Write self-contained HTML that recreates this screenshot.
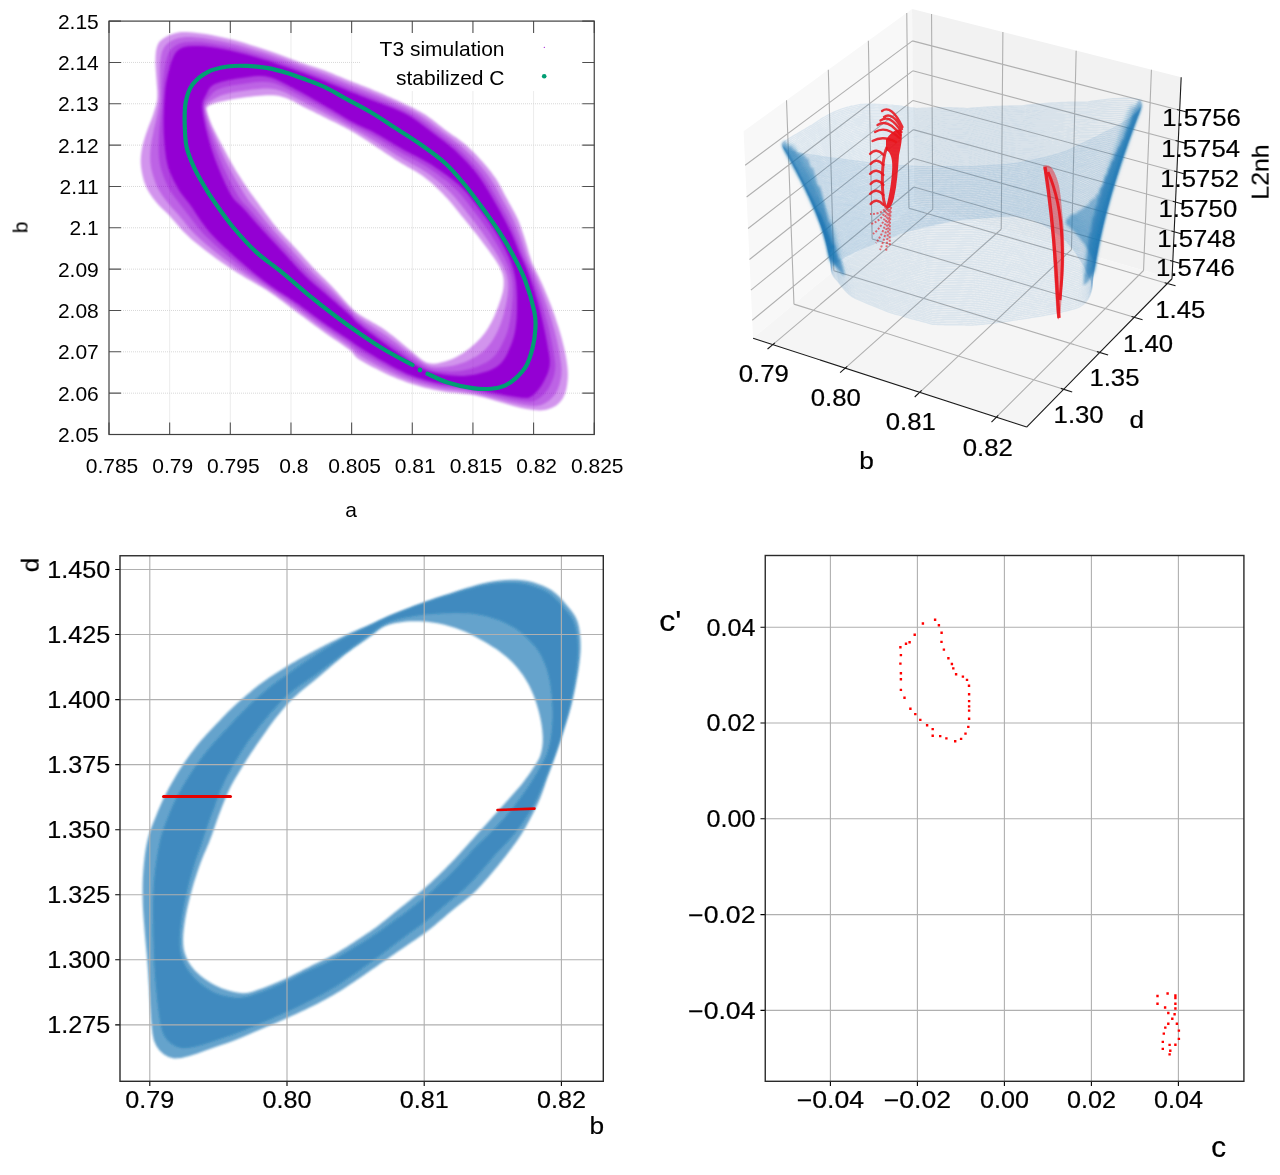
<!DOCTYPE html>
<html><head><meta charset="utf-8"><style>
html,body{margin:0;padding:0;background:#fff;}
svg{display:block;}
text{font-family:"Liberation Sans",sans-serif;}
</style></head><body>
<svg width="1280" height="1175" viewBox="0 0 1280 1175">
<defs>
<filter id="soft" x="0" y="0" width="1280" height="1175" filterUnits="userSpaceOnUse"><feGaussianBlur stdDeviation="0.45"/></filter>
<filter id="blur1" x="-5%" y="-5%" width="110%" height="110%"><feGaussianBlur stdDeviation="1.2"/></filter>
<filter id="blur3" x="-5%" y="-5%" width="110%" height="110%"><feGaussianBlur stdDeviation="2.2"/></filter>
<filter id="blur2" x="-5%" y="-5%" width="110%" height="110%"><feGaussianBlur stdDeviation="1.3"/></filter>
</defs>
<rect width="1280" height="1175" fill="#fff"/>
<g filter="url(#soft)">
<g id="p1">
<path d="M121,393.16H582.25M121,351.82H582.25M121,310.48H582.25M121,269.14H582.25M121,227.8H582.25M121,186.46H582.25M121,145.12H582.25M121,103.78H582.25M121,62.44H360M169.66,422.5V33.1M230.31,422.5V33.1M290.97,422.5V33.1M351.63,422.5V33.1M412.28,422.5V91M472.94,422.5V91M533.59,422.5V91" stroke="#d8d8d8" stroke-width="1" stroke-dasharray="1 1" fill="none"/>
<path d="M175 222l-2.7-3.1-2.9-3.3-3.3-3.3-3.8-3.6-3.7-3.6-3.2-3.8-2.9-3.8-2.7-3.9-2.4-4-1.8-4-1.5-4-1.1-4-.9-4.1-.7-4-.5-4.1-.2-4 .1-4 .4-3.9 .6-3.9 .7-3.8 1-3.9 1.1-3.7 1.2-3.7 1.3-3.7 1.3-3.7 1.4-3.7 1.5-3.7 1.4-3.7 1.2-3.8 1.2-3.9 1.1-3.9 .9-4.2 .3-4.6-.1-4.9-.4-5.3-.4-5.5-.4-5.5-.4-5.7-.3-5.9 .1-5.7 .4-5.6 1.1-5.1 2.1-4.3 3.5-3 4-2.5 4.4-2 4.8-1.5 5.2-1 5.9 0 6.2 .5 6.1 .7 6 .8 6 1 5.8 1.1 5.8 1.2 5.6 1.3 5.5 1.4 5.4 1.5 5.2 1.5 5.1 1.6 5 1.6 4.8 1.5 4.6 1.5 4.5 1.5 4.4 1.5 4.2 1.4 4.1 1.5 4 1.5 3.9 1.5 3.8 1.5 3.7 1.4 3.5 1.3 3.5 1.2 3.3 1.1 3.2 1 3.2 1 3.1 1 3 1 3 1.1 2.9 1 2.9 1.1 2.9 1.2 2.8 1.1 2.7 1.2 2.7 1.1 2.6 1.1 2.6 1.1 2.5 1.1 2.5 1 2.5 1 2.4 .9 2.4 .9 2.4 .9 2.4 .9 2.3 .9 2.3 .9 2.2 .9 2.3 .9 2.2 1 2.2 .9 2.2 .9 2.2 .9 2.1 .9 2.2 .9 2.1 .9 2.1 1 2.1 .9 2.1 .9 2.1 1 2.1 .9 2 1 2.1 .9 2 1 2.1 .9 2 1 2.1 .9 2 1 2 1 2 1 2 1.1 2 1 2 1.1 2 1.2 1.9 1.1 1.9 1.3 1.9 1.3 1.8 1.3 1.9 1.3 1.8 1.4 1.7 1.4 1.8 1.4 1.8 1.5 1.8 1.4 1.8 1.4 1.8 1.4 1.8 1.4 1.9 1.4 2 1.3 1.9 1.4 2 1.4 2 1.3 2 1.5 1.9 1.4 2 1.5 2 1.5 1.8 1.6 1.9 1.7 1.9 1.7 1.8 1.7 1.8 1.8 1.8 1.8 1.7 1.8 1.8 1.9 1.7 1.9 1.8 1.9 1.7 2 1.7 2 1.8 2 1.7 2.1 1.7 2.1 1.6 2.2 1.6 2.2 1.6 2.2 1.5 2.3 1.4 2.4 1.3 2.4 1.3 2.4 1.3 2.5 1.2 2.4 1.3 2.6 1.4 2.5 1.4 2.5 1.4 2.6 1.5 2.6 1.5 2.7 1.5 2.7 1.5 2.8 1.4 2.8 1.3 2.8 1.3 2.9 1.1 2.9 1.1 3 1 3 1 3.1 1 3.1 1 3.1 1 3.2 .9 3.2 .9 3.3 .9 3.3 1.1 3.4 1.1 3.5 1.4 3.6 1.7 3.7 1.8 3.9 2 4 2 4.2 2 4.2 1.9 4.4 1.8 4.4 1.9 4.6 1.9 4.7 1.9 4.8 1.8 5 1.8 5 1.7 5.3 1.8 5.3 1.6 5.5 1.6 5.5 1.4 5.7 1.4 5.8 1.2 5.8 1 6 .8 5.9 .4 5.8-.1 5.6-.6 5.4-.9 5.2-1.5 4.9-2.2 4.4-2.9 3.8-3.7 3.2-4.5 2.3-5.1 1.7-6 .7-6.8-.4-7.2-1-7.4-1.5-7.4-1.9-7.5-2.3-7-2.1-6.6-1.9-6.2-1.7-5.7-1.4-5.4-1.1-4.9-.8-4.7-.5-4.6-.5-4.3-.5-4.3-.4-4.2-.5-4.2-.6-4.1-.7-4.1-.9-4-.9-4-.9-3.8-1-3.8-1.1-3.7-1.1-3.7-1.2-3.6-1.1-3.5-1.3-3.4-1.3-3.4-1.3-3.3-1.4-3.3-1.4-3.2-1.5-3.1-1.4-3-1.5-2.9-1.5-2.9-1.5-2.8-1.4-2.8-1.5-2.7-1.4-2.6-1.5-2.6-1.5-2.5-1.5-2.5-1.7-2.4-2.6-2.3-3.2-2.2-1.9-2.2-1.7-2.1-1.5-2.1-1.5-2.1-1.4-2-1.4-1.9-1.3-2-1.3-1.9-1.3-1.9-1.3-1.8-1.2-1.8-1.3-1.8-1.2-1.7-1.2-1.8-1.3-1.7-1.2-1.6-1.2-1.7-1.2-1.6-1.2-1.7-1.2-1.6-1.2-1.5-1.1-1.6-1.2-1.6-1.2-1.5-1.1-1.5-1.1-1.6-1.2-1.5-1.1-1.5-1.1-1.5-1.1-1.5-1.1-1.5-1.1-1.5-1.1-1.4-1.1-1.5-1.1-1.5-1.1-1.4-1.1-1.5-1.1-1.5-1.2-1.4-1.1-1.5-1.1-1.5-1.1-1.5-1.1-1.5-1.1-1.5-1.1-1.5-1.1-1.6-1.1-1.5-1.1-1.6-1.1-1.7-1.1-1.6-1.1-1.7-1.1-1.8-1.1-1.7-1.1-1.9-1-1.9-1.1-1.9-1.1-1.9-1.2-2-1.1-2-1.2-2.1-1.2-2.1-1.2-2.1-1.3-2.1-1.3-2.2-1.3-2.2-1.4-2.2-1.5-2.3-1.4-2.3-1.5-2.4-1.6-2.4-1.6-2.4-1.6-2.5-1.7-2.5-1.8-2.6-1.8-2.5-1.9-2.7-1.9-2.7-2-2.7-2.1-2.8-2.2-2.8-2.2-2.9-2.3-2.9-2.4-2.9-2.5-2.9-2.6-2.8-2.7-2.7-2.7-2.6-2.9-2.6-3zM272.1 222l-1.1-1.4-1.1-1.5-1.1-1.5-1.1-1.5-1.2-1.6-1.2-1.6-1.2-1.7-1.3-1.7-1.4-1.8-1.4-1.9-1.4-2-1.5-2-1.5-2.1-1.6-2.1-1.7-2.3-1.7-2.4-1.7-2.4-1.7-2.6-1.8-2.6-1.9-2.8-1.9-2.9-1.9-3-2-3.1-2-3.3-2-3.4-2.1-3.5-2-3.7-2.1-3.8-2.1-4-2.2-4.2-2.3-4.4-2.5-4.7-2.5-4.9-2.5-5.1-2.4-5.2-2-5.2-1.6-5.1-1.1-4.8 2.1-2.5 3.3-1.4 3.5-1.2 3.7-1 3.6-.8 3.7-.8 3.6-.7 3.6-.7 3.5-.5 3.5-.6 3.4-.5 3.4-.4 3.3-.4 3.3-.4 3.2-.3 3.2-.3 3.2-.3 3.1-.2 3.1 0 3.2 .1 3.2 .2 3.3 .5 3.4 .9 3.4 1.1 3.5 1.5 3.5 1.6 3.4 1.8 3.3 1.8 3.1 1.7 3 1.6 2.9 1.4 2.7 1.4 2.7 1.3 2.5 1.3 2.5 1.2 2.4 1.2 2.3 1.2 2.2 1.1 2.2 1.1 2.1 1 2 1 2 .9 1.9 1 1.9 .9 1.9 .9 1.8 1 1.8 .9 1.7 .9 1.7 1 1.7 .9 1.6 .9 1.6 .9 1.6 .9 1.5 .9 1.5 .9 1.5 .9 1.4 .9 1.5 .9 1.4 .9 1.3 .9 1.4 .8 1.3 .9 1.3 .8 1.3 .9 1.3 .8 1.2 .9 1.3 .8 1.2 .8 1.2 .8 1.2 .8 1.2 .8 1.1 .8 1.2 .8 1.2 .8 1.1 .7 1.1 .8 1.2 .8 1.1 .7 1.1 .8 1.1 .7 1.1 .7 1.2 .8 1.1 .7 1.1 .7 1.1 .8 1.1 .7 1.1 .7 1.1 .7 1.2 .7 1.1 .7 1.1 .7 1.2 .7 1.2 .7 1.2 .7 1.2 .7 1.2 .7 1.2 .7 1.3 .7 1.2 .7 1.3 .7 1.3 .7 1.3 .7 1.3 .8 1.3 .8 1.3 .8 1.3 .8 1.3 .8 1.3 .9 1.3 .9 1.3 .9 1.3 1 1.2 1 1.3 1 1.3 1.1 1.2 1 1.3 1.1 1.3 1.1 1.2 1.2 1.3 1.2 1.2 1.2 1.3 1.2 1.3 1.2 1.2 1.3 1.3 1.3 1.3 1.3 1.3 1.4 1.4 1.4 1.3 1.4 1.3 1.4 1.3 1.5 1.3 1.6 1.3 1.5 1.3 1.6 1.4 1.6 1.3 1.7 1.3 1.7 1.4 1.7 1.4 1.8 1.5 1.8 1.5 1.9 1.6 1.9 1.6 2 1.6 2 1.7 2.1 1.7 2.2 1.8 2.2 1.8 2.3 1.9 2.3 1.9 2.5 1.9 2.5 2 2.6 2.1 2.8 2.1 2.8 2.2 2.9 2.1 3 2.2 3.1 2.1 3.2 2 3.3 1.9 3.3 1.6 3.4 1.3 3.3 .8 3.3 .4 3.1 0 3.1-.1 3.1-.4 2.9-.5 3-.8 2.8-.8 2.9-.9 2.8-1 2.8-1 2.8-1.1 2.8-1.1 2.8-1.1 2.8-1.2 2.7-1.3 2.8-1.4 2.7-1.5 2.6-1.5 2.6-1.7 2.6-1.7 2.4-1.9 2.4-2 2.3-2 2.2-2.2 2.1-2.2 2.1-2.3 2-2.3 1.9-2.4 1.8-2.4 1.8-2.5 1.7-2.6 1.6-2.6 1.5-2.8 1.3-2.7 1.3-2.9 1.1-2.9 .9-2.9 .9-3 .7-3.1 .6-3.1 .3-3.3-.1-3.7-.9-4.2-2.2-5-4-4.9-4.3-4.3-3.5-4-3.3-3.8-3.1-3.6-3-3.3-2.7-3.1-2.4-2.9-2.2-2.7-2-2.5-1.7-2.4-1.5-2.3-1.4-2.2-1.3-2.2-1.2-2-1.2-2-1.1-2-1.1-1.9-1.1-1.8-1.1-1.8-1.1-1.8-1.1-1.7-1.2-1.6-1.2-1.7-1.3-1.6-1.4-1.5-1.6-1.5-1.6-1.4-1.4-1.4-1.5-1.3-1.4-1.3-1.4-1.3-1.4-1.2-1.4-1.1-1.3-1.2-1.3-1.1-1.2-1.1-1.2-1-1.2-1-1.1-1-1.1-1-1.1-1-1-.9-1-.9-1-.9-.9-.9-1-.9-.9-.9-.8-.9-.9-.8-.8-.9-.9-.8-.8-.8-.8-.9-.8-.8-.8-.8-.8-.8-.7-.7-.8-.8-.8-.8-.8-.8-.7-.7-.8-.8-.7-.7-.8-.7-.8-.8-.7-.7-.8-.7-.8-.7-.7-.7-.8-.7-.8-.7-.7-.7-.8-.7-.8-.7-.7-.7-.8-.7-.8-.7-.8-.7-.7-.7-.8-.7-.8-.7-.8-.7-.8-.7-.8-.7-.8-.8-.8-.7-.8-.7-.8-.8-.8-.7-.9-.8-.8-.8-.8-.8-.9-.7-.9-.9-.8-.8-.9-.8-.9-.9-.9-.9-1-.8-.9-.9-1-1-.9-.9-1-.9-1-1-1.1-1-1.1-1-1-1-1.2-1-1.1-1-1.2-1.1-1.2-1-1.2-1.1-1.3-1-1.3-1.1-1.3z" fill="#9400d3" fill-opacity="0.42" fill-rule="evenodd" filter="url(#blur1)"/>
<path d="M184.4 222l-2.5-3-2.5-3-2.8-3.2-3.1-3.3-3.1-3.4-2.8-3.5-2.8-3.6-2.7-3.7-2.4-3.8-2.1-3.8-1.6-3.8-1.5-3.9-1.3-3.9-1.1-3.9-.9-4-.6-4-.4-3.9 0-3.9 .1-3.9 .3-3.8 .4-3.8 .6-3.9 .7-3.8 .8-3.8 .7-3.8 .9-3.8 .9-3.9 .9-3.9 .8-3.9 .8-4 .8-4.1 .6-4.3 .4-4.5 0-4.8-.1-5-.1-5.1 0-5.2 .1-5.3 .1-5.4 .4-5.2 .7-5.2 1.2-4.9 2-4.2 3.1-3.3 3.7-2.6 4.3-2 4.8-1.3 5.3-.7 5.8 0 5.9 .4 5.9 .6 6 .9 5.8 1 5.7 1.1 5.6 1.2 5.4 1.2 5.4 1.4 5.3 1.4 5.1 1.5 4.9 1.5 4.8 1.5 4.7 1.4 4.5 1.5 4.4 1.5 4.2 1.4 4.1 1.4 4.1 1.4 3.8 1.4 3.8 1.5 3.7 1.3 3.6 1.3 3.4 1.3 3.4 1.2 3.3 1.1 3.1 1.1 3.1 1.1 3.1 1 3 1.1 2.9 1 2.8 1.1 2.9 1.1 2.7 1.2 2.7 1.1 2.7 1.1 2.6 1.1 2.6 1.1 2.5 1 2.5 1 2.4 1 2.4 1 2.4 .9 2.3 .9 2.3 .9 2.3 .9 2.3 .8 2.2 .9 2.2 .9 2.2 .9 2.2 .9 2.1 .8 2.1 .9 2.2 .9 2.1 .8 2.1 .9 2.1 .8 2 .9 2.1 .8 2 .9 2.1 .9 2 .9 2 .9 2.1 .9 2 .9 2 .9 2 1 1.9 .9 2 1 2 1 1.9 1 2 1.1 1.9 1.1 1.9 1.1 1.9 1.2 1.8 1.2 1.8 1.2 1.8 1.3 1.8 1.3 1.8 1.3 1.7 1.4 1.8 1.3 1.7 1.4 1.7 1.4 1.8 1.3 1.8 1.4 1.7 1.4 1.9 1.3 1.8 1.3 1.8 1.4 1.9 1.3 1.9 1.4 1.9 1.4 1.9 1.4 1.8 1.4 1.9 1.5 1.9 1.5 1.8 1.6 1.8 1.6 1.7 1.7 1.8 1.7 1.7 1.7 1.8 1.7 1.7 1.8 1.7 1.8 1.7 1.9 1.7 1.9 1.6 1.9 1.7 1.9 1.7 2 1.6 2 1.6 2.1 1.6 2.1 1.5 2.1 1.5 2.2 1.5 2.2 1.4 2.3 1.3 2.3 1.3 2.3 1.3 2.4 1.3 2.4 1.3 2.4 1.3 2.5 1.4 2.5 1.4 2.5 1.5 2.5 1.4 2.6 1.5 2.6 1.4 2.7 1.4 2.7 1.4 2.8 1.3 2.8 1.2 2.9 1.2 2.9 1.1 2.9 1.2 3 1.1 3 1.1 3.1 1 3.1 1 3.2 1 3.2 1.1 3.3 1.2 3.3 1.3 3.5 1.4 3.5 1.7 3.7 1.7 3.8 1.8 3.9 1.8 4 1.7 4.2 1.7 4.1 1.7 4.3 1.7 4.5 1.7 4.5 1.6 4.6 1.6 4.8 1.6 4.9 1.6 4.9 1.5 5.2 1.5 5.2 1.4 5.3 1.3 5.5 1.2 5.5 1.1 5.7 1 5.7 .9 5.8 .5 5.8-.1 5.4-.8 5.1-1.1 4.9-1.6 4.6-2.1 4.3-2.8 3.7-3.3 3.3-3.9 2.7-4.5 2.1-5.3 1.2-6.7-.4-7-1-7.1-1.4-7.1-1.6-7-1.9-6.7-1.8-6.2-1.6-6-1.5-5.6-1.3-5.3-1-4.9-.9-4.7-.6-4.5-.6-4.3-.5-4.3-.4-4.1-.6-4.1-.6-4.1-.8-4-.8-4-1-3.9-1-3.8-1.1-3.8-1.1-3.7-1.2-3.6-1.2-3.6-1.4-3.5-1.4-3.4-1.4-3.4-1.5-3.2-1.5-3.2-1.5-3.1-1.5-3.1-1.5-2.9-1.6-2.9-1.5-2.8-1.5-2.8-1.5-2.6-1.5-2.7-1.5-2.5-1.5-2.5-1.4-2.4-1.5-2.4-1.7-2.3-2.2-2.3-2.7-2.2-1.7-2.1-1.6-2.1-1.4-2-1.4-2-1.4-2-1.3-1.9-1.3-1.9-1.3-1.8-1.2-1.8-1.2-1.8-1.3-1.8-1.2-1.8-1.2-1.7-1.1-1.7-1.2-1.6-1.2-1.7-1.2-1.6-1.2-1.6-1.1-1.6-1.2-1.5-1.1-1.6-1.2-1.5-1.1-1.5-1.1-1.5-1.2-1.5-1.1-1.5-1.1-1.5-1.1-1.4-1.1-1.5-1.1-1.5-1-1.4-1.1-1.5-1.1-1.4-1-1.5-1.1-1.4-1.1-1.5-1-1.4-1.1-1.5-1-1.4-1.1-1.5-1-1.5-1.1-1.5-1-1.5-1.1-1.5-1-1.5-1.1-1.5-1-1.6-1.1-1.6-1.1-1.6-1.1-1.6-1-1.6-1.1-1.7-1.1-1.7-1.1-1.7-1.1-1.8-1.1-1.8-1.2-1.8-1.1-1.8-1.2-1.9-1.2-1.9-1.2-1.9-1.3-2-1.3-1.9-1.3-2-1.4-2-1.4-2.1-1.4-2-1.4-2.2-1.5-2.1-1.6-2.2-1.6-2.2-1.6-2.3-1.7-2.3-1.7-2.3-1.8-2.3-1.8-2.4-1.9-2.5-2-2.5-2-2.5-2.1-2.6-2.1-2.6-2.2-2.6-2.3-2.7-2.4-2.6-2.5-2.5-2.5-2.5-2.7-2.4-2.7-2.3-2.8zM266.3 222l-1.3-1.5-1.2-1.6-1.3-1.6-1.4-1.7-1.3-1.7-1.4-1.7-1.5-1.9-1.6-1.9-1.8-2-1.9-2.1-1.7-2.1-1.6-2.2-1.5-2.3-1.5-2.3-1.6-2.4-1.5-2.5-1.6-2.6-1.6-2.6-1.6-2.8-1.7-2.8-1.7-3-1.7-3.1-1.7-3.1-1.8-3.4-1.8-3.4-1.8-3.5-1.7-3.7-1.8-3.8-1.8-3.9-1.8-4.1-1.9-4.3-1.9-4.5-2-4.6-2-4.9-1.8-4.9-1.6-4.9-1.3-4.9-.7-4.6 1.6-2.9 2.6-2.1 2.9-1.8 2.9-1.8 2.9-1.6 3.2-1.4 3.4-1.1 3.5-.9 3.5-.8 3.6-.7 3.5-.6 3.5-.5 3.5-.5 3.4-.4 3.3-.4 3.3-.4 3.3-.3 3.2-.3 3.3-.1 3.3 .1 3.4 .2 3.4 .5 3.6 1 3.6 1.2 3.7 1.6 3.7 1.9 3.7 1.9 3.4 1.8 3.3 1.8 3.2 1.6 3 1.6 2.9 1.5 2.8 1.5 2.7 1.4 2.6 1.4 2.5 1.3 2.4 1.3 2.4 1.2 2.3 1.2 2.2 1.2 2.2 1.1 2 1.1 2.1 1.1 2 1.1 1.9 1 1.9 1.1 1.9 1 1.8 1 1.7 1 1.8 1 1.6 .9 1.7 1 1.6 .9 1.6 .9 1.6 .8 1.5 .9 1.5 .8 1.5 .9 1.5 .8 1.4 .8 1.5 .8 1.4 .8 1.4 .9 1.3 .8 1.4 .8 1.3 .8 1.3 .8 1.3 .8 1.3 .8 1.3 .8 1.2 .8 1.3 .8 1.2 .8 1.2 .8 1.2 .8 1.2 .8 1.2 .8 1.2 .7 1.2 .8 1.2 .8 1.2 .7 1.2 .8 1.2 .7 1.2 .8 1.2 .7 1.1 .8 1.2 .7 1.3 .7 1.2 .7 1.2 .8 1.2 .7 1.3 .7 1.3 .7 1.3 .7 1.2 .7 1.4 .7 1.3 .7 1.3 .7 1.4 .8 1.3 .7 1.4 .8 1.4 .8 1.4 .8 1.4 .8 1.3 .8 1.4 .9 1.4 .9 1.4 .9 1.4 1 1.4 1 1.4 1 1.4 1 1.4 1.1 1.4 1.1 1.4 1.1 1.4 1.1 1.4 1.2 1.4 1.2 1.4 1.2 1.4 1.2 1.5 1.3 1.4 1.3 1.4 1.4 1.5 1.4 1.4 1.4 1.4 1.4 1.4 1.5 1.4 1.5 1.4 1.6 1.3 1.6 1.4 1.7 1.3 1.6 1.4 1.8 1.3 1.7 1.4 1.8 1.5 1.8 1.4 1.9 1.5 1.9 1.5 1.9 1.6 2 1.6 2.1 1.7 2.1 1.6 2.2 1.7 2.2 1.7 2.3 1.7 2.3 1.8 2.5 1.7 2.4 1.8 2.6 1.9 2.7 1.8 2.7 1.9 2.8 1.9 2.9 1.9 3 1.9 3 1.8 3.2 1.8 3.2 1.8 3.3 1.5 3.4 1.3 3.3 1.1 3.4 .7 3.3 .4 3.2 .1 3.2 0 3.2-.2 3.2-.3 3.1-.5 3.1-.5 3.1-.6 3.1-.7 3.1-.7 3.1-.8 3.2-.9 3.1-.9 3.1-1 3.1-1.1 3-1.3 3-1.3 2.9-1.5 2.9-1.6 2.9-1.6 2.7-1.8 2.7-2 2.6-2.1 2.4-2.2 2.3-2.4 2.2-2.6 1.9-2.7 1.8-2.8 1.7-2.9 1.5-2.9 1.5-3 1.3-3.1 1.2-3.1 1-3.2 .9-3.2 .8-3.3 .5-3.4 .5-3.4 .3-3.3 .2-3.4 0-3.6-.4-3.7-.9-4.2-1.9-4.6-3.1-4.6-3.4-4.2-3.1-4.1-3.1-3.8-3-3.7-2.9-3.4-2.7-3.2-2.4-3.1-2.2-2.8-2.1-2.7-1.9-2.6-1.7-2.4-1.6-2.4-1.5-2.3-1.4-2.2-1.4-2.1-1.4-2.1-1.3-2-1.2-1.9-1.3-1.9-1.3-1.8-1.2-1.8-1.3-1.8-1.4-1.7-1.4-1.6-1.6-1.6-1.7-1.5-1.6-1.5-1.4-1.5-1.5-1.3-1.4-1.4-1.4-1.3-1.3-1.3-1.3-1.2-1.3-1.2-1.2-1.2-1.2-1.1-1.2-1.1-1.1-1.1-1.1-1.1-1.1-1-1.1-1.1-1-1-1-1-1-1-.9-.9-.9-1-.9-.9-.9-1-.9-.9-.9-.9-.8-.9-.9-.9-.8-.9-.8-.8-.8-.9-.8-.9-.8-.8-.8-.9-.8-.8-.8-.8-.8-.8-.8-.9-.8-.8-.8-.8-.8-.7-.8-.8-.8-.8-.8-.8-.8-.7-.8-.8-.8-.8-.8-.7-.8-.8-.8-.7-.9-.8-.8-.7-.8-.8-.8-.7-.8-.8-.9-.7-.8-.8-.9-.7-.8-.8-.9-.8-.8-.7-.9-.8-.8-.8-.9-.8-.9-.8-.9-.8-.9-.9-.9-.8-.9-.8-.9-.9-.9-.9-1-.9-.9-.9-1-.9-1-1-1-.9-1-1-1.1-1-1.1-1-1-1.1-1.2-1-1.1-1.1-1.2-1.1-1.2-1.1-1.2-1.1-1.2-1.1-1.3-1.2-1.3-1.1-1.4-1.2-1.4-1.2-1.4z" fill="#9400d3" fill-opacity="0.33" fill-rule="evenodd" filter="url(#blur1)"/>
<path d="M193.7 222l-2.1-2.8-2.2-2.9-2.3-2.9-2.4-3.1-2.4-3.1-2.5-3.3-2.6-3.4-2.7-3.4-2.6-3.6-2.2-3.6-1.9-3.7-1.8-3.7-1.6-3.8-1.5-3.9-1.3-3.8-1.1-3.9-.8-3.9-.5-3.9-.4-3.8-.1-3.9-.1-3.8 .1-3.9 .1-3.9 .2-3.9 .2-4 .3-4 .4-4 .4-4 .4-4.1 .5-4.2 .4-4.2 .4-4.3 .3-4.5 .2-4.6 .1-4.8 .3-4.8 .3-4.8 .6-4.9 .6-4.8 .8-4.9 1-4.8 1.3-4.5 1.9-4.2 2.6-3.5 3.4-2.8 4.2-1.9 4.9-1.2 5.3-.4 5.6-.1 5.7 .3 5.8 .7 5.8 .9 5.7 1 5.6 1.1 5.4 1.1 5.3 1.2 5.2 1.3 5.1 1.4 5 1.5 4.8 1.4 4.7 1.4 4.5 1.4 4.4 1.4 4.3 1.4 4.1 1.4 4 1.4 3.9 1.4 3.8 1.3 3.7 1.3 3.5 1.3 3.5 1.2 3.4 1.3 3.2 1.1 3.2 1.2 3.2 1.1 3 1.1 3 1.1 2.9 1.1 2.9 1.1 2.8 1.1 2.7 1.1 2.7 1.2 2.6 1.1 2.6 1 2.6 1.1 2.4 1 2.5 1 2.4 1 2.4 1 2.3 .9 2.3 .9 2.3 .9 2.2 .9 2.2 .8 2.2 .9 2.2 .8 2.2 .9 2.1 .8 2.1 .9 2.1 .8 2.1 .8 2.1 .8 2 .8 2.1 .8 2 .8 2 .8 2.1 .8 2 .8 2 .8 2 .9 2 .8 1.9 .9 2 .8 2 .9 1.9 .9 1.9 1 2 1 1.9 1 1.8 1.1 1.9 1 1.8 1.2 1.8 1.1 1.8 1.2 1.8 1.2 1.7 1.2 1.8 1.3 1.7 1.3 1.7 1.3 1.7 1.3 1.7 1.3 1.7 1.4 1.7 1.3 1.7 1.3 1.8 1.3 1.7 1.3 1.8 1.3 1.7 1.3 1.8 1.4 1.8 1.3 1.8 1.4 1.8 1.3 1.8 1.4 1.8 1.5 1.7 1.4 1.8 1.5 1.7 1.6 1.7 1.6 1.7 1.6 1.7 1.6 1.7 1.7 1.7 1.7 1.6 1.7 1.7 1.8 1.6 1.8 1.6 1.8 1.7 1.9 1.6 1.8 1.6 2 1.5 1.9 1.6 2 1.5 2.1 1.4 2 1.5 2.2 1.4 2.1 1.3 2.2 1.4 2.2 1.3 2.3 1.3 2.3 1.3 2.3 1.3 2.3 1.3 2.4 1.4 2.4 1.4 2.4 1.4 2.5 1.4 2.5 1.4 2.6 1.5 2.5 1.4 2.7 1.3 2.7 1.4 2.7 1.3 2.8 1.3 2.8 1.3 2.9 1.2 2.9 1.2 3 1.2 3 1.1 3 1.1 3.1 1.2 3.2 1.2 3.3 1.3 3.3 1.4 3.4 1.6 3.5 1.6 3.6 1.6 3.7 1.6 3.8 1.5 3.9 1.6 4 1.5 4 1.5 4.2 1.5 4.2 1.5 4.4 1.4 4.4 1.4 4.6 1.4 4.7 1.3 4.7 1.3 4.9 1.3 5 1.3 5.2 1.1 5.2 1.1 5.3 1.1 5.5 .9 5.5 1 5.7 .6 5.7-.2 5.2-.8 4.8-1.4 4.6-1.7 4.3-2.1 4.1-2.5 3.7-2.9 3.5-3.4 3-3.9 2.5-4.7 1.6-6.5-.3-6.8-.9-6.8-1.3-6.7-1.4-6.6-1.5-6.3-1.4-6-1.3-5.7-1.3-5.5-1.2-5.2-1.1-4.9-.9-4.7-.8-4.4-.6-4.3-.5-4.2-.5-4.1-.5-4.1-.7-4-.8-4-.9-3.9-1-3.9-1-3.8-1.2-3.7-1.2-3.7-1.3-3.6-1.3-3.5-1.5-3.5-1.5-3.4-1.6-3.3-1.6-3.2-1.6-3.2-1.6-3-1.6-3-1.6-2.9-1.6-2.8-1.6-2.7-1.6-2.7-1.5-2.6-1.5-2.5-1.5-2.5-1.5-2.4-1.5-2.4-1.5-2.3-1.5-2.2-2-2.2-2-2.1-1.6-2.1-1.5-2-1.4-2-1.3-1.9-1.3-1.9-1.2-1.9-1.3-1.9-1.2-1.8-1.2-1.7-1.2-1.8-1.2-1.7-1.1-1.7-1.2-1.7-1.1-1.6-1.2-1.7-1.1-1.6-1.2-1.6-1.1-1.5-1.1-1.6-1.2-1.5-1.1-1.5-1.1-1.5-1.1-1.5-1.1-1.4-1.1-1.5-1.1-1.4-1.1-1.5-1.1-1.4-1-1.4-1.1-1.4-1-1.4-1.1-1.5-1-1.4-1-1.4-1.1-1.4-1-1.5-1-1.4-1-1.5-1-1.4-1-1.5-1-1.5-1-1.4-1-1.5-.9-1.5-1.1-1.6-1-1.5-1-1.5-1-1.6-1.1-1.5-1-1.6-1.1-1.6-1.1-1.6-1.1-1.6-1.1-1.6-1.1-1.7-1.1-1.7-1.2-1.6-1.2-1.7-1.2-1.8-1.2-1.7-1.3-1.8-1.3-1.7-1.3-1.8-1.3-1.8-1.4-1.9-1.4-1.8-1.4-1.9-1.5-1.9-1.5-2-1.5-2-1.6-2-1.6-2-1.6-2-1.7-2.1-1.8-2.2-1.8-2.1-1.8-2.2-1.9-2.3-2-2.2-2-2.3-2-2.4-2.2-2.4-2.2-2.3-2.2-2.4-2.4-2.3-2.4-2.2-2.5-2.1-2.6-2.1-2.7zM260.4 222l-1.4-1.6-1.4-1.7-1.5-1.7-1.5-1.8-1.5-1.9-1.7-1.9-1.6-2-1.9-2-2.2-2.2-2.5-2.4-2-2.3-1.6-2.4-1.6-2.4-1.4-2.5-1.5-2.5-1.4-2.6-1.5-2.7-1.4-2.8-1.5-2.8-1.4-3-1.5-3-1.5-3.2-1.5-3.2-1.5-3.3-1.5-3.5-1.5-3.5-1.5-3.7-1.5-3.8-1.4-3.8-1.5-4-1.4-4.2-1.5-4.3-1.5-4.4-1.4-4.6-1.3-4.6-1.2-4.7-.8-4.6-.4-4.4 1.1-3.4 1.9-2.7 2.3-2.4 2.1-2.6 2.2-2.4 2.7-2 3.2-1.5 3.4-1.2 3.6-1 3.6-.8 3.6-.7 3.6-.6 3.6-.5 3.5-.5 3.5-.5 3.4-.5 3.4-.4 3.4-.3 3.4-.2 3.4 0 3.5 .3 3.6 .5 3.8 1 3.9 1.4 3.9 1.8 3.9 2 3.8 2 3.6 1.9 3.5 1.8 3.3 1.7 3.2 1.7 3 1.7 3 1.6 2.9 1.6 2.7 1.5 2.7 1.5 2.5 1.4 2.5 1.4 2.4 1.3 2.3 1.3 2.3 1.3 2.2 1.2 2.1 1.3 2.1 1.2 2 1.1 2 1.2 1.9 1.1 1.9 1.1 1.8 1.1 1.8 1 1.8 1 1.7 .9 1.7 .9 1.6 .9 1.7 .8 1.6 .8 1.5 .8 1.6 .8 1.5 .8 1.6 .8 1.4 .7 1.5 .8 1.5 .8 1.4 .8 1.5 .7 1.4 .8 1.3 .8 1.4 .8 1.4 .8 1.3 .8 1.4 .9 1.3 .8 1.3 .8 1.3 .8 1.3 .8 1.2 .8 1.3 .8 1.3 .8 1.2 .7 1.3 .8 1.3 .8 1.2 .8 1.3 .7 1.3 .8 1.2 .8 1.3 .7 1.3 .8 1.3 .7 1.3 .7 1.3 .8 1.3 .7 1.4 .7 1.3 .7 1.4 .8 1.4 .7 1.4 .7 1.4 .8 1.5 .7 1.4 .8 1.5 .8 1.4 .8 1.5 .8 1.5 .8 1.4 .9 1.5 .9 1.5 1 1.4 .9 1.5 1 1.5 1 1.5 1 1.5 1 1.5 1.1 1.5 1.1 1.6 1.1 1.5 1.2 1.6 1.2 1.5 1.2 1.6 1.2 1.6 1.3 1.6 1.3 1.5 1.3 1.6 1.4 1.6 1.4 1.6 1.5 1.5 1.5 1.5 1.6 1.5 1.6 1.5 1.6 1.4 1.7 1.4 1.7 1.4 1.8 1.4 1.8 1.4 1.8 1.4 1.9 1.5 1.9 1.5 1.9 1.5 2 1.6 2.1 1.6 2 1.6 2.2 1.7 2.2 1.6 2.2 1.7 2.3 1.7 2.4 1.7 2.4 1.7 2.5 1.7 2.5 1.6 2.6 1.7 2.7 1.7 2.8 1.7 2.8 1.7 2.9 1.7 3 1.7 3.1 1.6 3.1 1.5 3.2 1.5 3.2 1.4 3.3 1.2 3.4 1.1 3.4 .8 3.3 .6 3.4 .4 3.3 .2 3.3 .1 3.4 0 3.3-.1 3.3-.2 3.4-.3 3.3-.3 3.4-.3 3.4-.5 3.5-.5 3.4-.6 3.4-.7 3.5-.8 3.4-.9 3.3-1.1 3.3-1.3 3.3-1.4 3.1-1.5 3.1-1.5 3.1-1.8 3-1.9 2.9-2.1 2.7-2.3 2.4-2.7 2.2-2.9 1.9-3.1 1.7-3.2 1.5-3.3 1.3-3.3 1.2-3.4 1-3.5 1-3.5 .7-3.6 .6-3.7 .3-3.7 .2-3.7 0-3.8-.1-3.7-.2-3.7-.3-3.7-.6-3.9-.9-4-1.6-4.3-2.2-4.3-2.6-4.1-2.7-4.1-2.8-4-2.9-3.7-2.8-3.6-2.6-3.3-2.5-3.1-2.2-3-2.2-2.9-2-2.7-1.9-2.7-1.8-2.5-1.8-2.4-1.7-2.3-1.6-2.3-1.5-2.2-1.5-2.1-1.5-2-1.4-2-1.5-1.9-1.4-1.9-1.4-1.8-1.4-1.7-1.5-1.8-1.8-1.6-1.9-1.6-1.6-1.5-1.5-1.5-1.4-1.5-1.3-1.4-1.4-1.3-1.3-1.4-1.2-1.3-1.2-1.2-1.2-1.3-1.2-1.2-1.1-1.2-1.1-1.1-1.1-1.2-1.1-1.1-1-1.1-1-1.1-1-1-1-1.1-1-1-.9-1-.9-1-.9-1-.9-1-.9-1-.9-1-.8-.9-.9-1-.8-.9-.8-.9-.9-1-.8-.9-.8-.9-.8-.9-.8-.9-.9-.9-.8-.8-.8-.9-.8-.9-.9-.8-.8-.9-.8-.8-.9-.8-.8-.9-.9-.8-.8-.8-.9-.8-.8-.8-.9-.8-.9-.8-.8-.8-.9-.8-.9-.8-.9-.8-.8-.8-.9-.9-.9-.8-.9-.8-.9-.8-.9-.8-.9-.9-1-.8-.9-.8-.9-.9-1-.9-.9-.8-1-.9-1-.9-1-1-.9-.9-1.1-1-1-.9-1-1-1.1-1-1-1-1.1-1.1-1.2-1-1.1-1.1-1.2-1.1-1.1-1.1-1.2-1.2-1.3-1.2-1.3-1.1-1.3-1.3-1.3-1.2-1.4-1.3-1.4-1.2-1.4-1.3-1.5-1.4-1.5z" fill="#9400d3" fill-opacity="0.35" fill-rule="evenodd" filter="url(#blur1)"/>
<path d="M201.7 222l-1.9-2.7-1.9-2.7-1.8-2.8-1.8-2.8-1.9-3-2.1-3-2.5-3.2-2.7-3.3-2.7-3.4-2.4-3.4-2.1-3.5-2-3.6-2-3.7-1.8-3.8-1.7-3.8-1.5-3.8-1.1-3.8-.9-3.9-.8-3.8-.5-3.9-.5-3.8-.4-4-.3-3.9-.3-4.1-.3-4-.1-4.2-.1-4.1 0-4.2 0-4.2 .2-4.3 .1-4.3 .3-4.4 .2-4.4 .3-4.5 .4-4.6 .5-4.5 .7-4.5 .9-4.5 1-4.4 1.1-4.5 1.2-4.4 1.5-4.4 1.8-4.1 2.3-3.7 3.1-2.9 4-1.9 5-1 5.4-.2 5.4-.1 5.5 .2 5.7 .7 5.7 .9 5.6 1 5.4 1 5.3 1.1 5.2 1.3 5.1 1.3 5 1.3 4.9 1.4 4.6 1.3 4.6 1.4 4.4 1.3 4.3 1.4 4.1 1.4 4.1 1.4 3.9 1.3 3.8 1.3 3.7 1.2 3.6 1.3 3.4 1.2 3.4 1.2 3.3 1.2 3.2 1.1 3.2 1.2 3 1.2 3 1.1 3 1.1 2.8 1.2 2.8 1.1 2.8 1.2 2.6 1.1 2.7 1.1 2.5 1.1 2.6 1 2.4 1 2.5 1 2.4 1 2.3 .9 2.3 1 2.3 .9 2.2 .9 2.3 .8 2.2 .9 2.1 .9 2.2 .8 2.1 .8 2.1 .9 2.1 .8 2 .8 2.1 .8 2 .8 2 .7 2.1 .8 2 .7 2 .8 2 .7 2 .7 1.9 .8 2 .8 2 .7 1.9 .8 2 .8 1.9 .9 1.9 .9 1.9 .9 1.9 .9 1.9 1 1.8 1 1.8 1.1 1.8 1.1 1.8 1.1 1.7 1.2 1.8 1.2 1.7 1.2 1.6 1.3 1.7 1.2 1.7 1.3 1.6 1.3 1.7 1.3 1.7 1.2 1.6 1.3 1.7 1.3 1.7 1.3 1.7 1.2 1.7 1.3 1.7 1.3 1.7 1.3 1.7 1.3 1.8 1.3 1.7 1.4 1.7 1.3 1.7 1.4 1.7 1.5 1.7 1.4 1.7 1.5 1.6 1.5 1.6 1.6 1.7 1.6 1.6 1.6 1.7 1.6 1.6 1.7 1.6 1.6 1.6 1.7 1.6 1.8 1.6 1.8 1.6 1.8 1.5 1.8 1.5 1.9 1.5 1.9 1.5 2 1.5 1.9 1.4 2.1 1.3 2 1.4 2.1 1.3 2.1 1.4 2.2 1.3 2.2 1.3 2.2 1.3 2.2 1.3 2.3 1.4 2.3 1.3 2.3 1.4 2.4 1.4 2.4 1.4 2.5 1.4 2.4 1.3 2.6 1.4 2.5 1.4 2.6 1.4 2.7 1.4 2.7 1.4 2.8 1.4 2.8 1.3 2.8 1.3 3 1.3 2.9 1.2 3 1.2 3.1 1.2 3.1 1.4 3.2 1.4 3.3 1.5 3.4 1.6 3.5 1.6 3.5 1.5 3.7 1.4 3.6 1.4 3.8 1.4 3.9 1.4 3.9 1.3 4 1.4 4.2 1.2 4.2 1.3 4.2 1.2 4.4 1.2 4.5 1.2 4.6 1.1 4.7 1.1 4.8 1.1 4.9 1.1 5.1 1 5.1 1 5.3 .9 5.4 1 5.6 .7 5.6-.2 5.1-1 4.5-1.5 4.3-1.9 4.1-2 3.9-2.3 3.8-2.6 3.5-2.9 3.3-3.3 2.9-4.2 2-6.3-.3-6.7-.9-6.6-1.1-6.4-1.2-6.2-1.2-6-1.1-5.7-1.1-5.5-1.1-5.4-1.1-5.1-1.1-4.9-1-4.7-.8-4.4-.6-4.3-.6-4.1-.5-4-.6-4.1-.7-4-.8-3.9-1-3.9-1-3.8-1.1-3.8-1.1-3.7-1.3-3.6-1.4-3.6-1.4-3.6-1.6-3.4-1.7-3.4-1.7-3.3-1.7-3.2-1.7-3-1.7-3-1.7-3-1.6-2.8-1.6-2.8-1.7-2.6-1.6-2.6-1.5-2.6-1.6-2.4-1.5-2.4-1.5-2.4-1.5-2.3-1.4-2.2-1.6-2.2-1.6-2.1-1.6-2.1-1.4-2-1.4-2-1.3-1.9-1.3-1.9-1.2-1.9-1.3-1.8-1.2-1.8-1.1-1.8-1.2-1.7-1.2-1.7-1.1-1.7-1.1-1.7-1.1-1.6-1.2-1.6-1.1-1.6-1.1-1.6-1.1-1.5-1.1-1.6-1.1-1.5-1.1-1.5-1.1-1.4-1.1-1.5-1.1-1.4-1.1-1.5-1-1.4-1.1-1.4-1.1-1.4-1-1.4-1.1-1.4-1-1.4-1-1.4-1.1-1.4-1-1.4-1-1.4-.9-1.4-1-1.4-1-1.4-.9-1.5-1-1.4-.9-1.5-1-1.5-.9-1.4-1-1.5-.9-1.5-1-1.6-.9-1.5-1-1.5-1-1.5-1-1.6-1.1-1.5-1-1.5-1.1-1.6-1.1-1.5-1.1-1.5-1.2-1.6-1.1-1.6-1.2-1.5-1.2-1.6-1.3-1.6-1.2-1.6-1.3-1.6-1.3-1.7-1.3-1.6-1.4-1.7-1.4-1.6-1.4-1.8-1.4-1.7-1.5-1.7-1.5-1.8-1.5-1.8-1.5-1.8-1.6-1.8-1.7-1.9-1.6-1.9-1.8-1.9-1.7-1.9-1.8-2-1.9-2.1-1.8-2-2-2.1-2-2.1-2-2.2-2.2-2.1-2.1-2.2-2.3-2-2.3-2-2.4-1.9-2.5-1.9-2.5zM255.3 222l-1.5-1.7-1.5-1.8-1.6-1.8-1.7-1.9-1.7-2-1.8-2-1.9-2.1-2.1-2.2-2.6-2.4-2.9-2.5-2.2-2.6-1.8-2.5-1.5-2.5-1.4-2.6-1.3-2.7-1.4-2.7-1.3-2.8-1.3-2.9-1.3-2.9-1.3-3-1.3-3.1-1.4-3.2-1.3-3.3-1.3-3.4-1.3-3.5-1.2-3.5-1.3-3.7-1.2-3.7-1.1-3.8-1.1-4-1.1-4-1.1-4.1-1-4.2-.9-4.3-.9-4.4-.8-4.5-.5-4.4-.1-4.3 .6-3.7 1.4-3.2 1.7-3 1.5-3.3 1.6-3 2.3-2.6 2.9-1.9 3.4-1.4 3.6-1.1 3.6-.9 3.7-.8 3.8-.7 3.6-.6 3.7-.6 3.6-.5 3.5-.5 3.5-.5 3.5-.4 3.5-.2 3.5 0 3.7 .2 3.7 .6 4 1 4 1.6 4.2 1.9 4.1 2.1 3.9 2.1 3.7 2 3.6 1.8 3.5 1.8 3.3 1.8 3.2 1.8 3.1 1.7 3 1.7 2.9 1.7 2.7 1.6 2.7 1.5 2.6 1.5 2.5 1.4 2.4 1.5 2.4 1.3 2.3 1.4 2.2 1.4 2.2 1.3 2.1 1.3 2 1.2 2 1.2 1.9 1.2 1.9 1.1 1.8 1.1 1.8 1 1.8 .9 1.7 .9 1.7 .9 1.7 .8 1.7 .8 1.6 .8 1.6 .7 1.6 .7 1.6 .8 1.5 .7 1.6 .7 1.5 .7 1.5 .8 1.5 .7 1.5 .8 1.4 .8 1.5 .8 1.4 .8 1.4 .8 1.4 .8 1.4 .8 1.3 .9 1.4 .8 1.4 .8 1.3 .8 1.3 .8 1.4 .8 1.3 .8 1.3 .8 1.3 .8 1.4 .8 1.3 .8 1.3 .8 1.4 .7 1.3 .8 1.4 .8 1.3 .7 1.4 .8 1.4 .7 1.4 .7 1.4 .8 1.5 .7 1.5 .7 1.4 .8 1.5 .7 1.5 .8 1.5 .8 1.5 .8 1.6 .8 1.5 .8 1.5 .9 1.6 .9 1.5 .9 1.5 .9 1.6 1 1.5 1 1.6 1 1.5 1.1 1.6 1 1.6 1.1 1.7 1.1 1.6 1.2 1.6 1.1 1.7 1.2 1.7 1.2 1.7 1.3 1.7 1.3 1.7 1.3 1.7 1.3 1.7 1.4 1.8 1.5 1.7 1.4 1.6 1.6 1.7 1.6 1.6 1.6 1.5 1.7 1.6 1.7 1.4 1.8 1.5 1.8 1.4 1.9 1.4 1.9 1.5 1.9 1.5 2 1.5 2 1.6 2.1 1.6 2.1 1.6 2.1 1.7 2.2 1.6 2.2 1.7 2.3 1.7 2.4 1.7 2.4 1.7 2.5 1.7 2.5 1.6 2.6 1.6 2.7 1.6 2.7 1.6 2.8 1.6 2.9 1.6 2.9 1.5 3 1.5 3 1.5 3.2 1.3 3.1 1.3 3.2 1.2 3.3 1.1 3.3 1 3.4 .8 3.4 .7 3.4 .5 3.3 .4 3.5 .2 3.4 .3 3.4 .1 3.5 .1 3.5 0 3.6 0 3.6 0 3.6-.2 3.7-.1 3.7-.3 3.7-.4 3.7-.5 3.7-.6 3.7-.8 3.6-1 3.5-1.1 3.5-1.4 3.4-1.4 3.4-1.5 3.4-1.6 3.2-1.9 3.1-2.1 2.9-2.5 2.6-2.8 2.3-3.2 1.8-3.4 1.6-3.6 1.3-3.6 1.1-3.8 1-3.8 .8-3.8 .7-3.8 .5-4 .3-4 0-4.1-.1-4-.3-4.1-.5-4-.5-3.9-.7-4-.7-3.9-1-4-1.2-3.9-1.6-4.1-1.8-4.1-2.3-4-2.6-4-2.8-3.9-2.8-3.6-2.6-3.4-2.4-3.3-2.3-3.2-2.3-3-2.1-2.8-2.1-2.8-2-2.6-1.9-2.6-1.9-2.4-1.8-2.4-1.7-2.3-1.7-2.1-1.7-2.2-1.6-2-1.5-2-1.6-1.9-1.5-1.9-1.5-1.8-1.6-1.8-1.9-1.7-2.1-1.6-1.6-1.6-1.4-1.6-1.4-1.5-1.3-1.4-1.3-1.4-1.3-1.4-1.2-1.4-1.2-1.3-1.1-1.3-1.2-1.3-1.1-1.2-1.1-1.2-1-1.2-1.1-1.2-1-1.2-1-1.1-1-1.1-1-1.1-1-1.1-.9-1.1-.9-1-.9-1.1-.9-1-.9-1.1-.9-1-.9-1-.8-1-.9-1-.8-1-.9-1-.8-1-.9-.9-.8-1-.9-.9-.8-1-.8-.9-.9-.9-.8-.9-.9-.9-.9-.9-.8-.9-.9-.9-.9-.9-.9-.8-.9-.9-.8-.9-.9-.8-.9-.9-.9-.8-1-.9-.9-.8-.9-.9-.9-.8-.9-.9-1-.8-.9-.9-1-.8-.9-.9-1-.9-.9-.8-1-.9-1-.9-1-.9-1-.9-1-1-1-.9-1-1-1-.9-1.1-1-1-1-1.1-1-1.1-1.1-1.1-1-1.2-1.1-1.1-1.1-1.2-1.1-1.2-1.1-1.2-1.2-1.2-1.2-1.3-1.2-1.3-1.2-1.4-1.3-1.3-1.3-1.4-1.3-1.5-1.4-1.4-1.3-1.6-1.5-1.5-1.4-1.6z" fill="#9400d3" fill-opacity="1.0" fill-rule="evenodd" filter="url(#blur1)"/>
<path d="M412.5,365C407.92,362.5 393.75,355.21 385,350C376.25,344.79 368.88,339.88 360,333.75C351.12,327.62 340.6,319.93 331.7,313.2C322.8,306.47 314.98,300.28 306.6,293.4C298.22,286.52 289.79,278.78 281.4,271.9C273.01,265.02 264.33,259.58 256.25,252.1C248.17,244.62 240.09,235.68 232.9,227C225.71,218.32 217.58,206.33 213.1,200C208.62,193.67 209.1,194.27 206,189C202.9,183.73 197.73,175.4 194.5,168.4C191.27,161.4 188.23,154.48 186.6,147C184.97,139.52 184.85,131 184.7,123.5C184.55,116 184.4,108.5 185.7,102C187,95.5 188.77,89.53 192.5,84.5C196.23,79.47 202.23,74.8 208.1,71.8C213.97,68.8 221.18,67.48 227.7,66.5C234.22,65.52 240.7,65.67 247.2,65.9C253.7,66.13 260.19,66.77 266.7,67.9C273.21,69.03 279.73,70.75 286.25,72.7C292.77,74.65 299.29,77.15 305.8,79.6C312.31,82.05 318.8,84.32 325.3,87.4C331.8,90.48 337.35,94.03 344.8,98.1C352.25,102.17 361.3,106.65 370,111.8C378.7,116.95 388.67,123.63 397,129C405.33,134.37 412,138.33 420,144C428,149.67 437.5,156.17 445,163C452.5,169.83 458.75,177.5 465,185C471.25,192.5 476.67,200 482.5,208C488.33,216 494.92,225.17 500,233C505.08,240.83 508.83,247.17 513,255C517.17,262.83 521.43,270.52 525,280C528.57,289.48 532.68,303.6 534.4,311.9C536.12,320.2 535.6,323.82 535.3,329.8C535,335.78 534.1,341.8 532.6,347.8C531.1,353.8 529.13,360.7 526.3,365.8C523.47,370.9 519.18,375.1 515.6,378.4C512.02,381.7 508.86,383.88 504.8,385.6C500.74,387.33 496.63,388.33 491.25,388.75C485.87,389.17 479.79,389.14 472.5,388.1C465.21,387.06 455,384.89 447.5,382.5C440,380.11 430.83,375.21 427.5,373.75" stroke="#009e73" stroke-width="4.2" fill="none" stroke-linecap="round"/>
<circle cx="420" cy="370" r="2.4" fill="#009e73"/>
<path d="M109,434.5h12M594.25,434.5h-12M109,393.16h12M594.25,393.16h-12M109,351.82h12M594.25,351.82h-12M109,310.48h12M594.25,310.48h-12M109,269.14h12M594.25,269.14h-12M109,227.8h12M594.25,227.8h-12M109,186.46h12M594.25,186.46h-12M109,145.12h12M594.25,145.12h-12M109,103.78h12M594.25,103.78h-12M109,62.44h12M594.25,62.44h-12M109,21.1h12M594.25,21.1h-12M109,434.5v-12M109,21.1v12M169.66,434.5v-12M169.66,21.1v12M230.31,434.5v-12M230.31,21.1v12M290.97,434.5v-12M290.97,21.1v12M351.63,434.5v-12M351.63,21.1v12M412.28,434.5v-12M412.28,21.1v12M472.94,434.5v-12M472.94,21.1v12M533.59,434.5v-12M533.59,21.1v12M594.25,434.5v-12M594.25,21.1v12" stroke="#505050" stroke-width="1.1" fill="none"/>
<rect x="109" y="21.1" width="485.25" height="413.4" stroke="#404040" stroke-width="1.2" fill="none"/>
<text x="98.8" y="442.1" font-size="21.0" text-anchor="end">2.05</text>
<text x="98.8" y="400.76" font-size="21.0" text-anchor="end">2.06</text>
<text x="98.8" y="359.42" font-size="21.0" text-anchor="end">2.07</text>
<text x="98.8" y="318.08" font-size="21.0" text-anchor="end">2.08</text>
<text x="98.8" y="276.74" font-size="21.0" text-anchor="end">2.09</text>
<text x="98.8" y="235.4" font-size="21.0" text-anchor="end">2.1</text>
<text x="98.8" y="194.06" font-size="21.0" text-anchor="end">2.11</text>
<text x="98.8" y="152.72" font-size="21.0" text-anchor="end">2.12</text>
<text x="98.8" y="111.38" font-size="21.0" text-anchor="end">2.13</text>
<text x="98.8" y="70.04" font-size="21.0" text-anchor="end">2.14</text>
<text x="98.8" y="28.7" font-size="21.0" text-anchor="end">2.15</text>
<text x="112" y="472.8" font-size="21.0" text-anchor="middle">0.785</text>
<text x="172.66" y="472.8" font-size="21.0" text-anchor="middle">0.79</text>
<text x="233.31" y="472.8" font-size="21.0" text-anchor="middle">0.795</text>
<text x="293.97" y="472.8" font-size="21.0" text-anchor="middle">0.8</text>
<text x="354.63" y="472.8" font-size="21.0" text-anchor="middle">0.805</text>
<text x="415.28" y="472.8" font-size="21.0" text-anchor="middle">0.81</text>
<text x="475.94" y="472.8" font-size="21.0" text-anchor="middle">0.815</text>
<text x="536.59" y="472.8" font-size="21.0" text-anchor="middle">0.82</text>
<text x="597.25" y="472.8" font-size="21.0" text-anchor="middle">0.825</text>
<text x="351" y="516.5" font-size="21.0" text-anchor="middle">a</text>
<text transform="translate(27.5,227.5) rotate(-90)" font-size="21.0" text-anchor="middle">b</text>
<text x="504.5" y="55.8" font-size="21.0" text-anchor="end">T3 simulation</text>
<text x="504.5" y="85.2" font-size="21.0" text-anchor="end">stabilized C</text>
<circle cx="544.3" cy="47.3" r="0.6" fill="#9400d3"/>
<circle cx="544.2" cy="76.2" r="2.3" fill="#009e73"/>
</g>
<g id="p2">
<path d="M753.08,338.2 743.61,131.27 912.11,9.04 914.09,203.97Z" fill="#f8f8f8"/>
<path d="M914.09,203.97 912.11,9.04 1181.18,77.3 1172.01,278.75Z" fill="#f2f2f2"/>
<path d="M753.08,338.2 1026.63,427.04 1172.01,278.75 914.09,203.97Z" fill="#f5f5f5"/>
<path d="M752.26,320.27L913.92,187.02M913.92,187.02L1172.81,261.27M750.87,290.07L913.63,158.5M913.63,158.5L1174.15,231.84M749.47,259.47L913.33,129.64M913.33,129.64L1175.5,202.02M748.05,228.46L913.03,100.42M913.03,100.42L1176.88,171.83M746.62,197.04L912.73,70.84M912.73,70.84L1178.27,141.25M745.16,165.19L912.43,40.89M912.43,40.89L1179.68,110.26M793.95,304.12L786.5,100.16M793.95,304.12L1063.65,389.27M833.87,270.84L828.31,69.83M833.87,270.84L1099.73,352.47M872.17,238.91L868.36,40.78M872.17,238.91L1134.28,317.23M908.95,208.25L906.75,12.93M908.95,208.25L1167.4,283.46M932.75,209.38L931.54,13.97M772.79,344.6L932.75,209.38M1001.22,229.23L1002.89,32.07M845.23,368.12L1001.22,229.23M1071.46,249.6L1076.15,50.66M919.71,392.31L1071.46,249.6M1143.54,270.5L1151.42,69.75M996.31,417.19L1143.54,270.5" stroke="#b0b0b0" stroke-width="1.1" fill="none"/>
<path d="M753.08,338.2L1026.63,427.04M1026.63,427.04L1172.01,278.75M1172.01,278.75L1181.18,77.3M774.88,342.83L767.55,349.03M847.27,366.31L840.11,372.68M921.69,390.45L914.72,397M998.24,415.27L991.47,422.02M1060.82,388.38L1072.18,391.96M1096.94,351.61L1108.13,355.05M1131.53,316.41L1142.55,319.7M1164.69,282.67L1175.54,285.83M1170.1,260.49L1179.6,263.22M1171.42,231.07L1180.98,233.76M1172.75,201.27L1182.39,203.93M1174.11,171.08L1183.81,173.71M1175.48,140.51L1185.24,143.1M1176.87,109.54L1186.7,112.09" stroke="#1a1a1a" stroke-width="1.1" fill="none"/>
<g stroke="#1f77b4" stroke-opacity="0.12" stroke-width="1.4" fill="none"><path d="M895.4 235.4l1.5-.5 1.4-.6 1.4-.5 1.5-.5 1.4-.5 1.5-.5 1.4-.5 1.5-.4 1.4-.5 1.5-.4 1.5-.4 1.5-.4 1.4-.4 1.5-.3 1.4-.4 1.4-.3 1.5-.4 1.4-.3 1.4-.4 1.4-.3 1.4-.3 1.4-.3 1.3-.4 1.4-.3 1.4-.3 1.4-.3 1.3-.3 1.4-.3 1.4-.3 1.4-.3 1.3-.3 1.4-.3 1.4-.3 1.4-.3 1.4-.2 1.4-.3 1.4-.3 1.5-.3 1.4-.2 1.5-.3 1.4-.2 1.5-.3 1.5-.2 1.5-.3 1.5-.2 1.6-.2 1.5-.2 1.6-.2 1.6-.1 1.6-.1 1.6-.2 1.7-.1 1.6-.1 1.7-.1 1.7-.1 1.7-.1 1.7-.1 1.7-.1 1.8-.1 1.8-.2 1.8-.1 1.9-.2 1.9-.1 1.9-.2 2-.1 2.1-.2 2-.1 2.1-.2 2.2-.1 2.2-.1 2.2-.1 2.3-.1 2.4-.1 2.3 0 2.5-.1 2.5 .6 2.6 .7 2.7 .5 3 .6 2.9 .6 2.6 .8 2.6 1 2.4 1 2.3 1.2 2.3 1.2 2.3 1.2 2.3 1.3 2.2 1.3 2.2 1.4 2.2 1.4 2.1 1.4 2 1.5 2.1 1.5 2 1.5 1.9 1.6 1.8 1.7 1.8 2 1.8 2 1.7 2 1.7 2.1 1.6 2.1 1.5 2.1 1.5 2.1 1.4 2.2 1.4 2.2 1.4 2.2 1.3 2.2 1.4 2.2 1.2 2.2 1.2 2.3 1 2.3 1 2.3 .9 1.8 .7 1.4 .7 1.4 .5 1.3 .4 1.4 .3 1.4 .2 1.4 .1 1.4 0 1.4-.2 1.4-.2 1.4-.4 1.3-.4 1.4-.5 1.3-.5 1.4-.7 1.3-.7 1.3-.8 1.3-.9 1.2-1 1.3-1.1 1.2-1.4 1.2-1.6 1.1-1.7 1.1-2.2 1-2.8 .9-2.8 .8-2.8 .7-2.8 .8-2.7 .6-2.7 .7-2.8 .5-2.8 .6-2.6 .5-2.5 .5-2.4 .4-2.4 .5-2.2 .4-2.2 .4-2 .3-2.1 .3-1.9 .3-1.9 .3-1.9 .3-1.7 .3-1.8 .3-1.7 .2-1.6 .3-1.7 .2-1.5 .3-1.6 .2-1.5 .2-1.5 .3-1.4 .2-1.5 .2-1.4 .2-1.3 .3-1.4 .2-1.4 .2-1.3 .2-1.3 .2-1.4 .2-1.3 .1-1.3 .2-1.3 .2-1.3 .2-1.2 .1-1.3 .2-1.3 .2-1.2 .1-1.3 .2-1.2 .1-1.3 .2-1.2 .1-1.3 .1-1.2 .2-1.3 .1-1.2 .1-1.3 .2-1.2 .1-1.3 .1-1.3 .1-1.2 .1-1.3 .1-1.3 .1-1.3 .1-1.3 .1-1.3 .1-1.3 0-1.3-.1-1.4 0-1.3 0-1.4-.1-1.3 0-1.4-.1-1.4 0-1.5 0-1.4 0-1.5-.1-1.5 0-1.5 0-1.6 0-1.6 0-1.6 0-1.7 0-1.7 0-1.7-.1-1.8 0-1.7-.1-1.9 0-1.8-.1-1.9-.1-2-.1-2-.6-2-.6-2.1-.6-2.2-.6-2.3-.6-2.3-.6-2.4-.6-2.4-.7-2.5-.6-2.5-.7-2.6-.8-2.6-.7-2.7-.8-2.8-.8-2.9-.7-3.1-.8-3.2-1-3.4-1.4-3.5-1.4-3.7-1.4-3.7-1.5-3.8-1.6-3.9-1.6-3.9-1.6-4.1-1.7-4.2-1.8-3.5-2-2.9-2.2-2.4-2.3-2.3-2.4-2.1-2.4-2-2.5-1.8-2.6-1.6-1.8-1.4-1.4-1.2-1.5-1-1.5-.9-1.6-.6-1.6-.3-1.5 .1-1.7 .4-1.6 .8-1.6 1.3-1.6 1.8-1.6 2-1.6 2.1-1.5 2.3-1.4 2.3-1.5 2.3-1.3 2.4-1.2 2.3-1.2 2.3-1.1 2.3-1.1 2.3-1.1 2.2-.9 2.2-1 2.2-.9 2.2-.9 2.1-.8 2.1-.8 2.2-.8 2.1-.7 2-.8 1.9-.7 1.8-.7 1.7-.6 1.6-.7 1.6-.7 1.6-.6 1.5-.6 1.5-.6 1.5-.6 1.5-.6z"/><path d="M895.4 234.1l1.4-.6 1.4-.5 1.5-.6 1.4-.5 1.4-.5 1.5-.4 1.4-.5 1.5-.4 1.5-.5 1.5-.4 1.4-.4 1.5-.3 1.5-.4 1.4-.4 1.5-.3 1.4-.4 1.4-.3 1.4-.4 1.4-.3 1.4-.3 1.4-.3 1.4-.4 1.4-.3 1.4-.3 1.4-.3 1.3-.3 1.4-.3 1.4-.3 1.4-.3 1.3-.3 1.4-.2 1.4-.3 1.4-.3 1.4-.3 1.4-.3 1.4-.3 1.4-.3 1.4-.2 1.5-.3 1.4-.2 1.5-.3 1.5-.2 1.5-.3 1.5-.2 1.5-.2 1.6-.2 1.5-.2 1.6-.2 1.6-.2 1.6-.1 1.6-.1 1.7-.1 1.6-.1 1.7-.1 1.7-.1 1.7-.1 1.7-.2 1.7-.1 1.8-.1 1.8-.1 1.8-.2 1.9-.1 1.9-.2 1.9-.1 2-.2 2.1-.1 2-.2 2.2-.1 2.1-.2 2.2-.1 2.3-.1 2.2-.1 2.4-.1 2.4 0 2.4-.1 2.5 .6 2.6 .7 2.8 .5 2.9 .5 2.9 .6 2.7 .8 2.5 1 2.4 1.1 2.4 1.1 2.3 1.2 2.3 1.2 2.2 1.3 2.3 1.3 2.1 1.3 2.2 1.4 2.1 1.4 2.1 1.5 2 1.5 2 1.5 1.9 1.6 1.9 1.6 1.8 2 1.8 2 1.7 2 1.7 2 1.6 2.1 1.5 2.1 1.5 2.1 1.4 2.2 1.4 2.1 1.4 2.2 1.4 2.2 1.3 2.2 1.2 2.2 1.2 2.2 1 2.3 1 2.3 .9 1.8 .8 1.3 .6 1.4 .5 1.4 .5 1.4 .3 1.4 .2 1.4 0 1.3 0 1.4-.2 1.4-.2 1.4-.4 1.4-.4 1.3-.5 1.4-.5 1.3-.7 1.3-.7 1.3-.8 1.3-.9 1.3-1 1.2-1.2 1.2-1.3 1.2-1.6 1.1-1.8 1.1-2.1 1-2.8 .9-2.8 .8-2.8 .8-2.8 .7-2.7 .7-2.8 .6-2.7 .6-2.8 .5-2.6 .5-2.5 .5-2.5 .5-2.3 .5-2.2 .4-2.2 .3-2.1 .4-2 .3-2 .3-1.9 .3-1.8 .3-1.8 .3-1.7 .2-1.7 .3-1.7 .2-1.6 .3-1.6 .2-1.5 .3-1.5 .2-1.5 .3-1.5 .2-1.4 .2-1.4 .2-1.4 .2-1.4 .3-1.3 .2-1.4 .2-1.3 .2-1.3 .2-1.3 .1-1.3 .2-1.3 .2-1.3 .2-1.3 .1-1.3 .2-1.2 .1-1.3 .2-1.3 .1-1.2 .2-1.3 .1-1.2 .2-1.3 .1-1.2 .2-1.3 .1-1.2 .1-1.3 .1-1.2 .2-1.3 .1-1.2 .1-1.3 .1-1.3 .1-1.3 .1-1.3 .1-1.3 .1-1.3 .1-1.3-.1-1.3 0-1.4 0-1.3-.1-1.4 0-1.3 0-1.4-.1-1.4 0-1.5 0-1.4-.1-1.5 0-1.5 0-1.5 0-1.6 0-1.6 0-1.6 0-1.7 0-1.7-.1-1.7 0-1.8 0-1.8-.1-1.8 0-1.9-.1-1.9-.1-1.9-.1-2-.6-2.1-.6-2.1-.6-2.2-.6-2.2-.6-2.3-.6-2.4-.6-2.5-.6-2.5-.7-2.5-.7-2.5-.7-2.7-.8-2.7-.7-2.7-.8-3-.8-3-.7-3.3-1-3.4-1.4-3.5-1.4-3.7-1.4-3.7-1.5-3.8-1.6-3.9-1.5-3.9-1.7-4.1-1.7-4.2-1.7-3.5-2-2.9-2.2-2.5-2.3-2.2-2.4-2.2-2.4-2-2.5-1.8-2.5-1.5-1.8-1.4-1.5-1.2-1.5-1.1-1.5-.8-1.5-.6-1.6-.3-1.6 .1-1.6 .4-1.6 .8-1.6 1.4-1.6 1.7-1.6 2-1.5 2.2-1.5 2.2-1.5 2.3-1.4 2.3-1.4 2.4-1.2 2.3-1.1 2.3-1.2 2.3-1 2.3-1.1 2.2-1 2.2-.9 2.2-.9 2.2-.9 2.1-.8 2.1-.8 2.2-.8 2.1-.7 2-.7 1.9-.7 1.8-.7 1.7-.7 1.6-.7 1.6-.6 1.6-.7 1.5-.6 1.6-.6 1.5-.6 1.5-.6z"/><path d="M895.2 232.7l1.5-.5 1.4-.6 1.5-.5 1.4-.5 1.5-.5 1.4-.5 1.5-.4 1.4-.4 1.5-.5 1.5-.4 1.5-.4 1.4-.3 1.5-.4 1.5-.3 1.4-.4 1.4-.3 1.5-.4 1.4-.3 1.4-.3 1.4-.3 1.4-.4 1.4-.3 1.4-.3 1.3-.3 1.4-.3 1.4-.3 1.4-.3 1.4-.3 1.3-.3 1.4-.2 1.4-.3 1.4-.3 1.4-.3 1.4-.3 1.4-.3 1.4-.3 1.4-.2 1.4-.3 1.5-.3 1.4-.2 1.5-.3 1.5-.2 1.5-.3 1.5-.2 1.5-.2 1.6-.2 1.5-.2 1.6-.2 1.6-.1 1.6-.1 1.6-.2 1.7-.1 1.6-.1 1.7-.1 1.7-.1 1.7-.1 1.7-.1 1.7-.1 1.8-.2 1.8-.1 1.8-.1 1.9-.2 1.9-.1 2-.2 2-.2 2-.1 2.1-.2 2.1-.1 2.1-.1 2.2-.2 2.3-.1 2.3-.1 2.3 0 2.4-.1 2.4-.1 2.5 .6 2.6 .6 2.8 .6 2.9 .5 2.9 .6 2.7 .8 2.5 .9 2.4 1.1 2.4 1.1 2.3 1.2 2.3 1.2 2.3 1.2 2.2 1.3 2.2 1.4 2.1 1.3 2.2 1.4 2 1.5 2.1 1.5 2 1.5 1.9 1.5 1.9 1.7 1.8 1.9 1.8 2 1.7 1.9 1.7 2.1 1.6 2 1.5 2.1 1.5 2.1 1.4 2.1 1.5 2.1 1.4 2.2 1.3 2.1 1.3 2.2 1.3 2.2 1.2 2.2 1 2.2 1 2.3 .9 1.8 .7 1.4 .7 1.3 .5 1.4 .4 1.4 .3 1.4 .2 1.4 .1 1.4-.1 1.4-.1 1.4-.3 1.4-.3 1.3-.5 1.4-.5 1.3-.5 1.4-.7 1.3-.7 1.3-.8 1.3-.9 1.2-1 1.3-1.2 1.2-1.4 1.2-1.5 1.1-1.8 1.1-2.1 1-2.9 .9-2.8 .8-2.8 .8-2.7 .7-2.7 .7-2.8 .6-2.8 .6-2.7 .5-2.7 .5-2.5 .5-2.4 .5-2.3 .4-2.2 .5-2.2 .3-2.1 .4-2 .3-2 .3-1.9 .3-1.8 .3-1.8 .2-1.8 .3-1.7 .3-1.6 .2-1.6 .3-1.6 .2-1.6 .3-1.5 .2-1.5 .2-1.4 .3-1.4 .2-1.5 .2-1.3 .2-1.4 .3-1.4 .2-1.3 .2-1.3 .2-1.4 .2-1.3 .1-1.3 .2-1.3 .2-1.3 .2-1.3 .1-1.2 .2-1.3 .1-1.3 .2-1.2 .1-1.3 .2-1.2 .1-1.3 .2-1.2 .1-1.3 .2-1.2 .1-1.3 .1-1.2 .1-1.3 .2-1.3 .1-1.2 .1-1.3 .1-1.3 .1-1.3 .1-1.3 .1-1.3 .1-1.3 .1-1.3-.1-1.3 0-1.4 0-1.3-.1-1.4 0-1.3 0-1.4-.1-1.4 0-1.5 0-1.4 0-1.5-.1-1.5 0-1.6 0-1.5 0-1.6 0-1.7 0-1.6 0-1.7 0-1.8-.1-1.7 0-1.8-.1-1.8 0-1.9-.1-1.9-.1-2-.1-2-.6-2-.5-2.1-.6-2.2-.6-2.3-.6-2.3-.6-2.4-.6-2.4-.7-2.5-.6-2.6-.7-2.5-.7-2.6-.8-2.7-.8-2.8-.7-2.9-.8-3.1-.8-3.2-.9-3.5-1.4-3.5-1.4-3.7-1.4-3.7-1.5-3.8-1.5-3.9-1.6-4-1.6-4-1.7-4.2-1.7-3.6-2-2.8-2.2-2.5-2.3-2.3-2.3-2.1-2.5-2-2.4-1.8-2.6-1.6-1.8-1.4-1.4-1.2-1.5-1-1.5-.9-1.5-.5-1.6-.3-1.6 0-1.6 .5-1.6 .8-1.6 1.4-1.6 1.7-1.6 2-1.5 2.1-1.5 2.3-1.4 2.3-1.4 2.3-1.4 2.4-1.2 2.3-1.2 2.3-1.1 2.3-1.1 2.3-1 2.2-1 2.2-.9 2.2-.9 2.2-.9 2.1-.8 2.1-.8 2.2-.8 2.1-.7 2-.7 1.9-.7 1.8-.7 1.7-.7 1.6-.7 1.6-.6 1.6-.6 1.5-.7 1.5-.6 1.6-.6 1.5-.5z"/><path d="M895.1 231.3l1.5-.5 1.4-.5 1.5-.5 1.4-.5 1.4-.5 1.5-.5 1.5-.4 1.4-.5 1.5-.4 1.5-.4 1.5-.4 1.4-.3 1.5-.4 1.5-.3 1.4-.4 1.5-.3 1.4-.3 1.4-.4 1.4-.3 1.4-.3 1.4-.3 1.4-.3 1.4-.3 1.4-.3 1.4-.3 1.3-.3 1.4-.3 1.4-.3 1.4-.2 1.4-.3 1.4-.3 1.3-.3 1.4-.3 1.4-.3 1.4-.3 1.4-.2 1.5-.3 1.4-.3 1.5-.2 1.4-.3 1.5-.2 1.5-.3 1.5-.2 1.5-.2 1.5-.3 1.6-.2 1.5-.1 1.6-.2 1.6-.2 1.6-.1 1.6-.1 1.7-.1 1.6-.2 1.7-.1 1.7-.1 1.7-.1 1.7-.1 1.7-.1 1.8-.1 1.8-.2 1.9-.1 1.8-.2 1.9-.1 2-.2 2-.1 2-.2 2.1-.1 2.1-.2 2.2-.1 2.2-.1 2.2-.1 2.3-.1 2.3-.1 2.4-.1 2.5-.1 2.5 .6 2.6 .6 2.7 .6 2.9 .5 2.9 .5 2.7 .8 2.5 1 2.5 1 2.3 1.1 2.4 1.2 2.2 1.2 2.3 1.2 2.3 1.3 2.2 1.3 2.1 1.4 2.1 1.4 2.1 1.4 2.1 1.4 2 1.5 1.9 1.6 1.9 1.6 1.8 1.9 1.8 1.9 1.7 2 1.7 2 1.6 2 1.6 2.1 1.5 2 1.4 2.1 1.4 2.1 1.4 2.2 1.4 2.1 1.3 2.1 1.3 2.2 1.2 2.2 1 2.2 1 2.3 .9 1.7 .7 1.4 .7 1.4 .5 1.4 .4 1.3 .3 1.4 .2 1.4 .1 1.4-.1 1.4-.1 1.4-.3 1.4-.4 1.4-.4 1.3-.5 1.4-.6 1.3-.6 1.3-.8 1.3-.8 1.3-.9 1.3-1 1.2-1.2 1.2-1.4 1.2-1.5 1.2-1.8 1-2.2 1-2.8 .9-2.8 .8-2.8 .8-2.7 .7-2.8 .7-2.7 .7-2.8 .5-2.7 .6-2.7 .5-2.5 .5-2.4 .5-2.3 .4-2.2 .5-2.2 .3-2.1 .3-2 .4-2 .3-1.9 .3-1.8 .2-1.8 .3-1.8 .3-1.7 .3-1.6 .2-1.6 .3-1.6 .2-1.6 .3-1.5 .2-1.5 .2-1.4 .3-1.5 .2-1.4 .2-1.4 .2-1.3 .3-1.4 .2-1.3 .2-1.4 .2-1.3 .2-1.3 .1-1.3 .2-1.3 .2-1.3 .2-1.3 .1-1.3 .2-1.2 .1-1.3 .2-1.3 .2-1.2 .1-1.3 .1-1.2 .2-1.3 .1-1.2 .2-1.3 .1-1.3 .1-1.2 .2-1.3 .1-1.2 .1-1.3 .1-1.3 .1-1.3 .1-1.3 .1-1.3 .1-1.3 .1-1.3 .1-1.3 0-1.3-.1-1.4 0-1.3 0-1.4-.1-1.3 0-1.4 0-1.5-.1-1.4 0-1.5 0-1.4-.1-1.5 0-1.6 0-1.5 0-1.7 0-1.6 0-1.7 0-1.7 0-1.7-.1-1.8 0-1.7-.1-1.9 0-1.8-.1-2-.1-1.9 0-2-.6-2.1-.6-2.1-.6-2.2-.6-2.2-.6-2.4-.6-2.4-.6-2.4-.6-2.5-.7-2.5-.7-2.6-.7-2.6-.7-2.7-.8-2.8-.7-2.9-.8-3.1-.8-3.3-.9-3.4-1.4-3.5-1.4-3.7-1.4-3.7-1.5-3.8-1.5-3.9-1.5-4-1.7-4.1-1.6-4.1-1.7-3.6-2-2.9-2.1-2.5-2.3-2.3-2.4-2.1-2.4-2.1-2.5-1.7-2.5-1.6-1.8-1.4-1.4-1.2-1.5-1-1.5-.8-1.5-.6-1.6-.3-1.6 .1-1.5 .4-1.6 .9-1.7 1.3-1.5 1.8-1.6 2-1.6 2.1-1.5 2.3-1.4 2.3-1.4 2.3-1.3 2.3-1.2 2.4-1.2 2.3-1.1 2.3-1.1 2.2-1 2.2-1 2.3-.9 2.1-.9 2.2-.9 2.1-.8 2.2-.8 2.1-.8 2.1-.7 2-.7 1.9-.7 1.8-.7 1.7-.7 1.7-.6 1.6-.7 1.5-.6 1.6-.6 1.5-.6 1.5-.6 1.5-.6z"/><path d="M895 230l1.4-.6 1.5-.5 1.4-.5 1.5-.5 1.4-.5 1.5-.4 1.4-.5 1.5-.4 1.5-.4 1.5-.4 1.5-.4 1.4-.3 1.5-.4 1.5-.3 1.4-.3 1.5-.4 1.4-.3 1.4-.3 1.4-.3 1.4-.3 1.4-.3 1.4-.3 1.4-.3 1.4-.3 1.4-.3 1.4-.3 1.4-.3 1.4-.3 1.3-.3 1.4-.2 1.4-.3 1.4-.3 1.4-.3 1.4-.3 1.4-.3 1.4-.2 1.4-.3 1.5-.3 1.4-.2 1.5-.3 1.5-.2 1.5-.3 1.5-.2 1.5-.2 1.5-.2 1.6-.2 1.5-.2 1.6-.2 1.6-.1 1.6-.2 1.6-.1 1.7-.1 1.6-.1 1.7-.1 1.7-.1 1.7-.1 1.7-.2 1.8-.1 1.7-.1 1.8-.1 1.9-.2 1.8-.1 2-.2 1.9-.1 2-.2 2-.2 2.1-.1 2.1-.2 2.2-.1 2.2-.1 2.2-.1 2.3-.1 2.4-.1 2.3-.1 2.5-.1 2.5 .6 2.6 .6 2.7 .6 3 .4 2.9 .6 2.7 .8 2.5 .9 2.4 1 2.4 1.1 2.3 1.2 2.3 1.1 2.3 1.3 2.2 1.2 2.2 1.3 2.2 1.4 2.1 1.4 2.1 1.4 2 1.4 2.1 1.5 1.9 1.5 1.9 1.6 1.8 1.9 1.8 1.9 1.8 2 1.7 1.9 1.6 2 1.6 2 1.5 2.1 1.4 2.1 1.4 2 1.4 2.1 1.4 2.1 1.4 2.2 1.2 2.1 1.2 2.2 1 2.2 1 2.2 .9 1.8 .8 1.3 .6 1.4 .5 1.4 .4 1.4 .3 1.4 .2 1.4 .1 1.4-.1 1.4-.2 1.4-.2 1.3-.4 1.4-.5 1.4-.5 1.3-.5 1.4-.7 1.3-.7 1.3-.9 1.3-.9 1.2-1 1.3-1.2 1.2-1.4 1.2-1.5 1.1-1.8 1.1-2.2 1-2.8 .9-2.8 .8-2.8 .8-2.7 .7-2.8 .7-2.7 .6-2.8 .6-2.7 .5-2.7 .5-2.5 .5-2.4 .5-2.3 .5-2.2 .4-2.2 .4-2.1 .3-2 .3-2 .3-1.9 .3-1.8 .3-1.8 .3-1.8 .3-1.7 .3-1.6 .2-1.6 .3-1.6 .2-1.6 .3-1.5 .2-1.5 .2-1.4 .3-1.5 .2-1.4 .2-1.4 .2-1.4 .3-1.3 .2-1.4 .2-1.3 .2-1.3 .2-1.4 .2-1.3 .1-1.3 .2-1.3 .2-1.2 .1-1.3 .2-1.3 .2-1.3 .1-1.2 .2-1.3 .1-1.2 .2-1.3 .1-1.3 .1-1.2 .2-1.3 .1-1.2 .1-1.3 .2-1.3 .1-1.2 .1-1.3 .1-1.3 .1-1.3 .1-1.2 .1-1.3 .1-1.3 .1-1.4 .1-1.3 0-1.3-.1-1.4 0-1.3 0-1.4-.1-1.4 0-1.4 0-1.4-.1-1.4 0-1.5 0-1.5 0-1.5-.1-1.5 0-1.6 0-1.6 0-1.6 0-1.7 0-1.7 0-1.7 0-1.8-.1-1.8 0-1.8-.1-1.9-.1-1.9 0-2-.1-2-.6-2-.6-2.2-.6-2.2-.6-2.2-.5-2.4-.6-2.4-.6-2.4-.7-2.5-.6-2.5-.7-2.6-.7-2.6-.7-2.7-.8-2.8-.8-3-.7-3-.8-3.3-.9-3.4-1.4-3.6-1.4-3.6-1.4-3.8-1.4-3.8-1.5-3.9-1.6-4-1.6-4.1-1.6-4.1-1.8-3.6-1.9-2.9-2.1-2.5-2.3-2.3-2.4-2.2-2.4-2-2.4-1.8-2.5-1.5-1.8-1.4-1.5-1.2-1.4-1-1.5-.8-1.5-.6-1.6-.2-1.6 0-1.5 .5-1.6 .8-1.6 1.4-1.6 1.7-1.6 2-1.5 2.2-1.5 2.2-1.4 2.3-1.4 2.3-1.4 2.4-1.2 2.3-1.1 2.3-1.1 2.3-1.1 2.2-1 2.3-1 2.2-1 2.2-.9 2.1-.8 2.2-.9 2.1-.8 2.1-.7 2.2-.7 2-.7 1.9-.7 1.7-.7 1.7-.7 1.7-.6 1.6-.7 1.6-.6 1.5-.6 1.5-.6 1.6-.6 1.5-.6z"/><path d="M894.8 228.6l1.5-.5 1.4-.6 1.5-.5 1.4-.4 1.5-.5 1.4-.5 1.5-.4 1.5-.4 1.5-.4 1.4-.4 1.5-.4 1.5-.3 1.5-.4 1.5-.3 1.4-.3 1.5-.4 1.4-.3 1.4-.3 1.4-.3 1.4-.3 1.4-.3 1.4-.3 1.4-.2 1.4-.3 1.4-.3 1.4-.3 1.4-.3 1.4-.3 1.4-.3 1.4-.2 1.4-.3 1.4-.3 1.3-.3 1.5-.3 1.4-.3 1.4-.2 1.4-.3 1.5-.3 1.4-.2 1.5-.3 1.4-.2 1.5-.2 1.5-.3 1.6-.2 1.5-.2 1.5-.2 1.6-.2 1.6-.1 1.6-.2 1.6-.1 1.6-.2 1.7-.1 1.6-.1 1.7-.1 1.7-.1 1.7-.1 1.7-.1 1.8-.2 1.7-.1 1.9-.1 1.8-.2 1.9-.1 1.9-.2 1.9-.1 2-.2 2.1-.2 2-.1 2.2-.2 2.1-.1 2.2-.1 2.3-.1 2.2-.1 2.4-.1 2.4-.1 2.4 0 2.5 .5 2.6 .6 2.8 .5 2.9 .5 2.9 .5 2.7 .8 2.5 .9 2.4 1 2.4 1.1 2.3 1.1 2.3 1.2 2.3 1.2 2.3 1.3 2.2 1.3 2.1 1.3 2.2 1.4 2.1 1.4 2 1.4 2.1 1.5 1.9 1.5 1.9 1.6 1.9 1.8 1.8 1.9 1.7 1.9 1.7 1.9 1.7 2 1.5 2 1.6 2 1.4 2.1 1.4 2 1.5 2.1 1.4 2.1 1.3 2.1 1.3 2.1 1.1 2.2 1.1 2.1 1 2.2 .8 1.8 .8 1.4 .7 1.3 .5 1.4 .4 1.4 .3 1.4 .1 1.4 .1 1.4-.1 1.4-.2 1.4-.3 1.4-.3 1.4-.5 1.3-.5 1.4-.6 1.3-.7 1.3-.7 1.3-.9 1.3-.9 1.3-1 1.2-1.2 1.2-1.4 1.2-1.5 1.2-1.8 1-2.2 1.1-2.8 .8-2.8 .8-2.8 .8-2.7 .8-2.8 .6-2.7 .7-2.8 .6-2.7 .5-2.6 .5-2.5 .5-2.5 .5-2.3 .5-2.2 .4-2.2 .4-2.1 .3-2 .3-2 .3-1.9 .3-1.8 .3-1.8 .3-1.7 .3-1.8 .3-1.6 .2-1.6 .3-1.6 .2-1.6 .3-1.5 .2-1.5 .2-1.5 .3-1.4 .2-1.4 .2-1.4 .3-1.4 .2-1.3 .2-1.4 .2-1.3 .2-1.4 .2-1.3 .2-1.3 .1-1.3 .2-1.3 .2-1.3 .2-1.3 .1-1.2 .2-1.3 .1-1.3 .2-1.2 .1-1.3 .2-1.3 .1-1.2 .2-1.3 .1-1.2 .1-1.3 .2-1.3 .1-1.2 .1-1.3 .1-1.3 .1-1.3 .1-1.2 .1-1.3 .1-1.3 .1-1.3 .1-1.4 .1-1.3 0-1.3-.1-1.4 0-1.3 0-1.4-.1-1.4 0-1.4 0-1.4-.1-1.4 0-1.5 0-1.5 0-1.5 0-1.5-.1-1.6 0-1.6 0-1.7 0-1.6 0-1.7 0-1.8 0-1.7-.1-1.8 0-1.9-.1-1.9 0-1.9-.1-1.9-.1-2-.6-2.1-.6-2.1-.5-2.2-.6-2.3-.6-2.3-.6-2.4-.6-2.5-.6-2.5-.7-2.5-.6-2.6-.7-2.7-.8-2.7-.7-2.8-.8-2.9-.7-3.1-.8-3.2-.9-3.4-1.4-3.6-1.3-3.7-1.4-3.7-1.5-3.8-1.5-4-1.5-3.9-1.6-4.1-1.7-4.2-1.7-3.6-1.9-2.9-2.1-2.6-2.3-2.3-2.3-2.1-2.4-2.1-2.5-1.8-2.5-1.5-1.8-1.3-1.4-1.2-1.5-1-1.4-.8-1.6-.6-1.5-.2-1.6 .1-1.5 .4-1.6 .9-1.6 1.3-1.6 1.8-1.6 2-1.5 2.1-1.5 2.3-1.4 2.2-1.4 2.4-1.3 2.3-1.2 2.3-1.2 2.3-1.1 2.3-1 2.3-1 2.2-1 2.2-1 2.2-.9 2.2-.8 2.1-.9 2.1-.8 2.2-.7 2.1-.7 2-.7 1.9-.7 1.8-.7 1.7-.7 1.6-.6 1.6-.7 1.6-.6 1.5-.6 1.6-.6 1.5-.6 1.5-.6z"/><path d="M894.6 227.2l1.5-.5 1.5-.5 1.4-.5 1.5-.5 1.4-.5 1.5-.4 1.4-.4 1.5-.5 1.5-.3 1.5-.4 1.5-.4 1.5-.3 1.5-.4 1.4-.3 1.5-.3 1.4-.3 1.5-.3 1.4-.3 1.4-.3 1.4-.3 1.5-.3 1.4-.3 1.4-.3 1.4-.2 1.4-.3 1.4-.3 1.3-.3 1.4-.3 1.4-.3 1.4-.3 1.4-.2 1.4-.3 1.4-.3 1.4-.3 1.4-.3 1.4-.2 1.5-.3 1.4-.2 1.5-.3 1.4-.2 1.5-.3 1.5-.2 1.5-.3 1.5-.2 1.6-.2 1.5-.2 1.6-.2 1.6-.1 1.6-.2 1.6-.1 1.6-.1 1.7-.1 1.6-.2 1.7-.1 1.7-.1 1.7-.1 1.7-.1 1.8-.1 1.8-.2 1.8-.1 1.8-.1 1.9-.2 1.9-.2 2-.1 1.9-.2 2.1-.1 2.1-.2 2.1-.1 2.1-.2 2.2-.1 2.3-.1 2.3-.1 2.3-.1 2.4-.1 2.5 0 2.5 .5 2.6 .6 2.7 .5 2.9 .5 2.9 .5 2.7 .7 2.5 .9 2.5 1 2.3 1.1 2.4 1.1 2.3 1.2 2.3 1.2 2.2 1.2 2.2 1.3 2.2 1.3 2.2 1.4 2.1 1.3 2 1.5 2.1 1.4 1.9 1.5 1.9 1.6 1.9 1.8 1.8 1.9 1.8 1.9 1.7 1.9 1.7 1.9 1.5 2 1.6 2 1.4 2 1.5 2 1.4 2.1 1.4 2 1.4 2.1 1.2 2.1 1.2 2.1 1.1 2.2 .9 2.2 .9 1.7 .8 1.4 .6 1.4 .6 1.3 .4 1.4 .2 1.4 .2 1.4 0 1.4-.1 1.4-.2 1.4-.3 1.4-.3 1.4-.5 1.4-.5 1.3-.6 1.4-.7 1.3-.8 1.3-.8 1.3-1 1.2-1 1.3-1.2 1.2-1.4 1.2-1.5 1.1-1.8 1.1-2.2 1-2.8 .9-2.8 .8-2.8 .8-2.7 .7-2.8 .7-2.7 .6-2.7 .6-2.8 .6-2.6 .5-2.5 .5-2.4 .5-2.4 .4-2.2 .5-2.2 .3-2 .4-2.1 .3-1.9 .3-1.9 .3-1.9 .3-1.8 .3-1.7 .3-1.7 .3-1.7 .2-1.6 .3-1.6 .2-1.6 .3-1.5 .2-1.5 .2-1.5 .3-1.4 .2-1.4 .2-1.4 .3-1.4 .2-1.4 .2-1.3 .2-1.4 .2-1.3 .2-1.3 .2-1.3 .2-1.3 .1-1.3 .2-1.3 .2-1.3 .1-1.3 .2-1.3 .1-1.2 .2-1.3 .1-1.2 .2-1.3 .1-1.3 .2-1.2 .1-1.3 .1-1.3 .2-1.2 .1-1.3 .1-1.3 .1-1.2 .1-1.3 .1-1.3 .1-1.3 .1-1.3 .1-1.3 .1-1.3 .1-1.4 0-1.3 0-1.4-.1-1.3 0-1.4 0-1.4-.1-1.4 0-1.4 0-1.4-.1-1.5 0-1.5 0-1.5 0-1.6 0-1.5 0-1.7 0-1.6 0-1.7-.1-1.7 0-1.7 0-1.8 0-1.8-.1-1.8 0-1.9-.1-1.9-.1-2-.1-2-.5-2.1-.6-2.1-.6-2.2-.6-2.3-.5-2.3-.6-2.4-.6-2.5-.6-2.5-.7-2.6-.7-2.5-.7-2.7-.7-2.7-.7-2.8-.8-2.9-.7-3.1-.8-3.3-.9-3.4-1.4-3.6-1.3-3.6-1.4-3.8-1.4-3.8-1.5-3.9-1.6-4-1.6-4.1-1.6-4.2-1.7-3.6-1.9-3-2.1-2.5-2.3-2.3-2.3-2.2-2.4-2-2.4-1.8-2.5-1.6-1.8-1.3-1.4-1.2-1.5-1-1.5-.8-1.5-.5-1.5-.2-1.6 .1-1.5 .4-1.6 .9-1.6 1.3-1.6 1.8-1.5 2-1.5 2.1-1.5 2.3-1.4 2.3-1.4 2.3-1.3 2.3-1.2 2.4-1.2 2.3-1.1 2.2-1.1 2.3-1 2.2-1 2.2-.9 2.2-.9 2.2-.9 2.1-.8 2.1-.8 2.1-.7 2.2-.8 2-.7 1.9-.6 1.7-.7 1.8-.7 1.6-.6 1.6-.7 1.6-.6 1.5-.6 1.6-.6 1.5-.6 1.5-.6z"/><path d="M894.4 225.8l1.5-.5 1.5-.5 1.4-.5 1.5-.5 1.4-.4 1.5-.5 1.5-.4 1.5-.4 1.5-.4 1.5-.3 1.5-.4 1.5-.3 1.4-.4 1.5-.3 1.5-.3 1.4-.3 1.5-.3 1.4-.3 1.4-.3 1.4-.3 1.5-.3 1.4-.2 1.4-.3 1.4-.3 1.4-.2 1.4-.3 1.4-.3 1.4-.3 1.4-.3 1.4-.3 1.4-.3 1.3-.2 1.5-.3 1.4-.3 1.4-.3 1.4-.2 1.4-.3 1.5-.2 1.4-.3 1.5-.2 1.5-.3 1.5-.2 1.5-.3 1.5-.2 1.6-.2 1.5-.2 1.6-.1 1.6-.2 1.6-.1 1.6-.2 1.6-.1 1.7-.1 1.6-.1 1.7-.2 1.7-.1 1.7-.1 1.7-.1 1.8-.1 1.8-.1 1.8-.2 1.8-.1 1.9-.2 1.9-.1 2-.2 2-.2 2-.1 2.1-.2 2.1-.1 2.2-.2 2.2-.1 2.2-.1 2.3-.1 2.3-.1 2.4-.1 2.5 0 2.5 .5 2.6 .6 2.7 .5 3 .4 2.9 .5 2.7 .8 2.5 .9 2.4 1 2.4 1 2.3 1.1 2.3 1.2 2.3 1.1 2.3 1.3 2.2 1.2 2.2 1.3 2.1 1.4 2.2 1.3 2 1.4 2.1 1.5 2 1.4 1.9 1.6 1.9 1.8 1.8 1.8 1.8 1.9 1.7 1.9 1.7 1.9 1.6 1.9 1.5 2 1.5 2 1.4 2 1.5 2 1.4 2.1 1.3 2 1.3 2.1 1.2 2.1 1 2.1 1 2.2 .9 1.7 .8 1.4 .6 1.4 .5 1.4 .4 1.4 .3 1.4 .1 1.4 .1 1.4-.1 1.4-.2 1.4-.3 1.4-.4 1.3-.5 1.4-.6 1.4-.6 1.3-.6 1.3-.8 1.3-.9 1.3-.9 1.3-1.1 1.2-1.2 1.2-1.3 1.2-1.6 1.2-1.8 1-2.2 1.1-2.8 .8-2.8 .9-2.8 .7-2.7 .8-2.7 .7-2.8 .6-2.7 .6-2.8 .5-2.6 .6-2.5 .5-2.4 .5-2.3 .4-2.3 .5-2.1 .3-2.1 .4-2 .3-2 .3-1.9 .3-1.8 .3-1.8 .3-1.8 .3-1.7 .2-1.7 .3-1.6 .3-1.6 .2-1.6 .3-1.5 .2-1.5 .3-1.4 .2-1.5 .2-1.4 .2-1.4 .3-1.4 .2-1.4 .2-1.3 .2-1.4 .2-1.3 .2-1.3 .2-1.3 .2-1.4 .2-1.3 .1-1.2 .2-1.3 .2-1.3 .1-1.3 .2-1.3 .1-1.2 .2-1.3 .1-1.3 .2-1.2 .1-1.3 .1-1.3 .2-1.2 .1-1.3 .1-1.3 .1-1.2 .1-1.3 .1-1.3 .2-1.3 .1-1.3 .1-1.3 .1-1.3 0-1.3 .1-1.4 0-1.3 0-1.4 0-1.3-.1-1.4 0-1.4 0-1.4-.1-1.4 0-1.5 0-1.4-.1-1.5 0-1.5 0-1.6 0-1.6 0-1.6 0-1.6 0-1.7 0-1.7-.1-1.8 0-1.7 0-1.9-.1-1.8 0-1.9-.1-1.9-.1-2 0-2-.6-2.1-.6-2.1-.6-2.2-.5-2.3-.6-2.3-.6-2.4-.6-2.5-.6-2.5-.6-2.6-.7-2.6-.7-2.6-.7-2.7-.7-2.8-.8-3-.7-3.1-.8-3.2-.9-3.5-1.3-3.5-1.4-3.7-1.4-3.8-1.4-3.8-1.5-3.9-1.5-4-1.6-4.1-1.6-4.2-1.7-3.7-1.9-2.9-2.1-2.6-2.2-2.3-2.3-2.2-2.4-2.1-2.4-1.7-2.5-1.6-1.8-1.3-1.4-1.1-1.5-1-1.5-.8-1.5-.5-1.5-.2-1.6 .1-1.5 .4-1.6 .9-1.6 1.4-1.6 1.7-1.5 2-1.5 2.2-1.5 2.2-1.4 2.3-1.4 2.3-1.3 2.3-1.2 2.4-1.1 2.3-1.1 2.2-1.1 2.3-1 2.2-1 2.2-.9 2.2-.9 2.1-.9 2.2-.8 2.1-.8 2.1-.7 2.1-.8 2-.7 1.9-.7 1.8-.6 1.7-.7 1.7-.7 1.6-.6 1.6-.6 1.5-.6 1.6-.6 1.5-.6 1.5-.5z"/><path d="M894.2 224.4l1.5-.5 1.5-.5 1.4-.5 1.5-.4 1.5-.5 1.4-.4 1.5-.4 1.5-.4 1.5-.4 1.5-.4 1.5-.3 1.5-.4 1.5-.3 1.5-.3 1.4-.3 1.5-.3 1.5-.3 1.4-.3 1.4-.3 1.4-.3 1.5-.2 1.4-.3 1.4-.3 1.4-.2 1.4-.3 1.4-.3 1.4-.2 1.4-.3 1.4-.3 1.4-.3 1.4-.3 1.4-.3 1.4-.2 1.4-.3 1.4-.3 1.5-.2 1.4-.3 1.5-.3 1.4-.2 1.5-.2 1.5-.3 1.5-.2 1.5-.2 1.5-.3 1.5-.2 1.6-.2 1.6-.1 1.6-.2 1.6-.1 1.6-.1 1.6-.2 1.7-.1 1.7-.1 1.6-.1 1.7-.1 1.7-.2 1.8-.1 1.7-.1 1.8-.1 1.8-.2 1.9-.1 1.8-.2 1.9-.1 2-.2 2-.2 2-.1 2.1-.2 2.1-.1 2.2-.2 2.2-.1 2.3-.1 2.2-.1 2.4-.1 2.4-.1 2.4 0 2.5 .5 2.6 .6 2.8 .4 2.9 .5 2.9 .5 2.7 .7 2.5 .9 2.5 1 2.3 1 2.4 1.1 2.3 1.1 2.3 1.2 2.3 1.2 2.2 1.2 2.2 1.3 2.1 1.4 2.2 1.3 2 1.4 2.1 1.4 2 1.5 1.9 1.5 1.9 1.8 1.8 1.8 1.9 1.8 1.7 1.9 1.7 1.9 1.6 1.9 1.5 1.9 1.5 2 1.5 2 1.4 2 1.5 2 1.3 2 1.3 2.1 1.2 2.1 1 2.1 1 2.1 .9 1.7 .8 1.4 .6 1.4 .5 1.4 .4 1.4 .3 1.4 .1 1.4 0 1.4-.1 1.4-.2 1.4-.3 1.4-.4 1.4-.5 1.4-.6 1.3-.6 1.3-.7 1.4-.8 1.3-.8 1.3-1 1.2-1 1.3-1.2 1.2-1.4 1.2-1.6 1.1-1.8 1.1-2.2 1-2.8 .9-2.8 .8-2.8 .8-2.7 .7-2.7 .7-2.7 .7-2.8 .6-2.7 .5-2.7 .5-2.5 .5-2.4 .5-2.3 .5-2.2 .5-2.2 .3-2.1 .4-2 .3-2 .3-1.9 .3-1.8 .3-1.8 .3-1.8 .3-1.7 .2-1.6 .3-1.7 .3-1.6 .2-1.5 .3-1.6 .2-1.5 .3-1.4 .2-1.5 .2-1.4 .3-1.4 .2-1.4 .2-1.4 .2-1.3 .2-1.4 .2-1.3 .2-1.3 .2-1.4 .2-1.3 .2-1.3 .1-1.3 .2-1.3 .2-1.2 .1-1.3 .2-1.3 .1-1.3 .2-1.2 .1-1.3 .2-1.3 .1-1.2 .1-1.3 .2-1.3 .1-1.3 .1-1.2 .1-1.3 .2-1.3 .1-1.3 .1-1.3 .1-1.3 .1-1.3 .1-1.3 .1-1.3 .1-1.4-.1-1.3 0-1.4 0-1.3-.1-1.4 0-1.4 0-1.4-.1-1.4 0-1.5 0-1.5 0-1.5-.1-1.5 0-1.5 0-1.6 0-1.6 0-1.7 0-1.7 0-1.7 0-1.7 0-1.8-.1-1.8 0-1.9-.1-1.9-.1-1.9 0-2-.1-2-.6-2.1-.5-2.1-.6-2.2-.6-2.3-.5-2.3-.6-2.5-.6-2.4-.6-2.5-.6-2.6-.7-2.6-.7-2.6-.7-2.8-.8-2.8-.7-2.9-.7-3.1-.8-3.3-.9-3.4-1.3-3.6-1.4-3.7-1.3-3.7-1.5-3.9-1.4-3.9-1.5-4-1.6-4.2-1.6-4.2-1.7-3.6-1.9-3-2.1-2.6-2.2-2.3-2.3-2.2-2.4-2.1-2.4-1.8-2.5-1.5-1.7-1.3-1.5-1.1-1.4-1-1.5-.7-1.5-.6-1.5-.2-1.6 .2-1.5 .4-1.6 .9-1.6 1.4-1.5 1.7-1.6 2-1.5 2.2-1.4 2.2-1.4 2.3-1.4 2.3-1.3 2.3-1.2 2.3-1.2 2.3-1.1 2.3-1 2.2-1 2.3-1 2.2-.9 2.2-.9 2.1-.9 2.1-.8 2.1-.8 2.2-.8 2.1-.7 2-.7 1.9-.7 1.8-.6 1.7-.7 1.7-.7 1.6-.6 1.6-.6 1.5-.6 1.6-.6 1.5-.6 1.5-.5z"/><path d="M894 223l1.5-.5 1.5-.5 1.5-.5 1.4-.4 1.5-.5 1.5-.4 1.5-.4 1.5-.4 1.5-.4 1.5-.3 1.5-.4 1.5-.3 1.5-.3 1.4-.3 1.5-.3 1.5-.3 1.4-.3 1.5-.3 1.4-.3 1.4-.2 1.5-.3 1.4-.3 1.4-.2 1.4-.3 1.4-.2 1.4-.3 1.4-.3 1.4-.3 1.4-.2 1.4-.3 1.4-.3 1.4-.3 1.4-.3 1.5-.2 1.4-.3 1.4-.3 1.5-.2 1.4-.3 1.5-.2 1.5-.2 1.4-.3 1.5-.2 1.6-.2 1.5-.3 1.5-.2 1.6-.1 1.6-.2 1.6-.2 1.6-.1 1.6-.1 1.6-.2 1.7-.1 1.7-.1 1.6-.1 1.7-.1 1.7-.1 1.8-.2 1.7-.1 1.8-.1 1.8-.2 1.9-.1 1.9-.2 1.9-.1 1.9-.2 2-.2 2.1-.1 2-.2 2.2-.1 2.1-.2 2.2-.1 2.3-.1 2.3-.1 2.3-.1 2.4-.1 2.5 0 2.5 .5 2.6 .5 2.7 .5 2.9 .4 2.9 .5 2.7 .7 2.6 .9 2.4 1 2.4 1 2.3 1.1 2.4 1.1 2.3 1.1 2.2 1.2 2.3 1.3 2.2 1.2 2.1 1.4 2.2 1.3 2.1 1.4 2 1.4 2 1.4 2 1.5 1.9 1.8 1.8 1.8 1.8 1.8 1.8 1.8 1.7 1.9 1.6 1.9 1.6 1.9 1.5 1.9 1.5 2 1.4 1.9 1.4 2 1.4 2 1.3 2.1 1.2 2 1.1 2.1 .9 2.1 .9 1.8 .8 1.3 .6 1.4 .5 1.4 .4 1.4 .3 1.4 .1 1.4 0 1.4-.1 1.5-.2 1.4-.4 1.3-.4 1.4-.5 1.4-.6 1.3-.6 1.4-.7 1.3-.8 1.3-.9 1.3-.9 1.3-1.1 1.2-1.2 1.2-1.4 1.2-1.6 1.1-1.8 1.1-2.2 1.1-2.8 .8-2.8 .9-2.7 .7-2.8 .8-2.7 .7-2.7 .6-2.8 .6-2.7 .6-2.6 .5-2.5 .5-2.4 .5-2.3 .5-2.3 .4-2.1 .4-2.1 .3-2.1 .4-1.9 .3-1.9 .3-1.9 .3-1.8 .3-1.7 .3-1.7 .2-1.7 .3-1.7 .3-1.6 .2-1.5 .3-1.5 .2-1.5 .3-1.5 .2-1.5 .2-1.4 .3-1.4 .2-1.4 .2-1.4 .2-1.3 .2-1.4 .2-1.3 .2-1.4 .2-1.3 .2-1.3 .2-1.3 .2-1.3 .1-1.3 .2-1.3 .2-1.3 .1-1.2 .2-1.3 .1-1.3 .2-1.3 .1-1.2 .1-1.3 .2-1.3 .1-1.2 .1-1.3 .1-1.3 .2-1.3 .1-1.3 .1-1.3 .1-1.3 .1-1.3 .1-1.3 .1-1.3 .1-1.3 .1-1.4 0-1.3-.1-1.4 0-1.3 0-1.4-.1-1.4 0-1.4 0-1.5-.1-1.4 0-1.5 0-1.5 0-1.5 0-1.6-.1-1.6 0-1.6 0-1.6 0-1.7 0-1.7 0-1.8 0-1.8-.1-1.8 0-1.8-.1-1.9 0-2-.1-1.9-.1-2.1-.5-2-.6-2.2-.6-2.2-.5-2.3-.6-2.4-.6-2.4-.5-2.4-.6-2.6-.7-2.5-.6-2.6-.7-2.7-.7-2.7-.8-2.8-.7-3-.7-3.1-.8-3.3-.9-3.4-1.3-3.6-1.3-3.7-1.4-3.7-1.4-3.9-1.5-4-1.5-4-1.5-4.1-1.6-4.2-1.7-3.6-1.9-3-2-2.6-2.3-2.4-2.3-2.3-2.3-2-2.4-1.8-2.5-1.5-1.8-1.3-1.4-1.1-1.4-1-1.5-.7-1.5-.5-1.5-.2-1.6 .1-1.5 .5-1.6 .9-1.6 1.4-1.5 1.7-1.5 2-1.5 2.2-1.5 2.2-1.4 2.3-1.3 2.3-1.3 2.3-1.2 2.3-1.2 2.3-1.1 2.3-1 2.2-1.1 2.2-.9 2.2-1 2.2-.9 2.2-.8 2.1-.8 2.1-.8 2.1-.8 2.2-.7 2-.7 1.9-.7 1.7-.7 1.8-.6 1.6-.7 1.6-.6 1.6-.6 1.6-.6 1.5-.6 1.6-.6 1.5-.5z"/><path d="M893.8 221.6l1.5-.5 1.5-.5 1.5-.4 1.4-.5 1.5-.4 1.5-.5 1.5-.4 1.5-.3 1.5-.4 1.5-.4 1.5-.3 1.5-.3 1.5-.3 1.5-.3 1.5-.3 1.4-.3 1.5-.3 1.4-.3 1.5-.2 1.4-.3 1.4-.3 1.5-.2 1.4-.3 1.4-.2 1.4-.2 1.4-.3 1.4-.3 1.4-.3 1.4-.3 1.5-.3 1.4-.2 1.4-.3 1.4-.3 1.4-.2 1.4-.3 1.5-.3 1.4-.2 1.5-.3 1.4-.2 1.5-.2 1.5-.3 1.5-.2 1.5-.2 1.6-.3 1.5-.2 1.6-.1 1.6-.2 1.6-.2 1.6-.1 1.6-.1 1.6-.1 1.7-.2 1.7-.1 1.6-.1 1.7-.1 1.8-.1 1.7-.2 1.8-.1 1.7-.1 1.9-.2 1.8-.1 1.9-.2 1.9-.1 2-.2 2-.1 2-.2 2.1-.2 2.1-.1 2.2-.2 2.2-.1 2.2-.1 2.3-.1 2.4-.1 2.3-.1 2.5 0 2.5 .5 2.6 .5 2.8 .5 2.9 .4 2.9 .5 2.7 .7 2.5 .8 2.4 1 2.4 1 2.4 1.1 2.3 1.1 2.3 1.1 2.3 1.2 2.2 1.2 2.2 1.2 2.2 1.3 2.2 1.4 2.1 1.3 2 1.4 2.1 1.4 1.9 1.5 1.9 1.8 1.9 1.7 1.8 1.8 1.8 1.8 1.7 1.8 1.7 1.9 1.5 1.9 1.6 1.9 1.5 2 1.4 1.9 1.4 2 1.4 2 1.3 2 1.2 2 1.1 2.1 1 2 .8 1.8 .8 1.3 .7 1.4 .5 1.4 .3 1.4 .3 1.4 .1 1.5 0 1.4-.1 1.4-.3 1.4-.3 1.4-.5 1.4-.5 1.3-.6 1.4-.6 1.3-.7 1.4-.8 1.3-.9 1.2-1 1.3-1.1 1.3-1.2 1.2-1.4 1.1-1.6 1.2-1.8 1.1-2.2 1-2.7 .9-2.8 .8-2.8 .8-2.8 .7-2.7 .7-2.7 .7-2.7 .6-2.8 .5-2.6 .6-2.5 .5-2.4 .5-2.3 .5-2.2 .4-2.2 .4-2.1 .3-2 .4-2 .3-1.9 .3-1.8 .3-1.8 .3-1.8 .3-1.7 .2-1.7 .3-1.6 .3-1.6 .2-1.6 .3-1.5 .2-1.5 .3-1.5 .2-1.4 .3-1.5 .2-1.4 .2-1.4 .2-1.4 .3-1.3 .2-1.4 .2-1.3 .2-1.4 .2-1.3 .1-1.3 .2-1.3 .2-1.3 .2-1.3 .1-1.3 .2-1.3 .1-1.3 .2-1.3 .1-1.2 .2-1.3 .1-1.3 .2-1.3 .1-1.2 .1-1.3 .1-1.3 .2-1.3 .1-1.3 .1-1.2 .1-1.3 .1-1.3 .1-1.3 .1-1.4 .1-1.3 .1-1.3 .1-1.4 0-1.3 0-1.4-.1-1.3 0-1.4 0-1.4-.1-1.4 0-1.5 0-1.4-.1-1.5 0-1.5 0-1.5 0-1.6 0-1.6 0-1.6 0-1.7 0-1.7-.1-1.7 0-1.7 0-1.8 0-1.8-.1-1.9 0-1.9-.1-1.9-.1-2 0-2.1-.6-2-.6-2.2-.5-2.2-.6-2.3-.5-2.4-.6-2.4-.6-2.5-.6-2.5-.6-2.6-.6-2.6-.7-2.6-.7-2.8-.8-2.8-.7-3-.7-3.1-.8-3.2-.9-3.5-1.3-3.6-1.3-3.7-1.4-3.7-1.4-3.9-1.4-4-1.5-4-1.5-4.1-1.6-4.2-1.7-3.7-1.8-3-2.1-2.7-2.2-2.4-2.3-2.2-2.3-2.1-2.5-1.7-2.4-1.6-1.8-1.3-1.4-1-1.4-1-1.5-.7-1.5-.5-1.5-.1-1.6 .1-1.5 .5-1.6 .9-1.5 1.4-1.6 1.7-1.5 2-1.5 2.2-1.5 2.2-1.4 2.3-1.3 2.3-1.3 2.3-1.2 2.3-1.1 2.3-1.1 2.3-1.1 2.2-1 2.2-1 2.2-.9 2.2-.9 2.1-.8 2.1-.9 2.2-.8 2.1-.7 2.1-.7 2-.7 1.9-.7 1.8-.7 1.7-.6 1.7-.7 1.6-.6 1.6-.6 1.6-.6 1.5-.6 1.6-.6 1.5-.5z"/><path d="M893.6 220.2l1.5-.5 1.5-.5 1.4-.4 1.5-.5 1.5-.4 1.5-.4 1.5-.4 1.5-.4 1.5-.4 1.5-.3 1.5-.3 1.5-.3 1.6-.4 1.4-.2 1.5-.3 1.5-.3 1.5-.3 1.4-.3 1.5-.2 1.4-.3 1.4-.2 1.5-.3 1.4-.2 1.4-.3 1.4-.2 1.4-.3 1.4-.2 1.5-.3 1.4-.3 1.4-.3 1.4-.3 1.4-.2 1.4-.3 1.4-.3 1.5-.2 1.4-.3 1.5-.2 1.4-.3 1.5-.2 1.5-.3 1.5-.2 1.5-.2 1.5-.2 1.5-.3 1.6-.1 1.6-.2 1.6-.2 1.6-.1 1.6-.2 1.6-.1 1.6-.1 1.7-.2 1.7-.1 1.7-.1 1.7-.1 1.7-.1 1.7-.1 1.8-.2 1.8-.1 1.8-.2 1.8-.1 1.9-.2 1.9-.1 2-.2 2-.1 2-.2 2.1-.2 2.1-.1 2.2-.2 2.2-.1 2.3-.1 2.3-.1 2.3-.1 2.4-.1 2.4 0 2.5 .5 2.6 .5 2.8 .4 2.9 .4 2.9 .5 2.7 .7 2.5 .9 2.5 .9 2.4 1 2.3 1 2.4 1.1 2.3 1.1 2.3 1.2 2.2 1.2 2.2 1.3 2.2 1.2 2.2 1.3 2.1 1.4 2.1 1.4 2 1.4 2 1.4 1.9 1.7 1.9 1.8 1.8 1.7 1.8 1.8 1.8 1.8 1.6 1.9 1.6 1.8 1.5 1.9 1.5 1.9 1.5 1.9 1.5 2 1.4 2 1.3 1.9 1.2 2.1 1 2 1 2 .9 1.8 .8 1.3 .6 1.4 .5 1.4 .4 1.5 .2 1.4 .1 1.4 0 1.4-.2 1.4-.2 1.4-.4 1.4-.4 1.4-.6 1.4-.6 1.3-.6 1.4-.7 1.3-.8 1.3-1 1.3-.9 1.3-1.1 1.2-1.2 1.2-1.5 1.2-1.6 1.1-1.8 1.1-2.1 1-2.8 .9-2.8 .9-2.8 .7-2.7 .8-2.7 .7-2.7 .6-2.8 .6-2.7 .6-2.6 .5-2.5 .6-2.4 .5-2.3 .4-2.3 .5-2.1 .4-2.1 .3-2 .3-2 .4-1.9 .3-1.9 .3-1.8 .3-1.7 .3-1.8 .3-1.6 .2-1.7 .3-1.6 .2-1.5 .3-1.6 .2-1.5 .3-1.5 .2-1.4 .3-1.5 .2-1.4 .2-1.4 .3-1.3 .2-1.4 .2-1.4 .2-1.3 .2-1.4 .2-1.3 .2-1.3 .1-1.3 .2-1.3 .2-1.3 .1-1.3 .2-1.3 .2-1.3 .1-1.3 .2-1.3 .1-1.2 .1-1.3 .2-1.3 .1-1.3 .1-1.3 .2-1.2 .1-1.3 .1-1.3 .1-1.3 .1-1.3 .1-1.3 .1-1.3 .1-1.3 .1-1.4 .1-1.3 .1-1.3 0-1.4 0-1.4 0-1.3-.1-1.4 0-1.4 0-1.5-.1-1.4 0-1.5 0-1.4-.1-1.5 0-1.6 0-1.5 0-1.6 0-1.7 0-1.6 0-1.7 0-1.7 0-1.8-.1-1.8 0-1.8 0-1.9-.1-1.9-.1-1.9 0-2-.1-2-.6-2.1-.5-2.2-.6-2.2-.5-2.3-.6-2.4-.5-2.4-.6-2.5-.6-2.5-.6-2.6-.7-2.6-.6-2.7-.8-2.7-.7-2.9-.7-2.9-.7-3.1-.8-3.3-.9-3.5-1.3-3.6-1.3-3.7-1.3-3.8-1.4-3.8-1.4-4-1.5-4-1.6-4.2-1.5-4.2-1.7-3.7-1.8-3-2.1-2.7-2.2-2.4-2.3-2.3-2.3-2-2.4-1.8-2.4-1.5-1.8-1.3-1.4-1.1-1.5-.9-1.4-.7-1.5-.4-1.5-.2-1.6 .2-1.5 .5-1.6 .9-1.5 1.4-1.6 1.7-1.5 2-1.5 2.1-1.4 2.3-1.4 2.2-1.3 2.3-1.3 2.4-1.2 2.3-1.2 2.3-1.1 2.2-1 2.2-1 2.2-1 2.2-.9 2.2-.9 2.2-.9 2.1-.8 2.1-.8 2.1-.7 2.1-.7 2-.7 1.9-.7 1.8-.7 1.7-.7 1.7-.6 1.6-.6 1.6-.7 1.6-.6 1.6-.5 1.5-.6 1.6-.5z"/><path d="M893.3 218.8l1.6-.5 1.4-.5 1.5-.4 1.5-.5 1.5-.4 1.5-.4 1.5-.4 1.5-.4 1.5-.3 1.5-.3 1.6-.4 1.5-.3 1.5-.3 1.5-.3 1.5-.3 1.5-.2 1.4-.3 1.5-.3 1.4-.2 1.5-.3 1.4-.2 1.4-.2 1.5-.3 1.4-.2 1.4-.2 1.4-.3 1.5-.3 1.4-.3 1.4-.2 1.4-.3 1.4-.3 1.4-.3 1.5-.2 1.4-.3 1.4-.3 1.5-.2 1.4-.3 1.5-.2 1.5-.2 1.5-.3 1.5-.2 1.5-.2 1.5-.2 1.5-.3 1.6-.1 1.6-.2 1.5-.2 1.7-.1 1.6-.2 1.6-.1 1.6-.1 1.7-.1 1.7-.2 1.7-.1 1.7-.1 1.7-.1 1.7-.1 1.8-.2 1.8-.1 1.8-.1 1.8-.2 1.9-.2 2-.1 1.9-.2 2-.1 2.1-.2 2-.2 2.2-.1 2.1-.2 2.3-.1 2.2-.1 2.3-.1 2.3-.1 2.4-.1 2.5 0 2.5 .5 2.6 .5 2.7 .4 2.9 .4 2.9 .5 2.7 .6 2.6 .9 2.4 .9 2.4 1 2.4 1 2.3 1.1 2.4 1.1 2.2 1.1 2.3 1.2 2.2 1.3 2.2 1.2 2.2 1.3 2.1 1.3 2.1 1.4 2 1.4 2 1.5 2 1.6 1.9 1.7 1.9 1.7 1.8 1.8 1.7 1.8 1.7 1.8 1.6 1.8 1.5 1.9 1.6 1.9 1.4 1.9 1.5 1.9 1.4 2 1.3 1.9 1.2 2 1.1 2 .9 2.1 .9 1.7 .8 1.3 .7 1.4 .5 1.4 .3 1.5 .2 1.4 .1 1.4 0 1.4-.2 1.4-.2 1.5-.4 1.3-.5 1.4-.5 1.4-.6 1.4-.7 1.3-.7 1.3-.9 1.3-.9 1.3-1 1.3-1.1 1.2-1.2 1.2-1.4 1.2-1.7 1.2-1.8 1.1-2.1 1-2.8 .9-2.8 .8-2.8 .8-2.7 .7-2.7 .7-2.7 .7-2.8 .6-2.7 .6-2.6 .5-2.5 .5-2.4 .5-2.3 .5-2.2 .5-2.2 .3-2.1 .4-2 .3-2 .4-1.9 .3-1.8 .3-1.8 .3-1.8 .3-1.7 .3-1.7 .2-1.6 .3-1.6 .2-1.6 .3-1.5 .3-1.6 .2-1.4 .2-1.5 .3-1.4 .2-1.4 .2-1.5 .3-1.3 .2-1.4 .2-1.4 .2-1.3 .2-1.4 .2-1.3 .2-1.3 .2-1.3 .1-1.3 .2-1.3 .2-1.3 .1-1.3 .2-1.3 .1-1.3 .2-1.3 .1-1.3 .2-1.3 .1-1.3 .1-1.2 .2-1.3 .1-1.3 .1-1.3 .1-1.3 .2-1.3 .1-1.3 .1-1.3 .1-1.3 .1-1.3 .1-1.4 .1-1.3 .1-1.3-.1-1.4 0-1.4 0-1.3 0-1.4-.1-1.5 0-1.4 0-1.4-.1-1.5 0-1.5 0-1.5 0-1.5-.1-1.6 0-1.6 0-1.6 0-1.7 0-1.7 0-1.7 0-1.8 0-1.8-.1-1.8 0-1.9-.1-1.9 0-1.9-.1-2-.1-2-.5-2.1-.6-2.2-.5-2.2-.6-2.3-.5-2.4-.6-2.4-.5-2.5-.6-2.6-.6-2.6-.7-2.6-.7-2.7-.7-2.7-.7-2.9-.7-2.9-.7-3.1-.8-3.3-.9-3.5-1.2-3.6-1.3-3.7-1.4-3.8-1.4-3.9-1.4-3.9-1.5-4.1-1.5-4.1-1.6-4.3-1.6-3.7-1.8-3-2.1-2.7-2.1-2.5-2.3-2.2-2.3-2.1-2.4-1.8-2.5-1.5-1.7-1.3-1.4-1-1.5-.9-1.4-.7-1.5-.4-1.5-.1-1.6 .1-1.5 .6-1.6 .9-1.5 1.3-1.5 1.8-1.6 2-1.4 2.1-1.5 2.2-1.4 2.3-1.3 2.3-1.3 2.3-1.2 2.3-1.1 2.3-1.1 2.3-1.1 2.2-1 2.2-.9 2.2-1 2.2-.9 2.1-.8 2.1-.8 2.1-.8 2.2-.8 2.1-.7 2-.7 1.9-.7 1.7-.6 1.8-.7 1.6-.6 1.7-.7 1.6-.6 1.5-.6 1.6-.5 1.6-.6 1.5-.6z"/><path d="M893.1 217.4l1.5-.5 1.5-.5 1.5-.4 1.5-.4 1.5-.5 1.5-.4 1.5-.4 1.5-.3 1.5-.4 1.6-.3 1.5-.3 1.5-.3 1.5-.3 1.5-.3 1.5-.3 1.5-.2 1.5-.3 1.4-.3 1.5-.2 1.4-.2 1.5-.3 1.4-.2 1.5-.2 1.4-.3 1.4-.2 1.4-.3 1.5-.2 1.4-.3 1.4-.3 1.4-.3 1.4-.2 1.5-.3 1.4-.3 1.4-.2 1.5-.3 1.4-.2 1.5-.3 1.4-.2 1.5-.3 1.5-.2 1.5-.2 1.5-.2 1.6-.3 1.5-.2 1.6-.2 1.5-.1 1.6-.2 1.6-.1 1.7-.2 1.6-.1 1.6-.1 1.7-.1 1.7-.2 1.7-.1 1.7-.1 1.7-.1 1.7-.1 1.8-.2 1.8-.1 1.8-.1 1.9-.2 1.9-.2 1.9-.1 1.9-.2 2.1-.1 2-.2 2.1-.2 2.1-.1 2.2-.2 2.2-.1 2.2-.1 2.3-.1 2.4-.1 2.4-.1 2.4 0 2.5 .5 2.6 .4 2.8 .5 2.9 .3 2.9 .5 2.7 .7 2.5 .8 2.5 .9 2.4 1 2.3 1 2.4 1 2.3 1.1 2.3 1.2 2.3 1.1 2.2 1.3 2.2 1.2 2.2 1.3 2.1 1.3 2.1 1.3 2.1 1.4 2 1.5 2 1.6 1.9 1.7 1.9 1.7 1.8 1.7 1.8 1.7 1.7 1.8 1.6 1.9 1.5 1.8 1.6 1.9 1.5 1.8 1.4 1.9 1.4 2 1.4 1.9 1.2 2 1 2 1 2 .9 1.7 .8 1.3 .6 1.4 .5 1.5 .3 1.4 .2 1.4 .1 1.4 0 1.5-.2 1.4-.3 1.4-.4 1.4-.4 1.4-.6 1.3-.6 1.4-.7 1.3-.7 1.4-.9 1.3-.9 1.3-1 1.2-1.1 1.3-1.3 1.2-1.4 1.2-1.6 1.1-1.8 1.1-2.2 1-2.8 .9-2.8 .9-2.7 .7-2.8 .8-2.7 .7-2.7 .7-2.7 .6-2.7 .5-2.6 .6-2.5 .5-2.4 .5-2.3 .5-2.2 .5-2.2 .3-2.1 .4-2 .3-2 .4-1.9 .3-1.8 .3-1.9 .3-1.7 .3-1.7 .3-1.7 .2-1.7 .3-1.6 .3-1.6 .2-1.5 .3-1.5 .2-1.5 .3-1.5 .2-1.4 .2-1.4 .3-1.4 .2-1.4 .2-1.4 .2-1.4 .2-1.3 .2-1.4 .2-1.3 .2-1.3 .2-1.3 .2-1.4 .1-1.3 .2-1.3 .2-1.3 .1-1.3 .2-1.3 .1-1.2 .2-1.3 .1-1.3 .1-1.3 .2-1.3 .1-1.3 .1-1.3 .2-1.3 .1-1.3 .1-1.3 .1-1.3 .1-1.3 .1-1.3 .1-1.3 .1-1.3 .1-1.4 .1-1.3 0-1.4-.1-1.4 0-1.4 0-1.4 0-1.4-.1-1.4 0-1.4 0-1.5-.1-1.5 0-1.5 0-1.5 0-1.6 0-1.6 0-1.7 0-1.6 0-1.7-.1-1.8 0-1.7 0-1.8 0-1.9-.1-1.8 0-1.9-.1-2-.1-2 0-2-.6-2.1-.5-2.2-.6-2.3-.5-2.3-.6-2.3-.5-2.5-.6-2.5-.5-2.5-.7-2.6-.6-2.6-.7-2.7-.7-2.8-.7-2.8-.7-3-.7-3.1-.7-3.3-.9-3.5-1.3-3.6-1.3-3.7-1.3-3.8-1.4-3.9-1.4-4-1.5-4-1.5-4.2-1.6-4.2-1.6-3.8-1.8-3-2-2.7-2.2-2.5-2.2-2.3-2.4-2.1-2.3-1.8-2.5-1.5-1.7-1.2-1.4-1.1-1.5-.8-1.4-.7-1.5-.4-1.5-.1-1.6 .2-1.5 .5-1.6 .9-1.5 1.4-1.5 1.8-1.5 2-1.5 2.1-1.4 2.2-1.4 2.3-1.3 2.3-1.3 2.3-1.2 2.3-1.1 2.3-1.1 2.2-1.1 2.2-1 2.2-1 2.2-.9 2.2-.9 2.1-.8 2.1-.9 2.1-.7 2.2-.8 2.1-.7 2-.7 1.9-.7 1.8-.6 1.7-.7 1.6-.7 1.7-.6 1.6-.6 1.6-.6 1.6-.6 1.5-.5 1.6-.6z"/><path d="M892.9 216l1.5-.5 1.5-.5 1.5-.4 1.5-.4 1.5-.4 1.5-.4 1.5-.4 1.5-.4 1.5-.3 1.6-.3 1.5-.4 1.5-.3 1.5-.2 1.6-.3 1.5-.3 1.4-.3 1.5-.2 1.5-.3 1.4-.2 1.5-.2 1.5-.3 1.4-.2 1.4-.2 1.5-.2 1.4-.2 1.4-.3 1.5-.3 1.4-.3 1.4-.2 1.4-.3 1.5-.3 1.4-.2 1.4-.3 1.5-.3 1.4-.2 1.5-.3 1.4-.2 1.5-.2 1.5-.3 1.5-.2 1.5-.2 1.5-.3 1.5-.2 1.6-.2 1.5-.2 1.6-.1 1.6-.2 1.6-.1 1.7-.2 1.6-.1 1.6-.1 1.7-.1 1.7-.2 1.7-.1 1.7-.1 1.7-.1 1.8-.1 1.7-.2 1.8-.1 1.8-.2 1.9-.1 1.9-.2 1.9-.1 2-.2 2-.2 2-.1 2.1-.2 2.1-.1 2.2-.2 2.2-.1 2.3-.1 2.3-.1 2.3-.1 2.4-.1 2.5 0 2.5 .4 2.6 .5 2.7 .4 2.9 .4 2.9 .5 2.7 .6 2.6 .8 2.4 .9 2.4 1 2.4 1 2.4 1 2.3 1.1 2.3 1.1 2.3 1.2 2.2 1.2 2.2 1.2 2.2 1.2 2.2 1.3 2.1 1.4 2 1.3 2.1 1.5 2 1.6 1.9 1.6 1.9 1.7 1.9 1.7 1.7 1.7 1.7 1.8 1.7 1.8 1.6 1.8 1.5 1.8 1.5 1.9 1.5 1.9 1.4 1.8 1.3 2 1.2 1.9 1.1 2 1 2 .9 1.7 .7 1.3 .7 1.4 .5 1.5 .3 1.4 .2 1.4 .1 1.4-.1 1.5-.2 1.4-.3 1.4-.4 1.4-.5 1.4-.6 1.4-.6 1.3-.7 1.4-.7 1.3-.9 1.3-.9 1.3-1.1 1.3-1.1 1.2-1.2 1.2-1.5 1.2-1.6 1.2-1.8 1.1-2.2 1-2.8 .9-2.7 .8-2.8 .8-2.7 .7-2.7 .8-2.7 .6-2.8 .6-2.7 .6-2.6 .5-2.4 .6-2.4 .5-2.3 .5-2.3 .4-2.1 .4-2.1 .4-2.1 .3-1.9 .3-1.9 .4-1.9 .3-1.8 .3-1.8 .3-1.7 .3-1.7 .2-1.6 .3-1.6 .3-1.6 .2-1.6 .3-1.5 .2-1.5 .3-1.4 .2-1.5 .3-1.4 .2-1.4 .2-1.4 .2-1.4 .3-1.3 .2-1.4 .2-1.4 .2-1.3 .1-1.3 .2-1.3 .2-1.4 .2-1.3 .1-1.3 .2-1.3 .2-1.3 .1-1.3 .1-1.3 .2-1.3 .1-1.3 .2-1.2 .1-1.3 .1-1.3 .2-1.3 .1-1.3 .1-1.3 .1-1.3 .1-1.3 .1-1.4 .1-1.3 .1-1.3 .1-1.3 .1-1.4 .1-1.3 0-1.4 0-1.4-.1-1.4 0-1.4 0-1.4 0-1.4-.1-1.5 0-1.4 0-1.5-.1-1.5 0-1.6 0-1.6 0-1.6 0-1.6 0-1.7 0-1.7 0-1.7 0-1.8-.1-1.8 0-1.8 0-1.9-.1-1.9-.1-2 0-2-.1-2-.5-2.2-.6-2.1-.5-2.3-.6-2.3-.5-2.4-.5-2.4-.6-2.5-.6-2.6-.6-2.6-.6-2.6-.7-2.7-.7-2.8-.7-2.8-.7-3-.7-3.1-.7-3.3-.9-3.5-1.3-3.6-1.3-3.7-1.3-3.8-1.4-3.9-1.4-4-1.4-4.1-1.5-4.2-1.6-4.2-1.6-3.8-1.8-3.1-2-2.7-2.2-2.5-2.2-2.3-2.3-2.1-2.4-1.8-2.4-1.5-1.7-1.2-1.5-1-1.4-.8-1.5-.7-1.4-.4-1.5-.1-1.6 .2-1.5 .6-1.5 .9-1.6 1.4-1.5 1.7-1.5 2-1.5 2.2-1.4 2.2-1.4 2.2-1.3 2.3-1.3 2.3-1.2 2.3-1.1 2.3-1.1 2.2-1 2.2-1 2.2-1 2.2-.9 2.2-.9 2.1-.9 2.1-.8 2.1-.8 2.2-.7 2.1-.7 2-.7 1.9-.7 1.8-.7 1.7-.6 1.7-.7 1.6-.6 1.6-.6 1.6-.6 1.6-.6 1.6-.5 1.5-.6z"/><path d="M892.6 214.6l1.5-.5 1.5-.5 1.5-.4 1.5-.4 1.5-.4 1.5-.4 1.6-.4 1.5-.3 1.5-.4 1.6-.3 1.5-.3 1.5-.3 1.6-.3 1.5-.3 1.5-.2 1.5-.3 1.5-.2 1.4-.3 1.5-.2 1.5-.2 1.4-.2 1.5-.3 1.4-.2 1.5-.2 1.4-.2 1.4-.3 1.5-.2 1.4-.3 1.4-.3 1.5-.2 1.4-.3 1.4-.3 1.5-.2 1.4-.3 1.5-.2 1.4-.3 1.5-.2 1.5-.3 1.4-.2 1.5-.2 1.6-.3 1.5-.2 1.5-.2 1.6-.2 1.5-.2 1.6-.1 1.6-.2 1.6-.1 1.7-.1 1.6-.2 1.6-.1 1.7-.1 1.7-.2 1.7-.1 1.7-.1 1.7-.1 1.8-.1 1.7-.2 1.8-.1 1.9-.2 1.8-.1 1.9-.2 1.9-.1 2-.2 2-.2 2.1-.1 2.1-.2 2.1-.1 2.2-.2 2.2-.1 2.2-.1 2.3-.1 2.4-.1 2.3-.1 2.5-.1 2.5 .5 2.6 .5 2.8 .4 2.9 .4 2.9 .4 2.7 .6 2.5 .8 2.5 .9 2.4 .9 2.4 1 2.3 1.1 2.4 1 2.3 1.1 2.3 1.2 2.2 1.2 2.2 1.2 2.2 1.2 2.2 1.3 2.1 1.3 2.1 1.4 2.1 1.4 2 1.5 1.9 1.7 1.9 1.6 1.9 1.7 1.8 1.7 1.7 1.7 1.7 1.8 1.6 1.8 1.5 1.8 1.6 1.8 1.4 1.9 1.5 1.8 1.3 1.9 1.2 2 1.1 1.9 1 2 .8 1.7 .8 1.3 .7 1.5 .5 1.4 .3 1.4 .2 1.4 0 1.5-.1 1.4-.2 1.4-.3 1.4-.4 1.4-.5 1.4-.6 1.4-.6 1.4-.8 1.3-.7 1.3-.9 1.4-1 1.2-1 1.3-1.1 1.3-1.3 1.2-1.4 1.2-1.7 1.1-1.8 1.1-2.2 1-2.7 .9-2.8 .8-2.8 .8-2.7 .8-2.7 .7-2.7 .7-2.7 .6-2.7 .6-2.6 .5-2.5 .5-2.4 .6-2.3 .4-2.2 .5-2.2 .4-2.1 .4-2 .3-1.9 .3-1.9 .4-1.9 .3-1.8 .3-1.8 .3-1.7 .3-1.7 .2-1.7 .3-1.6 .3-1.6 .2-1.5 .3-1.5 .2-1.5 .3-1.5 .2-1.4 .3-1.5 .2-1.4 .2-1.4 .3-1.4 .2-1.3 .2-1.4 .2-1.3 .2-1.4 .2-1.3 .2-1.3 .1-1.4 .2-1.3 .2-1.3 .1-1.3 .2-1.3 .1-1.3 .2-1.3 .1-1.3 .2-1.3 .1-1.3 .1-1.3 .2-1.3 .1-1.3 .1-1.3 .1-1.3 .1-1.3 .1-1.3 .2-1.3 .1-1.4 .1-1.3 .1-1.3 .1-1.4 0-1.3 0-1.4 0-1.4 0-1.4-.1-1.4 0-1.4 0-1.4 0-1.5-.1-1.5 0-1.5 0-1.5 0-1.5-.1-1.6 0-1.6 0-1.7 0-1.6 0-1.7 0-1.8 0-1.8 0-1.8-.1-1.8 0-1.9-.1-1.9 0-2-.1-2-.1-2.1-.5-2.1-.5-2.1-.6-2.3-.5-2.3-.5-2.4-.6-2.5-.5-2.5-.6-2.5-.6-2.6-.6-2.7-.7-2.7-.7-2.7-.7-2.9-.7-3-.7-3.1-.7-3.3-.9-3.5-1.3-3.6-1.2-3.8-1.3-3.8-1.4-3.9-1.4-4-1.4-4.1-1.5-4.2-1.6-4.2-1.6-3.8-1.8-3.1-2-2.8-2.1-2.5-2.2-2.3-2.3-2.1-2.4-1.8-2.4-1.5-1.8-1.2-1.4-1-1.4-.8-1.5-.6-1.5-.4-1.5-.1-1.5 .3-1.5 .5-1.5 1-1.6 1.3-1.5 1.8-1.5 2-1.5 2.1-1.4 2.2-1.3 2.3-1.3 2.3-1.3 2.3-1.2 2.3-1.1 2.2-1.1 2.3-1.1 2.2-1 2.2-.9 2.1-1 2.2-.9 2.1-.8 2.1-.8 2.1-.8 2.2-.8 2.1-.7 2-.7 1.9-.6 1.8-.7 1.7-.7 1.7-.6 1.6-.6 1.6-.6 1.6-.6 1.6-.6 1.6-.6 1.6-.5z"/><path d="M892.3 213.1l1.6-.4 1.5-.5 1.5-.4 1.5-.4 1.5-.4 1.5-.4 1.5-.4 1.6-.3 1.5-.3 1.6-.4 1.5-.3 1.6-.2 1.5-.3 1.5-.3 1.5-.2 1.5-.3 1.5-.2 1.5-.3 1.5-.2 1.4-.2 1.5-.2 1.4-.2 1.5-.2 1.4-.2 1.5-.2 1.4-.3 1.5-.3 1.4-.3 1.4-.2 1.5-.3 1.4-.3 1.4-.2 1.5-.3 1.4-.2 1.5-.3 1.5-.2 1.4-.3 1.5-.2 1.5-.2 1.5-.3 1.5-.2 1.5-.2 1.6-.2 1.5-.2 1.6-.2 1.6-.1 1.6-.2 1.6-.1 1.6-.1 1.7-.2 1.6-.1 1.7-.1 1.7-.2 1.7-.1 1.7-.1 1.7-.1 1.8-.1 1.8-.2 1.8-.1 1.8-.2 1.9-.1 1.8-.2 2-.1 1.9-.2 2.1-.2 2-.1 2.1-.2 2.1-.1 2.2-.2 2.2-.1 2.3-.1 2.3-.1 2.3-.1 2.4-.1 2.4-.1 2.6 .5 2.6 .5 2.7 .4 2.9 .3 2.9 .4 2.7 .7 2.6 .7 2.4 .9 2.4 .9 2.4 1 2.4 1 2.3 1.1 2.4 1.1 2.2 1.1 2.3 1.1 2.2 1.2 2.2 1.3 2.2 1.2 2.2 1.3 2.1 1.4 2 1.4 2.1 1.5 1.9 1.6 2 1.6 1.9 1.7 1.8 1.6 1.7 1.8 1.7 1.7 1.6 1.8 1.6 1.7 1.5 1.8 1.5 1.9 1.4 1.8 1.4 1.9 1.2 1.9 1.1 1.9 1 2 .8 1.6 .8 1.4 .7 1.4 .4 1.5 .4 1.4 .1 1.4 .1 1.5-.1 1.4-.2 1.4-.4 1.5-.4 1.4-.5 1.4-.6 1.3-.7 1.4-.7 1.3-.8 1.4-.9 1.3-1 1.3-1 1.2-1.2 1.3-1.2 1.2-1.5 1.2-1.6 1.1-1.9 1.1-2.1 1.1-2.8 .8-2.8 .9-2.7 .8-2.7 .7-2.7 .8-2.7 .6-2.7 .6-2.7 .6-2.6 .6-2.5 .5-2.4 .5-2.3 .5-2.2 .5-2.2 .4-2.1 .3-2 .4-2 .3-1.9 .4-1.8 .3-1.8 .3-1.8 .3-1.7 .3-1.7 .2-1.7 .3-1.6 .3-1.6 .2-1.6 .3-1.5 .3-1.5 .2-1.4 .3-1.5 .2-1.4 .2-1.4 .3-1.4 .2-1.4 .2-1.4 .2-1.4 .2-1.3 .2-1.4 .2-1.3 .2-1.3 .2-1.4 .1-1.3 .2-1.3 .2-1.3 .1-1.3 .2-1.3 .1-1.3 .2-1.3 .1-1.3 .1-1.3 .2-1.3 .1-1.3 .1-1.3 .1-1.3 .2-1.3 .1-1.4 .1-1.3 .1-1.3 .1-1.3 .1-1.4 .1-1.3 .1-1.4 .1-1.3 0-1.4-.1-1.4 0-1.4 0-1.4-.1-1.4 0-1.5 0-1.4 0-1.5-.1-1.5 0-1.5 0-1.6 0-1.6 0-1.6 0-1.6 0-1.7 0-1.7-.1-1.8 0-1.7 0-1.9 0-1.8-.1-1.9 0-1.9-.1-2-.1-2 0-2.1-.5-2.1-.6-2.2-.5-2.2-.5-2.4-.6-2.3-.5-2.5-.5-2.5-.6-2.6-.6-2.6-.6-2.6-.7-2.7-.7-2.8-.7-2.9-.7-3-.7-3.1-.7-3.4-.9-3.4-1.2-3.7-1.3-3.7-1.3-3.8-1.3-3.9-1.4-4.1-1.5-4-1.4-4.2-1.6-4.3-1.6-3.8-1.8-3.1-2-2.8-2.1-2.6-2.2-2.3-2.3-2.1-2.3-1.8-2.4-1.5-1.8-1.2-1.4-1-1.4-.7-1.5-.6-1.5-.4-1.5 0-1.5 .2-1.5 .6-1.5 .9-1.6 1.4-1.5 1.8-1.5 1.9-1.4 2.2-1.4 2.2-1.4 2.2-1.3 2.3-1.3 2.3-1.1 2.3-1.2 2.3-1.1 2.2-1 2.2-1 2.2-1 2.1-.9 2.2-.9 2.1-.8 2.1-.9 2.1-.7 2.2-.8 2.1-.7 2-.7 1.9-.7 1.8-.6 1.7-.7 1.7-.6 1.6-.7 1.6-.6 1.6-.6 1.6-.5 1.6-.6 1.6-.5z"/><path d="M892.1 211.7l1.5-.4 1.5-.5 1.5-.4 1.5-.4 1.6-.4 1.5-.4 1.5-.4 1.6-.3 1.5-.3 1.6-.3 1.5-.3 1.6-.3 1.5-.3 1.5-.2 1.5-.3 1.5-.2 1.5-.2 1.5-.3 1.5-.2 1.5-.2 1.4-.2 1.5-.2 1.5-.2 1.4-.2 1.5-.2 1.4-.3 1.5-.2 1.4-.3 1.4-.3 1.5-.2 1.4-.3 1.5-.3 1.4-.2 1.5-.3 1.4-.2 1.5-.3 1.5-.2 1.5-.2 1.5-.3 1.5-.2 1.5-.2 1.5-.2 1.6-.2 1.5-.2 1.6-.2 1.6-.2 1.6-.1 1.6-.1 1.6-.2 1.7-.1 1.7-.1 1.6-.1 1.7-.2 1.7-.1 1.7-.1 1.8-.1 1.7-.2 1.8-.1 1.8-.1 1.8-.2 1.9-.1 1.9-.2 1.9-.1 2-.2 2-.2 2-.1 2.1-.2 2.2-.2 2.1-.1 2.3-.1 2.2-.1 2.3-.1 2.3-.1 2.4-.1 2.5-.1 2.5 .5 2.6 .4 2.7 .4 3 .3 2.9 .5 2.7 .6 2.5 .7 2.5 .9 2.4 .9 2.4 1 2.4 1 2.3 1 2.3 1.1 2.3 1.1 2.3 1.1 2.3 1.2 2.2 1.2 2.2 1.3 2.1 1.3 2.1 1.3 2.1 1.4 2.1 1.5 2 1.5 1.9 1.6 1.9 1.6 1.9 1.7 1.7 1.7 1.7 1.7 1.6 1.7 1.6 1.8 1.6 1.8 1.5 1.8 1.4 1.8 1.4 1.9 1.2 1.8 1.1 1.9 1 2 .8 1.6 .8 1.4 .7 1.4 .4 1.5 .3 1.4 .2 1.4 0 1.5-.1 1.4-.2 1.5-.4 1.4-.4 1.4-.6 1.4-.6 1.4-.7 1.3-.7 1.4-.8 1.3-.9 1.3-1 1.3-1 1.3-1.2 1.2-1.3 1.2-1.4 1.2-1.7 1.2-1.8 1.1-2.2 1-2.8 .9-2.7 .8-2.8 .8-2.7 .8-2.7 .7-2.7 .7-2.7 .6-2.7 .6-2.6 .5-2.4 .6-2.4 .5-2.3 .5-2.2 .5-2.2 .4-2.1 .3-2 .4-2 .3-1.9 .3-1.8 .4-1.9 .3-1.7 .3-1.8 .3-1.7 .3-1.6 .2-1.6 .3-1.6 .3-1.6 .2-1.5 .3-1.5 .2-1.5 .3-1.5 .2-1.4 .2-1.4 .3-1.4 .2-1.4 .2-1.4 .2-1.4 .2-1.3 .3-1.4 .1-1.3 .2-1.3 .2-1.4 .2-1.3 .1-1.3 .2-1.3 .1-1.3 .2-1.4 .1-1.3 .2-1.3 .1-1.3 .2-1.3 .1-1.3 .1-1.3 .1-1.3 .2-1.3 .1-1.3 .1-1.3 .1-1.3 .1-1.4 .1-1.3 .1-1.4 .1-1.3 .1-1.4 .1-1.3 0-1.4 0-1.4-.1-1.4 0-1.4 0-1.4 0-1.5-.1-1.4 0-1.5 0-1.5-.1-1.6 0-1.5 0-1.6 0-1.6 0-1.7 0-1.7 0-1.7 0-1.7 0-1.8-.1-1.8 0-1.9 0-1.9-.1-1.9 0-2-.1-2-.1-2.1-.5-2.1-.5-2.2-.6-2.3-.5-2.3-.5-2.4-.5-2.5-.6-2.5-.5-2.5-.6-2.7-.7-2.6-.6-2.7-.7-2.8-.7-2.9-.7-3-.7-3.2-.7-3.3-.9-3.5-1.2-3.6-1.3-3.8-1.3-3.8-1.3-3.9-1.4-4-1.4-4.1-1.5-4.2-1.5-4.3-1.6-3.8-1.7-3.2-2-2.8-2.1-2.6-2.2-2.4-2.3-2.1-2.3-1.7-2.5-1.5-1.7-1.2-1.4-1-1.4-.7-1.5-.6-1.5-.3-1.5 0-1.5 .2-1.5 .6-1.5 .9-1.6 1.4-1.5 1.8-1.4 2-1.5 2.1-1.4 2.2-1.4 2.3-1.3 2.2-1.2 2.3-1.2 2.3-1.1 2.3-1.1 2.2-1.1 2.2-1 2.2-.9 2.1-.9 2.2-.9 2.1-.9 2.1-.8 2.1-.8 2.1-.7 2.1-.7 2-.7 1.9-.7 1.8-.7 1.8-.6 1.6-.7 1.7-.6 1.6-.6 1.6-.6 1.6-.6 1.6-.5 1.6-.5z"/><path d="M891.8 210.3l1.5-.4 1.5-.5 1.6-.4 1.5-.4 1.5-.4 1.5-.4 1.6-.3 1.5-.4 1.6-.3 1.6-.3 1.5-.3 1.6-.2 1.5-.3 1.5-.3 1.6-.2 1.5-.2 1.5-.3 1.5-.2 1.4-.2 1.5-.2 1.5-.2 1.5-.2 1.4-.2 1.5-.2 1.5-.2 1.4-.2 1.5-.3 1.4-.3 1.4-.2 1.5-.3 1.4-.3 1.5-.2 1.4-.3 1.5-.2 1.5-.3 1.4-.2 1.5-.2 1.5-.3 1.5-.2 1.5-.2 1.5-.2 1.6-.2 1.5-.2 1.6-.2 1.6-.2 1.6-.2 1.6-.1 1.6-.1 1.6-.2 1.7-.1 1.7-.1 1.6-.1 1.7-.2 1.7-.1 1.7-.1 1.8-.1 1.7-.2 1.8-.1 1.8-.1 1.8-.2 1.9-.1 1.9-.2 1.9-.2 2-.1 2-.2 2.1-.2 2.1-.1 2.1-.2 2.2-.1 2.2-.1 2.2-.1 2.3-.1 2.4-.1 2.4-.1 2.4-.1 2.5 .5 2.6 .4 2.8 .4 2.9 .3 2.9 .4 2.7 .6 2.5 .8 2.5 .8 2.4 .9 2.4 .9 2.4 1 2.4 1 2.3 1.1 2.3 1.1 2.3 1.1 2.3 1.2 2.2 1.2 2.2 1.2 2.2 1.3 2.1 1.3 2.1 1.3 2.1 1.5 2 1.6 2 1.5 1.9 1.6 1.8 1.6 1.8 1.7 1.7 1.7 1.7 1.7 1.6 1.8 1.5 1.7 1.6 1.8 1.4 1.8 1.4 1.8 1.2 1.9 1.1 1.9 1 1.9 .8 1.6 .8 1.4 .7 1.4 .4 1.5 .3 1.4 .2 1.5 0 1.4-.1 1.4-.3 1.5-.3 1.4-.5 1.4-.6 1.4-.6 1.4-.7 1.4-.8 1.3-.8 1.3-.9 1.4-1 1.2-1.1 1.3-1.1 1.3-1.3 1.2-1.5 1.2-1.7 1.1-1.8 1.1-2.2 1-2.7 .9-2.8 .9-2.7 .8-2.8 .7-2.6 .8-2.7 .6-2.7 .7-2.7 .5-2.6 .6-2.4 .5-2.4 .6-2.3 .5-2.3 .5-2.1 .3-2.1 .4-2 .4-2 .3-1.9 .3-1.9 .4-1.8 .3-1.8 .3-1.7 .3-1.7 .3-1.7 .2-1.6 .3-1.6 .3-1.5 .2-1.6 .3-1.5 .2-1.4 .3-1.5 .2-1.4 .3-1.5 .2-1.4 .2-1.4 .3-1.4 .2-1.3 .2-1.4 .2-1.4 .2-1.3 .1-1.3 .2-1.4 .2-1.3 .2-1.3 .1-1.3 .2-1.4 .1-1.3 .2-1.3 .1-1.3 .2-1.3 .1-1.3 .1-1.3 .1-1.3 .2-1.3 .1-1.4 .1-1.3 .1-1.3 .1-1.3 .1-1.4 .1-1.3 .2-1.3 .1-1.4 0-1.3 .1-1.4 0-1.4 0-1.4 0-1.4-.1-1.4 0-1.4 0-1.5 0-1.5-.1-1.4 0-1.6 0-1.5 0-1.6-.1-1.5 0-1.7 0-1.6 0-1.7 0-1.7 0-1.8 0-1.8 0-1.8 0-1.9-.1-1.9 0-1.9-.1-2-.1-2 0-2.1-.6-2.1-.5-2.2-.5-2.3-.5-2.3-.5-2.4-.6-2.5-.5-2.5-.6-2.6-.6-2.6-.6-2.7-.6-2.7-.7-2.8-.7-2.9-.7-3-.7-3.2-.7-3.3-.9-3.5-1.2-3.6-1.2-3.8-1.3-3.8-1.3-4-1.4-4-1.4-4.1-1.5-4.2-1.5-4.3-1.6-3.8-1.7-3.2-2-2.9-2.1-2.6-2.2-2.4-2.2-2.1-2.4-1.8-2.4-1.5-1.7-1.1-1.4-1-1.4-.7-1.5-.5-1.5-.3-1.5 0-1.5 .2-1.5 .6-1.5 1-1.5 1.4-1.5 1.8-1.5 1.9-1.5 2.2-1.4 2.2-1.3 2.2-1.3 2.3-1.3 2.2-1.1 2.3-1.2 2.3-1.1 2.2-1 2.2-1 2.2-1 2.1-.9 2.2-.9 2.1-.8 2.1-.8 2.1-.8 2.1-.8 2.1-.7 2-.7 1.9-.6 1.8-.7 1.7-.7 1.7-.6 1.7-.6 1.6-.6 1.6-.6 1.6-.6 1.6-.5 1.6-.6z"/><path d="M891.5 208.9l1.5-.5 1.6-.4 1.5-.4 1.5-.4 1.6-.4 1.5-.4 1.6-.3 1.5-.3 1.6-.4 1.5-.3 1.6-.2 1.6-.3 1.5-.3 1.5-.2 1.6-.2 1.5-.3 1.5-.2 1.5-.2 1.5-.2 1.5-.2 1.5-.2 1.4-.2 1.5-.2 1.5-.2 1.4-.1 1.5-.3 1.4-.3 1.5-.2 1.5-.3 1.4-.3 1.5-.2 1.4-.3 1.5-.2 1.4-.3 1.5-.2 1.5-.2 1.5-.3 1.5-.2 1.5-.2 1.5-.2 1.5-.3 1.5-.2 1.6-.2 1.6-.1 1.6-.2 1.5-.2 1.7-.1 1.6-.1 1.6-.2 1.7-.1 1.7-.1 1.6-.1 1.7-.2 1.7-.1 1.8-.1 1.7-.1 1.8-.2 1.7-.1 1.8-.1 1.9-.2 1.8-.1 1.9-.2 2-.2 2-.1 2-.2 2-.2 2.1-.1 2.1-.2 2.2-.1 2.2-.1 2.3-.2 2.3-.1 2.3 0 2.4-.1 2.5-.1 2.5 .4 2.6 .5 2.7 .3 2.9 .3 2.9 .4 2.7 .6 2.6 .8 2.5 .8 2.4 .9 2.4 .9 2.4 1 2.4 1 2.3 1 2.3 1.1 2.3 1.1 2.3 1.2 2.2 1.2 2.2 1.2 2.2 1.2 2.2 1.3 2.1 1.3 2.1 1.5 2 1.5 2 1.5 2 1.6 1.8 1.6 1.8 1.6 1.8 1.7 1.6 1.7 1.7 1.7 1.5 1.7 1.6 1.8 1.4 1.8 1.4 1.8 1.2 1.8 1.1 1.9 1 1.9 .9 1.6 .8 1.4 .6 1.4 .5 1.5 .2 1.4 .2 1.5 0 1.4-.2 1.5-.2 1.4-.4 1.4-.5 1.4-.6 1.4-.6 1.4-.8 1.4-.7 1.3-.9 1.4-.9 1.3-1 1.3-1.1 1.2-1.2 1.3-1.3 1.2-1.4 1.2-1.7 1.1-1.8 1.1-2.2 1.1-2.8 .9-2.7 .8-2.8 .8-2.7 .8-2.7 .7-2.6 .7-2.7 .6-2.7 .6-2.6 .6-2.5 .5-2.3 .5-2.3 .6-2.3 .4-2.1 .4-2.1 .4-2 .4-2 .3-1.9 .3-1.9 .4-1.8 .3-1.8 .3-1.7 .3-1.7 .3-1.7 .2-1.6 .3-1.6 .3-1.6 .2-1.5 .3-1.5 .3-1.5 .2-1.5 .3-1.4 .2-1.4 .2-1.4 .3-1.4 .2-1.4 .2-1.4 .2-1.4 .2-1.3 .2-1.4 .2-1.3 .2-1.4 .1-1.3 .2-1.3 .2-1.4 .1-1.3 .2-1.3 .1-1.3 .1-1.3 .2-1.3 .1-1.4 .2-1.3 .1-1.3 .1-1.3 .1-1.3 .1-1.3 .2-1.4 .1-1.3 .1-1.3 .1-1.4 .1-1.3 .1-1.4 .1-1.3 .1-1.4 0-1.4-.1-1.4 0-1.4 0-1.4 0-1.5-.1-1.4 0-1.5 0-1.5-.1-1.5 0-1.5 0-1.6 0-1.6 0-1.6 0-1.7 0-1.7 0-1.7 0-1.8-.1-1.8 0-1.8 0-1.9-.1-1.9 0-1.9-.1-2 0-2-.1-2.1-.5-2.1-.5-2.2-.5-2.3-.6-2.4-.5-2.4-.5-2.5-.5-2.5-.6-2.6-.6-2.6-.6-2.7-.6-2.7-.7-2.8-.7-2.9-.7-3-.7-3.2-.7-3.3-.8-3.5-1.3-3.7-1.2-3.8-1.3-3.8-1.3-3.9-1.3-4.1-1.4-4.1-1.5-4.3-1.5-4.3-1.5-3.8-1.8-3.2-2-2.9-2-2.7-2.2-2.4-2.3-2.1-2.3-1.7-2.4-1.5-1.7-1.2-1.4-.9-1.5-.7-1.4-.5-1.5-.3-1.5 0-1.5 .3-1.5 .6-1.5 1-1.5 1.4-1.5 1.8-1.5 2-1.4 2.1-1.4 2.2-1.4 2.2-1.3 2.3-1.2 2.3-1.2 2.2-1.1 2.3-1.1 2.2-1 2.2-1 2.2-1 2.1-.9 2.2-.9 2.1-.9 2.1-.8 2.1-.8 2.1-.7 2.1-.7 2-.7 1.9-.7 1.8-.7 1.7-.6 1.7-.6 1.7-.7 1.6-.6 1.6-.5 1.6-.6 1.6-.6 1.6-.5z"/><path d="M891.2 207.5l1.6-.5 1.5-.4 1.5-.4 1.6-.4 1.5-.4 1.6-.4 1.5-.3 1.6-.3 1.5-.3 1.6-.3 1.6-.3 1.5-.3 1.6-.2 1.5-.2 1.6-.3 1.5-.2 1.5-.2 1.5-.2 1.5-.2 1.5-.2 1.5-.2 1.5-.2 1.5-.2 1.4-.1 1.5-.2 1.5-.3 1.4-.2 1.5-.3 1.5-.3 1.4-.2 1.5-.3 1.4-.2 1.5-.3 1.5-.2 1.4-.3 1.5-.2 1.5-.2 1.5-.2 1.5-.3 1.5-.2 1.6-.2 1.5-.2 1.6-.2 1.5-.2 1.6-.1 1.6-.2 1.6-.1 1.7-.2 1.6-.1 1.7-.1 1.7-.1 1.6-.1 1.7-.2 1.7-.1 1.8-.1 1.7-.2 1.8-.1 1.8-.1 1.8-.2 1.8-.1 1.9-.2 1.9-.1 1.9-.2 2-.1 2-.2 2.1-.2 2.1-.1 2.1-.2 2.2-.1 2.2-.2 2.2-.1 2.3-.1 2.4-.1 2.4 0 2.4-.1 2.5 .4 2.6 .4 2.8 .4 2.9 .3 2.9 .4 2.7 .6 2.5 .7 2.5 .8 2.5 .9 2.4 .9 2.4 .9 2.3 1 2.4 1 2.3 1.1 2.3 1.1 2.3 1.1 2.3 1.2 2.2 1.2 2.2 1.2 2.2 1.3 2.1 1.3 2.1 1.5 2.1 1.4 2 1.5 1.9 1.6 1.9 1.5 1.9 1.7 1.7 1.6 1.7 1.7 1.6 1.6 1.6 1.8 1.6 1.7 1.4 1.7 1.4 1.8 1.2 1.8 1.1 1.9 1 1.8 .9 1.7 .8 1.4 .6 1.4 .5 1.5 .3 1.4 .1 1.5 0 1.4-.2 1.5-.3 1.4-.4 1.4-.5 1.5-.6 1.4-.7 1.3-.7 1.4-.8 1.4-.8 1.3-1 1.3-1 1.3-1.1 1.3-1.2 1.2-1.3 1.2-1.5 1.2-1.7 1.2-1.8 1.1-2.2 1-2.7 .9-2.8 .9-2.7 .8-2.7 .7-2.7 .8-2.7 .6-2.7 .7-2.6 .6-2.6 .5-2.5 .6-2.3 .5-2.3 .5-2.3 .5-2.1 .4-2.1 .4-2 .3-2 .4-1.9 .3-1.9 .4-1.8 .3-1.8 .3-1.7 .3-1.7 .3-1.7 .2-1.6 .3-1.6 .3-1.6 .3-1.5 .2-1.6 .3-1.4 .2-1.5 .3-1.5 .2-1.4 .2-1.4 .3-1.4 .2-1.4 .2-1.4 .2-1.4 .2-1.3 .2-1.4 .2-1.3 .2-1.4 .2-1.3 .1-1.3 .2-1.4 .1-1.3 .2-1.3 .1-1.3 .2-1.4 .1-1.3 .2-1.3 .1-1.3 .1-1.3 .1-1.3 .2-1.4 .1-1.3 .1-1.3 .1-1.4 .1-1.3 .1-1.3 .1-1.4 .1-1.4 .1-1.3 .1-1.4 0-1.4 0-1.4-.1-1.4 0-1.4 0-1.5 0-1.4-.1-1.5 0-1.5 0-1.5 0-1.6-.1-1.5 0-1.6 0-1.7 0-1.6 0-1.7 0-1.8 0-1.7 0-1.8 0-1.9-.1-1.8 0-1.9-.1-2 0-2-.1-2-.1-2.1-.5-2.2-.5-2.2-.5-2.3-.5-2.3-.5-2.4-.5-2.5-.6-2.6-.5-2.6-.6-2.6-.6-2.7-.6-2.7-.7-2.8-.7-2.9-.7-3.1-.7-3.1-.7-3.4-.8-3.5-1.2-3.6-1.3-3.8-1.2-3.9-1.3-3.9-1.4-4.1-1.4-4.1-1.4-4.3-1.5-4.3-1.5-3.8-1.8-3.3-1.9-2.9-2.1-2.7-2.2-2.4-2.2-2.1-2.3-1.8-2.4-1.5-1.7-1.1-1.4-.9-1.5-.7-1.4-.4-1.5-.3-1.5 0-1.5 .3-1.5 .7-1.5 .9-1.5 1.5-1.5 1.7-1.5 2-1.4 2.1-1.4 2.2-1.3 2.2-1.3 2.3-1.3 2.3-1.1 2.2-1.2 2.3-1 2.2-1.1 2.2-1 2.1-1 2.2-.9 2.1-.9 2.2-.8 2-.8 2.1-.8 2.2-.7 2-.8 2-.6 1.9-.7 1.8-.7 1.8-.6 1.7-.7 1.6-.6 1.7-.6 1.6-.6 1.6-.5 1.6-.6 1.6-.5z"/><path d="M890.9 206l1.6-.4 1.5-.4 1.6-.4 1.5-.4 1.6-.4 1.5-.4 1.6-.3 1.5-.3 1.6-.3 1.6-.3 1.6-.3 1.5-.2 1.6-.3 1.5-.2 1.6-.2 1.5-.2 1.5-.2 1.6-.2 1.5-.2 1.5-.2 1.5-.2 1.5-.2 1.4-.1 1.5-.2 1.5-.2 1.5-.2 1.4-.3 1.5-.3 1.4-.2 1.5-.3 1.5-.2 1.4-.3 1.5-.2 1.5-.3 1.5-.2 1.5-.2 1.4-.3 1.6-.2 1.5-.2 1.5-.2 1.5-.2 1.6-.2 1.5-.2 1.6-.2 1.6-.2 1.6-.1 1.6-.2 1.7-.1 1.6-.1 1.7-.1 1.7-.1 1.6-.2 1.7-.1 1.8-.1 1.7-.1 1.7-.2 1.8-.1 1.8-.1 1.8-.2 1.8-.1 1.9-.2 1.9-.1 1.9-.2 2-.2 2-.1 2.1-.2 2.1-.2 2.1-.1 2.2-.1 2.2-.2 2.3-.1 2.3-.1 2.3-.1 2.4-.1 2.5 0 2.5 .4 2.6 .4 2.7 .3 2.9 .3 2.9 .4 2.7 .6 2.6 .7 2.5 .8 2.4 .8 2.4 .9 2.4 1 2.4 .9 2.4 1.1 2.3 1 2.3 1.1 2.3 1.1 2.3 1.2 2.2 1.2 2.3 1.2 2.1 1.2 2.2 1.3 2.1 1.4 2.1 1.5 2 1.4 2 1.6 1.9 1.5 1.9 1.6 1.7 1.6 1.8 1.6 1.6 1.7 1.6 1.7 1.6 1.7 1.4 1.7 1.4 1.8 1.3 1.8 1.1 1.8 1 1.8 .8 1.7 .8 1.4 .7 1.4 .4 1.5 .3 1.4 .1 1.5-.1 1.4-.1 1.5-.3 1.4-.4 1.5-.6 1.4-.6 1.4-.7 1.4-.7 1.3-.8 1.4-.9 1.3-1 1.3-1 1.3-1.1 1.3-1.2 1.3-1.3 1.2-1.5 1.2-1.7 1.1-1.9 1.1-2.1 1-2.8 .9-2.8 .9-2.7 .8-2.7 .8-2.7 .7-2.6 .7-2.7 .6-2.7 .6-2.5 .6-2.5 .5-2.3 .6-2.3 .5-2.3 .5-2.1 .4-2.1 .4-2 .3-2 .4-1.9 .3-1.9 .4-1.8 .3-1.8 .3-1.7 .3-1.7 .3-1.7 .3-1.7 .2-1.6 .3-1.5 .3-1.6 .2-1.5 .3-1.5 .2-1.5 .3-1.4 .2-1.4 .3-1.5 .2-1.4 .2-1.4 .2-1.4 .3-1.3 .2-1.4 .2-1.4 .1-1.3 .2-1.4 .2-1.3 .2-1.3 .1-1.4 .2-1.3 .1-1.3 .2-1.4 .1-1.3 .2-1.3 .1-1.3 .1-1.4 .1-1.3 .2-1.3 .1-1.3 .1-1.4 .1-1.3 .1-1.3 .1-1.4 .1-1.3 .1-1.4 .1-1.3 .1-1.4 .1-1.4 0-1.4 0-1.4 0-1.4 0-1.5-.1-1.4 0-1.5 0-1.4-.1-1.5 0-1.6 0-1.5 0-1.6 0-1.6 0-1.6-.1-1.7 0-1.7 0-1.7 0-1.8 0-1.8 0-1.9 0-1.8-.1-1.9 0-2-.1-2 0-2-.1-2.1-.5-2.2-.5-2.2-.5-2.3-.5-2.4-.5-2.4-.5-2.5-.6-2.5-.5-2.6-.6-2.7-.6-2.7-.6-2.7-.7-2.8-.7-2.9-.7-3.1-.7-3.2-.6-3.3-.9-3.5-1.2-3.7-1.2-3.8-1.3-3.8-1.3-4-1.3-4.1-1.4-4.1-1.4-4.3-1.5-4.3-1.5-3.9-1.8-3.3-1.9-2.9-2.1-2.7-2.1-2.5-2.2-2.1-2.3-1.8-2.4-1.4-1.7-1.2-1.4-.8-1.5-.6-1.4-.5-1.5-.2-1.5 0-1.5 .3-1.5 .7-1.5 1-1.5 1.4-1.5 1.8-1.5 1.9-1.4 2.2-1.4 2.1-1.3 2.3-1.3 2.2-1.2 2.3-1.2 2.2-1.1 2.3-1.1 2.2-1 2.1-1 2.2-1 2.2-.9 2.1-.9 2.1-.9 2.1-.8 2.1-.7 2.1-.8 2.1-.7 2-.7 1.9-.7 1.8-.6 1.7-.7 1.7-.6 1.7-.6 1.6-.6 1.7-.6 1.6-.6 1.6-.5 1.6-.6z"/><path d="M890.6 204.6l1.6-.4 1.5-.5 1.6-.4 1.5-.3 1.6-.4 1.5-.4 1.6-.3 1.6-.3 1.6-.3 1.6-.3 1.5-.2 1.6-.3 1.6-.2 1.5-.2 1.6-.3 1.5-.2 1.6-.2 1.5-.2 1.5-.2 1.5-.1 1.5-.2 1.5-.2 1.5-.1 1.5-.2 1.5-.1 1.4-.3 1.5-.3 1.5-.2 1.4-.3 1.5-.2 1.5-.3 1.5-.2 1.4-.3 1.5-.2 1.5-.3 1.5-.2 1.5-.2 1.5-.2 1.5-.2 1.6-.2 1.5-.2 1.5-.2 1.6-.2 1.6-.2 1.6-.2 1.6-.1 1.6-.2 1.7-.1 1.6-.1 1.7-.1 1.7-.1 1.6-.2 1.7-.1 1.8-.1 1.7-.2 1.7-.1 1.8-.1 1.8-.1 1.8-.2 1.9-.1 1.8-.2 1.9-.2 2-.1 2-.2 2-.1 2-.2 2.1-.2 2.2-.1 2.2-.2 2.2-.1 2.2-.1 2.3-.1 2.4-.1 2.4-.1 2.4 0 2.5 .4 2.6 .3 2.8 .4 2.9 .3 2.9 .3 2.7 .6 2.5 .7 2.5 .8 2.5 .8 2.4 .9 2.4 .9 2.4 1 2.4 1 2.3 1 2.3 1.1 2.4 1.1 2.2 1.1 2.3 1.2 2.2 1.2 2.2 1.2 2.2 1.3 2.1 1.4 2.1 1.4 2.1 1.4 2 1.5 2 1.5 1.8 1.6 1.8 1.6 1.7 1.6 1.7 1.6 1.6 1.7 1.6 1.7 1.5 1.7 1.4 1.7 1.2 1.8 1.1 1.8 1 1.8 .9 1.6 .8 1.5 .6 1.4 .5 1.4 .2 1.5 .1 1.5-.1 1.4-.1 1.5-.4 1.4-.4 1.5-.6 1.4-.6 1.4-.7 1.4-.8 1.4-.8 1.3-.9 1.4-.9 1.3-1.1 1.3-1.1 1.2-1.2 1.3-1.4 1.2-1.5 1.2-1.7 1.1-1.8 1.1-2.2 1.1-2.8 .9-2.7 .8-2.7 .8-2.7 .8-2.7 .8-2.6 .6-2.7 .7-2.7 .6-2.5 .6-2.5 .5-2.3 .6-2.3 .5-2.3 .5-2.1 .4-2.1 .4-2 .3-2 .4-1.9 .3-1.9 .3-1.8 .4-1.8 .3-1.7 .3-1.7 .3-1.7 .3-1.7 .2-1.6 .3-1.6 .3-1.5 .2-1.5 .3-1.5 .3-1.5 .2-1.5 .3-1.4 .2-1.4 .2-1.4 .3-1.4 .2-1.4 .2-1.4 .2-1.4 .2-1.3 .2-1.4 .2-1.3 .1-1.4 .2-1.3 .2-1.4 .1-1.3 .2-1.3 .1-1.4 .1-1.3 .2-1.3 .1-1.4 .1-1.3 .2-1.3 .1-1.3 .1-1.4 .1-1.3 .2-1.4 .1-1.3 .1-1.3 .1-1.4 .1-1.4 .1-1.3 .1-1.4 .1-1.4 0-1.4-.1-1.4 0-1.4 0-1.5 0-1.4-.1-1.5 0-1.5 0-1.5-.1-1.5 0-1.6 0-1.5 0-1.6 0-1.7 0-1.7 0-1.7 0-1.7 0-1.8 0-1.8-.1-1.8 0-1.9 0-1.9-.1-2 0-2-.1-2.1-.1-2.1-.5-2.1-.5-2.2-.5-2.3-.5-2.4-.5-2.5-.5-2.5-.5-2.5-.5-2.6-.6-2.7-.6-2.7-.6-2.7-.7-2.8-.7-3-.7-3-.6-3.2-.7-3.4-.9-3.5-1.2-3.7-1.2-3.7-1.2-3.9-1.3-4-1.3-4.1-1.4-4.1-1.4-4.3-1.5-4.4-1.5-3.8-1.7-3.4-2-2.9-2-2.8-2.1-2.5-2.3-2.1-2.3-1.8-2.4-1.4-1.7-1.1-1.4-.8-1.4-.6-1.5-.5-1.4-.2-1.5 .1-1.5 .3-1.5 .7-1.5 1-1.5 1.4-1.5 1.8-1.4 2-1.5 2.1-1.3 2.2-1.4 2.2-1.2 2.2-1.3 2.3-1.1 2.2-1.2 2.3-1 2.2-1.1 2.1-1 2.2-.9 2.1-1 2.2-.8 2.1-.9 2.1-.8 2-.8 2.2-.7 2-.7 2-.7 1.9-.7 1.8-.7 1.8-.6 1.7-.7 1.6-.6 1.7-.6 1.6-.6 1.7-.5 1.6-.6 1.6-.5z"/><path d="M890.3 203.2l1.6-.5 1.5-.4 1.6-.4 1.5-.4 1.6-.3 1.6-.4 1.6-.3 1.5-.3 1.6-.3 1.6-.2 1.6-.3 1.6-.2 1.6-.3 1.5-.2 1.6-.2 1.5-.2 1.6-.2 1.5-.2 1.5-.2 1.5-.1 1.5-.2 1.6-.2 1.5-.1 1.4-.2 1.5-.1 1.5-.3 1.5-.2 1.5-.3 1.4-.2 1.5-.3 1.5-.2 1.5-.3 1.4-.2 1.5-.3 1.5-.2 1.5-.2 1.5-.3 1.5-.2 1.6-.2 1.5-.2 1.6-.2 1.5-.2 1.6-.2 1.6-.1 1.6-.2 1.6-.2 1.6-.1 1.6-.1 1.7-.1 1.7-.1 1.7-.1 1.6-.2 1.8-.1 1.7-.1 1.7-.2 1.8-.1 1.7-.1 1.8-.2 1.8-.1 1.9-.2 1.9-.1 1.9-.2 1.9-.1 2-.2 2-.2 2.1-.1 2.1-.2 2.1-.1 2.2-.2 2.2-.1 2.3-.1 2.3-.1 2.3-.1 2.4-.1 2.5-.1 2.5 .4 2.6 .4 2.7 .3 2.9 .3 2.9 .4 2.7 .5 2.6 .7 2.5 .8 2.4 .8 2.5 .9 2.4 .9 2.4 .9 2.4 1 2.3 1 2.4 1.1 2.3 1.1 2.3 1.1 2.2 1.1 2.3 1.2 2.2 1.2 2.2 1.3 2.2 1.3 2.1 1.4 2.1 1.4 2 1.5 2 1.5 1.8 1.5 1.9 1.6 1.7 1.6 1.7 1.6 1.6 1.6 1.6 1.7 1.5 1.7 1.4 1.7 1.3 1.7 1.1 1.8 1 1.8 .8 1.6 .8 1.4 .7 1.5 .4 1.4 .2 1.5 .1 1.5-.1 1.4-.2 1.5-.3 1.4-.5 1.5-.5 1.4-.7 1.4-.7 1.4-.8 1.4-.8 1.3-.9 1.4-1 1.3-1.1 1.3-1.1 1.3-1.3 1.2-1.3 1.2-1.5 1.2-1.7 1.2-1.9 1.1-2.2 1-2.7 .9-2.7 .9-2.8 .8-2.7 .8-2.6 .7-2.7 .7-2.6 .6-2.7 .6-2.5 .6-2.5 .6-2.3 .5-2.3 .5-2.3 .6-2.1 .4-2.1 .3-2 .4-2 .4-1.9 .3-1.9 .3-1.8 .4-1.8 .3-1.7 .3-1.8 .3-1.6 .3-1.7 .3-1.6 .2-1.6 .3-1.5 .3-1.6 .2-1.5 .3-1.4 .2-1.5 .3-1.4 .2-1.5 .3-1.4 .2-1.4 .2-1.4 .2-1.4 .2-1.4 .2-1.3 .2-1.4 .2-1.3 .2-1.4 .1-1.3 .2-1.4 .1-1.3 .2-1.4 .1-1.3 .2-1.3 .1-1.4 .2-1.3 .1-1.3 .1-1.4 .1-1.3 .2-1.3 .1-1.4 .1-1.3 .1-1.4 .1-1.3 .1-1.4 .1-1.3 .1-1.4 .1-1.4 .1-1.4 0-1.4 0-1.4 0-1.4-.1-1.5 0-1.4 0-1.5-.1-1.5 0-1.5 0-1.5 0-1.6-.1-1.6 0-1.6 0-1.6 0-1.7 0-1.7 0-1.8 0-1.8 0-1.8 0-1.8-.1-1.9 0-1.9 0-2-.1-2-.1-2.1 0-2.1-.5-2.2-.5-2.2-.5-2.3-.5-2.4-.5-2.4-.5-2.5-.5-2.6-.6-2.6-.5-2.7-.6-2.7-.7-2.7-.6-2.9-.7-2.9-.7-3-.6-3.2-.7-3.4-.9-3.6-1.1-3.6-1.2-3.8-1.3-3.9-1.2-4-1.4-4.1-1.3-4.2-1.4-4.3-1.5-4.3-1.5-3.9-1.7-3.4-1.9-3-2.1-2.8-2.1-2.4-2.2-2.2-2.3-1.7-2.4-1.5-1.7-1.1-1.4-.8-1.4-.6-1.5-.4-1.4-.1-1.5 0-1.5 .4-1.5 .7-1.5 1-1.5 1.4-1.5 1.8-1.4 2-1.4 2.1-1.4 2.2-1.3 2.2-1.3 2.2-1.2 2.3-1.2 2.2-1.1 2.2-1.1 2.2-1 2.2-1 2.1-1 2.2-.9 2.1-.9 2.1-.8 2.1-.9 2.1-.7 2.1-.8 2.1-.7 2-.7 1.9-.7 1.8-.6 1.7-.7 1.7-.6 1.7-.6 1.7-.6 1.6-.6 1.7-.6 1.6-.5 1.6-.5z"/><path d="M890 201.7l1.6-.4 1.5-.4 1.6-.4 1.6-.4 1.5-.3 1.6-.4 1.6-.3 1.6-.3 1.6-.3 1.6-.2 1.6-.3 1.6-.2 1.6-.2 1.5-.3 1.6-.2 1.5-.2 1.6-.1 1.5-.2 1.5-.2 1.6-.2 1.5-.1 1.5-.2 1.5-.1 1.5-.2 1.5-.1 1.5-.3 1.5-.2 1.5-.3 1.4-.2 1.5-.3 1.5-.2 1.5-.3 1.5-.2 1.5-.2 1.4-.3 1.6-.2 1.5-.2 1.5-.2 1.5-.2 1.6-.2 1.5-.2 1.6-.2 1.5-.2 1.6-.2 1.6-.1 1.7-.2 1.6-.1 1.6-.1 1.7-.1 1.7-.1 1.7-.2 1.7-.1 1.7-.1 1.7-.2 1.7-.1 1.8-.1 1.8-.2 1.7-.1 1.9-.1 1.8-.2 1.9-.1 1.9-.2 2-.2 1.9-.1 2.1-.2 2-.1 2.1-.2 2.2-.2 2.1-.1 2.3-.1 2.2-.1 2.3-.1 2.4-.1 2.4-.1 2.4-.1 2.5 .4 2.6 .4 2.8 .3 2.9 .3 2.9 .3 2.7 .5 2.5 .7 2.5 .8 2.5 .8 2.4 .8 2.5 .9 2.4 .9 2.4 1 2.3 1 2.4 1 2.3 1.1 2.3 1.1 2.3 1.2 2.3 1.1 2.2 1.2 2.2 1.3 2.2 1.3 2.2 1.3 2.1 1.4 2 1.5 2 1.4 1.9 1.5 1.8 1.6 1.8 1.5 1.7 1.6 1.7 1.6 1.5 1.7 1.6 1.6 1.4 1.7 1.2 1.8 1.1 1.7 1 1.8 .9 1.6 .8 1.4 .6 1.5 .5 1.4 .2 1.5 0 1.5 0 1.4-.3 1.5-.3 1.4-.5 1.5-.6 1.4-.7 1.4-.7 1.4-.8 1.4-.9 1.4-.9 1.3-1 1.3-1.1 1.3-1.1 1.3-1.3 1.2-1.3 1.3-1.6 1.1-1.7 1.2-1.8 1.1-2.2 1-2.8 .9-2.7 .9-2.7 .8-2.7 .8-2.7 .7-2.6 .7-2.7 .7-2.6 .6-2.5 .6-2.5 .5-2.3 .6-2.3 .5-2.3 .5-2.1 .4-2.1 .4-2 .4-2 .4-1.9 .3-1.9 .3-1.8 .4-1.8 .3-1.7 .3-1.8 .3-1.6 .3-1.7 .3-1.6 .2-1.6 .3-1.6 .3-1.5 .2-1.5 .3-1.5 .3-1.4 .2-1.5 .2-1.4 .3-1.4 .2-1.5 .2-1.4 .3-1.3 .2-1.4 .2-1.4 .1-1.4 .2-1.3 .2-1.4 .2-1.3 .1-1.4 .2-1.3 .1-1.4 .2-1.3 .1-1.4 .2-1.3 .1-1.3 .1-1.4 .1-1.3 .2-1.3 .1-1.4 .1-1.3 .1-1.4 .1-1.3 .1-1.4 .1-1.4 .1-1.3 .1-1.4 .1-1.4 .1-1.4 0-1.4 0-1.4 0-1.4 0-1.5-.1-1.5 0-1.4 0-1.5-.1-1.5 0-1.6 0-1.5 0-1.6 0-1.7 0-1.6 0-1.7 0-1.7-.1-1.8 0-1.7 0-1.9 0-1.8 0-1.9-.1-1.9 0-2-.1-2 0-2.1-.1-2.1-.5-2.2-.5-2.2-.5-2.3-.4-2.4-.5-2.5-.5-2.5-.5-2.6-.6-2.6-.5-2.7-.6-2.7-.7-2.7-.6-2.9-.7-2.9-.6-3.1-.7-3.2-.7-3.4-.8-3.5-1.2-3.7-1.2-3.8-1.2-3.9-1.3-4-1.3-4.1-1.3-4.2-1.4-4.3-1.5-4.4-1.5-3.9-1.7-3.4-1.9-3-2-2.8-2.1-2.5-2.2-2.2-2.3-1.7-2.4-1.5-1.7-1-1.4-.8-1.4-.6-1.5-.4-1.4-.1-1.5 .1-1.5 .4-1.5 .7-1.5 1-1.5 1.4-1.5 1.8-1.4 2-1.4 2.1-1.4 2.2-1.3 2.2-1.3 2.2-1.2 2.3-1.1 2.2-1.2 2.2-1 2.2-1.1 2.2-1 2.1-.9 2.1-1 2.2-.8 2.1-.9 2-.8 2.1-.8 2.1-.7 2.1-.7 2-.7 1.9-.7 1.8-.7 1.7-.6 1.7-.7 1.7-.6 1.7-.6 1.7-.5 1.6-.6 1.7-.5 1.6-.6z"/><path d="M889.7 200.3l1.5-.4 1.6-.4 1.6-.4 1.6-.4 1.6-.3 1.5-.4 1.6-.3 1.6-.3 1.6-.3 1.6-.2 1.6-.3 1.6-.2 1.6-.2 1.6-.2 1.6-.2 1.5-.2 1.6-.2 1.5-.2 1.6-.1 1.5-.2 1.5-.1 1.5-.2 1.6-.1 1.5-.1 1.5-.2 1.5-.2 1.4-.3 1.5-.2 1.5-.3 1.5-.2 1.5-.3 1.5-.2 1.5-.3 1.5-.2 1.5-.2 1.5-.2 1.5-.3 1.5-.2 1.6-.2 1.5-.2 1.6-.2 1.5-.2 1.6-.1 1.6-.2 1.6-.2 1.6-.1 1.7-.1 1.6-.1 1.7-.1 1.7-.1 1.7-.2 1.7-.1 1.7-.2 1.7-.1 1.7-.1 1.8-.1 1.8-.2 1.8-.1 1.8-.2 1.8-.1 1.9-.2 1.9-.1 2-.2 2-.1 2-.2 2.1-.2 2.1-.1 2.1-.2 2.2-.1 2.2-.1 2.3-.2 2.3-.1 2.3 0 2.4-.1 2.5-.1 2.5 .4 2.6 .3 2.7 .3 2.9 .3 2.9 .3 2.7 .6 2.6 .6 2.5 .7 2.5 .8 2.4 .9 2.4 .9 2.4 .9 2.5 .9 2.3 1 2.4 1 2.3 1.1 2.4 1.1 2.3 1.1 2.2 1.1 2.3 1.2 2.2 1.2 2.2 1.3 2.2 1.4 2.1 1.3 2.1 1.4 2 1.5 1.9 1.4 1.9 1.5 1.8 1.6 1.7 1.5 1.7 1.6 1.6 1.7 1.5 1.6 1.4 1.7 1.3 1.7 1.1 1.7 1 1.8 .9 1.6 .8 1.4 .6 1.4 .4 1.5 .2 1.5 .1 1.4-.1 1.5-.3 1.5-.3 1.5-.5 1.4-.7 1.4-.6 1.4-.8 1.4-.8 1.4-.9 1.4-.9 1.3-1.1 1.4-1.1 1.2-1.1 1.3-1.3 1.3-1.4 1.2-1.5 1.2-1.7 1.1-1.9 1.1-2.2 1.1-2.7 .9-2.7 .8-2.8 .9-2.6 .7-2.7 .8-2.6 .7-2.7 .6-2.6 .6-2.5 .6-2.5 .6-2.3 .6-2.3 .5-2.2 .5-2.2 .4-2.1 .4-2 .4-2 .3-1.9 .4-1.9 .3-1.8 .4-1.8 .3-1.7 .3-1.8 .3-1.6 .3-1.7 .3-1.6 .2-1.6 .3-1.6 .3-1.5 .3-1.5 .2-1.5 .3-1.5 .2-1.4 .3-1.5 .2-1.4 .2-1.4 .3-1.4 .2-1.4 .2-1.4 .2-1.4 .2-1.3 .2-1.4 .1-1.4 .2-1.3 .2-1.4 .1-1.3 .2-1.4 .1-1.3 .2-1.4 .1-1.3 .1-1.4 .1-1.3 .2-1.3 .1-1.4 .1-1.3 .1-1.4 .2-1.3 .1-1.4 .1-1.4 .1-1.3 .1-1.4 .1-1.4 .1-1.4 .1-1.4 0-1.4-.1-1.4 0-1.5 0-1.4 0-1.5-.1-1.5 0-1.5 0-1.5 0-1.5-.1-1.6 0-1.6 0-1.6 0-1.7 0-1.7 0-1.7 0-1.7 0-1.8 0-1.9-.1-1.8 0-1.9 0-1.9-.1-2 0-2-.1-2.1-.1-2.1-.4-2.2-.5-2.3-.5-2.3-.5-2.4-.5-2.4-.5-2.6-.5-2.5-.5-2.7-.6-2.7-.5-2.7-.7-2.8-.6-2.8-.7-3-.6-3-.7-3.2-.7-3.4-.8-3.6-1.2-3.7-1.2-3.8-1.2-3.9-1.2-4-1.3-4.1-1.4-4.2-1.4-4.3-1.4-4.4-1.5-3.9-1.7-3.5-1.9-3.1-2-2.8-2.1-2.5-2.1-2.2-2.3-1.8-2.4-1.4-1.7-1-1.4-.8-1.4-.5-1.5-.4-1.5-.1-1.4 .2-1.5 .4-1.5 .7-1.5 1-1.5 1.5-1.5 1.7-1.4 2-1.4 2.1-1.4 2.2-1.3 2.2-1.2 2.2-1.2 2.2-1.2 2.3-1.1 2.2-1.1 2.2-1 2.1-1 2.2-1 2.1-.9 2.1-.9 2.1-.8 2.1-.9 2.1-.7 2.1-.8 2-.7 2-.7 1.9-.7 1.8-.6 1.8-.7 1.7-.6 1.7-.6 1.6-.6 1.7-.6 1.7-.6 1.6-.5 1.7-.5z"/><path d="M889.3 198.8l1.6-.4 1.6-.4 1.6-.3 1.6-.4 1.6-.4 1.6-.3 1.6-.3 1.6-.3 1.6-.2 1.6-.3 1.6-.2 1.6-.3 1.6-.2 1.6-.2 1.6-.2 1.5-.1 1.6-.2 1.5-.2 1.6-.1 1.5-.2 1.6-.1 1.5-.2 1.5-.1 1.5-.1 1.5-.2 1.5-.2 1.5-.3 1.5-.2 1.5-.3 1.5-.2 1.5-.3 1.5-.2 1.5-.2 1.5-.3 1.5-.2 1.5-.2 1.5-.2 1.6-.2 1.5-.2 1.6-.2 1.5-.2 1.6-.2 1.6-.2 1.6-.1 1.6-.2 1.6-.1 1.7-.2 1.6-.1 1.7-.1 1.7 0 1.7-.2 1.7-.1 1.7-.2 1.7-.1 1.8-.1 1.7-.2 1.8-.1 1.8-.1 1.8-.2 1.9-.1 1.9-.2 1.9-.1 1.9-.2 2-.2 2-.1 2.1-.2 2.1-.1 2.2-.2 2.1-.1 2.3-.2 2.2-.1 2.3-.1 2.4-.1 2.4 0 2.4-.1 2.5 .3 2.6 .4 2.8 .3 2.9 .2 2.9 .4 2.7 .5 2.5 .6 2.5 .7 2.5 .8 2.5 .8 2.4 .9 2.4 .9 2.4 .9 2.4 1 2.4 1 2.4 1 2.3 1.1 2.3 1.1 2.3 1.2 2.3 1.1 2.3 1.2 2.2 1.3 2.2 1.3 2.1 1.3 2.1 1.4 2.1 1.4 1.9 1.4 1.9 1.5 1.8 1.5 1.7 1.6 1.7 1.5 1.6 1.6 1.6 1.7 1.4 1.6 1.3 1.7 1.1 1.7 1 1.7 .9 1.6 .7 1.5 .7 1.4 .4 1.5 .2 1.5 0 1.4-.1 1.5-.2 1.5-.4 1.5-.6 1.4-.6 1.4-.7 1.5-.8 1.4-.8 1.3-.9 1.4-1 1.4-1 1.3-1.1 1.3-1.2 1.2-1.3 1.3-1.4 1.2-1.5 1.2-1.8 1.1-1.8 1.2-2.2 1-2.8 .9-2.7 .9-2.7 .8-2.7 .8-2.6 .7-2.6 .7-2.7 .7-2.6 .6-2.5 .6-2.5 .6-2.3 .5-2.3 .6-2.2 .5-2.2 .4-2.1 .4-2 .4-2 .3-1.9 .4-1.9 .3-1.8 .4-1.8 .3-1.7 .3-1.8 .3-1.6 .3-1.7 .3-1.6 .3-1.6 .2-1.6 .3-1.5 .3-1.5 .2-1.5 .3-1.5 .2-1.5 .3-1.4 .2-1.4 .3-1.5 .2-1.4 .2-1.4 .2-1.4 .2-1.3 .2-1.4 .2-1.4 .2-1.4 .1-1.3 .2-1.4 .2-1.3 .1-1.4 .1-1.3 .2-1.4 .1-1.3 .2-1.4 .1-1.3 .1-1.4 .1-1.3 .2-1.4 .1-1.3 .1-1.4 .1-1.4 .1-1.3 .1-1.4 .1-1.4 .1-1.4 .1-1.4 .1-1.4 0-1.4 0-1.4 0-1.5-.1-1.4 0-1.5 0-1.5 0-1.5-.1-1.5 0-1.6 0-1.5 0-1.6-.1-1.7 0-1.6 0-1.7 0-1.7 0-1.8 0-1.8 0-1.8 0-1.9 0-1.9-.1-1.9 0-2-.1-2.1 0-2-.1-2.2-.5-2.2-.5-2.2-.4-2.3-.5-2.4-.5-2.5-.5-2.5-.5-2.6-.5-2.7-.6-2.7-.6-2.7-.6-2.8-.6-2.8-.7-3-.6-3.1-.7-3.2-.7-3.4-.8-3.6-1.1-3.7-1.2-3.8-1.2-3.9-1.3-4-1.3-4.1-1.3-4.3-1.4-4.3-1.4-4.4-1.5-3.9-1.7-3.5-1.8-3.1-2-2.9-2.1-2.6-2.2-2.1-2.3-1.8-2.3-1.4-1.7-1-1.4-.7-1.4-.5-1.5-.4-1.5 0-1.5 .1-1.4 .4-1.5 .8-1.5 1-1.5 1.5-1.4 1.7-1.5 2-1.4 2.1-1.3 2.2-1.3 2.2-1.3 2.2-1.2 2.2-1.2 2.2-1.1 2.2-1.1 2.2-1 2.2-1 2.1-.9 2.1-1 2.1-.8 2.1-.9 2.1-.8 2.1-.8 2.1-.7 2-.7 2-.7 1.9-.7 1.8-.7 1.8-.6 1.7-.7 1.7-.6 1.7-.6 1.7-.5 1.6-.6 1.7-.5 1.6-.6z"/><path d="M889 197.4l1.6-.4 1.6-.4 1.6-.4 1.6-.3 1.6-.4 1.6-.3 1.6-.3 1.6-.3 1.6-.2 1.6-.3 1.7-.2 1.6-.2 1.6-.2 1.6-.2 1.6-.2 1.5-.2 1.6-.2 1.6-.1 1.5-.2 1.5-.1 1.6-.2 1.5-.1 1.6-.1 1.5-.1 1.5-.1 1.5-.3 1.5-.2 1.5-.3 1.5-.2 1.5-.3 1.5-.2 1.5-.3 1.5-.2 1.5-.2 1.5-.2 1.5-.3 1.6-.2 1.5-.2 1.6-.2 1.5-.2 1.6-.2 1.6-.1 1.5-.2 1.7-.2 1.6-.1 1.6-.2 1.6-.1 1.7-.1 1.7-.1 1.7-.1 1.7-.1 1.7-.2 1.7-.1 1.7-.1 1.8-.2 1.7-.1 1.8-.1 1.8-.2 1.9-.1 1.8-.1 1.9-.2 1.9-.2 2-.1 2-.2 2-.2 2-.1 2.2-.2 2.1-.1 2.2-.2 2.2-.1 2.3-.1 2.3-.1 2.3-.1 2.4-.1 2.5 0 2.5 .3 2.6 .3 2.7 .3 2.9 .3 2.9 .3 2.7 .5 2.6 .6 2.5 .7 2.5 .8 2.4 .8 2.5 .8 2.4 .9 2.4 .9 2.4 1 2.4 1 2.4 1 2.3 1.1 2.4 1 2.3 1.2 2.3 1.1 2.3 1.2 2.2 1.2 2.2 1.3 2.2 1.3 2.2 1.3 2 1.4 2 1.5 1.9 1.4 1.8 1.5 1.8 1.5 1.7 1.5 1.6 1.6 1.5 1.6 1.5 1.6 1.2 1.7 1.2 1.7 .9 1.7 .9 1.6 .8 1.4 .7 1.5 .4 1.5 .2 1.4 0 1.5-.2 1.5-.2 1.5-.5 1.5-.5 1.4-.7 1.5-.7 1.4-.8 1.4-.8 1.4-.9 1.3-1 1.4-1.1 1.3-1.1 1.3-1.2 1.3-1.3 1.2-1.4 1.2-1.6 1.2-1.7 1.2-1.9 1.1-2.2 1-2.7 .9-2.7 .9-2.7 .8-2.7 .8-2.6 .8-2.7 .7-2.6 .6-2.6 .6-2.5 .6-2.5 .6-2.3 .6-2.3 .5-2.2 .6-2.2 .4-2 .4-2.1 .3-1.9 .4-2 .4-1.8 .3-1.9 .4-1.8 .3-1.7 .3-1.7 .3-1.7 .3-1.7 .3-1.6 .3-1.6 .2-1.6 .3-1.5 .3-1.6 .3-1.5 .2-1.4 .3-1.5 .2-1.5 .3-1.4 .2-1.4 .2-1.4 .2-1.4 .3-1.4 .2-1.4 .1-1.4 .2-1.4 .2-1.3 .2-1.4 .1-1.4 .2-1.3 .1-1.4 .2-1.4 .1-1.3 .2-1.4 .1-1.3 .1-1.4 .1-1.3 .2-1.4 .1-1.3 .1-1.4 .1-1.4 .1-1.3 .1-1.4 .1-1.4 .1-1.4 .2-1.4 .1-1.4 0-1.4 0-1.4 0-1.4 0-1.5 0-1.4-.1-1.5 0-1.5 0-1.5 0-1.5-.1-1.6 0-1.6 0-1.6 0-1.6 0-1.7 0-1.7 0-1.7 0-1.8 0-1.8-.1-1.8 0-1.9 0-1.9 0-2-.1-1.9 0-2.1-.1-2.1-.1-2.1-.4-2.2-.5-2.3-.5-2.3-.5-2.4-.4-2.5-.5-2.5-.5-2.6-.5-2.7-.6-2.7-.6-2.7-.6-2.8-.6-2.9-.7-2.9-.6-3.1-.7-3.3-.7-3.4-.8-3.5-1.1-3.7-1.2-3.9-1.2-3.9-1.2-4-1.3-4.2-1.3-4.2-1.4-4.3-1.4-4.5-1.5-3.9-1.7-3.5-1.8-3.2-2-2.9-2-2.6-2.2-2.1-2.3-1.8-2.3-1.4-1.7-1-1.4-.7-1.5-.5-1.4-.3-1.5 0-1.5 .2-1.4 .4-1.5 .7-1.5 1.1-1.5 1.5-1.4 1.7-1.5 2-1.4 2.1-1.3 2.2-1.3 2.2-1.2 2.2-1.2 2.2-1.2 2.2-1.1 2.2-1.1 2.2-1 2.1-1 2.1-1 2.2-.9 2.1-.9 2.1-.9 2-.8 2.1-.7 2.1-.8 2.1-.7 1.9-.7 1.9-.7 1.8-.6 1.8-.7 1.7-.6 1.7-.6 1.7-.6 1.7-.6 1.7-.5 1.6-.6 1.7-.5z"/><path d="M888.7 195.9l1.6-.4 1.6-.3 1.6-.4 1.6-.4 1.6-.3 1.6-.3 1.6-.3 1.6-.3 1.7-.2 1.6-.3 1.6-.2 1.6-.2 1.6-.2 1.7-.2 1.5-.2 1.6-.1 1.6-.2 1.6-.2 1.5-.1 1.6-.1 1.5-.2 1.6-.1 1.5-.1 1.5-.1 1.5-.1 1.6-.3 1.5-.2 1.5-.3 1.5-.2 1.5-.3 1.5-.2 1.5-.2 1.5-.3 1.5-.2 1.5-.2 1.6-.2 1.5-.2 1.6-.2 1.5-.2 1.6-.2 1.5-.2 1.6-.2 1.6-.2 1.6-.1 1.6-.2 1.7-.1 1.6-.1 1.7-.1 1.7-.1 1.7-.1 1.7-.1 1.7-.2 1.7-.1 1.7-.2 1.8-.1 1.8-.1 1.7-.1 1.8-.2 1.9-.1 1.8-.2 1.9-.1 1.9-.2 2-.2 2-.1 2-.2 2.1-.1 2.1-.2 2.1-.1 2.2-.2 2.3-.1 2.2-.1 2.3-.1 2.4-.1 2.4-.1 2.4-.1 2.5 .4 2.6 .3 2.8 .3 2.9 .2 2.8 .3 2.8 .5 2.5 .6 2.6 .7 2.4 .8 2.5 .8 2.5 .8 2.4 .9 2.4 .9 2.5 .9 2.4 1 2.3 1 2.4 1 2.4 1.1 2.3 1.1 2.3 1.1 2.3 1.2 2.3 1.2 2.2 1.2 2.2 1.3 2.2 1.3 2 1.4 2 1.4 1.9 1.4 1.9 1.4 1.8 1.5 1.7 1.6 1.6 1.5 1.6 1.6 1.4 1.6 1.3 1.6 1.1 1.7 1 1.7 .9 1.6 .8 1.4 .7 1.5 .4 1.4 .1 1.5 0 1.5-.1 1.5-.3 1.5-.5 1.5-.5 1.4-.7 1.5-.8 1.4-.8 1.4-.8 1.4-1 1.3-1 1.4-1 1.3-1.2 1.3-1.2 1.3-1.3 1.2-1.4 1.2-1.6 1.2-1.7 1.2-1.9 1.1-2.2 1-2.7 1-2.8 .8-2.7 .9-2.6 .7-2.7 .8-2.6 .7-2.6 .7-2.6 .6-2.5 .6-2.4 .6-2.4 .6-2.3 .5-2.2 .5-2.1 .4-2.1 .4-2 .4-2 .4-1.9 .4-1.9 .3-1.8 .4-1.8 .3-1.8 .3-1.7 .3-1.7 .3-1.7 .3-1.6 .3-1.6 .3-1.6 .2-1.6 .3-1.5 .3-1.5 .2-1.5 .3-1.4 .2-1.5 .3-1.4 .2-1.5 .2-1.4 .3-1.4 .2-1.4 .2-1.4 .2-1.4 .2-1.4 .1-1.3 .2-1.4 .2-1.4 .1-1.3 .2-1.4 .1-1.4 .2-1.3 .1-1.4 .1-1.4 .1-1.3 .2-1.4 .1-1.3 .1-1.4 .1-1.4 .2-1.3 .1-1.4 .1-1.4 .1-1.4 .1-1.3 .1-1.4 .1-1.5 .1-1.4 0-1.4 0-1.4-.1-1.5 0-1.5 0-1.4 0-1.5-.1-1.6 0-1.5 0-1.5 0-1.6-.1-1.6 0-1.7 0-1.6 0-1.8 0-1.7 0-1.8 0-1.8 0-1.8 0-1.9-.1-1.9 0-2 0-2-.1-2-.1-2.1 0-2.1-.5-2.2-.5-2.3-.4-2.4-.5-2.4-.5-2.5-.4-2.5-.5-2.6-.6-2.7-.5-2.7-.6-2.7-.6-2.8-.6-2.9-.7-3-.6-3.1-.7-3.2-.6-3.4-.9-3.6-1.1-3.7-1.1-3.9-1.2-3.9-1.3-4-1.2-4.2-1.3-4.2-1.4-4.4-1.4-4.4-1.5-4-1.6-3.5-1.9-3.2-1.9-3-2.1-2.6-2.1-2.2-2.3-1.7-2.3-1.4-1.7-1-1.4-.7-1.5-.4-1.4-.3-1.5 0-1.5 .2-1.5 .5-1.4 .7-1.5 1.1-1.5 1.5-1.4 1.7-1.5 2-1.3 2.1-1.4 2.2-1.3 2.1-1.2 2.2-1.2 2.3-1.2 2.2-1.1 2.2-1.1 2.1-1 2.1-1 2.2-1 2.1-.9 2.1-.9 2.1-.8 2-.8 2.1-.8 2.1-.7 2.1-.8 2-.7 1.8-.6 1.9-.7 1.7-.6 1.7-.7 1.7-.6 1.7-.6 1.7-.5 1.7-.6 1.7-.5 1.6-.6z"/><path d="M888.3 194.5l1.6-.4 1.7-.4 1.6-.3 1.6-.4 1.6-.3 1.6-.3 1.6-.3 1.7-.3 1.6-.2 1.6-.3 1.7-.2 1.6-.2 1.6-.2 1.6-.2 1.6-.1 1.6-.2 1.6-.2 1.6-.1 1.5-.1 1.6-.2 1.5-.1 1.6-.1 1.5-.1 1.6-.1 1.5-.1 1.5-.3 1.5-.2 1.6-.3 1.5-.2 1.5-.2 1.5-.3 1.5-.2 1.5-.2 1.5-.3 1.6-.2 1.5-.2 1.5-.2 1.6-.2 1.5-.2 1.6-.2 1.6-.2 1.6-.1 1.6-.2 1.6-.2 1.6-.1 1.7-.1 1.6-.1 1.7-.1 1.7-.1 1.7-.1 1.7-.2 1.7-.1 1.7-.1 1.7-.2 1.8-.1 1.8-.1 1.8-.2 1.8-.1 1.8-.2 1.9-.1 1.9-.2 1.9-.1 1.9-.2 2-.1 2.1-.2 2-.2 2.1-.1 2.2-.2 2.2-.1 2.2-.1 2.3-.1 2.3-.1 2.3-.1 2.4-.1 2.5-.1 2.5 .3 2.6 .4 2.7 .2 2.9 .2 2.9 .3 2.7 .5 2.6 .6 2.5 .7 2.5 .7 2.5 .8 2.4 .8 2.5 .9 2.4 .9 2.5 .9 2.4 .9 2.4 1 2.4 1 2.3 1.1 2.4 1.1 2.3 1.1 2.3 1.1 2.3 1.2 2.3 1.2 2.2 1.3 2.2 1.3 2.1 1.3 2 1.4 1.9 1.4 1.9 1.4 1.8 1.5 1.8 1.5 1.6 1.5 1.6 1.5 1.4 1.6 1.3 1.6 1.1 1.7 1 1.7 .9 1.5 .8 1.5 .7 1.4 .4 1.5 .1 1.5 0 1.5-.2 1.5-.3 1.5-.4 1.5-.6 1.4-.7 1.5-.8 1.4-.9 1.4-.8 1.4-1 1.4-1 1.3-1.1 1.3-1.2 1.3-1.2 1.3-1.3 1.2-1.5 1.3-1.5 1.2-1.8 1.1-1.9 1.1-2.2 1.1-2.7 .9-2.7 .9-2.7 .8-2.7 .8-2.6 .7-2.6 .8-2.6 .6-2.6 .7-2.5 .6-2.4 .6-2.4 .5-2.3 .6-2.2 .5-2.1 .4-2.1 .4-2 .4-2 .4-1.9 .4-1.9 .3-1.8 .4-1.8 .3-1.8 .3-1.7 .3-1.7 .3-1.7 .3-1.6 .3-1.6 .3-1.6 .3-1.6 .2-1.5 .3-1.5 .3-1.5 .2-1.5 .3-1.4 .2-1.5 .2-1.4 .3-1.4 .2-1.5 .2-1.4 .2-1.4 .2-1.3 .2-1.4 .2-1.4 .1-1.4 .2-1.4 .2-1.3 .1-1.4 .2-1.4 .1-1.4 .1-1.3 .2-1.4 .1-1.3 .1-1.4 .1-1.4 .1-1.3 .2-1.4 .1-1.4 .1-1.4 .1-1.3 .1-1.4 .1-1.4 .1-1.4 .1-1.4 .1-1.5 0-1.4 0-1.4 0-1.5-.1-1.5 0-1.5 0-1.5 0-1.5-.1-1.5 0-1.6 0-1.6 0-1.6 0-1.6 0-1.7-.1-1.7 0-1.8 0-1.7 0-1.9 0-1.8 0-1.9 0-1.9-.1-2 0-2-.1-2 0-2.1-.1-2.2-.4-2.2-.5-2.3-.5-2.3-.4-2.4-.5-2.5-.5-2.6-.5-2.6-.5-2.7-.5-2.7-.6-2.7-.6-2.8-.6-2.9-.7-3-.6-3.1-.7-3.3-.6-3.4-.8-3.6-1.2-3.7-1.1-3.9-1.2-3.9-1.2-4.1-1.3-4.1-1.3-4.3-1.3-4.4-1.4-4.4-1.5-4-1.6-3.6-1.8-3.2-2-3-2-2.6-2.2-2.2-2.2-1.8-2.4-1.3-1.7-1-1.4-.7-1.4-.4-1.5-.2-1.4 0-1.5 .2-1.5 .5-1.4 .8-1.5 1.1-1.5 1.4-1.4 1.8-1.4 2-1.4 2.1-1.4 2.1-1.2 2.2-1.3 2.2-1.2 2.2-1.1 2.2-1.1 2.2-1.1 2.2-1.1 2.1-1 2.1-.9 2.1-.9 2.1-.9 2.1-.9 2.1-.8 2-.8 2.1-.7 2.1-.7 2-.7 1.8-.7 1.9-.7 1.7-.6 1.7-.6 1.7-.6 1.8-.6 1.7-.6 1.6-.6 1.7-.5 1.7-.5z"/><path d="M888 193l1.6-.3 1.6-.4 1.6-.4 1.7-.3 1.6-.3 1.6-.3 1.6-.3 1.7-.3 1.6-.2 1.7-.3 1.6-.2 1.6-.2 1.7-.2 1.6-.1 1.6-.2 1.6-.2 1.6-.1 1.6-.1 1.5-.2 1.6-.1 1.6-.1 1.5-.1 1.6-.1 1.5-.1 1.6-.1 1.5-.3 1.5-.2 1.5-.2 1.5-.3 1.6-.2 1.5-.3 1.5-.2 1.5-.2 1.6-.2 1.5-.2 1.5-.2 1.6-.3 1.5-.1 1.6-.2 1.6-.2 1.5-.2 1.6-.2 1.6-.1 1.7-.2 1.6-.1 1.6-.2 1.7-.1 1.7-.1 1.7-.1 1.7 0 1.7-.2 1.7-.1 1.7-.2 1.8-.1 1.7-.1 1.8-.2 1.8-.1 1.8-.1 1.8-.2 1.9-.1 1.9-.2 1.9-.1 2-.2 2-.2 2-.1 2.1-.2 2.1-.2 2.1-.1 2.2-.1 2.3-.2 2.2-.1 2.3-.1 2.4-.1 2.4 0 2.4-.1 2.5 .3 2.6 .3 2.8 .3 2.9 .2 2.8 .3 2.8 .4 2.6 .6 2.5 .7 2.5 .7 2.5 .8 2.4 .8 2.5 .8 2.4 .9 2.5 .9 2.4 .9 2.4 1 2.4 1 2.4 1 2.4 1.1 2.3 1.1 2.4 1.1 2.3 1.2 2.3 1.1 2.2 1.3 2.2 1.2 2.1 1.3 2.1 1.4 1.9 1.3 1.9 1.4 1.9 1.5 1.7 1.5 1.7 1.5 1.6 1.5 1.4 1.5 1.3 1.6 1.1 1.7 1 1.6 .9 1.6 .8 1.4 .7 1.5 .4 1.5 .1 1.5 0 1.5-.2 1.5-.3 1.5-.5 1.5-.6 1.4-.8 1.5-.8 1.4-.8 1.4-.9 1.4-1 1.4-1 1.3-1.2 1.3-1.1 1.3-1.3 1.3-1.3 1.3-1.5 1.2-1.6 1.2-1.7 1.1-1.9 1.1-2.2 1.1-2.7 .9-2.7 .9-2.7 .8-2.7 .8-2.6 .8-2.6 .7-2.6 .7-2.6 .6-2.5 .6-2.4 .6-2.3 .6-2.3 .5-2.2 .6-2.2 .4-2.1 .4-2 .4-2 .4-1.9 .3-1.9 .4-1.8 .3-1.8 .4-1.8 .3-1.7 .3-1.7 .3-1.7 .3-1.6 .3-1.7 .3-1.5 .3-1.6 .2-1.5 .3-1.5 .3-1.5 .2-1.5 .3-1.5 .2-1.4 .3-1.5 .2-1.4 .2-1.4 .3-1.4 .2-1.4 .1-1.4 .2-1.4 .2-1.4 .2-1.4 .1-1.4 .2-1.3 .1-1.4 .2-1.4 .1-1.4 .2-1.3 .1-1.4 .1-1.4 .1-1.3 .2-1.4 .1-1.4 .1-1.4 .1-1.3 .1-1.4 .1-1.4 .1-1.4 .2-1.4 .1-1.4 .1-1.4 .1-1.5-.1-1.4 0-1.4 0-1.5 0-1.5 0-1.5-.1-1.5 0-1.5 0-1.6-.1-1.5 0-1.6 0-1.6 0-1.7 0-1.7 0-1.7 0-1.7 0-1.8 0-1.8 0-1.9-.1-1.9 0-1.9 0-2-.1-2 0-2.1-.1-2.1 0-2.1-.5-2.2-.5-2.3-.4-2.4-.5-2.4-.4-2.5-.5-2.6-.5-2.6-.5-2.7-.5-2.7-.6-2.8-.6-2.8-.6-2.9-.6-3-.7-3.1-.7-3.3-.6-3.4-.8-3.6-1.1-3.7-1.2-3.9-1.1-3.9-1.2-4.1-1.3-4.2-1.3-4.3-1.3-4.3-1.4-4.5-1.5-4-1.6-3.6-1.8-3.3-1.9-3-2-2.7-2.2-2.2-2.2-1.7-2.4-1.4-1.7-1-1.4-.6-1.4-.3-1.5-.2-1.4 0-1.5 .3-1.5 .5-1.5 .8-1.4 1.1-1.5 1.4-1.4 1.8-1.4 2-1.4 2.1-1.3 2.1-1.3 2.2-1.2 2.2-1.2 2.2-1.2 2.2-1.1 2.1-1.1 2.2-1 2.1-1 2.1-1 2.1-.9 2.1-.9 2.1-.8 2.1-.8 2-.8 2.1-.8 2.1-.7 1.9-.7 1.9-.6 1.8-.7 1.8-.7 1.7-.6 1.8-.6 1.7-.6 1.7-.6 1.7-.5 1.7-.5 1.6-.6z"/><path d="M887.6 191.6l1.7-.4 1.6-.4 1.6-.3 1.6-.3 1.7-.4 1.6-.3 1.7-.2 1.6-.3 1.7-.2 1.6-.2 1.7-.3 1.6-.1 1.6-.2 1.7-.2 1.6-.2 1.6-.1 1.6-.2 1.6-.1 1.5-.1 1.6-.1 1.6-.1 1.6-.1 1.5-.1 1.6-.1 1.5-.1 1.5-.2 1.6-.3 1.5-.2 1.5-.3 1.6-.2 1.5-.2 1.5-.3 1.5-.2 1.6-.2 1.5-.2 1.6-.2 1.5-.2 1.6-.2 1.5-.2 1.6-.2 1.6-.2 1.6-.1 1.6-.2 1.6-.1 1.7-.2 1.6-.1 1.7-.1 1.7-.1 1.6-.1 1.7-.1 1.8-.1 1.7-.2 1.7-.1 1.8-.1 1.7-.2 1.8-.1 1.8-.1 1.8-.2 1.9-.1 1.8-.2 1.9-.1 2-.2 1.9-.1 2-.2 2.1-.2 2-.1 2.1-.2 2.2-.1 2.2-.2 2.2-.1 2.3-.1 2.3-.1 2.3-.1 2.4-.1 2.5 0 2.5 .3 2.6 .3 2.7 .2 2.9 .2 2.9 .3 2.7 .4 2.6 .6 2.5 .7 2.5 .7 2.5 .7 2.5 .8 2.5 .8 2.4 .9 2.5 .9 2.4 .9 2.4 .9 2.5 1 2.4 1 2.4 1.1 2.3 1.1 2.4 1.1 2.3 1.1 2.4 1.2 2.2 1.1 2.3 1.3 2.1 1.2 2.1 1.4 2 1.3 1.9 1.4 1.8 1.4 1.8 1.4 1.7 1.5 1.6 1.5 1.4 1.6 1.3 1.5 1.2 1.7 1 1.6 .9 1.5 .8 1.5 .6 1.5 .4 1.5 .1 1.5-.1 1.5-.2 1.5-.3 1.5-.5 1.5-.6 1.4-.8 1.5-.8 1.4-.9 1.4-.9 1.4-1 1.4-1.1 1.3-1.1 1.4-1.2 1.3-1.3 1.2-1.3 1.3-1.5 1.2-1.6 1.2-1.8 1.1-1.9 1.2-2.2 1-2.7 .9-2.7 .9-2.6 .8-2.7 .8-2.6 .8-2.6 .7-2.6 .7-2.6 .6-2.5 .7-2.4 .6-2.3 .5-2.3 .6-2.2 .5-2.1 .5-2.1 .4-2.1 .4-1.9 .4-2 .3-1.8 .4-1.9 .3-1.8 .4-1.7 .3-1.8 .3-1.7 .3-1.7 .3-1.6 .3-1.6 .3-1.6 .3-1.6 .3-1.5 .2-1.6 .3-1.5 .3-1.4 .2-1.5 .3-1.5 .2-1.4 .2-1.4 .3-1.5 .2-1.4 .2-1.4 .2-1.4 .2-1.4 .1-1.4 .2-1.4 .2-1.4 .1-1.3 .2-1.4 .1-1.4 .2-1.4 .1-1.4 .1-1.3 .1-1.4 .2-1.4 .1-1.4 .1-1.3 .1-1.4 .1-1.4 .2-1.4 .1-1.4 .1-1.4 .1-1.4 .1-1.4 .1-1.4 .1-1.5 0-1.4 0-1.5-.1-1.4 0-1.5 0-1.5 0-1.5-.1-1.5 0-1.6 0-1.6 0-1.6-.1-1.6 0-1.7 0-1.6 0-1.8 0-1.7 0-1.8 0-1.8 0-1.9 0-1.9 0-1.9-.1-2 0-2-.1-2.1 0-2.1-.1-2.2-.4-2.2-.5-2.3-.5-2.4-.4-2.4-.5-2.5-.4-2.6-.5-2.6-.5-2.7-.5-2.7-.6-2.8-.6-2.8-.6-2.9-.6-3-.7-3.2-.6-3.2-.7-3.5-.8-3.6-1.1-3.7-1.1-3.9-1.2-3.9-1.2-4.1-1.2-4.2-1.3-4.3-1.3-4.4-1.4-4.5-1.5-4-1.6-3.7-1.8-3.3-1.9-3.1-2-2.6-2.1-2.2-2.3-1.8-2.3-1.3-1.7-1-1.4-.6-1.4-.3-1.5-.2-1.4 .1-1.5 .3-1.5 .5-1.5 .8-1.4 1.1-1.5 1.5-1.4 1.8-1.4 2-1.4 2.1-1.3 2.1-1.3 2.1-1.2 2.2-1.2 2.2-1.2 2.2-1.1 2.2-1 2.1-1.1 2.1-1 2.1-.9 2.2-.9 2-.9 2.1-.9 2.1-.8 2-.8 2.1-.7 2.1-.7 1.9-.7 1.9-.7 1.8-.7 1.8-.6 1.7-.7 1.8-.6 1.7-.6 1.7-.5 1.7-.6 1.7-.5 1.7-.5z"/><path d="M887.3 190.1l1.6-.3 1.7-.4 1.6-.3 1.6-.4 1.7-.3 1.6-.3 1.7-.2 1.6-.3 1.7-.2 1.6-.2 1.7-.2 1.6-.2 1.7-.2 1.6-.2 1.6-.1 1.7-.2 1.6-.1 1.6-.1 1.5-.1 1.6-.2 1.6-.1 1.6 0 1.5-.1 1.6-.1 1.6-.1 1.5-.2 1.5-.3 1.6-.2 1.5-.3 1.5-.2 1.6-.2 1.5-.2 1.5-.3 1.6-.2 1.5-.2 1.6-.2 1.5-.2 1.6-.2 1.6-.2 1.6-.1 1.6-.2 1.6-.2 1.6-.1 1.6-.2 1.6-.1 1.7-.1 1.7-.2 1.6 0 1.7-.1 1.7-.1 1.8-.1 1.7-.2 1.7-.1 1.8-.2 1.7-.1 1.8-.1 1.8-.2 1.8-.1 1.9-.1 1.9-.2 1.9-.2 1.9-.1 2-.2 2-.1 2-.2 2.1-.2 2.1-.1 2.1-.2 2.2-.1 2.3-.1 2.2-.1 2.3-.1 2.4-.1 2.4-.1 2.4-.1 2.5 .3 2.6 .3 2.8 .3 2.9 .1 2.8 .3 2.8 .4 2.6 .6 2.5 .6 2.5 .7 2.5 .8 2.5 .7 2.5 .8 2.4 .9 2.5 .9 2.4 .9 2.5 .9 2.4 1 2.4 1 2.4 1 2.4 1.1 2.4 1 2.4 1.1 2.3 1.2 2.3 1.1 2.3 1.2 2.2 1.3 2 1.2 2.1 1.4 1.9 1.3 1.9 1.4 1.7 1.4 1.7 1.5 1.7 1.5 1.4 1.5 1.3 1.6 1.2 1.5 1 1.6 .9 1.6 .8 1.4 .6 1.5 .4 1.5 .1 1.5-.1 1.5-.2 1.6-.4 1.5-.5 1.4-.6 1.5-.8 1.5-.9 1.4-.9 1.4-.9 1.4-1 1.4-1.1 1.3-1.1 1.4-1.3 1.3-1.3 1.3-1.3 1.2-1.5 1.2-1.6 1.2-1.8 1.2-1.9 1.1-2.2 1-2.7 .9-2.7 .9-2.7 .9-2.6 .8-2.6 .7-2.6 .8-2.6 .7-2.6 .6-2.5 .6-2.4 .6-2.3 .6-2.3 .6-2.2 .5-2.1 .4-2.1 .5-2 .4-2 .3-1.9 .4-1.9 .4-1.8 .3-1.8 .4-1.8 .3-1.8 .3-1.7 .3-1.7 .3-1.6 .3-1.6 .3-1.6 .3-1.6 .3-1.5 .2-1.6 .3-1.5 .3-1.5 .2-1.4 .3-1.5 .2-1.4 .3-1.5 .2-1.4 .2-1.4 .2-1.4 .2-1.5 .2-1.4 .2-1.4 .1-1.3 .2-1.4 .2-1.4 .1-1.4 .2-1.4 .1-1.4 .1-1.4 .2-1.4 .1-1.3 .1-1.4 .1-1.4 .1-1.4 .2-1.4 .1-1.4 .1-1.3 .1-1.4 .1-1.4 .1-1.5 .1-1.4 .1-1.4 .1-1.4 0-1.5 0-1.5 0-1.4 0-1.5-.1-1.5 0-1.5 0-1.6 0-1.5-.1-1.6 0-1.6 0-1.6 0-1.7 0-1.7 0-1.7 0-1.8 0-1.8-.1-1.8 0-1.9 0-1.9 0-1.9 0-2-.1-2 0-2.1-.1-2.1-.1-2.2-.4-2.2-.4-2.3-.5-2.4-.4-2.5-.5-2.5-.5-2.6-.4-2.6-.5-2.7-.6-2.7-.5-2.8-.6-2.9-.6-2.9-.6-3-.7-3.1-.6-3.3-.7-3.5-.8-3.6-1.1-3.7-1.1-3.9-1.1-4-1.2-4.1-1.3-4.2-1.2-4.3-1.3-4.4-1.4-4.5-1.4-4.1-1.7-3.6-1.7-3.4-1.9-3.1-2-2.7-2.1-2.2-2.3-1.7-2.3-1.4-1.7-.9-1.4-.6-1.4-.3-1.5-.1-1.5 .1-1.4 .3-1.5 .6-1.5 .8-1.4 1.1-1.5 1.5-1.4 1.8-1.4 2-1.4 2-1.3 2.2-1.3 2.1-1.2 2.2-1.2 2.2-1.1 2.2-1.1 2.1-1.1 2.2-1 2.1-1 2.1-1 2.1-.9 2-.9 2.1-.8 2.1-.9 2-.7 2.1-.8 2-.7 2-.7 1.9-.7 1.8-.6 1.8-.7 1.7-.6 1.8-.6 1.7-.6 1.7-.6 1.7-.5 1.7-.6 1.7-.5z"/><path d="M886.9 188.7l1.7-.4 1.6-.3 1.7-.4 1.6-.3 1.6-.3 1.7-.3 1.7-.3 1.6-.2 1.7-.2 1.7-.2 1.6-.2 1.7-.2 1.6-.2 1.7-.1 1.6-.2 1.6-.1 1.6-.2 1.6-.1 1.6-.1 1.6-.1 1.6-.1 1.6-.1 1.6 0 1.5-.1 1.6-.1 1.6-.2 1.5-.3 1.5-.2 1.6-.2 1.5-.3 1.6-.2 1.5-.2 1.5-.2 1.6-.2 1.5-.3 1.6-.2 1.6-.2 1.5-.1 1.6-.2 1.6-.2 1.6-.2 1.6-.1 1.6-.2 1.7-.1 1.6-.2 1.7-.1 1.6-.1 1.7-.1 1.7 0 1.7-.1 1.8-.2 1.7-.1 1.7-.2 1.8-.1 1.8-.1 1.7-.2 1.9-.1 1.8-.1 1.8-.2 1.9-.1 1.9-.2 1.9-.1 2-.2 2-.2 2-.1 2.1-.2 2.1-.1 2.2-.2 2.2-.1 2.2-.2 2.3-.1 2.3-.1 2.3 0 2.4-.1 2.5-.1 2.5 .3 2.6 .3 2.7 .2 2.9 .2 2.9 .2 2.7 .5 2.6 .5 2.6 .6 2.5 .7 2.5 .7 2.5 .8 2.5 .8 2.4 .8 2.5 .8 2.5 .9 2.4 1 2.5 .9 2.4 1 2.4 1 2.5 1 2.4 1.1 2.4 1.1 2.3 1.1 2.4 1.1 2.2 1.2 2.2 1.2 2.1 1.2 2.1 1.3 2 1.4 1.8 1.3 1.8 1.4 1.7 1.5 1.7 1.4 1.5 1.5 1.3 1.6 1.1 1.5 1 1.6 .9 1.5 .8 1.5 .6 1.5 .4 1.5 .1 1.5-.1 1.5-.2 1.5-.4 1.5-.6 1.5-.6 1.5-.8 1.5-.9 1.4-.9 1.4-1 1.4-1 1.4-1.1 1.4-1.2 1.3-1.2 1.3-1.4 1.3-1.3 1.2-1.5 1.2-1.6 1.2-1.8 1.2-1.9 1.1-2.2 1-2.7 1-2.7 .9-2.7 .8-2.6 .8-2.6 .8-2.6 .7-2.6 .7-2.6 .6-2.5 .7-2.3 .6-2.4 .6-2.2 .5-2.2 .6-2.2 .4-2.1 .4-2 .4-2 .4-1.9 .4-1.9 .4-1.8 .3-1.8 .4-1.8 .3-1.7 .3-1.8 .3-1.7 .3-1.6 .3-1.6 .3-1.6 .3-1.6 .3-1.6 .3-1.5 .2-1.5 .3-1.5 .2-1.5 .3-1.4 .2-1.5 .3-1.4 .2-1.5 .2-1.4 .2-1.4 .2-1.4 .2-1.4 .2-1.4 .2-1.4 .1-1.4 .2-1.4 .2-1.4 .1-1.4 .1-1.4 .2-1.4 .1-1.4 .1-1.4 .1-1.4 .2-1.3 .1-1.4 .1-1.4 .1-1.4 .1-1.4 .1-1.4 .1-1.4 .2-1.4 .1-1.5 .1-1.4 .1-1.4-.1-1.5 0-1.5 0-1.4 0-1.5 0-1.5-.1-1.6 0-1.5 0-1.6 0-1.6-.1-1.6 0-1.6 0-1.7 0-1.7 0-1.7 0-1.8 0-1.8 0-1.8 0-1.9 0-1.9-.1-1.9 0-2-.1-2.1 0-2-.1-2.2 0-2.2-.5-2.2-.4-2.3-.4-2.4-.5-2.4-.4-2.6-.5-2.6-.5-2.6-.5-2.7-.5-2.8-.5-2.7-.6-2.9-.6-2.9-.6-3.1-.7-3.1-.6-3.3-.7-3.5-.7-3.6-1.1-3.7-1.1-3.9-1.2-4-1.2-4.1-1.2-4.2-1.2-4.4-1.4-4.4-1.3-4.5-1.4-4.1-1.6-3.7-1.8-3.4-1.9-3.1-2-2.8-2.1-2.2-2.2-1.7-2.3-1.4-1.7-.9-1.4-.5-1.5-.2-1.4-.1-1.5 .1-1.4 .3-1.5 .6-1.5 .8-1.4 1.2-1.5 1.5-1.4 1.8-1.4 1.9-1.4 2.1-1.3 2.1-1.2 2.2-1.2 2.1-1.2 2.2-1.2 2.2-1.1 2.2-1.1 2.1-1 2.1-1 2.1-.9 2.1-1 2-.9 2.1-.8 2-.8 2.1-.8 2.1-.7 2-.8 2-.7 1.9-.6 1.8-.7 1.8-.7 1.7-.6 1.7-.6 1.8-.6 1.7-.5 1.7-.6 1.7-.5 1.7-.5z"/><path d="M886.6 187.2l1.6-.3 1.7-.4 1.6-.3 1.7-.3 1.6-.3 1.7-.3 1.7-.3 1.6-.2 1.7-.2 1.7-.2 1.7-.2 1.6-.2 1.7-.2 1.6-.1 1.7-.2 1.6-.1 1.6-.1 1.6-.1 1.6-.1 1.6-.1 1.6-.1 1.6-.1 1.6-.1 1.6 0 1.5-.1 1.6-.2 1.6-.3 1.5-.2 1.6-.2 1.5-.3 1.5-.2 1.6-.2 1.5-.2 1.6-.2 1.6-.2 1.5-.2 1.6-.2 1.6-.2 1.6-.2 1.6-.2 1.6-.1 1.6-.2 1.6-.1 1.6-.2 1.7-.1 1.7-.1 1.6-.1 1.7-.1 1.7-.1 1.7 0 1.8-.2 1.7-.1 1.7-.2 1.8-.1 1.8-.2 1.8-.1 1.8-.1 1.8-.2 1.9-.1 1.8-.2 1.9-.1 2-.2 1.9-.1 2.1-.2 2-.2 2.1-.1 2.1-.2 2.1-.1 2.2-.2 2.3-.1 2.2-.1 2.3-.1 2.4-.1 2.4-.1 2.4 0 2.6 .2 2.5 .3 2.8 .2 2.9 .2 2.8 .3 2.8 .4 2.6 .5 2.5 .6 2.5 .7 2.5 .7 2.5 .7 2.5 .8 2.5 .8 2.5 .8 2.5 .9 2.5 .9 2.4 .9 2.5 1 2.4 1 2.5 1 2.4 1.1 2.4 1 2.4 1.1 2.4 1.1 2.3 1.1 2.2 1.2 2.1 1.2 2.1 1.3 2 1.3 1.9 1.3 1.8 1.4 1.7 1.4 1.7 1.5 1.5 1.4 1.3 1.6 1.1 1.5 1 1.6 .9 1.5 .8 1.5 .7 1.4 .3 1.6 .1 1.5-.1 1.5-.3 1.5-.4 1.5-.5 1.5-.7 1.5-.9 1.5-.8 1.4-1 1.4-1 1.4-1 1.4-1.2 1.4-1.1 1.3-1.3 1.3-1.3 1.3-1.4 1.2-1.5 1.2-1.7 1.2-1.8 1.2-1.9 1.1-2.2 1.1-2.7 .9-2.6 .9-2.7 .8-2.6 .8-2.6 .8-2.6 .7-2.6 .7-2.6 .7-2.4 .6-2.4 .6-2.3 .6-2.3 .6-2.2 .6-2.1 .4-2.1 .4-2 .4-2 .4-1.9 .4-1.9 .4-1.9 .3-1.8 .4-1.8 .3-1.7 .3-1.7 .3-1.7 .3-1.7 .3-1.6 .3-1.6 .3-1.6 .3-1.6 .3-1.5 .2-1.5 .3-1.5 .3-1.5 .2-1.5 .3-1.4 .2-1.5 .2-1.4 .3-1.4 .2-1.5 .2-1.4 .2-1.4 .1-1.4 .2-1.4 .2-1.4 .1-1.4 .2-1.4 .1-1.4 .2-1.4 .1-1.4 .1-1.4 .1-1.4 .2-1.4 .1-1.4 .1-1.4 .1-1.4 .1-1.4 .2-1.4 .1-1.4 .1-1.4 .1-1.4 .1-1.4 .1-1.5 .1-1.4 0-1.5 0-1.5 0-1.5-.1-1.5 0-1.5 0-1.5 0-1.5-.1-1.6 0-1.6 0-1.6 0-1.7-.1-1.6 0-1.7 0-1.8 0-1.7 0-1.9 0-1.8 0-1.9 0-1.9 0-1.9-.1-2 0-2.1-.1-2.1 0-2.1-.1-2.2-.4-2.3-.4-2.3-.5-2.4-.4-2.4-.5-2.6-.4-2.6-.5-2.6-.5-2.7-.5-2.8-.5-2.8-.6-2.8-.6-3-.6-3-.7-3.2-.6-3.3-.6-3.5-.8-3.6-1.1-3.8-1.1-3.8-1.1-4-1.2-4.2-1.2-4.2-1.3-4.3-1.3-4.5-1.3-4.5-1.4-4.1-1.6-3.7-1.8-3.5-1.8-3.2-2-2.7-2.1-2.2-2.2-1.8-2.3-1.3-1.7-.9-1.4-.5-1.5-.2-1.4-.1-1.5 .2-1.5 .3-1.4 .6-1.5 .9-1.4 1.1-1.5 1.5-1.4 1.8-1.4 2-1.3 2.1-1.3 2.1-1.3 2.1-1.2 2.2-1.2 2.2-1.1 2.1-1.2 2.2-1 2.1-1.1 2.1-1 2.1-.9 2.1-.9 2-.9 2.1-.9 2-.8 2.1-.8 2-.7 2.1-.7 2-.7 1.9-.7 1.8-.7 1.7-.6 1.8-.6 1.7-.7 1.8-.5 1.7-.6 1.7-.5 1.8-.6 1.7-.5z"/><path d="M886.2 185.8l1.7-.4 1.6-.3 1.7-.4 1.6-.3 1.7-.3 1.7-.2 1.7-.3 1.6-.2 1.7-.3 1.7-.1 1.7-.2 1.7-.2 1.6-.2 1.7-.1 1.6-.1 1.7-.2 1.6-.1 1.6-.1 1.6-.1 1.6-.1 1.7 0 1.5-.1 1.6-.1 1.6 0 1.6-.1 1.6-.2 1.5-.3 1.6-.2 1.5-.2 1.6-.3 1.5-.2 1.6-.2 1.5-.2 1.6-.2 1.6-.2 1.5-.2 1.6-.2 1.6-.2 1.6-.2 1.6-.1 1.6-.2 1.6-.1 1.7-.2 1.6-.1 1.7-.2 1.6-.1 1.7-.1 1.7-.1 1.7 0 1.7-.1 1.8-.1 1.7-.2 1.8-.1 1.7-.2 1.8-.1 1.8-.1 1.8-.2 1.8-.1 1.9-.2 1.9-.1 1.9-.2 1.9-.1 2-.2 2-.1 2-.2 2.1-.2 2.1-.1 2.2-.2 2.2-.1 2.2-.1 2.3-.1 2.3-.1 2.3-.1 2.4-.1 2.5-.1 2.5 .3 2.6 .3 2.7 .2 2.9 .1 2.9 .3 2.7 .4 2.6 .5 2.6 .6 2.5 .6 2.5 .7 2.5 .7 2.5 .8 2.6 .8 2.4 .8 2.5 .9 2.5 .9 2.5 .9 2.5 .9 2.4 1 2.5 1 2.5 1 2.4 1 2.4 1.1 2.4 1 2.3 1.2 2.3 1.1 2.1 1.2 2.1 1.3 2 1.2 2 1.4 1.8 1.3 1.7 1.4 1.7 1.4 1.5 1.5 1.3 1.5 1.2 1.5 1 1.5 .9 1.5 .8 1.5 .6 1.5 .4 1.5 0 1.5-.1 1.6-.3 1.5-.4 1.5-.6 1.5-.7 1.5-.9 1.5-.9 1.4-1 1.4-1 1.4-1 1.4-1.2 1.4-1.2 1.3-1.3 1.3-1.3 1.3-1.4 1.2-1.5 1.3-1.7 1.1-1.8 1.2-1.9 1.1-2.2 1.1-2.7 .9-2.7 .9-2.6 .9-2.7 .8-2.5 .7-2.6 .8-2.6 .7-2.5 .6-2.5 .7-2.4 .6-2.3 .6-2.3 .6-2.2 .5-2.1 .5-2.1 .4-2 .4-2 .4-1.9 .4-1.9 .4-1.8 .3-1.8 .4-1.8 .3-1.8 .3-1.7 .3-1.7 .3-1.7 .3-1.6 .3-1.6 .3-1.6 .3-1.6 .3-1.5 .3-1.5 .2-1.5 .3-1.5 .2-1.5 .3-1.5 .2-1.4 .3-1.5 .2-1.4 .2-1.4 .2-1.4 .2-1.5 .2-1.4 .2-1.4 .1-1.4 .2-1.4 .1-1.4 .2-1.4 .1-1.4 .1-1.4 .2-1.4 .1-1.4 .1-1.4 .1-1.4 .1-1.4 .2-1.4 .1-1.4 .1-1.4 .1-1.4 .1-1.5 .1-1.4 .1-1.4 .1-1.5 .1-1.4 0-1.5 0-1.5 0-1.5 0-1.5-.1-1.5 0-1.5 0-1.6 0-1.6-.1-1.6 0-1.6 0-1.6 0-1.7 0-1.7 0-1.8 0-1.7 0-1.8 0-1.9-.1-1.9 0-1.9 0-2 0-2-.1-2 0-2.1-.1-2.1 0-2.2-.5-2.3-.4-2.3-.4-2.4-.5-2.5-.4-2.6-.4-2.6-.5-2.6-.5-2.7-.5-2.8-.6-2.8-.5-2.9-.6-2.9-.6-3.1-.7-3.2-.6-3.3-.6-3.4-.8-3.7-1.1-3.8-1.1-3.9-1.1-4-1.2-4.1-1.1-4.3-1.3-4.3-1.3-4.5-1.3-4.5-1.4-4.2-1.6-3.7-1.7-3.5-1.9-3.2-1.9-2.8-2.1-2.2-2.2-1.8-2.4-1.3-1.6-.9-1.4-.4-1.5-.2-1.4 0-1.5 .1-1.5 .4-1.4 .7-1.5 .8-1.5 1.2-1.4 1.5-1.4 1.8-1.4 2-1.3 2-1.3 2.1-1.3 2.2-1.2 2.1-1.2 2.2-1.1 2.2-1.1 2.1-1.1 2.1-1 2.1-1 2.1-1 2.1-.9 2-.9 2.1-.8 2-.8 2-.8 2.1-.8 2.1-.7 1.9-.7 1.9-.7 1.8-.6 1.8-.7 1.8-.6 1.7-.6 1.8-.6 1.7-.6 1.8-.5 1.7-.5 1.7-.5z"/><path d="M885.8 184.3l1.7-.4 1.7-.3 1.6-.3 1.7-.3 1.7-.3 1.7-.3 1.6-.2 1.7-.3 1.7-.2 1.7-.2 1.7-.1 1.7-.2 1.7-.1 1.6-.2 1.7-.1 1.6-.1 1.7-.1 1.6-.1 1.6-.1 1.6-.1 1.7-.1 1.6 0 1.6-.1 1.6 0 1.5-.1 1.6-.2 1.6-.3 1.5-.2 1.6-.2 1.6-.2 1.5-.3 1.6-.2 1.5-.2 1.6-.2 1.6-.2 1.6-.2 1.5-.2 1.6-.1 1.6-.2 1.6-.2 1.7-.2 1.6-.1 1.6-.2 1.7-.1 1.6-.1 1.7-.1 1.7-.1 1.7-.1 1.7-.1 1.7 0 1.8-.2 1.7-.1 1.8-.2 1.7-.1 1.8-.1 1.8-.2 1.8-.1 1.9-.1 1.8-.2 1.9-.1 1.9-.2 2-.2 1.9-.1 2-.2 2.1-.1 2.1-.2 2.1-.1 2.1-.2 2.2-.1 2.3-.1 2.2-.2 2.3-.1 2.4 0 2.4-.1 2.4-.1 2.6 .3 2.6 .2 2.7 .2 2.9 .2 2.8 .2 2.8 .4 2.6 .5 2.5 .6 2.6 .6 2.5 .7 2.5 .7 2.5 .7 2.6 .8 2.5 .8 2.5 .8 2.5 .9 2.5 .9 2.4 .9 2.5 1 2.5 1 2.5 1 2.5 1 2.4 1 2.4 1 2.4 1.1 2.3 1.1 2.1 1.2 2.2 1.2 2 1.3 1.9 1.3 1.9 1.3 1.8 1.4 1.6 1.4 1.5 1.4 1.4 1.4 1.1 1.5 1 1.6 .9 1.5 .8 1.5 .6 1.5 .4 1.5 .1 1.5-.2 1.6-.3 1.5-.4 1.5-.7 1.5-.7 1.5-.9 1.5-.9 1.4-1 1.4-1 1.4-1.1 1.4-1.2 1.4-1.2 1.3-1.3 1.3-1.4 1.3-1.4 1.2-1.5 1.3-1.7 1.2-1.8 1.1-1.9 1.1-2.2 1.1-2.7 .9-2.7 .9-2.7 .9-2.6 .8-2.5 .8-2.6 .7-2.6 .7-2.5 .7-2.5 .6-2.3 .6-2.4 .6-2.2 .6-2.2 .6-2.1 .4-2.1 .5-2 .4-2 .4-2 .4-1.8 .3-1.9 .4-1.8 .4-1.8 .3-1.8 .3-1.7 .3-1.7 .4-1.7 .3-1.6 .2-1.6 .3-1.6 .3-1.6 .3-1.5 .3-1.5 .3-1.5 .2-1.5 .3-1.5 .2-1.5 .3-1.5 .2-1.4 .2-1.4 .2-1.5 .2-1.4 .2-1.4 .2-1.5 .2-1.4 .1-1.4 .2-1.4 .2-1.4 .1-1.4 .1-1.4 .2-1.4 .1-1.5 .1-1.4 .1-1.4 .2-1.4 .1-1.4 .1-1.4 .1-1.4 .1-1.4 .1-1.4 .1-1.4 .2-1.5 .1-1.4 .1-1.5 .1-1.4-.1-1.5 0-1.5 0-1.5 0-1.5 0-1.5 0-1.6-.1-1.5 0-1.6 0-1.6 0-1.6-.1-1.7 0-1.7 0-1.7 0-1.7 0-1.8 0-1.8 0-1.9 0-1.9 0-1.9-.1-2 0-2 0-2-.1-2.1 0-2.2-.1-2.2-.4-2.3-.4-2.3-.5-2.4-.4-2.5-.4-2.6-.5-2.6-.4-2.6-.5-2.8-.5-2.7-.6-2.9-.5-2.8-.6-3-.6-3.1-.7-3.1-.6-3.4-.6-3.5-.8-3.6-1-3.8-1.1-3.9-1.1-4-1.2-4.2-1.2-4.2-1.2-4.4-1.3-4.5-1.3-4.5-1.4-4.2-1.6-3.8-1.7-3.5-1.8-3.3-2-2.8-2.1-2.2-2.2-1.8-2.3-1.3-1.7-.8-1.4-.4-1.4-.2-1.5 0-1.4 .2-1.5 .4-1.5 .7-1.4 .9-1.5 1.2-1.4 1.5-1.4 1.8-1.4 1.9-1.3 2.1-1.3 2.1-1.3 2.1-1.2 2.2-1.1 2.1-1.2 2.2-1.1 2.1-1.1 2.1-1 2.1-1 2.1-.9 2-1 2.1-.8 2.1-.9 2-.8 2-.8 2.1-.7 2-.8 2-.7 1.9-.6 1.8-.7 1.8-.7 1.7-.6 1.8-.6 1.7-.6 1.8-.5 1.8-.6 1.7-.5 1.7-.5z"/><path d="M885.4 182.8l1.7-.3 1.7-.3 1.7-.4 1.7-.3 1.6-.2 1.7-.3 1.7-.2 1.7-.3 1.7-.2 1.7-.2 1.7-.1 1.7-.2 1.7-.1 1.7-.2 1.6-.1 1.7-.1 1.6-.1 1.7-.1 1.6-.1 1.6 0 1.7-.1 1.6-.1 1.6 0 1.6-.1 1.6 0 1.6-.2 1.5-.3 1.6-.2 1.6-.2 1.5-.2 1.6-.3 1.6-.2 1.5-.2 1.6-.2 1.6-.2 1.6-.2 1.6-.1 1.6-.2 1.6-.2 1.6-.2 1.6-.1 1.6-.2 1.7-.1 1.6-.1 1.7-.2 1.7-.1 1.7-.1 1.7 0 1.7-.1 1.7 0 1.8-.2 1.7-.2 1.8-.1 1.7-.1 1.8-.2 1.8-.1 1.8-.1 1.9-.2 1.8-.1 1.9-.2 2-.1 1.9-.2 2-.2 2-.1 2-.2 2.1-.1 2.1-.2 2.2-.1 2.2-.2 2.2-.1 2.3-.1 2.3-.1 2.4-.1 2.4 0 2.4-.1 2.5 .2 2.6 .3 2.7 .2 2.9 .1 2.9 .2 2.7 .4 2.6 .5 2.6 .5 2.5 .7 2.6 .6 2.5 .7 2.5 .7 2.6 .8 2.5 .8 2.5 .8 2.5 .8 2.5 .9 2.5 .9 2.5 1 2.5 1 2.5 1 2.5 .9 2.5 1 2.5 1 2.3 1 2.3 1.1 2.3 1.2 2.1 1.2 2.1 1.2 1.9 1.3 1.9 1.3 1.8 1.3 1.6 1.4 1.6 1.4 1.3 1.4 1.2 1.5 1 1.5 .9 1.5 .8 1.5 .6 1.5 .3 1.5 .1 1.6-.2 1.5-.3 1.6-.5 1.5-.6 1.5-.8 1.5-.9 1.5-.9 1.4-1.1 1.4-1 1.5-1.1 1.3-1.2 1.4-1.2 1.3-1.4 1.3-1.4 1.3-1.4 1.3-1.5 1.2-1.7 1.2-1.8 1.1-2 1.1-2.2 1.1-2.6 .9-2.7 .9-2.7 .9-2.6 .8-2.5 .8-2.6 .7-2.6 .8-2.5 .6-2.4 .7-2.4 .6-2.3 .6-2.3 .6-2.2 .6-2.1 .4-2.1 .4-2 .4-2 .5-1.9 .3-1.9 .4-1.8 .4-1.9 .4-1.8 .3-1.7 .3-1.8 .3-1.7 .4-1.6 .3-1.7 .3-1.6 .3-1.6 .2-1.6 .3-1.5 .3-1.5 .3-1.6 .2-1.5 .3-1.5 .2-1.4 .3-1.5 .2-1.4 .3-1.5 .2-1.4 .2-1.5 .2-1.4 .1-1.4 .2-1.4 .2-1.5 .1-1.4 .2-1.4 .1-1.4 .2-1.5 .1-1.4 .1-1.4 .1-1.4 .2-1.4 .1-1.4 .1-1.4 .1-1.4 .1-1.4 .2-1.5 .1-1.4 .1-1.4 .1-1.4 .1-1.5 .1-1.5 .1-1.4 0-1.5 0-1.5 0-1.5-.1-1.5 0-1.5 0-1.6 0-1.6-.1-1.5 0-1.6 0-1.7 0-1.6 0-1.7-.1-1.7 0-1.8 0-1.8 0-1.8 0-1.9 0-1.9 0-1.9 0-2-.1-2 0-2.1 0-2.1-.1-2.1 0-2.3-.5-2.2-.4-2.4-.4-2.4-.4-2.5-.5-2.5-.4-2.7-.5-2.7-.4-2.7-.5-2.8-.6-2.8-.5-2.9-.6-3-.6-3-.6-3.2-.7-3.4-.6-3.5-.8-3.6-1-3.8-1.1-3.9-1.1-4.1-1.1-4.1-1.2-4.3-1.2-4.4-1.3-4.5-1.3-4.5-1.4-4.2-1.6-3.9-1.7-3.6-1.8-3.3-1.9-2.8-2.1-2.2-2.2-1.8-2.3-1.3-1.7-.8-1.4-.4-1.4-.1-1.5 0-1.4 .3-1.5 .4-1.5 .7-1.4 .9-1.5 1.2-1.4 1.5-1.4 1.8-1.4 2-1.3 2-1.3 2.1-1.2 2.2-1.2 2.1-1.2 2.2-1.1 2.1-1.2 2.1-1 2.1-1.1 2.1-.9 2.1-1 2-.9 2.1-.9 2-.9 2-.8 2.1-.8 2-.7 2.1-.7 1.9-.7 1.9-.7 1.9-.7 1.7-.6 1.8-.7 1.8-.6 1.7-.5 1.8-.6 1.7-.5 1.8-.6 1.7-.5z"/><path d="M885 181.4l1.7-.4 1.7-.3 1.7-.3 1.7-.3 1.7-.3 1.7-.2 1.7-.3 1.7-.2 1.7-.2 1.7-.2 1.7-.1 1.7-.2 1.7-.1 1.7-.2 1.7-.1 1.7-.1 1.6-.1 1.7-.1 1.6 0 1.6-.1 1.7 0 1.6-.1 1.6 0 1.6-.1 1.6 0 1.6-.2 1.6-.3 1.6-.2 1.5-.2 1.6-.2 1.6-.2 1.6-.3 1.5-.2 1.6-.2 1.6-.2 1.6-.1 1.6-.2 1.6-.2 1.6-.2 1.6-.1 1.7-.2 1.6-.1 1.6-.2 1.7-.1 1.7-.1 1.7-.1 1.7-.1 1.7-.1 1.7 0 1.7-.1 1.8-.1 1.7-.2 1.8-.1 1.8-.2 1.7-.1 1.8-.2 1.9-.1 1.8-.1 1.9-.2 1.9-.1 1.9-.2 1.9-.1 2-.2 2-.2 2.1-.1 2.1-.2 2.1-.1 2.1-.2 2.2-.1 2.3-.1 2.2-.1 2.4-.1 2.3-.1 2.4-.1 2.5-.1 2.5 .3 2.6 .2 2.7 .2 2.9 .1 2.8 .2 2.8 .4 2.6 .5 2.6 .5 2.5 .6 2.5 .7 2.6 .6 2.5 .7 2.6 .8 2.5 .8 2.5 .8 2.6 .8 2.5 .9 2.5 .9 2.5 .9 2.6 .9 2.5 1 2.5 .9 2.5 1 2.5 1 2.4 1 2.3 1.1 2.3 1.1 2.1 1.1 2.1 1.2 2 1.3 1.9 1.3 1.8 1.3 1.7 1.3 1.5 1.4 1.4 1.4 1.1 1.5 1 1.5 .9 1.5 .8 1.5 .7 1.5 .3 1.5 0 1.5-.2 1.6-.3 1.5-.5 1.6-.7 1.5-.8 1.5-.9 1.5-1 1.4-1 1.4-1.1 1.5-1.1 1.3-1.2 1.4-1.3 1.3-1.3 1.3-1.4 1.3-1.5 1.3-1.5 1.2-1.7 1.2-1.9 1.1-1.9 1.2-2.2 1-2.7 1-2.6 .9-2.7 .8-2.6 .8-2.5 .8-2.6 .8-2.5 .7-2.6 .7-2.4 .6-2.4 .6-2.3 .7-2.2 .5-2.2 .6-2.1 .5-2.1 .4-2 .4-2 .4-2 .4-1.8 .4-1.9 .4-1.8 .3-1.8 .4-1.8 .3-1.7 .3-1.7 .4-1.7 .3-1.7 .3-1.6 .3-1.6 .3-1.6 .2-1.5 .3-1.6 .3-1.5 .3-1.5 .2-1.5 .3-1.5 .2-1.4 .3-1.5 .2-1.4 .2-1.5 .2-1.4 .2-1.5 .2-1.4 .2-1.4 .1-1.5 .2-1.4 .1-1.4 .2-1.4 .1-1.5 .1-1.4 .2-1.4 .1-1.4 .1-1.4 .1-1.4 .1-1.5 .2-1.4 .1-1.4 .1-1.4 .1-1.4 .1-1.5 .1-1.4 .1-1.5 .1-1.4 .1-1.5 0-1.5 0-1.5 0-1.5 0-1.5-.1-1.6 0-1.5 0-1.6 0-1.6-.1-1.6 0-1.6 0-1.7 0-1.7 0-1.7 0-1.8 0-1.8 0-1.8 0-1.9 0-1.9-.1-1.9 0-2 0-2-.1-2.1 0-2.1-.1-2.2 0-2.2-.4-2.3-.4-2.3-.5-2.5-.4-2.5-.4-2.5-.4-2.7-.5-2.7-.5-2.7-.5-2.8-.5-2.8-.5-3-.6-2.9-.6-3.1-.6-3.2-.7-3.4-.6-3.5-.7-3.6-1.1-3.8-1.1-4-1-4-1.2-4.2-1.1-4.3-1.3-4.4-1.2-4.5-1.3-4.6-1.4-4.2-1.5-3.9-1.7-3.6-1.8-3.3-2-2.9-2-2.2-2.2-1.8-2.3-1.3-1.7-.8-1.4-.3-1.4-.1-1.5 .1-1.5 .2-1.4 .5-1.5 .7-1.4 .9-1.5 1.3-1.4 1.5-1.4 1.8-1.4 2-1.3 2-1.3 2.1-1.2 2.1-1.2 2.1-1.2 2.2-1.1 2.1-1.1 2.1-1.1 2.1-1 2.1-1 2-1 2.1-.9 2.1-.9 2-.8 2-.8 2-.8 2.1-.8 2-.7 2-.7 1.9-.7 1.8-.7 1.8-.6 1.8-.6 1.7-.6 1.8-.6 1.8-.6 1.7-.5 1.8-.5 1.7-.5z"/><path d="M884.7 179.9l1.7-.3 1.7-.4 1.7-.3 1.7-.3 1.7-.2 1.7-.3 1.7-.2 1.7-.2 1.7-.2 1.7-.2 1.8-.1 1.7-.2 1.7-.1 1.7-.1 1.7-.1 1.6-.1 1.7-.1 1.6-.1 1.7-.1 1.6 0 1.7-.1 1.6 0 1.6-.1 1.6 0 1.7 0 1.5-.2 1.6-.3 1.6-.2 1.6-.2 1.6-.2 1.6-.2 1.6-.3 1.5-.2 1.6-.1 1.6-.2 1.6-.2 1.6-.2 1.6-.2 1.7-.1 1.6-.2 1.6-.1 1.7-.2 1.6-.1 1.7-.2 1.7-.1 1.6-.1 1.7 0 1.8-.1 1.7-.1 1.7 0 1.8-.2 1.7-.1 1.8-.2 1.8-.1 1.8-.2 1.8-.1 1.8-.1 1.8-.2 1.9-.1 1.9-.2 1.9-.1 2-.2 2-.1 2-.2 2-.2 2.1-.1 2.1-.2 2.2-.1 2.2-.1 2.2-.2 2.3-.1 2.3-.1 2.4 0 2.4-.1 2.4-.1 2.5 .2 2.6 .3 2.8 .1 2.8 .2 2.9 .1 2.7 .4 2.7 .5 2.5 .5 2.6 .6 2.5 .6 2.6 .7 2.5 .7 2.6 .7 2.5 .7 2.6 .8 2.5 .8 2.6 .9 2.5 .9 2.6 .9 2.5 .9 2.6 1 2.5 .8 2.5 1 2.5 .9 2.5 1 2.3 1.1 2.3 1.1 2.2 1.1 2.1 1.2 2 1.2 1.9 1.2 1.8 1.3 1.7 1.4 1.6 1.3 1.3 1.4 1.2 1.5 1 1.4 .9 1.5 .8 1.5 .6 1.5 .3 1.6 .1 1.5-.2 1.6-.4 1.5-.5 1.5-.7 1.6-.8 1.5-1 1.4-1 1.5-1 1.4-1.1 1.5-1.2 1.3-1.2 1.4-1.3 1.3-1.4 1.3-1.4 1.3-1.5 1.3-1.6 1.2-1.6 1.2-1.9 1.1-1.9 1.2-2.2 1-2.7 1-2.7 .9-2.6 .8-2.6 .9-2.5 .8-2.6 .7-2.5 .7-2.5 .7-2.5 .7-2.3 .6-2.3 .6-2.3 .6-2.2 .6-2.1 .4-2.1 .5-2 .4-2 .4-1.9 .4-1.9 .4-1.8 .4-1.9 .3-1.8 .4-1.7 .3-1.8 .3-1.7 .4-1.7 .3-1.7 .3-1.6 .3-1.6 .3-1.6 .3-1.5 .2-1.6 .3-1.5 .3-1.5 .2-1.5 .3-1.5 .2-1.5 .3-1.4 .2-1.5 .2-1.4 .2-1.5 .2-1.4 .2-1.5 .2-1.4 .2-1.4 .1-1.5 .2-1.4 .1-1.4 .1-1.5 .2-1.4 .1-1.4 .1-1.4 .1-1.5 .1-1.4 .2-1.4 .1-1.4 .1-1.4 .1-1.5 .1-1.4 .1-1.5 .1-1.4 .2-1.5 .1-1.4 .1-1.5 0-1.5-.1-1.5 0-1.5 0-1.5 0-1.6 0-1.5-.1-1.6 0-1.6 0-1.6 0-1.7-.1-1.7 0-1.7 0-1.7 0-1.8 0-1.8 0-1.8 0-1.9 0-1.9 0-1.9-.1-2 0-2.1 0-2-.1-2.2 0-2.1-.1-2.3-.4-2.3-.4-2.3-.4-2.5-.4-2.5-.4-2.5-.5-2.7-.4-2.7-.5-2.7-.5-2.8-.5-2.9-.6-2.9-.5-3-.6-3.1-.6-3.2-.7-3.4-.6-3.5-.7-3.7-1.1-3.8-1-3.9-1.1-4.1-1.1-4.1-1.2-4.4-1.2-4.4-1.2-4.5-1.3-4.6-1.4-4.2-1.5-4-1.7-3.6-1.8-3.4-1.9-2.9-2-2.2-2.2-1.8-2.3-1.3-1.7-.8-1.4-.3-1.5 0-1.4 .1-1.5 .3-1.4 .5-1.5 .7-1.5 1-1.4 1.2-1.4 1.5-1.4 1.9-1.4 1.9-1.3 2-1.3 2.1-1.2 2.1-1.2 2.2-1.1 2.1-1.2 2.1-1.1 2.1-1.1 2.1-1 2.1-1 2-.9 2.1-1 2-.8 2.1-.9 2-.8 2-.8 2-.8 2.1-.7 1.9-.7 1.9-.7 1.9-.6 1.7-.7 1.8-.6 1.8-.6 1.8-.6 1.7-.6 1.8-.5 1.8-.5 1.7-.5z"/><path d="M884.3 178.4l1.7-.3 1.7-.3 1.7-.3 1.7-.3 1.7-.3 1.7-.2 1.8-.2 1.7-.2 1.7-.2 1.8-.2 1.7-.1 1.7-.2 1.7-.1 1.7-.1 1.7-.1 1.7-.1 1.7-.1 1.6-.1 1.7 0 1.6-.1 1.7 0 1.6-.1 1.6 0 1.7 0 1.6 0 1.6-.3 1.6-.2 1.6-.2 1.6-.2 1.6-.2 1.6-.2 1.5-.2 1.6-.2 1.6-.2 1.6-.2 1.6-.2 1.6-.2 1.7-.1 1.6-.2 1.6-.2 1.7-.1 1.6-.2 1.7-.1 1.6-.1 1.7-.1 1.7-.1 1.7-.1 1.7-.1 1.8 0 1.7-.1 1.8-.1 1.7-.2 1.8-.1 1.8-.2 1.8-.1 1.8-.1 1.8-.2 1.9-.1 1.8-.2 1.9-.1 2-.2 1.9-.1 2-.2 2-.1 2.1-.2 2.1-.1 2.1-.2 2.2-.1 2.2-.2 2.2-.1 2.3-.1 2.3-.1 2.3-.1 2.4-.1 2.5 0 2.5 .2 2.6 .2 2.7 .2 2.9 .1 2.9 .2 2.7 .3 2.6 .5 2.6 .5 2.6 .5 2.5 .7 2.6 .6 2.5 .7 2.6 .7 2.6 .7 2.5 .8 2.6 .8 2.5 .8 2.6 .9 2.6 .9 2.5 .9 2.6 .9 2.6 .9 2.6 .9 2.5 .9 2.4 1 2.4 1 2.3 1 2.2 1.1 2.2 1.2 2 1.2 1.9 1.2 1.9 1.3 1.7 1.3 1.5 1.3 1.4 1.4 1.2 1.4 1 1.5 .9 1.4 .8 1.5 .6 1.6 .3 1.5 0 1.6-.2 1.5-.4 1.6-.5 1.5-.7 1.5-.9 1.5-.9 1.5-1.1 1.5-1.1 1.4-1.1 1.4-1.2 1.4-1.2 1.4-1.3 1.3-1.4 1.3-1.5 1.3-1.5 1.3-1.5 1.2-1.8 1.2-1.8 1.1-2 1.2-2.2 1-2.6 1-2.7 .9-2.6 .8-2.6 .9-2.5 .8-2.6 .7-2.5 .8-2.5 .6-2.4 .7-2.4 .6-2.3 .7-2.2 .6-2.2 .5-2.1 .5-2.1 .4-2 .5-2 .4-1.9 .4-1.9 .4-1.9 .4-1.8 .3-1.8 .4-1.8 .3-1.8 .3-1.7 .4-1.7 .3-1.6 .3-1.7 .3-1.6 .3-1.5 .3-1.6 .2-1.6 .3-1.5 .3-1.5 .3-1.5 .2-1.5 .3-1.5 .2-1.5 .3-1.4 .2-1.5 .2-1.4 .2-1.5 .1-1.4 .2-1.5 .2-1.4 .1-1.5 .2-1.4 .1-1.4 .2-1.5 .1-1.4 .1-1.4 .1-1.5 .2-1.4 .1-1.4 .1-1.4 .1-1.5 .1-1.4 .1-1.4 .2-1.5 .1-1.4 .1-1.5 .1-1.4 .1-1.5 .1-1.5 0-1.5 0-1.5 0-1.5-.1-1.6 0-1.5 0-1.6 0-1.6-.1-1.6 0-1.6 0-1.6 0-1.7 0-1.7 0-1.8-.1-1.7 0-1.8 0-1.9 0-1.9 0-1.9 0-1.9 0-2 0-2.1-.1-2.1 0-2.1-.1-2.2 0-2.2-.4-2.3-.4-2.4-.4-2.4-.5-2.6-.4-2.6-.4-2.6-.4-2.7-.5-2.8-.5-2.8-.5-2.9-.6-2.9-.5-3-.6-3.1-.6-3.2-.6-3.4-.7-3.5-.7-3.7-1-3.8-1.1-4-1.1-4-1.1-4.2-1.1-4.4-1.2-4.4-1.2-4.5-1.3-4.6-1.4-4.3-1.5-4-1.7-3.7-1.7-3.4-1.9-2.9-2.1-2.3-2.1-1.7-2.3-1.3-1.7-.7-1.4-.3-1.5 0-1.4 .1-1.5 .4-1.5 .5-1.4 .7-1.5 1-1.4 1.2-1.4 1.6-1.4 1.8-1.4 2-1.3 2-1.3 2.1-1.2 2.1-1.2 2.1-1.1 2.1-1.1 2.1-1.2 2.1-1 2.1-1.1 2-1 2.1-.9 2-.9 2.1-.9 2-.9 2-.8 2-.8 2.1-.7 2-.7 2-.8 1.9-.6 1.8-.7 1.8-.7 1.8-.6 1.7-.6 1.8-.6 1.8-.5 1.8-.6 1.8-.5 1.7-.5z"/><path d="M883.9 177l1.7-.4 1.7-.3 1.7-.3 1.8-.3 1.7-.2 1.7-.2 1.7-.3 1.8-.2 1.7-.1 1.8-.2 1.7-.2 1.7-.1 1.7-.1 1.7-.1 1.7-.1 1.7-.1 1.7-.1 1.7 0 1.7-.1 1.6 0 1.7-.1 1.6 0 1.7 0 1.6 0 1.6 0 1.6-.3 1.6-.2 1.6-.2 1.6-.2 1.6-.2 1.6-.2 1.6-.2 1.6-.2 1.6-.2 1.6-.2 1.7-.2 1.6-.2 1.6-.1 1.6-.2 1.7-.1 1.6-.2 1.7-.1 1.6-.2 1.7-.1 1.7-.1 1.7-.1 1.7 0 1.7-.1 1.8-.1 1.7 0 1.8-.2 1.7-.1 1.8-.2 1.8-.1 1.8-.1 1.8-.2 1.8-.1 1.9-.2 1.9-.1 1.9-.2 1.9-.1 2-.2 1.9-.1 2.1-.2 2-.1 2.1-.2 2.1-.1 2.2-.2 2.2-.1 2.2-.1 2.3-.1 2.3-.1 2.4-.1 2.4-.1 2.4-.1 2.6 .2 2.5 .2 2.8 .2 2.8 .1 2.9 .2 2.7 .3 2.7 .4 2.6 .5 2.5 .6 2.6 .6 2.6 .6 2.5 .7 2.6 .7 2.6 .7 2.6 .7 2.5 .8 2.6 .8 2.6 .9 2.6 .9 2.6 .9 2.6 .9 2.6 .8 2.6 .8 2.5 .9 2.5 1 2.4 1 2.3 1 2.3 1.1 2.2 1.1 2 1.2 1.9 1.2 1.9 1.2 1.7 1.3 1.6 1.3 1.4 1.4 1.1 1.4 1 1.4 .9 1.5 .9 1.5 .6 1.5 .3 1.6 0 1.5-.3 1.6-.4 1.5-.5 1.6-.8 1.5-.8 1.5-1 1.5-1.1 1.5-1.1 1.4-1.2 1.4-1.2 1.4-1.2 1.4-1.3 1.3-1.5 1.3-1.4 1.3-1.5 1.3-1.6 1.2-1.8 1.2-1.8 1.2-2 1.1-2.2 1-2.6 1-2.7 .9-2.6 .9-2.6 .8-2.5 .8-2.6 .8-2.5 .7-2.5 .7-2.4 .6-2.3 .7-2.3 .6-2.3 .6-2.1 .6-2.2 .5-2 .4-2.1 .4-1.9 .5-2 .4-1.9 .4-1.8 .4-1.9 .3-1.8 .4-1.8 .3-1.7 .3-1.7 .4-1.7 .3-1.7 .3-1.6 .3-1.6 .3-1.6 .3-1.6 .3-1.6 .2-1.5 .3-1.5 .3-1.5 .2-1.5 .3-1.5 .2-1.5 .3-1.5 .2-1.4 .2-1.5 .2-1.4 .2-1.5 .1-1.4 .2-1.5 .2-1.4 .1-1.5 .2-1.4 .1-1.5 .1-1.4 .1-1.4 .2-1.5 .1-1.4 .1-1.4 .1-1.5 .1-1.4 .2-1.4 .1-1.5 .1-1.4 .1-1.5 .1-1.5 .1-1.4 .1-1.5 .1-1.5 0-1.5 0-1.5 0-1.5 0-1.6 0-1.5-.1-1.6 0-1.6 0-1.6 0-1.6-.1-1.7 0-1.7 0-1.7 0-1.7 0-1.8 0-1.8 0-1.9 0-1.9 0-1.9-.1-2 0-2 0-2 0-2.1-.1-2.1 0-2.2-.1-2.3-.4-2.3-.4-2.4-.4-2.4-.4-2.6-.4-2.6-.4-2.6-.5-2.7-.4-2.8-.5-2.8-.5-2.9-.6-2.9-.5-3.1-.6-3.1-.6-3.2-.6-3.4-.6-3.5-.8-3.7-1-3.8-1-4-1.1-4.1-1.1-4.2-1.2-4.3-1.1-4.5-1.3-4.6-1.2-4.6-1.4-4.3-1.5-4-1.6-3.7-1.8-3.5-1.9-2.9-2-2.3-2.2-1.7-2.3-1.3-1.6-.7-1.4-.3-1.5 0-1.5 .2-1.4 .4-1.5 .6-1.4 .7-1.5 1-1.4 1.3-1.4 1.5-1.4 1.9-1.4 1.9-1.3 2-1.2 2.1-1.3 2.1-1.1 2.1-1.2 2.1-1.1 2.1-1.1 2.1-1.1 2.1-1 2-1 2.1-1 2-.9 2-.9 2.1-.8 2-.9 2-.7 2-.8 2.1-.7 1.9-.7 1.9-.7 1.8-.7 1.8-.6 1.8-.7 1.8-.6 1.8-.5 1.8-.6 1.8-.5 1.8-.6 1.7-.5z"/><path d="M883.5 175.5l1.7-.3 1.7-.3 1.8-.3 1.7-.3 1.7-.3 1.8-.2 1.7-.2 1.8-.2 1.7-.2 1.7-.1 1.8-.2 1.7-.1 1.8-.1 1.7-.1 1.7-.1 1.7-.1 1.7 0 1.7-.1 1.6-.1 1.7 0 1.7 0 1.6 0 1.7 0 1.6 0 1.7 0 1.6-.3 1.6-.2 1.6-.2 1.6-.2 1.6-.2 1.6-.2 1.6-.2 1.6-.2 1.6-.2 1.6-.2 1.7-.2 1.6-.1 1.6-.2 1.7-.2 1.6-.1 1.7-.2 1.6-.1 1.7-.1 1.7-.1 1.7-.1 1.7-.1 1.7-.1 1.7-.1 1.8 0 1.7 0 1.8-.2 1.7-.2 1.8-.1 1.8-.1 1.8-.2 1.8-.1 1.9-.2 1.8-.1 1.9-.2 1.9-.1 1.9-.2 2-.1 2-.2 2-.1 2.1-.2 2.1-.1 2.1-.2 2.2-.1 2.2-.2 2.2-.1 2.3-.1 2.3-.1 2.3-.1 2.4 0 2.5-.1 2.5 .2 2.6 .2 2.7 .1 2.9 .1 2.9 .2 2.7 .3 2.6 .4 2.6 .5 2.6 .6 2.6 .5 2.5 .6 2.6 .7 2.6 .7 2.6 .7 2.6 .7 2.6 .8 2.6 .8 2.6 .8 2.6 .9 2.6 .8 2.6 .9 2.7 .8 2.6 .8 2.6 .9 2.5 .9 2.4 1 2.4 1 2.3 1 2.1 1.1 2.1 1.2 2 1.2 1.8 1.2 1.8 1.2 1.6 1.3 1.3 1.4 1.2 1.4 1 1.4 .9 1.4 .8 1.5 .7 1.6 .3 1.5-.1 1.6-.2 1.6-.4 1.5-.6 1.6-.8 1.5-.9 1.5-1 1.5-1.1 1.5-1.1 1.4-1.2 1.4-1.2 1.4-1.3 1.4-1.4 1.3-1.4 1.3-1.5 1.3-1.5 1.3-1.6 1.2-1.8 1.2-1.8 1.2-2 1.1-2.2 1-2.7 1-2.6 .9-2.6 .9-2.6 .8-2.5 .8-2.5 .8-2.6 .7-2.4 .7-2.5 .7-2.3 .6-2.3 .7-2.2 .6-2.2 .6-2.1 .4-2.1 .5-2 .4-2 .4-1.9 .5-1.9 .4-1.9 .3-1.8 .4-1.8 .4-1.8 .3-1.8 .3-1.7 .4-1.7 .3-1.7 .3-1.6 .3-1.6 .3-1.6 .3-1.6 .3-1.6 .3-1.5 .2-1.5 .3-1.6 .3-1.5 .2-1.5 .3-1.4 .2-1.5 .2-1.5 .2-1.4 .2-1.5 .2-1.5 .2-1.4 .1-1.5 .2-1.4 .2-1.5 .1-1.4 .1-1.5 .2-1.4 .1-1.5 .1-1.4 .1-1.4 .1-1.5 .2-1.4 .1-1.5 .1-1.4 .1-1.5 .1-1.4 .1-1.5 .1-1.4 .1-1.5 .2-1.5 .1-1.5-.1-1.5 0-1.5 0-1.6 0-1.5 0-1.6 0-1.5-.1-1.6 0-1.7 0-1.6 0-1.7-.1-1.6 0-1.8 0-1.7 0-1.8 0-1.8 0-1.9 0-1.9 0-1.9 0-2 0-2-.1-2 0-2.1-.1-2.2 0-2.2 0-2.2-.4-2.4-.4-2.4-.4-2.4-.4-2.6-.4-2.6-.5-2.6-.4-2.8-.4-2.7-.5-2.9-.5-2.9-.6-2.9-.5-3-.6-3.2-.6-3.2-.6-3.4-.6-3.5-.8-3.7-1-3.9-1-4-1.1-4-1.1-4.3-1.1-4.3-1.1-4.5-1.3-4.6-1.2-4.6-1.4-4.3-1.5-4.1-1.6-3.8-1.7-3.5-1.9-3-2-2.2-2.2-1.8-2.3-1.2-1.6-.7-1.4-.2-1.5 0-1.5 .2-1.4 .4-1.5 .7-1.5 .7-1.4 1-1.4 1.3-1.4 1.6-1.4 1.8-1.4 1.9-1.3 2.1-1.2 2-1.2 2.1-1.2 2.1-1.1 2.1-1.2 2.1-1.1 2.1-1.1 2.1-1 2-1 2-1 2.1-.9 2-.9 2-.8 2-.8 2-.8 2.1-.8 2-.7 1.9-.7 1.9-.7 1.9-.7 1.8-.6 1.7-.6 1.8-.6 1.8-.6 1.8-.6 1.9-.5 1.8-.5 1.7-.5z"/><path d="M883.1 174l1.7-.3 1.8-.3 1.7-.3 1.7-.3 1.8-.2 1.7-.2 1.8-.2 1.7-.2 1.8-.2 1.7-.1 1.8-.2 1.7-.1 1.8-.1 1.7-.1 1.7-.1 1.7-.1 1.7 0 1.7-.1 1.7 0 1.7 0 1.7-.1 1.6 0 1.7 0 1.6 0 1.7 0 1.6-.2 1.6-.2 1.6-.2 1.7-.2 1.6-.2 1.6-.2 1.6-.2 1.6-.2 1.6-.2 1.7-.2 1.6-.2 1.6-.1 1.6-.2 1.7-.1 1.6-.2 1.7-.1 1.7-.2 1.6-.1 1.7-.1 1.7-.1 1.7-.1 1.8-.1 1.7 0 1.7-.1 1.8 0 1.8-.1 1.7-.2 1.8-.1 1.8-.2 1.8-.1 1.9-.2 1.8-.1 1.9-.2 1.8-.1 1.9-.2 2-.1 1.9-.2 2-.1 2.1-.2 2-.1 2.1-.2 2.1-.1 2.2-.2 2.2-.1 2.3-.1 2.2-.1 2.3-.1 2.4-.1 2.4-.1 2.5 0 2.5 .1 2.6 .2 2.7 .2 2.8 .1 2.9 .1 2.8 .3 2.6 .4 2.6 .5 2.6 .5 2.5 .6 2.6 .6 2.6 .6 2.6 .7 2.6 .6 2.6 .8 2.6 .7 2.7 .8 2.6 .8 2.6 .8 2.6 .9 2.7 .9 2.7 .7 2.6 .8 2.6 .9 2.6 .8 2.4 1 2.4 1 2.3 1 2.2 1.1 2.1 1.1 2 1.1 1.9 1.2 1.7 1.3 1.6 1.2 1.4 1.4 1.2 1.3 1 1.4 .9 1.4 .8 1.6 .6 1.5 .3 1.6 0 1.5-.3 1.6-.4 1.6-.6 1.5-.8 1.6-.9 1.5-1.1 1.5-1.1 1.5-1.2 1.4-1.2 1.4-1.2 1.4-1.3 1.4-1.4 1.3-1.4 1.3-1.5 1.3-1.6 1.3-1.6 1.2-1.8 1.2-1.8 1.2-2 1.1-2.2 1-2.7 1-2.6 .9-2.6 .9-2.6 .8-2.5 .8-2.5 .8-2.5 .8-2.5 .6-2.4 .7-2.3 .7-2.3 .6-2.2 .6-2.2 .6-2.1 .5-2.1 .5-2 .4-2 .4-2 .4-1.9 .4-1.8 .4-1.9 .4-1.8 .4-1.8 .3-1.7 .3-1.8 .4-1.7 .3-1.6 .3-1.7 .3-1.6 .3-1.6 .3-1.6 .3-1.6 .3-1.5 .2-1.5 .3-1.6 .3-1.5 .2-1.5 .3-1.5 .2-1.4 .2-1.5 .2-1.5 .2-1.5 .2-1.4 .2-1.5 .2-1.4 .1-1.5 .2-1.5 .1-1.4 .2-1.5 .1-1.4 .1-1.5 .1-1.4 .1-1.5 .2-1.4 .1-1.5 .1-1.4 .1-1.5 .1-1.4 .1-1.5 .2-1.4 .1-1.5 .1-1.5 .1-1.5 .1-1.5 0-1.5 0-1.5 0-1.6-.1-1.5 0-1.6 0-1.6 0-1.6-.1-1.6 0-1.6 0-1.7 0-1.7 0-1.7 0-1.8 0-1.8-.1-1.8 0-1.9 0-1.9 0-1.9 0-2 0-2 0-2.1-.1-2.1 0-2.1-.1-2.2 0-2.3-.4-2.3-.4-2.4-.4-2.5-.4-2.6-.4-2.6-.4-2.7-.4-2.7-.5-2.8-.4-2.8-.5-2.9-.6-3-.5-3-.6-3.2-.6-3.2-.6-3.4-.6-3.6-.7-3.7-1-3.8-1.1-4-1-4.1-1.1-4.3-1.1-4.3-1.2-4.5-1.2-4.6-1.2-4.7-1.4-4.3-1.4-4.1-1.7-3.8-1.7-3.6-1.8-3-2-2.3-2.2-1.7-2.3-1.3-1.7-.6-1.4-.2-1.4 .1-1.5 .2-1.5 .5-1.4 .6-1.5 .8-1.4 1.1-1.4 1.2-1.4 1.6-1.4 1.8-1.4 2-1.3 2-1.2 2.1-1.2 2-1.2 2.1-1.1 2.1-1.2 2.1-1.1 2.1-1 2-1.1 2.1-1 2-.9 2-.9 2.1-.9 2-.9 2-.8 2-.8 2-.8 2-.7 2-.7 1.9-.7 1.8-.6 1.8-.7 1.8-.6 1.8-.6 1.8-.6 1.8-.6 1.8-.5 1.8-.5 1.8-.5z"/><path d="M882.7 172.5l1.7-.3 1.8-.3 1.7-.3 1.8-.2 1.7-.3 1.8-.2 1.7-.2 1.8-.2 1.8-.1 1.7-.2 1.8-.1 1.7-.1 1.8-.1 1.7-.1 1.8-.1 1.7 0 1.7-.1 1.7 0 1.7-.1 1.7 0 1.7 0 1.6 0 1.7 0 1.7 0 1.6 0 1.6-.2 1.7-.2 1.6-.2 1.6-.2 1.6-.3 1.7-.1 1.6-.2 1.6-.2 1.6-.2 1.7-.2 1.6-.2 1.6-.1 1.7-.2 1.6-.1 1.7-.2 1.6-.1 1.7-.1 1.7-.2 1.7-.1 1.7-.1 1.7 0 1.7-.1 1.8-.1 1.7 0 1.8 0 1.8-.2 1.7-.1 1.8-.2 1.8-.1 1.8-.2 1.9-.1 1.8-.2 1.9-.1 1.9-.2 1.9-.1 1.9-.2 2-.1 2-.2 2-.1 2.1-.2 2.1-.1 2.1-.2 2.2-.1 2.2-.1 2.2-.2 2.3-.1 2.3-.1 2.4 0 2.4-.1 2.4-.1 2.5 .2 2.6 .2 2.7 .1 2.9 .1 2.9 .1 2.7 .3 2.7 .4 2.6 .5 2.5 .5 2.6 .5 2.6 .6 2.6 .6 2.6 .6 2.7 .7 2.6 .7 2.6 .7 2.6 .8 2.7 .8 2.6 .8 2.7 .9 2.7 .8 2.7 .7 2.6 .8 2.7 .8 2.5 .9 2.5 .9 2.4 .9 2.4 1 2.2 1.1 2.2 1.1 1.9 1.1 1.9 1.2 1.8 1.2 1.6 1.2 1.4 1.3 1.2 1.4 1 1.3 .9 1.5 .8 1.5 .6 1.5 .3 1.6 0 1.6-.3 1.6-.5 1.5-.6 1.6-.8 1.6-1 1.5-1.1 1.5-1.1 1.5-1.2 1.4-1.2 1.4-1.3 1.4-1.3 1.4-1.4 1.3-1.5 1.3-1.5 1.3-1.6 1.3-1.6 1.2-1.8 1.2-1.9 1.2-1.9 1.1-2.3 1-2.6 1-2.6 .9-2.6 .9-2.6 .9-2.5 .8-2.5 .7-2.5 .8-2.5 .7-2.4 .7-2.3 .6-2.2 .7-2.3 .6-2.2 .6-2.1 .5-2 .4-2.1 .5-2 .4-1.9 .4-1.9 .4-1.9 .4-1.8 .4-1.8 .4-1.8 .3-1.8 .3-1.7 .4-1.7 .3-1.7 .3-1.7 .3-1.6 .3-1.6 .3-1.6 .3-1.6 .3-1.5 .3-1.6 .2-1.5 .3-1.5 .3-1.5 .2-1.5 .3-1.5 .2-1.5 .2-1.4 .2-1.5 .2-1.5 .1-1.4 .2-1.5 .2-1.5 .1-1.5 .2-1.4 .1-1.5 .1-1.4 .1-1.5 .2-1.4 .1-1.5 .1-1.4 .1-1.5 .1-1.5 .1-1.4 .2-1.5 .1-1.4 .1-1.5 .1-1.5 .1-1.5 .1-1.5 .1-1.5 0-1.5 0-1.5 0-1.6 0-1.5 0-1.6-.1-1.6 0-1.6 0-1.6 0-1.7-.1-1.7 0-1.7 0-1.7 0-1.8 0-1.8 0-1.8 0-1.9 0-1.9 0-1.9-.1-2 0-2 0-2.1 0-2.1-.1-2.2 0-2.2-.1-2.3-.4-2.3-.3-2.4-.4-2.5-.4-2.6-.4-2.6-.4-2.7-.4-2.7-.5-2.8-.5-2.9-.5-2.9-.5-3-.5-3-.6-3.2-.6-3.2-.6-3.4-.6-3.6-.7-3.7-1-3.9-1-4-1.1-4.1-1-4.2-1.2-4.4-1.1-4.5-1.2-4.7-1.2-4.6-1.4-4.4-1.4-4.1-1.6-3.9-1.8-3.6-1.8-3-2-2.3-2.1-1.8-2.3-1.2-1.7-.7-1.4-.1-1.4 .1-1.5 .3-1.5 .5-1.5 .7-1.4 .8-1.4 1.1-1.5 1.3-1.3 1.6-1.4 1.8-1.4 1.9-1.3 2-1.2 2.1-1.2 2.1-1.2 2-1.1 2.1-1.1 2.1-1.1 2.1-1.1 2-1 2-1 2.1-1 2-.9 2-.9 2-.9 2-.8 2-.8 2-.7 2-.8 2-.7 1.9-.7 1.8-.6 1.8-.7 1.8-.6 1.8-.6 1.8-.6 1.9-.5 1.8-.6 1.8-.5 1.8-.5z"/><path d="M882.3 171.1l1.7-.3 1.8-.3 1.7-.3 1.8-.3 1.8-.2 1.7-.2 1.8-.2 1.8-.2 1.7-.1 1.8-.2 1.8-.1 1.8-.1 1.7-.1 1.8-.1 1.7-.1 1.7 0 1.7-.1 1.7 0 1.8 0 1.7-.1 1.6 0 1.7 0 1.7 .1 1.7 0 1.6 0 1.7-.2 1.6-.2 1.7-.2 1.6-.3 1.6-.2 1.6-.2 1.7-.1 1.6-.2 1.6-.2 1.7-.2 1.6-.1 1.6-.2 1.7-.2 1.7-.1 1.6-.1 1.7-.2 1.7-.1 1.7-.1 1.7-.1 1.7-.1 1.7-.1 1.7-.1 1.8 0 1.7 0 1.8-.1 1.8-.1 1.7-.2 1.8-.1 1.8-.2 1.9-.1 1.8-.2 1.9-.1 1.8-.2 1.9-.1 1.9-.2 2-.1 1.9-.2 2-.1 2.1-.2 2-.1 2.1-.2 2.2-.1 2.1-.2 2.2-.1 2.3-.1 2.3-.1 2.3-.1 2.3-.1 2.4 0 2.5-.1 2.5 .2 2.6 .1 2.7 .1 2.9 .1 2.8 .1 2.8 .3 2.6 .4 2.6 .4 2.6 .5 2.6 .6 2.6 .5 2.6 .6 2.7 .6 2.6 .7 2.6 .7 2.7 .7 2.6 .7 2.7 .8 2.6 .8 2.7 .8 2.7 .9 2.8 .7 2.7 .7 2.6 .8 2.6 .8 2.6 .9 2.4 .9 2.4 1 2.2 1 2.2 1.1 2 1.1 1.9 1.1 1.8 1.2 1.6 1.2 1.4 1.3 1.2 1.3 1 1.4 .9 1.4 .8 1.5 .6 1.6 .3 1.5-.1 1.6-.3 1.6-.5 1.6-.6 1.6-.9 1.5-.9 1.6-1.1 1.5-1.2 1.4-1.2 1.5-1.3 1.4-1.3 1.4-1.3 1.4-1.4 1.3-1.5 1.3-1.6 1.3-1.6 1.3-1.6 1.2-1.8 1.2-1.9 1.2-2 1.1-2.2 1-2.6 1-2.6 .9-2.6 .9-2.6 .9-2.5 .8-2.5 .8-2.5 .7-2.4 .7-2.4 .7-2.3 .7-2.3 .6-2.2 .6-2.2 .6-2.1 .5-2.1 .5-2 .4-2 .5-1.9 .4-1.9 .4-1.9 .4-1.8 .4-1.8 .3-1.8 .4-1.8 .3-1.8 .4-1.7 .3-1.7 .3-1.6 .3-1.7 .3-1.6 .3-1.6 .3-1.6 .3-1.5 .3-1.6 .3-1.5 .2-1.5 .3-1.5 .2-1.5 .3-1.5 .2-1.5 .2-1.5 .2-1.5 .2-1.4 .2-1.5 .1-1.5 .2-1.5 .1-1.4 .2-1.5 .1-1.5 .1-1.4 .2-1.5 .1-1.5 .1-1.4 .1-1.5 .1-1.4 .2-1.5 .1-1.5 .1-1.4 .1-1.5 .1-1.5 .1-1.5 .1-1.5 .1-1.5 .1-1.5 0-1.5 0-1.5 0-1.6 0-1.6 0-1.5 0-1.6-.1-1.7 0-1.6 0-1.6 0-1.7-.1-1.7 0-1.8 0-1.7 0-1.8 0-1.9 0-1.9 0-1.9 0-1.9 0-2 0-2-.1-2.1 0-2.1 0-2.2-.1-2.3 0-2.2-.4-2.4-.4-2.4-.4-2.5-.4-2.6-.3-2.6-.4-2.7-.5-2.8-.4-2.8-.5-2.8-.5-3-.5-2.9-.5-3.1-.6-3.2-.6-3.2-.6-3.5-.6-3.5-.7-3.8-1-3.8-1-4-1-4.2-1.1-4.2-1.1-4.4-1.1-4.6-1.2-4.6-1.2-4.7-1.4-4.4-1.4-4.2-1.6-3.9-1.7-3.6-1.8-3.1-2-2.3-2.2-1.7-2.2-1.2-1.7-.7-1.4-.1-1.5 .2-1.4 .3-1.5 .6-1.5 .6-1.4 .9-1.5 1.1-1.4 1.3-1.4 1.6-1.3 1.8-1.4 2-1.2 2-1.3 2-1.2 2.1-1.2 2.1-1.1 2-1.1 2.1-1.1 2.1-1.1 2-1 2-1 2-1 2-.9 2-.9 2-.8 2-.9 2-.8 2-.7 2.1-.7 1.9-.7 1.9-.7 1.8-.7 1.8-.7 1.8-.6 1.8-.6 1.9-.6 1.8-.5 1.9-.6 1.8-.5 1.8-.5z"/><path d="M881.8 169.6l1.8-.3 1.8-.3 1.8-.3 1.7-.2 1.8-.3 1.8-.2 1.8-.2 1.7-.1 1.8-.2 1.8-.1 1.8-.1 1.8-.1 1.7-.1 1.8-.1 1.7-.1 1.8 0 1.7-.1 1.7 0 1.7 0 1.7 0 1.7 0 1.7 0 1.7 0 1.7 0 1.7 .1 1.6-.2 1.7-.3 1.6-.2 1.6-.2 1.7-.2 1.6-.2 1.6-.2 1.7-.1 1.6-.2 1.7-.2 1.6-.1 1.7-.2 1.6-.1 1.7-.2 1.7-.1 1.6-.2 1.7-.1 1.7-.1 1.7-.1 1.7-.1 1.8-.1 1.7 0 1.8-.1 1.7 0 1.8 0 1.8-.2 1.8-.1 1.8-.2 1.8-.1 1.8-.2 1.8-.1 1.9-.2 1.8-.1 1.9-.2 2-.1 1.9-.2 2-.1 2-.2 2-.1 2.1-.2 2.1-.1 2.1-.2 2.2-.1 2.2-.1 2.2-.1 2.3-.1 2.3-.1 2.4-.1 2.4-.1 2.4-.1 2.6 .2 2.5 .1 2.8 .2 2.8 0 2.9 .1 2.7 .3 2.7 .4 2.6 .4 2.6 .5 2.6 .5 2.6 .5 2.6 .6 2.7 .6 2.6 .7 2.7 .6 2.6 .7 2.7 .7 2.7 .8 2.7 .8 2.7 .8 2.7 .8 2.8 .7 2.7 .7 2.7 .7 2.6 .8 2.6 .9 2.4 .9 2.4 .9 2.3 1 2.2 1 2 1.1 2 1.2 1.8 1.1 1.6 1.2 1.4 1.3 1.2 1.3 1 1.3 .9 1.4 .8 1.6 .6 1.5 .3 1.6-.1 1.6-.3 1.6-.5 1.6-.7 1.5-.9 1.6-1 1.5-1.1 1.5-1.2 1.5-1.2 1.5-1.3 1.4-1.3 1.4-1.4 1.4-1.4 1.3-1.5 1.3-1.6 1.3-1.6 1.3-1.7 1.2-1.8 1.2-1.9 1.2-2 1.1-2.2 1-2.6 1-2.6 .9-2.6 .9-2.6 .9-2.5 .8-2.5 .8-2.4 .7-2.5 .7-2.4 .7-2.3 .7-2.2 .7-2.2 .6-2.2 .6-2.1 .5-2.1 .5-2 .4-2 .4-1.9 .5-1.9 .4-1.9 .4-1.9 .4-1.8 .3-1.8 .4-1.8 .3-1.7 .4-1.8 .3-1.6 .3-1.7 .3-1.6 .3-1.7 .3-1.6 .3-1.5 .3-1.6 .3-1.6 .3-1.5 .2-1.5 .3-1.5 .3-1.6 .2-1.5 .2-1.4 .2-1.5 .2-1.5 .2-1.5 .2-1.5 .2-1.5 .1-1.4 .2-1.5 .1-1.5 .1-1.5 .2-1.5 .1-1.4 .1-1.5 .1-1.5 .1-1.4 .2-1.5 .1-1.4 .1-1.5 .1-1.5 .1-1.5 .1-1.4 .2-1.5 .1-1.5 .1-1.6 .1-1.5 0-1.5 0-1.6 0-1.5-.1-1.6 0-1.6 0-1.6 0-1.6-.1-1.6 0-1.7 0-1.7 0-1.7 0-1.7 0-1.8-.1-1.8 0-1.9 0-1.9 0-1.9 0-1.9 0-2 0-2.1 0-2.1-.1-2.1 0-2.2-.1-2.2 0-2.3-.4-2.4-.3-2.4-.4-2.5-.4-2.6-.4-2.6-.4-2.7-.4-2.8-.4-2.8-.5-2.9-.5-2.9-.5-3-.6-3.1-.5-3.2-.6-3.3-.6-3.4-.6-3.6-.7-3.7-1-3.9-1-4-1-4.1-1-4.3-1.1-4.5-1.2-4.5-1.1-4.6-1.3-4.7-1.3-4.5-1.4-4.2-1.6-4-1.7-3.6-1.8-3.1-1.9-2.3-2.2-1.8-2.2-1.2-1.7-.6-1.4-.1-1.5 .3-1.5 .3-1.4 .6-1.5 .7-1.4 .9-1.5 1.1-1.4 1.3-1.4 1.6-1.3 1.8-1.4 2-1.2 2-1.3 2-1.2 2.1-1.1 2.1-1.1 2-1.2 2.1-1.1 2-1.1 2-1 2.1-1 2-.9 2-1 2-.9 2-.8 1.9-.8 2-.8 2.1-.8 2-.7 1.9-.7 1.9-.7 1.8-.7 1.8-.6 1.8-.7 1.9-.6 1.8-.6 1.9-.5 1.8-.5 1.8-.5 1.9-.5z"/><path d="M881.4 168.1l1.8-.3 1.8-.3 1.8-.2 1.7-.3 1.8-.2 1.8-.2 1.8-.2 1.8-.2 1.8-.1 1.8-.1 1.8-.2 1.8 0 1.7-.1 1.8-.1 1.8-.1 1.7 0 1.7 0 1.8-.1 1.7 0 1.7 0 1.7 0 1.7 .1 1.7 0 1.7 0 1.7 .1 1.6-.3 1.7-.2 1.7-.2 1.6-.2 1.6-.2 1.7-.2 1.6-.2 1.7-.1 1.6-.2 1.7-.2 1.6-.1 1.7-.2 1.6-.1 1.7-.2 1.7-.1 1.7-.1 1.7-.2 1.7-.1 1.7-.1 1.7-.1 1.7 0 1.8-.1 1.7 0 1.8-.1 1.8 0 1.8-.1 1.8-.2 1.8-.1 1.8-.2 1.8-.1 1.8-.2 1.9-.1 1.9-.2 1.9-.1 1.9-.2 1.9-.1 2-.2 2-.1 2.1-.2 2-.1 2.1-.2 2.2-.1 2.1-.1 2.3-.2 2.2-.1 2.3-.1 2.3-.1 2.3-.1 2.4 0 2.5-.1 2.5 .1 2.6 .2 2.7 .1 2.9 0 2.8 .1 2.8 .3 2.6 .4 2.7 .4 2.6 .4 2.6 .5 2.6 .6 2.6 .5 2.7 .6 2.6 .6 2.7 .7 2.7 .7 2.7 .7 2.7 .7 2.7 .8 2.7 .8 2.8 .8 2.8 .6 2.7 .7 2.8 .7 2.6 .7 2.6 .9 2.5 .8 2.4 1 2.4 .9 2.1 1 2.1 1.1 1.9 1.1 1.9 1.1 1.6 1.2 1.4 1.3 1.2 1.2 1 1.3 .9 1.4 .8 1.6 .7 1.5 .2 1.6-.1 1.6-.3 1.6-.6 1.6-.7 1.6-.9 1.6-1 1.5-1.1 1.5-1.3 1.5-1.2 1.5-1.3 1.4-1.4 1.4-1.4 1.4-1.4 1.3-1.6 1.3-1.6 1.3-1.6 1.3-1.7 1.2-1.8 1.2-1.9 1.1-2 1.2-2.2 1-2.6 1-2.6 .9-2.6 .9-2.6 .9-2.5 .8-2.4 .8-2.5 .8-2.4 .7-2.4 .7-2.3 .7-2.3 .6-2.2 .6-2.1 .7-2.2 .4-2 .5-2.1 .5-1.9 .4-2 .4-1.9 .5-1.8 .4-1.9 .4-1.8 .3-1.8 .4-1.8 .3-1.8 .4-1.7 .3-1.7 .3-1.7 .3-1.6 .3-1.6 .3-1.6 .3-1.6 .3-1.6 .3-1.6 .3-1.5 .3-1.5 .2-1.6 .3-1.5 .2-1.5 .3-1.5 .2-1.5 .2-1.5 .2-1.5 .1-1.4 .2-1.5 .2-1.5 .1-1.5 .1-1.5 .2-1.5 .1-1.5 .1-1.4 .1-1.5 .2-1.5 .1-1.4 .1-1.5 .1-1.5 .1-1.5 .1-1.4 .2-1.5 .1-1.5 .1-1.5 .1-1.5 .1-1.5 .1-1.6 0-1.5 0-1.6 0-1.5 0-1.6 0-1.6-.1-1.6 0-1.6 0-1.7 0-1.6-.1-1.7 0-1.8 0-1.7 0-1.8 0-1.8 0-1.9 0-1.9 0-1.9 0-2-.1-2 0-2 0-2.1 0-2.1-.1-2.2 0-2.3-.1-2.3-.3-2.3-.4-2.5-.4-2.5-.3-2.6-.4-2.6-.4-2.8-.4-2.7-.5-2.9-.4-2.9-.5-2.9-.5-3-.6-3.1-.5-3.2-.6-3.3-.6-3.4-.6-3.6-.7-3.8-.9-3.9-1-4-1-4.1-1.1-4.3-1.1-4.5-1.1-4.5-1.1-4.7-1.3-4.7-1.2-4.5-1.5-4.2-1.5-4-1.7-3.8-1.8-3.1-2-2.3-2.1-1.7-2.3-1.2-1.6-.6-1.4-.1-1.5 .3-1.5 .4-1.5 .6-1.4 .8-1.5 .9-1.4 1.1-1.4 1.3-1.4 1.6-1.3 1.9-1.4 1.9-1.2 2-1.3 2-1.2 2.1-1.1 2.1-1.1 2-1.2 2.1-1.1 2-1 2-1.1 2-1 2-.9 2-.9 2-.9 2-.9 2-.8 2-.8 2-.8 2-.7 1.9-.7 1.9-.7 1.9-.7 1.8-.6 1.8-.7 1.8-.6 1.8-.5 1.9-.6 1.9-.5 1.8-.5 1.8-.5z"/><path d="M881 166.6l1.8-.3 1.8-.3 1.8-.2 1.8-.3 1.8-.2 1.8-.2 1.8-.1 1.8-.2 1.8-.1 1.8-.2 1.8-.1 1.8-.1 1.7 0 1.8-.1 1.8-.1 1.7 0 1.8 0 1.7 0 1.8 0 1.7 0 1.7 0 1.7 0 1.7 0 1.7 .1 1.7 0 1.7-.2 1.6-.2 1.7-.2 1.7-.2 1.6-.2 1.7-.2 1.6-.2 1.7-.1 1.6-.2 1.7-.2 1.6-.1 1.7-.2 1.7-.1 1.7-.2 1.6-.1 1.7-.1 1.7-.1 1.7-.1 1.8-.1 1.7-.1 1.7-.1 1.8 0 1.7-.1 1.8 0 1.8 0 1.8-.2 1.8-.1 1.8-.2 1.8-.1 1.8-.2 1.9-.1 1.8-.2 1.9-.1 1.9-.2 1.9-.1 2-.2 2-.1 2-.2 2-.1 2.1-.2 2.1-.1 2.1-.2 2.2-.1 2.2-.1 2.3-.1 2.2-.1 2.4-.1 2.3-.1 2.4-.1 2.5 0 2.5 .1 2.6 .1 2.7 .1 2.8 .1 2.9 .1 2.7 .2 2.7 .3 2.6 .4 2.6 .5 2.7 .5 2.6 .5 2.6 .5 2.7 .6 2.7 .6 2.7 .6 2.6 .7 2.8 .7 2.7 .7 2.7 .8 2.8 .7 2.8 .8 2.8 .6 2.8 .6 2.7 .7 2.7 .8 2.6 .8 2.6 .8 2.4 .9 2.4 .9 2.2 1 2.1 1.1 1.9 1 1.8 1.2 1.7 1.1 1.4 1.2 1.2 1.3 1 1.3 .9 1.4 .9 1.5 .6 1.6 .2 1.6-.1 1.6-.4 1.6-.5 1.6-.7 1.6-1 1.5-1 1.6-1.2 1.5-1.3 1.5-1.3 1.4-1.3 1.5-1.3 1.4-1.5 1.4-1.4 1.3-1.6 1.3-1.6 1.3-1.7 1.3-1.7 1.2-1.8 1.2-1.9 1.1-2 1.2-2.2 1-2.7 1-2.5 .9-2.6 .9-2.6 .9-2.4 .8-2.5 .8-2.5 .8-2.4 .7-2.3 .7-2.3 .7-2.3 .7-2.2 .6-2.2 .6-2.1 .5-2.1 .5-2 .4-2 .5-1.9 .4-1.9 .4-1.9 .5-1.8 .3-1.9 .4-1.8 .4-1.8 .3-1.7 .4-1.8 .3-1.7 .3-1.6 .3-1.7 .3-1.6 .4-1.6 .3-1.6 .2-1.6 .3-1.6 .3-1.5 .3-1.6 .2-1.5 .3-1.5 .3-1.5 .2-1.5 .2-1.5 .2-1.5 .2-1.5 .2-1.5 .1-1.5 .2-1.5 .1-1.5 .2-1.5 .1-1.5 .1-1.5 .1-1.4 .2-1.5 .1-1.5 .1-1.5 .1-1.5 .1-1.4 .2-1.5 .1-1.5 .1-1.5 .1-1.5 .1-1.5 .1-1.5 .1-1.5 .1-1.6 0-1.5 0-1.6 0-1.5 0-1.6 0-1.6 0-1.6-.1-1.7 0-1.6 0-1.7 0-1.7-.1-1.7 0-1.8 0-1.8 0-1.8 0-1.9 0-1.9 0-1.9 0-2 0-2 0-2-.1-2.1 0-2.2 0-2.2-.1-2.2 0-2.3-.4-2.4-.4-2.5-.3-2.5-.4-2.6-.4-2.7-.3-2.7-.4-2.8-.5-2.8-.4-2.9-.5-3-.5-3-.6-3.1-.5-3.2-.6-3.3-.6-3.4-.6-3.6-.7-3.8-.9-3.9-1-4.1-1-4.1-1-4.3-1.1-4.5-1.1-4.6-1.2-4.6-1.2-4.8-1.2-4.5-1.5-4.3-1.5-4-1.7-3.8-1.7-3.2-2-2.3-2.1-1.7-2.3-1.2-1.7-.6-1.4 0-1.4 .3-1.5 .5-1.5 .6-1.4 .8-1.5 1-1.4 1.1-1.4 1.3-1.4 1.7-1.3 1.8-1.4 1.9-1.2 2-1.3 2.1-1.2 2-1.1 2-1.1 2.1-1.1 2-1.2 2.1-1 2-1 2-1 1.9-1 2-.9 2-.9 2-.9 2-.8 2-.8 2-.8 2-.7 1.9-.7 1.9-.7 1.9-.7 1.8-.6 1.8-.7 1.8-.6 1.9-.5 1.8-.6 1.9-.5 1.9-.5 1.8-.5z"/><path d="M880.6 165.1l1.8-.3 1.8-.2 1.8-.3 1.8-.2 1.8-.2 1.8-.2 1.8-.2 1.8-.1 1.8-.2 1.8-.1 1.9-.1 1.8-.1 1.7 0 1.8-.1 1.8-.1 1.8 0 1.7 0 1.8 0 1.7 0 1.8 0 1.7 0 1.7 .1 1.7 0 1.7 .1 1.7 0 1.7-.2 1.7-.2 1.6-.2 1.7-.2 1.7-.2 1.6-.2 1.7-.2 1.6-.1 1.7-.2 1.7-.2 1.6-.1 1.7-.2 1.7-.1 1.7-.2 1.7-.1 1.7-.1 1.7-.1 1.7-.1 1.7-.1 1.7-.1 1.8-.1 1.8 0 1.7 0 1.8-.1 1.8 0 1.8-.1 1.8-.2 1.8-.2 1.8-.1 1.8-.1 1.9-.2 1.9-.1 1.8-.2 1.9-.1 2-.2 1.9-.1 2-.2 2-.1 2.1-.2 2-.1 2.1-.2 2.2-.1 2.2-.1 2.2-.2 2.2-.1 2.3-.1 2.3-.1 2.4 0 2.4-.1 2.4-.1 2.5 .1 2.6 .2 2.7 0 2.9 .1 2.8 .1 2.8 .2 2.7 .3 2.6 .4 2.6 .4 2.6 .5 2.7 .5 2.6 .5 2.7 .6 2.7 .6 2.7 .6 2.7 .6 2.7 .7 2.8 .7 2.7 .7 2.8 .8 2.8 .7 2.9 .6 2.8 .6 2.8 .7 2.7 .7 2.7 .7 2.5 .9 2.5 .8 2.4 .9 2.2 1 2.1 1 2 1.1 1.8 1.1 1.7 1.1 1.4 1.2 1.2 1.2 1.1 1.3 .9 1.4 .8 1.5 .6 1.6 .2 1.6-.1 1.6-.4 1.6-.6 1.6-.7 1.6-1 1.6-1.1 1.5-1.2 1.6-1.2 1.5-1.4 1.4-1.3 1.5-1.4 1.4-1.4 1.3-1.5 1.4-1.6 1.3-1.7 1.3-1.6 1.2-1.8 1.3-1.8 1.2-1.9 1.1-2 1.2-2.3 1-2.6 1-2.6 .9-2.5 .9-2.5 .9-2.5 .8-2.5 .8-2.4 .8-2.4 .7-2.4 .7-2.3 .7-2.2 .7-2.2 .6-2.2 .7-2.1 .5-2.1 .4-2 .5-2 .5-1.9 .4-1.9 .4-1.9 .4-1.9 .4-1.8 .4-1.8 .4-1.8 .3-1.8 .4-1.7 .3-1.7 .3-1.7 .3-1.7 .4-1.6 .3-1.6 .3-1.6 .3-1.6 .2-1.6 .3-1.5 .3-1.6 .3-1.5 .2-1.5 .3-1.5 .2-1.6 .2-1.5 .2-1.5 .2-1.5 .2-1.5 .2-1.5 .1-1.5 .2-1.5 .1-1.5 .1-1.5 .2-1.5 .1-1.5 .1-1.4 .1-1.5 .1-1.5 .1-1.5 .2-1.5 .1-1.5 .1-1.5 .1-1.4 .1-1.6 .1-1.5 .2-1.5 .1-1.5 .1-1.6 0-1.5 0-1.6 0-1.6-.1-1.5 0-1.7 0-1.6 0-1.6-.1-1.7 0-1.7 0-1.7 0-1.7 0-1.8-.1-1.8 0-1.8 0-1.9 0-1.9 0-1.9 0-2 0-2 0-2.1 0-2.1-.1-2.1 0-2.2 0-2.3-.1-2.3-.3-2.4-.4-2.5-.4-2.5-.3-2.6-.4-2.7-.4-2.7-.4-2.8-.4-2.9-.5-2.9-.4-2.9-.5-3.1-.6-3.1-.5-3.2-.6-3.3-.6-3.5-.5-3.6-.7-3.8-1-3.9-1-4-1-4.2-1-4.3-1-4.5-1.1-4.6-1.2-4.7-1.2-4.8-1.2-4.5-1.5-4.3-1.5-4.1-1.6-3.9-1.8-3.1-1.9-2.4-2.2-1.7-2.2-1.2-1.7-.5-1.4 0-1.5 .4-1.4 .5-1.5 .6-1.5 .9-1.4 .9-1.4 1.2-1.4 1.4-1.4 1.6-1.4 1.8-1.3 1.9-1.2 2-1.3 2.1-1.1 2-1.2 2-1.1 2.1-1.1 2-1.1 2-1.1 2-1 2-1 2-1 2-.9 2-.9 1.9-.9 2-.8 2-.8 2-.7 2-.8 1.9-.7 1.9-.7 1.9-.7 1.8-.6 1.8-.6 1.8-.7 1.9-.5 1.9-.6 1.9-.5 1.8-.5 1.9-.5z"/><path d="M880.1 163.6l1.9-.2 1.8-.3 1.8-.3 1.8-.2 1.8-.2 1.8-.2 1.9-.1 1.8-.2 1.8-.1 1.8-.1 1.8-.1 1.8-.1 1.8-.1 1.8 0 1.8-.1 1.8 0 1.8 0 1.7 0 1.8 0 1.7 0 1.8 .1 1.7 0 1.7 .1 1.7 0 1.7 .1 1.7-.2 1.7-.2 1.7-.2 1.7-.2 1.6-.2 1.7-.2 1.7-.2 1.6-.2 1.7-.1 1.7-.2 1.7-.1 1.6-.2 1.7-.1 1.7-.1 1.7-.2 1.7-.1 1.7-.1 1.7-.1 1.8-.1 1.7-.1 1.8 0 1.7-.1 1.8 0 1.8 0 1.8 0 1.8-.2 1.8-.2 1.8-.1 1.8-.2 1.9-.1 1.8-.1 1.9-.2 1.9-.1 1.9-.2 1.9-.1 2-.2 2-.1 2-.2 2-.1 2.1-.2 2.1-.1 2.1-.2 2.2-.1 2.2-.1 2.3-.1 2.3-.1 2.3-.1 2.3-.1 2.4-.1 2.5 0 2.5 .1 2.6 .1 2.7 .1 2.8 0 2.9 .1 2.8 .2 2.6 .3 2.7 .4 2.6 .4 2.6 .4 2.7 .5 2.7 .5 2.6 .6 2.7 .5 2.8 .6 2.7 .7 2.7 .6 2.8 .7 2.8 .7 2.8 .7 2.8 .8 2.9 .5 2.9 .6 2.8 .6 2.7 .7 2.7 .7 2.6 .8 2.5 .9 2.4 .8 2.3 1 2.1 1 2 1 1.8 1.1 1.7 1.1 1.5 1.2 1.2 1.2 1 1.2 .9 1.4 .8 1.6 .6 1.5 .3 1.6-.2 1.7-.4 1.6-.6 1.6-.8 1.6-1 1.6-1.1 1.5-1.2 1.5-1.3 1.5-1.4 1.5-1.3 1.4-1.4 1.5-1.5 1.3-1.5 1.4-1.6 1.3-1.7 1.3-1.7 1.2-1.7 1.3-1.9 1.2-1.9 1.1-2 1.2-2.3 1-2.6 1-2.6 .9-2.5 .9-2.5 .9-2.5 .9-2.4 .8-2.5 .7-2.4 .8-2.3 .7-2.3 .7-2.2 .6-2.2 .7-2.2 .6-2.1 .5-2.1 .5-2 .5-2 .4-1.9 .5-1.9 .4-1.9 .4-1.9 .4-1.8 .4-1.8 .4-1.8 .3-1.8 .4-1.8 .3-1.7 .3-1.7 .3-1.6 .4-1.7 .3-1.6 .3-1.6 .3-1.6 .3-1.6 .2-1.5 .3-1.6 .3-1.5 .2-1.5 .3-1.6 .2-1.5 .2-1.5 .2-1.5 .2-1.5 .2-1.5 .2-1.5 .1-1.5 .2-1.6 .1-1.5 .2-1.5 .1-1.5 .1-1.5 .1-1.5 .1-1.5 .2-1.4 .1-1.5 .1-1.5 .1-1.5 .1-1.5 .1-1.5 .2-1.5 .1-1.5 .1-1.6 .1-1.5 .1-1.6 0-1.5 0-1.6 0-1.6 0-1.6-.1-1.6 0-1.6 0-1.7 0-1.6-.1-1.7 0-1.7 0-1.8 0-1.7 0-1.8 0-1.9 0-1.8 0-2 0-1.9-.1-2 0-2 0-2.1 0-2.1 0-2.2-.1-2.2 0-2.3-.1-2.3-.3-2.4-.4-2.5-.3-2.5-.4-2.6-.3-2.7-.4-2.8-.4-2.8-.4-2.8-.5-2.9-.5-3-.5-3.1-.5-3.1-.5-3.2-.6-3.3-.6-3.5-.5-3.6-.7-3.8-1-4-.9-4-1-4.2-1-4.3-1.1-4.5-1.1-4.7-1.1-4.7-1.2-4.7-1.2-4.6-1.4-4.4-1.5-4.1-1.7-3.9-1.7-3.2-2-2.4-2.1-1.7-2.2-1.1-1.7-.6-1.4 .1-1.5 .4-1.5 .5-1.4 .7-1.5 .9-1.4 1-1.5 1.2-1.4 1.4-1.3 1.6-1.4 1.8-1.3 2-1.2 2-1.3 2-1.1 2-1.2 2-1.1 2.1-1.1 2-1.1 2-1.1 2-1 1.9-1 2-1 2-.9 2-.9 1.9-.8 2-.9 2-.8 2-.7 2-.8 1.9-.7 1.9-.7 1.9-.7 1.8-.6 1.8-.6 1.8-.6 1.9-.6 1.9-.6 1.9-.5 1.9-.5 1.8-.5z"/><path d="M879.7 162.2l1.8-.3 1.9-.3 1.8-.2 1.8-.2 1.8-.2 1.9-.2 1.8-.2 1.8-.1 1.9-.2 1.8-.1 1.8 0 1.8-.1 1.8-.1 1.9 0 1.7-.1 1.8 0 1.8 0 1.8 0 1.7 0 1.8 .1 1.8 0 1.7 .1 1.7 0 1.8 .1 1.7 0 1.7-.2 1.6-.2 1.7-.2 1.7-.2 1.7-.1 1.7-.2 1.6-.2 1.7-.2 1.7-.1 1.7-.2 1.7-.1 1.6-.2 1.7-.1 1.7-.1 1.7-.2 1.8-.1 1.7-.1 1.7-.1 1.7-.1 1.8 0 1.7-.1 1.8 0 1.8-.1 1.8 0 1.8 0 1.8-.1 1.8-.2 1.8-.2 1.8-.1 1.9-.2 1.8-.1 1.9-.1 1.9-.2 1.9-.1 2-.2 1.9-.1 2-.2 2-.1 2.1-.2 2-.1 2.1-.2 2.2-.1 2.2-.1 2.2-.2 2.2-.1 2.3-.1 2.3-.1 2.4 0 2.4-.1 2.5-.1 2.5 .1 2.6 .1 2.7 .1 2.8 0 2.9 .1 2.7 .2 2.7 .3 2.6 .3 2.7 .4 2.6 .5 2.7 .4 2.7 .5 2.7 .5 2.7 .6 2.7 .6 2.8 .6 2.7 .6 2.8 .7 2.8 .7 2.8 .7 2.9 .7 2.9 .5 2.9 .6 2.8 .6 2.8 .6 2.7 .7 2.7 .8 2.5 .8 2.4 .8 2.3 1 2.2 .9 2 1 1.8 1.1 1.7 1.1 1.5 1.1 1.2 1.2 1 1.2 .9 1.4 .9 1.6 .6 1.6 .2 1.6-.2 1.6-.4 1.6-.6 1.6-.8 1.6-1.1 1.6-1.1 1.6-1.3 1.5-1.3 1.5-1.4 1.5-1.4 1.4-1.4 1.4-1.5 1.4-1.5 1.4-1.7 1.3-1.6 1.3-1.8 1.2-1.7 1.2-1.9 1.2-1.9 1.2-2.1 1.1-2.2 1.1-2.6 1-2.6 .9-2.5 .9-2.5 .9-2.5 .9-2.4 .8-2.4 .7-2.4 .8-2.4 .7-2.2 .7-2.3 .7-2.2 .6-2.1 .7-2.1 .5-2.1 .5-2 .4-2 .5-1.9 .4-2 .5-1.8 .4-1.9 .4-1.8 .4-1.9 .4-1.8 .3-1.8 .4-1.7 .3-1.7 .3-1.7 .3-1.7 .4-1.6 .3-1.7 .3-1.6 .3-1.6 .3-1.6 .3-1.5 .2-1.6 .3-1.5 .3-1.6 .2-1.5 .2-1.5 .3-1.5 .2-1.6 .2-1.5 .1-1.5 .2-1.5 .2-1.5 .1-1.5 .2-1.6 .1-1.5 .1-1.5 .1-1.5 .1-1.5 .2-1.5 .1-1.5 .1-1.5 .1-1.5 .1-1.5 .1-1.5 .2-1.5 .1-1.5 .1-1.5 .1-1.5 .1-1.6 .1-1.5 0-1.6 0-1.6 0-1.6 0-1.6 0-1.6 0-1.6-.1-1.7 0-1.7 0-1.7 0-1.7-.1-1.7 0-1.8 0-1.8 0-1.9 0-1.8 0-2 0-1.9 0-2 0-2-.1-2.1 0-2.1 0-2.2 0-2.2-.1-2.3 0-2.4-.4-2.4-.3-2.4-.4-2.6-.3-2.6-.4-2.7-.3-2.8-.4-2.8-.5-2.9-.4-2.9-.5-3-.5-3.1-.5-3.1-.5-3.2-.6-3.4-.6-3.5-.5-3.6-.7-3.8-.9-3.9-1-4.1-1-4.2-1-4.4-1-4.5-1.1-4.6-1.1-4.7-1.2-4.8-1.2-4.6-1.4-4.4-1.5-4.2-1.6-4-1.8-3.2-1.9-2.4-2.1-1.7-2.2-1.1-1.7-.5-1.4 .1-1.5 .4-1.5 .6-1.5 .7-1.4 .9-1.5 1.1-1.4 1.2-1.4 1.4-1.3 1.6-1.4 1.8-1.3 2-1.2 2-1.3 2-1.1 2-1.2 2-1 2-1.2 2.1-1.1 1.9-1.1 2-1 2-1 2-.9 1.9-1 2-.9 2-.8 1.9-.9 2-.8 2-.7 2-.8 1.9-.7 1.9-.7 1.8-.6 1.9-.7 1.8-.6 1.8-.6 1.9-.6 1.9-.6 1.9-.5 1.9-.5 1.9-.5z"/><path d="M879.3 160.7l1.8-.3 1.8-.3 1.9-.2 1.8-.2 1.8-.2 1.9-.2 1.8-.1 1.9-.2 1.8-.1 1.9-.1 1.8-.1 1.8 0 1.8-.1 1.9 0 1.8-.1 1.8 0 1.7 0 1.8 0 1.8 .1 1.8 0 1.7 .1 1.8 0 1.7 .1 1.8 0 1.7 .1 1.7-.2 1.7-.2 1.7-.2 1.7-.2 1.6-.2 1.7-.1 1.7-.2 1.7-.2 1.7-.1 1.7-.2 1.7-.1 1.7-.2 1.7-.1 1.7-.1 1.7-.1 1.7-.2 1.7-.1 1.8-.1 1.7 0 1.8-.1 1.7-.1 1.8 0 1.8 0 1.8 0 1.8 0 1.8-.2 1.8-.2 1.8-.1 1.8-.2 1.9-.1 1.9-.2 1.8-.1 1.9-.1 2-.2 1.9-.1 2-.2 1.9-.1 2.1-.2 2-.1 2.1-.2 2.1-.1 2.1-.2 2.2-.1 2.2-.1 2.3-.1 2.3-.1 2.3-.1 2.4-.1 2.4-.1 2.4 0 2.5 .1 2.6 .1 2.7 0 2.9 0 2.8 .1 2.8 .2 2.6 .3 2.7 .3 2.6 .4 2.7 .4 2.7 .5 2.7 .4 2.7 .5 2.7 .6 2.8 .5 2.7 .6 2.8 .6 2.8 .7 2.8 .7 2.9 .7 2.9 .6 2.9 .5 2.9 .5 2.9 .6 2.8 .6 2.8 .7 2.6 .7 2.6 .8 2.5 .8 2.3 .9 2.1 1 2.1 1 1.9 1 1.7 1.1 1.4 1.1 1.2 1.2 1.1 1.2 .9 1.3 .8 1.6 .6 1.6 .2 1.6-.2 1.6-.4 1.7-.7 1.6-.8 1.6-1 1.6-1.2 1.5-1.3 1.6-1.4 1.5-1.4 1.5-1.4 1.4-1.4 1.4-1.6 1.4-1.5 1.3-1.7 1.4-1.7 1.3-1.7 1.2-1.8 1.2-1.9 1.2-1.9 1.2-2.1 1.1-2.2 1.1-2.6 1-2.5 .9-2.6 .9-2.5 .9-2.5 .9-2.4 .8-2.4 .8-2.4 .7-2.3 .7-2.3 .7-2.2 .7-2.2 .7-2.1 .6-2.1 .5-2.1 .5-2 .5-2 .5-2 .4-1.9 .5-1.9 .4-1.8 .4-1.9 .4-1.8 .3-1.8 .4-1.8 .3-1.7 .4-1.8 .3-1.7 .3-1.6 .4-1.7 .3-1.6 .3-1.7 .3-1.6 .3-1.5 .3-1.6 .2-1.6 .3-1.5 .3-1.6 .3-1.5 .2-1.5 .2-1.6 .2-1.5 .2-1.5 .2-1.5 .1-1.6 .2-1.5 .1-1.5 .2-1.5 .1-1.6 .1-1.5 .2-1.5 .1-1.5 .1-1.5 .1-1.5 .1-1.5 .1-1.5 .2-1.5 .1-1.5 .1-1.5 .1-1.6 .1-1.5 .1-1.5 .1-1.6 .1-1.5 0-1.6 0-1.6 0-1.6 0-1.6 0-1.6 0-1.7 0-1.6-.1-1.7 0-1.7 0-1.7 0-1.8-.1-1.8 0-1.8 0-1.9 0-1.8 0-2 0-1.9 0-2 0-2.1 0-2.1-.1-2.1 0-2.2 0-2.2-.1-2.3 0-2.3-.3-2.5-.4-2.4-.3-2.6-.4-2.6-.3-2.8-.4-2.7-.4-2.9-.4-2.8-.4-3-.5-3-.5-3-.5-3.2-.5-3.2-.6-3.4-.5-3.5-.6-3.6-.7-3.9-.9-3.9-1-4.1-.9-4.2-1-4.4-1.1-4.5-1-4.7-1.1-4.7-1.2-4.8-1.2-4.6-1.4-4.5-1.5-4.2-1.6-4-1.7-3.3-1.9-2.4-2.1-1.7-2.3-1.1-1.6-.5-1.4 .2-1.5 .5-1.5 .6-1.5 .7-1.5 1-1.4 1-1.4 1.3-1.4 1.4-1.4 1.6-1.3 1.9-1.3 1.9-1.2 2-1.3 2-1.1 2-1.1 2-1.1 2-1.2 2-1.1 2-1 2-1.1 1.9-1 2-.9 1.9-1 2-.9 2-.8 1.9-.8 2-.8 2-.8 2-.7 1.9-.8 1.9-.7 1.8-.6 1.9-.7 1.8-.6 1.8-.6 1.9-.6 1.9-.6 2-.5 1.9-.5 1.8-.5z"/><path d="M878.8 159.2l1.9-.3 1.8-.2 1.9-.3 1.8-.2 1.9-.2 1.8-.1 1.9-.2 1.8-.1 1.9-.1 1.8-.1 1.9-.1 1.8-.1 1.8 0 1.9 0 1.8-.1 1.8 0 1.8 0 1.8 .1 1.8 0 1.7 0 1.8 .1 1.8 .1 1.7 0 1.8 .1 1.7 .1 1.7-.2 1.7-.2 1.7-.2 1.7-.2 1.7-.2 1.7-.2 1.7-.1 1.7-.2 1.7-.1 1.7-.2 1.7-.1 1.7-.2 1.7-.1 1.7-.1 1.7-.1 1.7-.1 1.8-.1 1.7-.1 1.8-.1 1.7-.1 1.8 0 1.8-.1 1.8 0 1.7 0 1.9 0 1.8-.2 1.8-.1 1.8-.2 1.9-.1 1.8-.2 1.9-.1 1.9-.2 1.9-.1 1.9-.2 1.9-.1 2-.1 2-.2 2-.1 2.1-.2 2-.1 2.2-.2 2.1-.1 2.2-.2 2.2-.1 2.3-.1 2.2-.1 2.4-.1 2.3 0 2.4-.1 2.5-.1 2.5 .1 2.6 .1 2.7 0 2.8 0 2.9 .1 2.7 .2 2.7 .2 2.7 .4 2.6 .3 2.7 .4 2.7 .5 2.7 .4 2.7 .5 2.8 .5 2.7 .6 2.8 .5 2.8 .6 2.8 .7 2.9 .6 2.9 .7 2.9 .7 2.9 .4 3 .5 2.9 .5 2.9 .6 2.7 .7 2.7 .7 2.6 .7 2.5 .8 2.3 .9 2.2 .9 2.1 1 1.9 1 1.7 1.1 1.5 1.1 1.2 1.1 1 1.2 .9 1.3 .8 1.6 .6 1.6 .2 1.6-.2 1.7-.4 1.6-.7 1.6-.9 1.7-1 1.5-1.2 1.6-1.3 1.6-1.4 1.5-1.5 1.4-1.4 1.5-1.5 1.4-1.5 1.4-1.6 1.3-1.7 1.4-1.7 1.2-1.8 1.3-1.8 1.2-1.9 1.2-1.9 1.2-2.1 1.1-2.2 1.1-2.6 1-2.5 .9-2.6 .9-2.5 .9-2.4 .9-2.4 .8-2.4 .8-2.4 .7-2.3 .8-2.3 .7-2.2 .7-2.2 .6-2.2 .7-2.1 .5-2 .5-2 .5-2 .4-2 .5-1.9 .4-1.9 .5-1.8 .4-1.9 .4-1.8 .3-1.8 .4-1.8 .3-1.8 .4-1.7 .3-1.7 .3-1.7 .4-1.7 .3-1.6 .3-1.6 .3-1.6 .3-1.6 .3-1.6 .3-1.6 .2-1.6 .3-1.5 .3-1.5 .2-1.6 .2-1.5 .2-1.5 .2-1.6 .2-1.5 .2-1.5 .1-1.6 .2-1.5 .1-1.5 .1-1.6 .2-1.5 .1-1.5 .1-1.5 .1-1.5 .1-1.5 .1-1.5 .2-1.5 .1-1.6 .1-1.5 .1-1.5 .1-1.5 .1-1.6 .2-1.5 .1-1.6 .1-1.5 0-1.6 0-1.6 0-1.6 0-1.6-.1-1.7 0-1.6 0-1.7 0-1.7-.1-1.7 0-1.7 0-1.8 0-1.8 0-1.8 0-1.8 0-1.9-.1-2 0-1.9 0-2 0-2.1 0-2.1 0-2.1-.1-2.2 0-2.3 0-2.3-.1-2.3-.3-2.4-.3-2.5-.4-2.6-.3-2.7-.4-2.7-.3-2.8-.4-2.8-.4-2.9-.4-3-.5-3-.5-3-.5-3.2-.5-3.3-.6-3.3-.5-3.5-.6-3.7-.7-3.8-.9-4-.9-4.1-1-4.2-1-4.4-1-4.5-1-4.7-1.1-4.8-1.2-4.8-1.2-4.6-1.4-4.5-1.5-4.4-1.5-4-1.7-3.3-1.9-2.4-2.1-1.7-2.3-1.1-1.6-.4-1.5 .2-1.5 .5-1.4 .6-1.5 .8-1.5 1-1.4 1.1-1.4 1.2-1.4 1.5-1.4 1.6-1.3 1.9-1.3 1.9-1.2 2-1.3 2-1.1 2-1.1 2-1.1 2-1.1 2-1.2 1.9-1 2-1.1 1.9-1 2-.9 2-.9 1.9-.9 2-.9 1.9-.8 2-.8 2-.8 1.9-.7 2-.8 1.9-.7 1.8-.6 1.8-.7 1.9-.6 1.8-.6 1.9-.6 2-.5 1.9-.6 1.9-.5 1.9-.5z"/><path d="M878.4 157.7l1.8-.3 1.9-.2 1.8-.3 1.9-.2 1.9-.1 1.8-.2 1.9-.1 1.9-.2 1.8-.1 1.9-.1 1.8 0 1.9-.1 1.8 0 1.9-.1 1.8 0 1.8 0 1.8 0 1.8 .1 1.8 0 1.8 .1 1.8 0 1.8 .1 1.7 .1 1.8 .1 1.7 .1 1.7-.3 1.7-.1 1.8-.2 1.7-.2 1.7-.2 1.7-.2 1.7-.1 1.7-.2 1.7-.2 1.7-.1 1.7-.1 1.7-.2 1.7-.1 1.7-.1 1.8-.1 1.7-.1 1.7-.1 1.8-.1 1.7-.1 1.8-.1 1.8 0 1.7 0 1.8-.1 1.8 0 1.8 0 1.9-.1 1.8-.2 1.8-.1 1.9-.2 1.8-.1 1.9-.2 1.9-.1 1.9-.2 1.9-.1 2-.2 1.9-.1 2-.2 2.1-.1 2-.2 2.1-.1 2.1-.1 2.2-.2 2.2-.1 2.2-.1 2.2-.1 2.3-.1 2.3-.1 2.4-.1 2.4-.1 2.4 0 2.6 .1 2.5 0 2.7 .1 2.9-.1 2.8 .1 2.8 .2 2.7 .2 2.6 .3 2.7 .4 2.7 .4 2.7 .4 2.7 .4 2.7 .5 2.8 .5 2.8 .5 2.8 .6 2.8 .5 2.8 .7 2.9 .6 2.9 .7 3 .6 3 .4 3 .5 2.9 .5 2.9 .5 2.8 .7 2.7 .6 2.6 .8 2.5 .7 2.4 .9 2.2 .9 2.1 .9 1.9 1 1.7 1 1.5 1.1 1.2 1.1 1 1.2 1 1.4 .8 1.5 .6 1.6 .2 1.7-.2 1.6-.5 1.7-.7 1.6-.9 1.6-1.1 1.6-1.2 1.6-1.4 1.5-1.4 1.5-1.4 1.5-1.5 1.5-1.5 1.4-1.6 1.4-1.6 1.3-1.7 1.3-1.8 1.3-1.7 1.3-1.8 1.2-1.9 1.2-2 1.2-2.1 1.1-2.2 1.1-2.6 1-2.5 .9-2.6 .9-2.5 .9-2.4 .9-2.4 .8-2.4 .8-2.4 .8-2.3 .7-2.2 .7-2.2 .7-2.2 .7-2.2 .6-2.1 .5-2 .5-2.1 .5-1.9 .5-2 .5-1.9 .4-1.9 .4-1.9 .4-1.8 .4-1.8 .4-1.9 .4-1.8 .3-1.7 .4-1.8 .3-1.7 .3-1.7 .4-1.6 .3-1.7 .3-1.6 .3-1.6 .3-1.6 .3-1.6 .3-1.6 .3-1.6 .2-1.5 .3-1.6 .2-1.5 .2-1.5 .2-1.6 .2-1.5 .2-1.6 .2-1.5 .2-1.5 .1-1.6 .1-1.5 .2-1.5 .1-1.6 .1-1.5 .1-1.5 .1-1.5 .1-1.6 .2-1.5 .1-1.5 .1-1.5 .1-1.5 .1-1.6 .2-1.5 .1-1.5 .1-1.6 .1-1.6 .1-1.5 0-1.6 0-1.6 0-1.6 0-1.7 0-1.6-.1-1.6 0-1.7 0-1.7 0-1.7-.1-1.8 0-1.7 0-1.8 0-1.9 0-1.8 0-1.9 0-2 0-1.9 0-2.1-.1-2 0-2.1 0-2.2 0-2.2-.1-2.2 0-2.3 0-2.4-.4-2.4-.3-2.5-.3-2.6-.4-2.7-.3-2.7-.4-2.8-.3-2.9-.4-2.9-.5-2.9-.4-3.1-.5-3-.5-3.2-.5-3.3-.6-3.4-.5-3.5-.6-3.7-.7-3.8-.9-4-.9-4.1-.9-4.2-1-4.4-1-4.6-1.1-4.7-1.1-4.8-1.1-4.8-1.2-4.7-1.4-4.5-1.4-4.4-1.6-4-1.7-3.4-1.9-2.4-2.1-1.7-2.2-1.1-1.7-.4-1.4 .2-1.5 .6-1.5 .7-1.5 .8-1.4 1-1.5 1.1-1.4 1.3-1.3 1.5-1.4 1.6-1.3 1.9-1.3 1.9-1.3 2-1.1 1.9-1.2 2-1.1 2-1.1 2-1.1 2-1.1 2-1.1 1.9-1 2-1 1.9-1 2-.9 1.9-.9 2-.9 1.9-.8 2-.8 1.9-.8 2-.7 2-.8 1.8-.7 1.9-.6 1.8-.7 1.9-.6 1.8-.6 1.9-.6 2-.5 1.9-.6 1.9-.5 1.9-.4z"/><path d="M877.9 156.2l1.9-.3 1.9-.2 1.8-.2 1.9-.2 1.9-.2 1.9-.2 1.8-.1 1.9-.1 1.9-.1 1.8-.1 1.9-.1 1.9 0 1.8-.1 1.9 0 1.8 0 1.8 0 1.8 0 1.9 .1 1.8 0 1.8 .1 1.7 .1 1.8 0 1.8 .1 1.8 .1 1.7 .1 1.7-.2 1.8-.2 1.7-.2 1.7-.2 1.7-.1 1.7-.2 1.7-.2 1.7-.1 1.8-.2 1.7-.1 1.7-.2 1.7-.1 1.7-.1 1.8-.1 1.7-.1 1.7-.1 1.8-.1 1.7-.1 1.8-.1 1.8 0 1.7-.1 1.8 0 1.8 0 1.8 0 1.8 0 1.9-.2 1.8-.1 1.8-.2 1.9-.2 1.9-.1 1.8-.1 1.9-.2 1.9-.1 2-.2 1.9-.1 2-.2 2-.1 2-.2 2.1-.1 2.1-.2 2.1-.1 2.1-.1 2.2-.2 2.2-.1 2.3-.1 2.3-.1 2.3-.1 2.4 0 2.4-.1 2.4-.1 2.5 .1 2.6 .1 2.7 0 2.8 0 2.9 0 2.8 .1 2.6 .3 2.7 .3 2.7 .3 2.7 .4 2.7 .4 2.7 .4 2.8 .5 2.7 .4 2.8 .5 2.8 .6 2.9 .6 2.8 .6 2.9 .6 3 .6 3 .6 3 .4 3 .4 3 .5 2.9 .6 2.8 .5 2.8 .7 2.6 .7 2.6 .7 2.4 .9 2.2 .8 2.1 .9 1.9 1 1.8 1 1.5 1.1 1.2 1.1 1 1.1 .9 1.4 .8 1.5 .6 1.7 .2 1.6-.2 1.6-.5 1.7-.7 1.6-.9 1.7-1.2 1.6-1.2 1.5-1.4 1.6-1.4 1.5-1.5 1.5-1.5 1.4-1.6 1.5-1.6 1.3-1.6 1.4-1.7 1.3-1.8 1.3-1.8 1.3-1.8 1.2-1.9 1.2-2 1.2-2.1 1.1-2.2 1.1-2.6 1-2.5 .9-2.6 .9-2.4 .9-2.5 .9-2.4 .8-2.3 .8-2.4 .8-2.3 .7-2.2 .7-2.2 .7-2.2 .7-2.2 .7-2.1 .5-2 .5-2.1 .5-1.9 .5-2 .4-1.9 .5-1.9 .4-1.9 .4-1.8 .4-1.9 .4-1.8 .4-1.8 .3-1.8 .4-1.7 .3-1.7 .3-1.7 .4-1.7 .3-1.6 .3-1.7 .3-1.6 .3-1.6 .3-1.6 .3-1.6 .3-1.6 .2-1.5 .3-1.6 .2-1.5 .3-1.6 .2-1.5 .2-1.6 .1-1.5 .2-1.6 .2-1.5 .1-1.5 .2-1.6 .1-1.5 .1-1.6 .1-1.5 .1-1.5 .2-1.6 .1-1.5 .1-1.5 .1-1.5 .1-1.6 .1-1.5 .2-1.5 .1-1.6 .1-1.5 .1-1.6 .1-1.5 .1-1.6 0-1.6 0-1.6 0-1.6 0-1.7 0-1.6 0-1.7-.1-1.7 0-1.7 0-1.7 0-1.7-.1-1.8 0-1.8 0-1.9 0-1.8 0-1.9 0-2 0-2 0-2 0-2.1 0-2.1-.1-2.1 0-2.2 0-2.3-.1-2.3 0-2.4-.3-2.4-.3-2.5-.4-2.6-.3-2.7-.3-2.8-.4-2.8-.4-2.8-.4-2.9-.4-3-.4-3-.5-3.1-.5-3.2-.5-3.3-.6-3.4-.5-3.5-.6-3.7-.7-3.9-.9-4-.9-4.1-.9-4.2-1-4.4-1-4.6-1-4.7-1.1-4.8-1.1-4.9-1.2-4.7-1.4-4.6-1.4-4.4-1.6-4.1-1.6-3.4-1.9-2.4-2.1-1.7-2.2-1.1-1.7-.4-1.4 .3-1.5 .6-1.5 .7-1.5 .9-1.4 1.1-1.5 1.1-1.4 1.3-1.4 1.5-1.3 1.6-1.3 1.9-1.3 1.9-1.3 2-1.1 1.9-1.2 2-1.1 2-1.1 2-1.1 2-1.1 1.9-1.1 2-1 1.9-1 1.9-1 2-.9 1.9-.9 2-.9 1.9-.8 1.9-.8 2-.8 2-.7 1.9-.8 1.9-.7 1.9-.6 1.8-.7 1.8-.6 1.9-.6 1.9-.6 2-.5 1.9-.6 2-.5 1.9-.4z"/><path d="M877.5 154.7l1.9-.3 1.8-.2 1.9-.2 1.9-.2 1.9-.2 1.9-.1 1.9-.2 1.8-.1 1.9-.1 1.9 0 1.9-.1 1.8 0 1.9-.1 1.9 0 1.8 0 1.8 0 1.9 .1 1.8 0 1.8 0 1.8 .1 1.8 .1 1.8 .1 1.8 .1 1.8 .1 1.7 .1 1.8-.2 1.7-.2 1.7-.2 1.8-.2 1.7-.2 1.7-.1 1.7-.2 1.7-.1 1.7-.2 1.8-.1 1.7-.2 1.7-.1 1.7-.1 1.8-.1 1.7-.1 1.8-.1 1.7-.1 1.8-.1 1.7-.1 1.8 0 1.8 0 1.8-.1 1.8 0 1.8 0 1.8 0 1.9-.1 1.8-.2 1.8-.2 1.9-.1 1.9-.2 1.9-.1 1.9-.2 1.9-.1 1.9-.1 2-.2 1.9-.1 2-.2 2.1-.1 2-.2 2.1-.1 2.1-.2 2.2-.1 2.2-.1 2.2-.1 2.2-.1 2.3-.1 2.4-.1 2.3-.1 2.4-.1 2.5 0 2.5 0 2.6 .1 2.7 0 2.8 0 2.9 0 2.7 .1 2.7 .3 2.7 .2 2.7 .4 2.6 .3 2.8 .4 2.7 .4 2.8 .4 2.8 .5 2.8 .5 2.8 .5 2.9 .6 2.9 .5 2.9 .6 2.9 .7 3.1 .6 3 .3 3.1 .4 3 .5 2.9 .5 2.9 .5 2.8 .6 2.7 .7 2.5 .7 2.5 .8 2.2 .9 2.1 .9 2 .9 1.7 1 1.5 1 1.2 1.1 1.1 1.1 .9 1.4 .8 1.6 .6 1.6 .2 1.6-.3 1.7-.5 1.6-.8 1.7-.9 1.6-1.1 1.6-1.3 1.6-1.4 1.5-1.5 1.6-1.5 1.5-1.5 1.4-1.6 1.4-1.6 1.4-1.7 1.4-1.7 1.3-1.8 1.3-1.8 1.2-1.9 1.3-1.9 1.2-2 1.1-2.1 1.2-2.2 1.1-2.6 1-2.5 .9-2.5 .9-2.5 .9-2.4 .9-2.4 .8-2.4 .8-2.3 .8-2.3 .7-2.2 .8-2.3 .7-2.1 .7-2.2 .6-2.1 .5-2 .6-2.1 .4-1.9 .5-2 .5-1.9 .4-1.9 .5-1.9 .4-1.8 .4-1.9 .4-1.8 .4-1.8 .3-1.8 .4-1.8 .3-1.7 .3-1.7 .4-1.6 .3-1.7 .3-1.7 .3-1.6 .3-1.6 .3-1.6 .3-1.6 .3-1.6 .3-1.5 .2-1.6 .3-1.6 .2-1.5 .2-1.6 .2-1.5 .2-1.6 .1-1.5 .2-1.6 .2-1.5 .1-1.6 .1-1.5 .1-1.6 .1-1.5 .2-1.5 .1-1.6 .1-1.5 .1-1.5 .1-1.6 .1-1.5 .2-1.5 .1-1.6 .1-1.5 .1-1.6 .1-1.6 .1-1.5 .1-1.6 0-1.6 0-1.6 0-1.7 0-1.6 0-1.6 0-1.7 0-1.7-.1-1.7 0-1.7 0-1.8 0-1.8 0-1.8-.1-1.8 0-1.9 0-1.9 0-2 0-2 0-2 0-2.1 0-2.1 0-2.2-.1-2.2 0-2.3 0-2.3-.1-2.4-.3-2.4-.3-2.6-.3-2.6-.4-2.6-.3-2.8-.3-2.8-.4-2.9-.4-2.9-.4-3-.5-3-.4-3.2-.5-3.2-.5-3.3-.6-3.4-.5-3.5-.6-3.7-.7-3.8-.8-4-.9-4.2-1-4.2-.9-4.5-1-4.6-1-4.7-1.1-4.8-1.1-4.9-1.2-4.7-1.4-4.7-1.4-4.4-1.5-4.2-1.7-3.4-1.8-2.4-2.1-1.7-2.2-1.1-1.7-.4-1.4 .4-1.5 .6-1.5 .8-1.5 .9-1.5 1.1-1.4 1.1-1.4 1.4-1.4 1.4-1.3 1.7-1.4 1.9-1.2 1.9-1.3 2-1.2 1.9-1.1 2-1.1 2-1.1 2-1.1 1.9-1.1 2-1.1 1.9-1 1.9-1 1.9-1 2-.9 1.9-.9 1.9-.9 2-.8 1.9-.8 2-.8 2-.7 1.9-.7 1.9-.8 1.8-.6 1.9-.7 1.8-.6 1.9-.6 1.9-.6 2-.5 1.9-.6 2-.5 1.9-.4z"/><path d="M877 153.2l1.9-.3 1.9-.2 1.9-.2 1.9-.2 1.9-.2 1.9-.1 1.9-.1 1.9-.1 1.9-.1 1.9-.1 1.8 0 1.9-.1 1.9 0 1.9 0 1.8 0 1.9 0 1.8 .1 1.8 0 1.9 .1 1.8 0 1.8 .1 1.8 .1 1.8 .1 1.8 .1 1.7 .1 1.8-.2 1.7-.1 1.8-.2 1.7-.2 1.7-.2 1.7-.2 1.8-.1 1.7-.2 1.7-.1 1.8-.1 1.7-.2 1.7-.1 1.8-.1 1.7-.1 1.8-.1 1.7-.1 1.8-.1 1.7-.1 1.8 0 1.8-.1 1.8 0 1.8 0 1.8-.1 1.8 0 1.8 .1 1.9-.2 1.8-.2 1.9-.1 1.8-.2 1.9-.1 1.9-.2 1.9-.1 1.9-.2 1.9-.1 2-.2 2-.1 2-.1 2-.2 2.1-.1 2.1-.2 2.1-.1 2.1-.1 2.2-.2 2.3-.1 2.2-.1 2.3-.1 2.3-.1 2.4 0 2.4-.1 2.4-.1 2.6 .1 2.5 0 2.7 0 2.9 0 2.8 0 2.8 .1 2.7 .2 2.6 .3 2.7 .3 2.7 .3 2.8 .4 2.7 .4 2.8 .4 2.8 .5 2.8 .4 2.9 .5 2.9 .6 2.9 .5 2.9 .6 3 .6 3.1 .6 3 .3 3.1 .4 3.1 .4 3 .5 2.8 .5 2.8 .6 2.8 .6 2.6 .7 2.4 .8 2.3 .8 2.1 .9 2 .9 1.8 1 1.5 1 1.2 1 1 1.1 .9 1.4 .9 1.6 .6 1.6 .1 1.6-.2 1.7-.6 1.7-.8 1.6-.9 1.7-1.2 1.6-1.3 1.6-1.4 1.5-1.6 1.5-1.5 1.5-1.6 1.5-1.5 1.4-1.7 1.4-1.7 1.3-1.7 1.4-1.9 1.3-1.8 1.2-1.9 1.2-1.9 1.2-2 1.2-2.1 1.2-2.2 1-2.6 1-2.5 1-2.5 .9-2.5 .9-2.4 .9-2.4 .8-2.3 .8-2.4 .8-2.2 .8-2.3 .7-2.2 .7-2.1 .7-2.2 .7-2.1 .5-2 .5-2.1 .5-1.9 .5-2 .5-1.9 .4-1.9 .5-1.9 .4-1.8 .4-1.9 .4-1.8 .3-1.9 .4-1.7 .4-1.8 .3-1.7 .3-1.7 .4-1.7 .3-1.7 .3-1.6 .3-1.7 .3-1.6 .3-1.6 .3-1.6 .3-1.6 .3-1.6 .2-1.5 .3-1.6 .2-1.5 .2-1.6 .2-1.6 .2-1.5 .2-1.6 .1-1.5 .2-1.6 .1-1.6 .1-1.5 .2-1.6 .1-1.5 .1-1.6 .1-1.5 .1-1.5 .1-1.6 .1-1.5 .2-1.5 .1-1.6 .1-1.5 .1-1.6 .1-1.6 .1-1.5 .2-1.6 .1-1.6 0-1.6 0-1.6 0-1.7 0-1.6-.1-1.7 0-1.7 0-1.6 0-1.8-.1-1.7 0-1.8 0-1.7 0-1.9 0-1.8 0-1.9 0-1.9 0-2-.1-2 0-2 0-2.1 0-2.1 0-2.2 0-2.2-.1-2.3 0-2.4 0-2.4-.3-2.4-.4-2.6-.3-2.6-.3-2.7-.3-2.7-.4-2.9-.3-2.8-.4-3-.4-3-.5-3-.5-3.2-.4-3.2-.6-3.3-.5-3.4-.5-3.6-.6-3.7-.6-3.8-.9-4-.9-4.2-.9-4.3-1-4.4-1-4.6-1-4.8-1-4.8-1.1-4.9-1.2-4.8-1.3-4.7-1.4-4.5-1.6-4.2-1.6-3.4-1.9-2.4-2.1-1.7-2.2-1.1-1.6-.4-1.5 .4-1.5 .7-1.5 .8-1.4 1-1.5 1.1-1.4 1.2-1.4 1.3-1.4 1.5-1.4 1.7-1.3 1.9-1.2 1.9-1.3 1.9-1.2 2-1.1 2-1.1 1.9-1 2-1.2 2-1.1 1.9-1.1 1.9-1 1.9-1 1.9-1 2-.9 1.9-.9 1.9-.9 2-.8 1.9-.8 2-.8 1.9-.7 2-.7 1.8-.8 1.9-.6 1.8-.7 1.9-.6 1.9-.6 1.9-.6 2-.5 2-.6 1.9-.5 1.9-.4z"/><path d="M876.6 151.7l1.9-.3 1.9-.2 1.9-.2 1.9-.2 1.9-.1 1.9-.2 1.9-.1 1.9-.1 1.9-.1 1.9 0 1.9-.1 1.9 0 1.9 0 1.9 0 1.8 0 1.9 0 1.8 .1 1.9 0 1.8 .1 1.8 .1 1.9 0 1.8 .2 1.8 .1 1.8 .1 1.7 .1 1.8-.2 1.8-.2 1.7-.2 1.7-.1 1.8-.2 1.7-.2 1.7-.1 1.8-.2 1.7-.1 1.8-.2 1.7-.1 1.7-.1 1.8-.1 1.7-.1 1.8-.1 1.7-.1 1.8-.1 1.8-.1 1.8 0 1.8-.1 1.8 0 1.8 0 1.8 0 1.8 0 1.8 0 1.9-.2 1.8-.1 1.9-.2 1.8-.1 1.9-.2 1.9-.1 1.9-.2 1.9-.1 2-.2 1.9-.1 2-.2 2-.1 2.1-.2 2-.1 2.1-.1 2.1-.2 2.2-.1 2.2-.1 2.2-.2 2.3-.1 2.3-.1 2.3 0 2.4-.1 2.4-.1 2.4 0 2.5 0 2.6 0 2.7 0 2.8 0 2.9 0 2.7 .1 2.7 .2 2.7 .3 2.7 .3 2.7 .3 2.8 .3 2.7 .4 2.8 .4 2.8 .4 2.9 .5 2.9 .5 2.9 .5 2.9 .5 3 .6 3 .6 3.1 .5 3.1 .3 3.1 .3 3.1 .4 3 .5 2.9 .5 2.8 .5 2.8 .6 2.7 .7 2.4 .8 2.3 .8 2.1 .8 2 .9 1.8 .9 1.5 1 1.2 1.1 1.1 1 .9 1.4 .8 1.6 .6 1.6 .2 1.7-.3 1.6-.6 1.7-.8 1.7-1 1.6-1.2 1.6-1.3 1.6-1.5 1.6-1.5 1.5-1.6 1.5-1.6 1.4-1.6 1.5-1.6 1.4-1.8 1.3-1.7 1.3-1.9 1.3-1.8 1.3-1.9 1.2-2 1.2-2 1.2-2.1 1.1-2.2 1.1-2.6 1-2.5 1-2.5 .9-2.5 .9-2.4 .9-2.3 .8-2.4 .8-2.3 .8-2.3 .8-2.2 .7-2.2 .7-2.1 .7-2.2 .7-2.1 .5-2 .6-2.1 .5-1.9 .4-2 .5-1.9 .5-1.9 .4-1.9 .5-1.9 .4-1.8 .4-1.9 .3-1.8 .4-1.8 .3-1.7 .4-1.8 .3-1.7 .4-1.7 .3-1.6 .3-1.7 .3-1.6 .3-1.7 .3-1.6 .3-1.6 .3-1.6 .3-1.6 .3-1.5 .2-1.6 .2-1.6 .2-1.5 .2-1.6 .2-1.6 .2-1.5 .2-1.6 .1-1.6 .1-1.5 .2-1.6 .1-1.6 .1-1.5 .1-1.6 .1-1.5 .1-1.6 .1-1.5 .2-1.5 .1-1.6 .1-1.5 .1-1.6 .1-1.6 .2-1.5 .1-1.6 .1-1.6 .1-1.6 0-1.6 0-1.6 0-1.7 0-1.6 0-1.7-.1-1.7 0-1.7 0-1.7 0-1.8-.1-1.7 0-1.8 0-1.8 0-1.9 0-1.9 0-1.9 0-2 0-2 0-2.1 0-2-.1-2.2 0-2.2 0-2.2 0-2.3-.1-2.3 0-2.4-.3-2.5-.3-2.6-.3-2.6-.4-2.7-.3-2.8-.3-2.8-.4-2.9-.4-3-.4-3-.4-3-.5-3.2-.5-3.2-.5-3.3-.5-3.5-.5-3.5-.6-3.7-.6-3.9-.9-4-.9-4.2-.9-4.3-.9-4.4-1-4.7-1-4.7-1-4.9-1.2-4.9-1.1-4.8-1.3-4.7-1.4-4.6-1.5-4.3-1.7-3.4-1.8-2.5-2.1-1.7-2.2-1-1.7-.3-1.4 .4-1.5 .7-1.5 .9-1.5 1-1.4 1.1-1.5 1.2-1.4 1.4-1.3 1.5-1.4 1.7-1.3 1.9-1.3 1.9-1.2 1.9-1.2 2-1.1 1.9-1.1 2-1 2-1.2 1.9-1.1 1.9-1.1 1.9-1 1.9-1 1.9-.9 2-1 1.9-.9 1.9-.9 1.9-.8 2-.8 1.9-.8 2-.7 1.9-.7 1.9-.8 1.9-.6 1.8-.7 1.9-.6 1.9-.6 1.9-.6 2-.6 2-.5 1.9-.5 2-.4z"/><path d="M876.1 150.2l1.9-.2 1.9-.3 1.9-.2 2-.1 1.9-.2 1.9-.1 1.9-.1 1.9-.1 1.9-.1 2-.1 1.9 0 1.9 0 1.9-.1 1.8 .1 1.9 0 1.9 0 1.8 .1 1.9 0 1.8 .1 1.9 .1 1.8 .1 1.8 .1 1.9 .1 1.8 .1 1.7 .2 1.8-.2 1.8-.2 1.7-.2 1.8-.2 1.7-.1 1.8-.2 1.7-.2 1.8-.1 1.7-.1 1.7-.2 1.8-.1 1.7-.1 1.8-.1 1.8-.1 1.7-.1 1.8-.1 1.8-.1 1.7-.1 1.8 0 1.8-.1 1.8 0 1.8 0 1.9 0 1.8 0 1.8 0 1.9-.1 1.8-.2 1.9-.2 1.9-.1 1.8-.2 1.9-.1 1.9-.2 2-.1 1.9-.1 2-.2 2-.1 2-.2 2-.1 2.1-.2 2.1-.1 2.1-.1 2.2-.2 2.2-.1 2.2-.1 2.2-.1 2.3-.1 2.4-.1 2.3-.1 2.4 0 2.5-.1 2.5 .1 2.6 0 2.7 0 2.8-.1 2.8 0 2.8 .1 2.7 .2 2.7 .2 2.7 .3 2.7 .3 2.8 .3 2.7 .4 2.9 .4 2.8 .4 2.9 .4 2.8 .5 3 .5 2.9 .5 3 .5 3.1 .6 3.1 .5 3.1 .3 3.2 .3 3.1 .4 3 .4 3 .4 2.8 .6 2.8 .6 2.7 .6 2.5 .7 2.3 .8 2.2 .8 2 .9 1.8 .9 1.5 1 1.2 1 1.1 1 .9 1.4 .8 1.6 .6 1.6 .2 1.7-.4 1.7-.6 1.6-.8 1.7-1 1.6-1.2 1.7-1.4 1.6-1.5 1.5-1.5 1.6-1.6 1.5-1.7 1.4-1.6 1.4-1.7 1.4-1.7 1.4-1.9 1.3-1.8 1.3-1.9 1.3-1.9 1.2-2 1.2-2 1.2-2.1 1.1-2.2 1.1-2.6 1-2.5 1-2.5 .9-2.4 .9-2.4 .9-2.4 .8-2.3 .9-2.3 .7-2.3 .8-2.2 .8-2.2 .7-2.1 .7-2.2 .6-2.1 .6-2 .5-2 .5-2 .5-2 .5-1.9 .5-1.9 .4-1.9 .4-1.9 .4-1.8 .4-1.9 .4-1.8 .4-1.8 .3-1.8 .4-1.7 .3-1.7 .4-1.7 .3-1.7 .3-1.7 .3-1.6 .3-1.7 .3-1.6 .3-1.6 .3-1.6 .3-1.6 .3-1.5 .2-1.6 .2-1.6 .2-1.6 .2-1.5 .2-1.6 .2-1.6 .2-1.6 .1-1.5 .2-1.6 .1-1.6 .1-1.6 .1-1.5 .1-1.6 .1-1.5 .1-1.6 .2-1.5 .1-1.6 .1-1.5 .1-1.6 .1-1.6 .2-1.5 .1-1.6 .1-1.6 .1-1.6 .1-1.6 0-1.6 0-1.7 0-1.6 0-1.7 0-1.6 0-1.7-.1-1.7 0-1.8 0-1.7 0-1.8-.1-1.8 0-1.8 0-1.9 0-1.9 0-1.9 0-2 0-2 0-2.1 0-2.1 0-2.1-.1-2.2 0-2.3 0-2.3 0-2.3-.1-2.4-.3-2.5-.3-2.6-.3-2.6-.3-2.7-.3-2.8-.4-2.9-.3-2.9-.4-2.9-.4-3-.4-3.1-.5-3.2-.5-3.2-.5-3.4-.5-3.4-.5-3.6-.6-3.7-.6-3.9-.9-4-.8-4.2-1-4.3-.9-4.5-.9-4.6-1-4.8-1.1-4.9-1.1-4.9-1.1-4.8-1.3-4.8-1.4-4.7-1.5-4.3-1.6-3.5-1.8-2.4-2.1-1.7-2.2-1.1-1.7-.2-1.4 .4-1.5 .8-1.5 .9-1.5 1-1.5 1.2-1.4 1.3-1.4 1.4-1.4 1.5-1.3 1.7-1.3 1.9-1.3 1.9-1.2 1.9-1.2 2-1.1 1.9-1.1 2-1 1.9-1.2 1.9-1.1 1.9-1 1.9-1.1 1.9-1 1.9-.9 2-1 1.9-.9 1.9-.8 1.9-.9 1.9-.8 2-.8 2-.7 1.9-.7 1.9-.8 1.8-.6 1.9-.7 1.8-.6 1.9-.6 2-.6 2-.6 2-.5 1.9-.5 2-.4z"/><path d="M875.6 148.7l2-.2 1.9-.3 1.9-.2 1.9-.1 2-.2 1.9-.1 1.9-.1 2-.1 1.9-.1 1.9 0 1.9-.1 1.9 0 1.9 0 1.9 0 1.9 .1 1.9 0 1.9 .1 1.8 0 1.9 .1 1.8 .1 1.9 .1 1.8 .1 1.8 .1 1.9 .2 1.7 .1 1.8-.2 1.8-.2 1.8-.1 1.7-.2 1.8-.2 1.7-.1 1.8-.2 1.7-.1 1.8-.2 1.7-.1 1.8-.1 1.8-.1 1.7-.1 1.8-.1 1.7-.1 1.8-.1 1.8-.1 1.8 0 1.8-.1 1.8 0 1.8-.1 1.8 0 1.8 0 1.9 0 1.8 .1 1.9-.2 1.8-.2 1.9-.1 1.9-.2 1.9-.1 1.9-.2 1.9-.1 1.9-.2 1.9-.1 2-.2 2-.1 2-.1 2.1-.2 2-.1 2.1-.2 2.2-.1 2.1-.1 2.2-.2 2.2-.1 2.3-.1 2.3-.1 2.3 0 2.4-.1 2.4-.1 2.4 0 2.6 0 2.5 0 2.7 0 2.8-.1 2.9 0 2.8 .1 2.7 .2 2.7 .2 2.7 .2 2.7 .3 2.8 .3 2.8 .4 2.8 .3 2.8 .4 2.9 .4 2.9 .5 3 .5 2.9 .5 3 .5 3.1 .6 3.2 .5 3.1 .2 3.2 .3 3.2 .3 3.1 .4 2.9 .4 2.9 .5 2.9 .6 2.7 .6 2.5 .7 2.3 .7 2.2 .8 2 .9 1.8 .9 1.6 .9 1.2 1 1 1 1 1.4 .8 1.6 .6 1.6 .1 1.7-.3 1.7-.6 1.7-.9 1.6-1 1.7-1.3 1.6-1.4 1.6-1.5 1.6-1.6 1.5-1.6 1.5-1.7 1.5-1.6 1.4-1.8 1.4-1.7 1.4-1.9 1.3-1.8 1.3-1.9 1.2-2 1.3-1.9 1.2-2.1 1.2-2.1 1.1-2.2 1.1-2.6 1-2.5 1-2.5 .9-2.4 .9-2.4 .9-2.3 .8-2.4 .9-2.3 .8-2.2 .7-2.2 .8-2.2 .7-2.1 .7-2.2 .7-2.1 .5-2 .6-2 .5-2 .5-2 .5-1.9 .4-1.9 .5-1.9 .4-1.9 .4-1.8 .4-1.9 .4-1.8 .4-1.8 .3-1.8 .4-1.7 .3-1.8 .4-1.7 .3-1.7 .3-1.6 .3-1.7 .4-1.6 .3-1.7 .2-1.6 .3-1.6 .3-1.6 .3-1.6 .2-1.5 .3-1.6 .2-1.6 .2-1.6 .2-1.6 .1-1.5 .2-1.6 .1-1.6 .2-1.6 .1-1.6 .1-1.6 .1-1.5 .1-1.6 .2-1.6 .1-1.5 .1-1.6 .1-1.5 .1-1.6 .1-1.5 .2-1.6 .1-1.6 .1-1.6 .1-1.6 .1-1.6 .1-1.6 0-1.6 0-1.7 0-1.6 0-1.7 0-1.7 0-1.7 0-1.7-.1-1.7 0-1.8 0-1.8 0-1.8 0-1.8-.1-1.9 0-1.9 0-1.9 0-2 0-2 0-2.1 0-2.1 0-2.2 0-2.2-.1-2.2 0-2.3 0-2.4 0-2.4-.3-2.5-.3-2.6-.4-2.6-.3-2.8-.3-2.8-.3-2.8-.3-2.9-.4-3-.4-3-.4-3.1-.5-3.2-.5-3.3-.5-3.3-.5-3.5-.5-3.5-.6-3.8-.6-3.9-.9-4-.8-4.2-.9-4.3-.9-4.5-1-4.7-1-4.8-1-4.9-1.1-5-1.1-4.8-1.3-4.8-1.4-4.7-1.4-4.4-1.6-3.5-1.9-2.5-2-1.7-2.2-1-1.7-.2-1.4 .4-1.5 .9-1.6 .9-1.4 1.1-1.5 1.2-1.4 1.3-1.4 1.4-1.4 1.6-1.3 1.7-1.3 1.8-1.3 2-1.2 1.9-1.2 1.9-1.1 2-1.1 1.9-1 2-1.2 1.9-1.1 1.9-1 1.9-1.1 1.8-1 1.9-.9 2-1 1.9-.9 1.9-.8 1.9-.9 1.9-.8 2-.8 1.9-.7 1.9-.8 1.9-.7 1.9-.6 1.8-.7 1.9-.6 1.9-.7 2-.5 2-.6 2-.5 2-.5 1.9-.4z"/><path d="M875.2 147.2l1.9-.2 1.9-.3 2-.1 1.9-.2 2-.2 1.9-.1 1.9-.1 2-.1 1.9 0 1.9-.1 2 0 1.9 0 1.9 0 1.9 0 1.9 0 1.9 .1 1.9 0 1.9 .1 1.8 .1 1.9 .1 1.8 .1 1.9 .2 1.8 .1 1.8 .1 1.8 .2 1.8-.2 1.8-.2 1.8-.2 1.8-.1 1.7-.2 1.8-.2 1.7-.1 1.8-.2 1.8-.1 1.7-.1 1.8-.1 1.8-.1 1.7-.1 1.8-.1 1.8-.1 1.8-.1 1.7-.1 1.8 0 1.8-.1 1.9 0 1.8 0 1.8 0 1.8 0 1.9 0 1.8 0 1.9-.2 1.8-.1 1.9-.2 1.9-.2 1.9-.1 1.9-.1 1.9-.2 1.9-.1 2-.2 2-.1 2-.2 2-.1 2-.2 2.1-.1 2.1-.1 2.1-.2 2.2-.1 2.2-.1 2.2-.1 2.3-.1 2.3-.1 2.3-.1 2.4-.1 2.4 0 2.4-.1 2.5 0 2.6 0 2.7 0 2.8-.1 2.8 0 2.8 .1 2.7 .1 2.7 .2 2.8 .3 2.7 .2 2.8 .3 2.8 .4 2.8 .3 2.9 .4 2.9 .4 2.9 .4 3 .5 3 .5 3 .5 3.1 .5 3.2 .5 3.2 .2 3.2 .2 3.2 .3 3.1 .4 3 .4 2.9 .5 2.9 .5 2.7 .6 2.6 .6 2.3 .8 2.2 .7 2.1 .9 1.8 .8 1.5 1 1.3 .9 1 1 .9 1.4 .9 1.6 .6 1.6 .1 1.7-.3 1.7-.7 1.7-.9 1.7-1 1.6-1.3 1.7-1.4 1.6-1.6 1.5-1.6 1.6-1.7 1.5-1.7 1.4-1.7 1.5-1.7 1.4-1.8 1.3-1.9 1.4-1.9 1.3-1.9 1.2-1.9 1.2-2 1.2-2.1 1.2-2.1 1.2-2.3 1.1-2.5 1-2.5 .9-2.4 1-2.5 .9-2.4 .9-2.3 .8-2.3 .9-2.3 .8-2.2 .8-2.2 .7-2.2 .7-2.1 .7-2.2 .7-2.1 .6-2 .5-2 .5-2 .5-2 .5-1.9 .5-1.9 .4-1.9 .5-1.9 .4-1.8 .4-1.9 .4-1.8 .4-1.9 .3-1.7 .4-1.8 .3-1.7 .4-1.7 .3-1.7 .3-1.7 .3-1.7 .4-1.6 .3-1.6 .3-1.7 .2-1.6 .3-1.6 .3-1.6 .2-1.6 .3-1.5 .2-1.6 .2-1.6 .2-1.6 .2-1.6 .1-1.6 .2-1.6 .1-1.6 .1-1.6 .1-1.6 .1-1.5 .2-1.6 .1-1.6 .1-1.5 .1-1.6 .1-1.6 .1-1.5 .2-1.6 .1-1.6 .1-1.6 .1-1.5 .1-1.7 .1-1.6 .1-1.6 .1-1.6 0-1.7 0-1.6 0-1.7-.1-1.7 0-1.7 0-1.7 0-1.8-.1-1.7 0-1.8 0-1.8 0-1.9 0-1.9 0-1.9 0-1.9-.1-2 0-2.1 0-2 0-2.1 0-2.2 0-2.2 0-2.3-.1-2.3 0-2.4 0-2.4-.3-2.5-.3-2.6-.3-2.7-.3-2.7-.3-2.8-.3-2.9-.4-2.9-.3-3-.4-3-.5-3.1-.4-3.2-.5-3.3-.5-3.3-.5-3.5-.5-3.6-.6-3.8-.6-3.9-.8-4-.9-4.2-.9-4.4-.9-4.5-.9-4.7-1-4.8-1-4.9-1.1-5-1.1-4.9-1.3-4.8-1.3-4.8-1.5-4.4-1.6-3.6-1.8-2.4-2.1-1.7-2.2-1-1.6-.3-1.5 .6-1.5 .8-1.5 1-1.5 1.2-1.4 1.2-1.5 1.3-1.4 1.5-1.3 1.5-1.4 1.8-1.2 1.8-1.3 1.9-1.2 2-1.2 1.9-1.1 1.9-1.1 2-1 1.9-1.1 1.9-1.2 1.9-1 1.9-1.1 1.8-1 1.9-.9 1.9-1 1.9-.9 1.9-.8 1.9-.9 2-.8 1.9-.8 2-.7 1.9-.8 1.9-.7 1.8-.7 1.9-.6 1.9-.7 1.9-.6 2-.5 2-.6 2-.5 2-.5 1.9-.5z"/><path d="M874.7 145.7l1.9-.2 2-.2 1.9-.2 2-.2 1.9-.1 2-.1 1.9-.1 2-.1 1.9-.1 2 0 1.9 0 2-.1 1.9 .1 1.9 0 1.9 0 1.9 .1 1.9 0 1.9 .1 1.9 .1 1.8 .1 1.9 .2 1.9 .1 1.8 .1 1.8 .2 1.9 .1 1.7-.2 1.8-.1 1.8-.2 1.8-.2 1.8-.1 1.7-.2 1.8-.1 1.8-.2 1.8-.1 1.7-.1 1.8-.1 1.8-.2 1.7-.1 1.8 0 1.8-.1 1.8-.1 1.8-.1 1.8 0 1.8-.1 1.8 0 1.8 0 1.9 0 1.8 0 1.9 0 1.8 0 1.9-.1 1.8-.2 1.9-.2 1.9-.1 1.9-.2 1.9-.1 1.9-.2 2-.1 1.9-.1 2-.2 2-.1 2-.2 2.1-.1 2-.2 2.1-.1 2.2-.1 2.1-.2 2.2-.1 2.3-.1 2.2-.1 2.3-.1 2.4-.1 2.3 0 2.4-.1 2.5 0 2.5 0 2.6-.1 2.7 0 2.8-.1 2.8 0 2.8 .1 2.7 .1 2.7 .2 2.7 .2 2.8 .3 2.8 .2 2.8 .4 2.8 .3 2.9 .3 2.9 .4 3 .4 3 .5 3 .4 3 .5 3.2 .5 3.2 .5 3.2 .2 3.3 .2 3.2 .2 3.1 .4 3.1 .3 3 .5 2.9 .5 2.7 .6 2.6 .6 2.4 .7 2.2 .8 2 .8 1.9 .8 1.5 .9 1.3 1 1 1 .9 1.3 .9 1.6 .6 1.6 .1 1.7-.4 1.7-.7 1.7-.8 1.7-1.1 1.7-1.4 1.6-1.4 1.6-1.6 1.6-1.7 1.5-1.7 1.5-1.7 1.5-1.7 1.4-1.7 1.4-1.9 1.4-1.9 1.3-1.9 1.3-1.9 1.3-2 1.2-2 1.2-2.1 1.2-2.1 1.1-2.2 1.1-2.6 1.1-2.5 .9-2.4 1-2.4 .9-2.4 .9-2.3 .8-2.3 .9-2.3 .8-2.2 .8-2.2 .7-2.2 .8-2.1 .7-2.2 .7-2.1 .5-2 .6-2 .5-2 .5-2 .5-1.9 .5-1.9 .4-1.9 .5-1.9 .4-1.9 .4-1.8 .4-1.9 .3-1.8 .4-1.8 .4-1.7 .3-1.8 .4-1.7 .3-1.7 .3-1.7 .3-1.6 .4-1.7 .3-1.6 .3-1.7 .3-1.6 .2-1.6 .3-1.6 .3-1.6 .2-1.6 .2-1.6 .2-1.6 .2-1.6 .2-1.6 .1-1.6 .2-1.6 .1-1.6 .1-1.6 .2-1.5 .1-1.6 .1-1.6 .1-1.6 .1-1.6 .1-1.5 .1-1.6 .2-1.6 .1-1.5 .1-1.6 .1-1.6 .1-1.6 .1-1.6 .2-1.7 .1-1.6 0-1.6 0-1.7 0-1.7 0-1.6 0-1.7-.1-1.7 0-1.8 0-1.7 0-1.8-.1-1.8 0-1.8 0-1.9 0-1.9 0-1.9 0-1.9 0-2 0-2.1 0-2.1-.1-2.1 0-2.1 0-2.3 0-2.2 0-2.4-.1-2.4 0-2.4-.3-2.5-.3-2.6-.3-2.7-.3-2.7-.3-2.8-.3-2.9-.3-3-.4-3-.4-3-.4-3.1-.4-3.2-.5-3.3-.5-3.4-.5-3.5-.5-3.6-.6-3.8-.6-3.9-.8-4-.9-4.2-.8-4.4-.9-4.5-1-4.7-.9-4.9-1-4.9-1.1-5-1.1-4.9-1.3-4.9-1.3-4.8-1.5-4.5-1.5-3.6-1.8-2.5-2.1-1.7-2.2-1-1.7-.2-1.4 .6-1.5 .9-1.5 1.1-1.5 1.1-1.5 1.3-1.4 1.4-1.4 1.4-1.4 1.6-1.3 1.7-1.3 1.9-1.2 1.9-1.2 1.9-1.2 2-1.1 1.9-1.1 1.9-1 1.9-1.1 1.9-1.1 1.9-1.1 1.9-1 1.8-1.1 1.9-.9 1.9-1 1.9-.9 1.9-.8 1.9-.9 1.9-.8 2-.8 1.9-.7 1.9-.8 1.9-.7 1.9-.7 1.8-.6 1.9-.7 1.9-.6 2-.5 2-.6 2.1-.5 2-.5 2-.5z"/><path d="M874.2 144.2l2-.2 1.9-.2 2-.2 2-.2 1.9-.1 2-.1 2-.1 1.9-.1 2 0 1.9-.1 2 0 1.9 0 2 0 1.9 .1 1.9 0 1.9 .1 1.9 0 1.9 .1 1.9 .1 1.9 .1 1.9 .2 1.8 .1 1.9 .2 1.8 .1 1.8 .2 1.9-.2 1.8-.2 1.7-.2 1.8-.1 1.8-.2 1.8-.1 1.8-.2 1.8-.1 1.7-.1 1.8-.1 1.8-.2 1.8-.1 1.8-.1 1.7-.1 1.8 0 1.8-.1 1.8-.1 1.8 0 1.9-.1 1.8 0 1.8 0 1.8 0 1.9 0 1.8 0 1.9 .1 1.9-.2 1.8-.2 1.9-.1 1.9-.2 1.9-.1 1.9-.2 2-.1 1.9-.2 2-.1 1.9-.2 2-.1 2.1-.2 2-.1 2.1-.1 2.1-.2 2.1-.1 2.2-.1 2.2-.1 2.2-.2 2.3-.1 2.3 0 2.3-.1 2.4-.1 2.4 0 2.4-.1 2.6 0 2.5 0 2.7-.1 2.8-.1 2.9 0 2.7 0 2.8 .2 2.7 .1 2.7 .3 2.8 .2 2.8 .3 2.8 .2 2.9 .3 2.9 .4 2.9 .3 3 .4 3 .5 3 .4 3.1 .5 3.2 .5 3.2 .4 3.3 .2 3.3 .1 3.2 .3 3.2 .3 3.1 .3 3 .4 2.9 .5 2.8 .5 2.6 .7 2.4 .6 2.2 .8 2.1 .7 1.9 .9 1.5 .9 1.3 .9 1 1 .9 1.3 .9 1.6 .6 1.6 .1 1.7-.4 1.7-.7 1.7-.9 1.7-1.1 1.7-1.4 1.7-1.5 1.6-1.6 1.6-1.7 1.5-1.7 1.5-1.7 1.5-1.8 1.4-1.8 1.4-1.8 1.4-1.9 1.3-2 1.3-2 1.3-2 1.2-2 1.2-2.1 1.2-2.1 1.1-2.2 1.1-2.5 1-2.5 1-2.5 1-2.4 .9-2.4 .9-2.3 .8-2.3 .9-2.2 .8-2.2 .8-2.2 .8-2.2 .7-2.1 .7-2.2 .7-2 .6-2.1 .5-2 .5-2 .5-2 .5-1.9 .5-1.9 .5-1.9 .4-1.9 .5-1.9 .4-1.8 .3-1.9 .4-1.8 .4-1.8 .4-1.7 .3-1.8 .4-1.7 .3-1.7 .3-1.7 .3-1.7 .4-1.7 .3-1.6 .3-1.6 .3-1.7 .3-1.6 .2-1.6 .3-1.6 .2-1.6 .2-1.6 .2-1.6 .2-1.6 .2-1.6 .2-1.6 .1-1.6 .1-1.6 .2-1.6 .1-1.6 .1-1.6 .1-1.6 .1-1.6 .1-1.6 .1-1.6 .1-1.5 .2-1.6 .1-1.6 .1-1.6 .1-1.6 .2-1.6 .1-1.6 .1-1.6 .1-1.7 0-1.6 0-1.7 0-1.7 0-1.7 0-1.7 0-1.7-.1-1.7 0-1.8 0-1.8 0-1.8-.1-1.8 0-1.9 0-1.8 0-2 0-1.9 0-2.1 0-2 0-2.1 0-2.1-.1-2.2 0-2.2 0-2.3 0-2.3 0-2.4-.1-2.5-.3-2.5-.2-2.6-.3-2.7-.3-2.8-.3-2.8-.3-2.9-.4-2.9-.3-3.1-.4-3-.4-3.1-.5-3.3-.4-3.3-.5-3.3-.5-3.5-.5-3.7-.6-3.7-.6-4-.8-4-.8-4.3-.9-4.3-.9-4.6-.9-4.7-1-4.9-1-4.9-1-5-1.2-5-1.2-5-1.3-4.8-1.4-4.5-1.6-3.6-1.8-2.5-2-1.7-2.2-1-1.7-.2-1.4 .6-1.5 1-1.6 1.1-1.5 1.2-1.4 1.3-1.4 1.4-1.4 1.5-1.4 1.6-1.3 1.7-1.3 1.9-1.2 1.9-1.2 1.9-1.2 1.9-1.1 1.9-1.1 1.9-1 2-1.1 1.9-1.1 1.8-1.1 1.9-1 1.8-1 1.9-1 1.9-1 1.9-.9 1.9-.8 1.9-.9 1.9-.8 1.9-.8 2-.7 1.9-.8 1.8-.7 1.9-.7 1.9-.6 1.9-.7 1.9-.6 2-.6 2-.5 2.1-.5 2-.5 2-.5z"/><path d="M873.7 142.7l2-.2 2-.2 1.9-.2 2-.2 2-.1 2-.1 2-.1 1.9-.1 2 0 2 0 1.9 0 2 0 1.9 0 2 0 1.9 .1 1.9 0 1.9 .1 1.9 .1 1.9 .1 1.9 .2 1.9 .1 1.9 .1 1.9 .2 1.8 .2 1.8 .1 1.9-.2 1.8-.1 1.8-.2 1.8-.2 1.8-.1 1.8-.2 1.7-.1 1.8-.1 1.8-.2 1.8-.1 1.8-.1 1.8-.1 1.8-.1 1.8-.1 1.8 0 1.8-.1 1.8-.1 1.8 0 1.8-.1 1.8 0 1.9 0 1.8 0 1.9 0 1.8 .1 1.9 0 1.9-.2 1.8-.2 1.9-.1 1.9-.2 1.9-.1 2-.2 1.9-.1 1.9-.1 2-.2 2-.1 2-.2 2-.1 2.1-.2 2.1-.1 2.1-.1 2.1-.2 2.2-.1 2.2-.1 2.2-.1 2.3-.1 2.3-.1 2.3-.1 2.4 0 2.4-.1 2.4 0 2.5-.1 2.6 0 2.7-.1 2.8-.1 2.8 0 2.8 0 2.7 .1 2.8 .2 2.7 .2 2.8 .2 2.8 .3 2.8 .2 2.9 .3 2.9 .3 3 .4 2.9 .4 3.1 .4 3 .4 3.1 .4 3.2 .5 3.3 .4 3.3 .1 3.3 .2 3.3 .2 3.2 .2 3.2 .4 3 .4 2.9 .4 2.9 .5 2.6 .6 2.4 .7 2.3 .7 2.1 .7 1.8 .8 1.6 .9 1.3 .9 1 .9 .9 1.3 .9 1.7 .6 1.6 .1 1.7-.5 1.8-.7 1.7-.9 1.7-1.1 1.6-1.4 1.7-1.6 1.6-1.6 1.6-1.7 1.5-1.8 1.6-1.7 1.4-1.8 1.5-1.8 1.4-1.9 1.3-1.9 1.4-2 1.3-2 1.2-2 1.3-2.1 1.2-2 1.1-2.2 1.2-2.2 1.1-2.5 1-2.5 1-2.5 .9-2.4 1-2.3 .9-2.3 .8-2.3 .9-2.3 .8-2.2 .8-2.1 .8-2.2 .7-2.1 .7-2.1 .7-2.1 .6-2.1 .6-2 .5-2 .5-1.9 .5-2 .5-1.9 .4-1.9 .5-1.9 .4-1.9 .4-1.8 .4-1.9 .4-1.8 .4-1.8 .3-1.8 .4-1.7 .3-1.8 .4-1.7 .3-1.7 .3-1.7 .4-1.6 .3-1.7 .3-1.6 .3-1.7 .3-1.6 .3-1.6 .2-1.6 .2-1.6 .2-1.6 .2-1.6 .2-1.6 .2-1.7 .2-1.6 .1-1.6 .2-1.6 .1-1.6 .1-1.6 .1-1.6 .1-1.6 .1-1.6 .1-1.6 .1-1.6 .2-1.6 .1-1.6 .1-1.5 .1-1.6 .1-1.7 .2-1.6 .1-1.6 .1-1.6 .1-1.7 0-1.6 0-1.7 0-1.7 0-1.7 0-1.7 0-1.7 0-1.8-.1-1.7 0-1.8 0-1.8 0-1.9-.1-1.8 0-1.9 0-2 0-2 0-2 0-2 0-2.1 0-2.2 0-2.1-.1-2.3 0-2.3 0-2.3 0-2.4 0-2.5-.3-2.5-.3-2.6-.3-2.7-.3-2.8-.3-2.8-.3-3-.3-2.9-.3-3-.4-3.1-.4-3.2-.5-3.2-.4-3.3-.5-3.4-.5-3.5-.5-3.6-.6-3.8-.6-4-.8-4.1-.8-4.2-.9-4.4-.9-4.5-.9-4.8-.9-4.9-1-5-1-5-1.2-4.9-1.2-5.1-1.3-4.9-1.4-4.5-1.5-3.7-1.8-2.5-2.1-1.7-2.1-1-1.7-.1-1.4 .6-1.6 1.1-1.5 1.1-1.5 1.3-1.5 1.3-1.4 1.4-1.4 1.5-1.3 1.6-1.3 1.8-1.3 1.9-1.2 1.9-1.2 1.9-1.2 1.9-1.1 1.9-1.1 1.9-1 1.9-1.1 1.9-1.1 1.8-1.1 1.9-1 1.8-1 1.9-1 1.9-.9 1.8-1 1.9-.8 1.9-.9 1.9-.8 2-.8 1.9-.7 1.9-.8 1.9-.7 1.8-.7 1.9-.7 1.9-.6 2-.6 2-.6 2-.5 2-.5 2.1-.5 2-.5z"/><path d="M873.3 141.2l1.9-.3 2-.1 2-.2 2-.2 2-.1 2-.1 2-.1 1.9 0 2-.1 2 0 2 0 1.9 0 2 .1 1.9 0 2 .1 1.9 0 1.9 .1 2 .1 1.9 .1 1.9 .2 1.9 .1 1.9 .2 1.8 .1 1.9 .2 1.8 .2 1.9-.2 1.8-.2 1.8-.1 1.8-.2 1.8-.2 1.8-.1 1.8-.1 1.8-.2 1.8-.1 1.8-.1 1.8-.1 1.8-.1 1.8-.1 1.8-.1 1.8 0 1.8-.1 1.8-.1 1.8 0 1.9-.1 1.8 0 1.9 0 1.8 0 1.9 0 1.8 .1 1.9 0 1.9-.2 1.9-.1 1.8-.2 1.9-.1 2-.2 1.9-.1 1.9-.2 2-.1 1.9-.2 2-.1 2-.2 2.1-.1 2-.1 2.1-.2 2.1-.1 2.2-.1 2.1-.2 2.2-.1 2.3-.1 2.2-.1 2.3-.1 2.4 0 2.3-.1 2.4-.1 2.5 0 2.5 0 2.6-.1 2.7-.1 2.8-.1 2.8 0 2.8 0 2.7 .1 2.7 .1 2.8 .2 2.8 .2 2.8 .3 2.8 .2 2.9 .3 3 .3 2.9 .3 3 .4 3.1 .4 3.1 .4 3.1 .4 3.2 .5 3.3 .4 3.4 0 3.3 .1 3.3 .2 3.3 .2 3.1 .3 3.1 .4 3 .4 2.9 .5 2.6 .6 2.5 .6 2.2 .7 2.1 .7 1.9 .8 1.6 .8 1.3 .9 1 .9 .9 1.3 .9 1.7 .6 1.6 0 1.7-.4 1.8-.7 1.7-1 1.7-1.1 1.7-1.5 1.6-1.5 1.7-1.7 1.6-1.8 1.5-1.7 1.5-1.8 1.5-1.8 1.4-1.9 1.4-1.9 1.4-1.9 1.3-2 1.3-2.1 1.3-2 1.2-2 1.2-2.1 1.2-2.2 1.2-2.2 1.1-2.5 1-2.5 1-2.4 .9-2.4 1-2.4 .9-2.3 .8-2.2 .9-2.3 .8-2.2 .8-2.1 .8-2.2 .7-2.1 .8-2.1 .7-2.1 .5-2.1 .6-2 .5-2 .5-1.9 .6-2 .4-1.9 .5-1.9 .5-1.9 .4-1.9 .4-1.8 .4-1.9 .4-1.8 .4-1.8 .3-1.8 .4-1.8 .3-1.7 .4-1.7 .3-1.7 .3-1.7 .4-1.7 .3-1.7 .3-1.6 .3-1.7 .3-1.6 .3-1.6 .2-1.6 .2-1.6 .3-1.6 .2-1.7 .2-1.6 .1-1.6 .2-1.6 .1-1.7 .2-1.6 .1-1.6 .1-1.6 .1-1.6 .1-1.6 .1-1.6 .1-1.6 .2-1.6 .1-1.6 .1-1.6 .1-1.6 .1-1.6 .2-1.6 .1-1.6 .1-1.7 .1-1.6 .1-1.7 0-1.6 0-1.7 0-1.7 0-1.7 0-1.7 0-1.8 0-1.7-.1-1.8 0-1.8 0-1.8 0-1.8 0-1.9-.1-1.9 0-2 0-2 0-2 0-2 0-2.1 0-2.2 0-2.2 0-2.2-.1-2.3 0-2.4 0-2.4 0-2.5-.3-2.5-.3-2.7-.2-2.7-.3-2.7-.3-2.9-.3-2.9-.3-3-.4-3-.4-3.1-.4-3.2-.4-3.2-.5-3.3-.4-3.4-.5-3.6-.5-3.6-.6-3.8-.6-4-.8-4.1-.8-4.2-.8-4.4-.9-4.6-.9-4.8-.9-4.9-1-5-1-5-1.2-5-1.2-5.1-1.3-4.9-1.3-4.7-1.6-3.7-1.8-2.5-2-1.7-2.2-.9-1.6-.1-1.5 .7-1.5 1-1.5 1.2-1.5 1.3-1.5 1.4-1.4 1.4-1.4 1.6-1.4 1.6-1.3 1.8-1.2 1.8-1.3 1.9-1.2 1.9-1.1 1.9-1.1 1.9-1.1 1.9-1 1.9-1.1 1.9-1.1 1.8-1.1 1.9-1 1.8-1 1.9-1 1.8-.9 1.9-1 1.9-.8 1.9-.9 1.9-.8 1.9-.8 1.9-.8 1.9-.7 1.9-.7 1.9-.7 1.9-.7 1.9-.6 1.9-.6 2-.6 2.1-.5 2-.5 2.1-.5 2-.5z"/><path d="M872.8 139.6l2-.2 2-.1 2-.2 2-.1 2-.2 2-.1 2 0 2-.1 1.9 0 2 0 2 0 2 0 2 0 1.9 .1 2 0 1.9 .1 1.9 .1 2 .1 1.9 .1 1.9 .2 1.9 .1 1.9 .2 1.9 .2 1.9 .1 1.8 .2 1.9-.2 1.8-.1 1.8-.2 1.8-.1 1.8-.2 1.9-.1 1.8-.2 1.8-.1 1.8-.1 1.8-.1 1.8-.1 1.8-.1 1.8-.1 1.8-.1 1.8-.1 1.8 0 1.9-.1 1.8 0 1.8 0 1.9-.1 1.8 0 1.9 0 1.8 .1 1.9 0 1.9 0 1.9-.1 1.9-.2 1.9-.2 1.9-.1 1.9-.2 1.9-.1 1.9-.2 2-.1 2-.1 2-.2 2-.1 2-.2 2.1-.1 2.1-.1 2.1-.2 2.1-.1 2.2-.1 2.2-.1 2.2-.1 2.3-.1 2.3-.1 2.3-.1 2.4-.1 2.4 0 2.5-.1 2.5 0 2.5-.1 2.7 0 2.8-.2 2.9 0 2.7 0 2.8 .1 2.7 .1 2.8 .2 2.8 .1 2.8 .3 2.8 .2 3 .2 2.9 .3 3 .3 3 .4 3.1 .3 3.1 .4 3.2 .5 3.2 .4 3.3 .4 3.4 0 3.4 .1 3.3 .1 3.3 .2 3.2 .3 3.1 .3 3.1 .4 2.9 .5 2.6 .5 2.5 .6 2.3 .7 2.1 .7 1.9 .7 1.6 .9 1.3 .8 1 .9 .9 1.3 .9 1.7 .6 1.6 0 1.8-.4 1.7-.8 1.7-.9 1.7-1.2 1.7-1.5 1.7-1.6 1.6-1.7 1.6-1.8 1.6-1.8 1.5-1.8 1.5-1.8 1.4-1.9 1.4-1.9 1.4-2 1.3-2.1 1.3-2 1.3-2 1.2-2.1 1.2-2.1 1.2-2.2 1.1-2.2 1.1-2.5 1.1-2.5 .9-2.4 1-2.4 .9-2.3 .9-2.3 .9-2.3 .9-2.2 .8-2.2 .8-2.1 .8-2.2 .8-2.1 .7-2.1 .7-2.1 .6-2 .5-2.1 .6-1.9 .5-2 .5-1.9 .5-2 .5-1.9 .4-1.9 .5-1.9 .4-1.8 .4-1.9 .4-1.9 .3-1.8 .4-1.7 .4-1.8 .3-1.7 .4-1.8 .3-1.7 .3-1.7 .4-1.7 .3-1.6 .3-1.7 .3-1.6 .3-1.7 .3-1.6 .2-1.6 .2-1.7 .3-1.6 .2-1.6 .2-1.6 .1-1.7 .2-1.6 .2-1.6 .1-1.7 .1-1.6 .1-1.6 .1-1.6 .1-1.6 .1-1.6 .2-1.6 .1-1.6 .1-1.6 .1-1.6 .1-1.7 .2-1.6 .1-1.6 .1-1.6 .1-1.6 .1-1.7 .1-1.7 .1-1.6 0-1.7 0-1.7 0-1.7-.1-1.8 0-1.7 0-1.8 0-1.7-.1-1.8 0-1.9 0-1.8 0-1.9 0-1.9 0-2 0-2-.1-2 0-2.1 0-2.1 0-2.1 0-2.2 0-2.3 0-2.3-.1-2.4 0-2.4 0-2.5-.3-2.5-.2-2.7-.3-2.7-.3-2.8-.3-2.9-.3-2.9-.3-3-.3-3-.4-3.1-.4-3.2-.4-3.2-.5-3.4-.4-3.4-.5-3.5-.5-3.7-.6-3.8-.6-4-.8-4.1-.8-4.2-.8-4.5-.9-4.5-.9-4.8-.9-5-.9-5-1.1-5.1-1.1-5-1.2-5.1-1.2-5-1.4-4.7-1.5-3.7-1.8-2.6-2-1.6-2.2-1-1.7-.1-1.4 .8-1.5 1.1-1.6 1.2-1.5 1.3-1.4 1.5-1.5 1.4-1.3 1.6-1.4 1.7-1.3 1.7-1.3 1.9-1.2 1.9-1.2 1.9-1.1 1.9-1.1 1.9-1.1 1.9-1 1.8-1.1 1.9-1.1 1.8-1.1 1.9-1 1.8-1 1.8-1 1.9-.9 1.9-1 1.8-.8 1.9-.9 1.9-.8 1.9-.8 2-.8 1.9-.7 1.8-.7 1.9-.7 1.9-.7 1.9-.6 2-.6 2-.6 2-.5 2.1-.5 2.1-.5 2-.5z"/><path d="M872.3 138.1l2-.2 2-.1 2-.2 2-.1 2-.1 2-.1 2.1-.1 2-.1 2 0 2 0 2 0 1.9 0 2 .1 2 0 2 .1 1.9 .1 2 .1 1.9 .1 1.9 .1 2 .2 1.9 .1 1.9 .2 1.9 .2 1.9 .2 1.8 .2 1.9-.2 1.8-.2 1.9-.1 1.8-.2 1.8-.1 1.8-.2 1.8-.1 1.8-.1 1.9-.1 1.8-.1 1.8-.1 1.8-.1 1.8-.1 1.8-.1 1.9-.1 1.8 0 1.8-.1 1.8 0 1.9 0 1.8-.1 1.9 0 1.9 .1 1.8 0 1.9 0 1.9 .1 1.9-.2 1.9-.2 1.9-.1 1.9-.2 1.9-.1 1.9-.2 2-.1 1.9-.2 2-.1 2-.2 2-.1 2.1-.1 2-.2 2.1-.1 2.1-.1 2.2-.2 2.2-.1 2.2-.1 2.2-.1 2.3-.1 2.3-.1 2.3-.1 2.4 0 2.4-.1 2.4 0 2.5-.1 2.6 0 2.7-.1 2.8-.2 2.8 0 2.8 0 2.7 0 2.8 .1 2.7 .2 2.8 .2 2.9 .2 2.9 .2 2.9 .2 3 .3 3 .3 3 .3 3.1 .3 3.1 .4 3.2 .4 3.3 .4 3.3 .4 3.5 0 3.4 0 3.4 .1 3.3 .2 3.2 .3 3.2 .3 3 .3 2.9 .5 2.8 .5 2.4 .5 2.4 .7 2.1 .7 1.9 .7 1.6 .8 1.3 .9 1 .8 1 1.3 .8 1.7 .6 1.6 0 1.8-.4 1.7-.8 1.7-1 1.7-1.2 1.7-1.5 1.7-1.6 1.6-1.8 1.6-1.8 1.6-1.8 1.5-1.9 1.5-1.9 1.5-1.9 1.4-1.9 1.3-2 1.4-2.1 1.3-2 1.2-2.1 1.3-2.1 1.2-2.1 1.1-2.2 1.2-2.2 1.1-2.5 1-2.5 1-2.4 1-2.4 .9-2.3 .9-2.3 .9-2.2 .9-2.2 .8-2.2 .8-2.1 .8-2.2 .8-2.1 .7-2.1 .7-2.1 .6-2 .6-2 .5-2 .6-2 .5-1.9 .5-1.9 .4-1.9 .5-2 .4-1.9 .5-1.8 .4-1.9 .3-1.9 .4-1.8 .4-1.8 .4-1.7 .3-1.8 .4-1.7 .3-1.7 .3-1.7 .4-1.7 .3-1.7 .3-1.7 .3-1.6 .3-1.7 .3-1.6 .2-1.6 .3-1.7 .2-1.6 .2-1.6 .2-1.7 .2-1.6 .1-1.6 .2-1.7 .1-1.6 .1-1.7 .1-1.6 .1-1.6 .1-1.6 .2-1.7 .1-1.6 .1-1.6 .1-1.6 .1-1.6 .1-1.6 .2-1.6 .1-1.6 .1-1.7 .1-1.6 .1-1.7 .1-1.7 .1-1.6 0-1.7 0-1.7 0-1.8 0-1.7-.1-1.7 0-1.8 0-1.8 0-1.8-.1-1.8 0-1.9 0-1.9 0-1.9 0-2 0-2 0-2 0-2.1-.1-2.1 0-2.2 0-2.2 0-2.2 0-2.4 0-2.3-.1-2.5 0-2.5-.2-2.6-.3-2.6-.3-2.7-.2-2.8-.3-2.9-.3-3-.3-3-.4-3-.3-3.1-.4-3.2-.4-3.3-.5-3.3-.5-3.5-.4-3.5-.5-3.7-.6-3.8-.6-4-.7-4.1-.8-4.3-.9-4.4-.8-4.6-.9-4.8-.9-5-1-5-1-5.1-1.1-5.1-1.2-5.1-1.2-5.1-1.4-4.7-1.5-3.8-1.7-2.5-2-1.7-2.2-.9-1.7-.1-1.4 .8-1.6 1.1-1.5 1.3-1.5 1.4-1.5 1.5-1.4 1.5-1.4 1.5-1.3 1.7-1.3 1.8-1.3 1.9-1.2 1.9-1.2 1.9-1.1 1.8-1.1 1.9-1.1 1.9-1 1.9-1.1 1.8-1.1 1.8-1.1 1.8-1 1.9-1 1.8-1 1.9-.9 1.8-1 1.9-.8 1.8-.9 1.9-.8 2-.8 1.9-.8 1.9-.7 1.9-.7 1.8-.7 1.9-.7 1.9-.6 2-.6 2-.6 2.1-.5 2.1-.6 2.1-.4 2-.5z"/><path d="M871.8 136.6l2-.2 2-.2 2-.1 2.1-.1 2-.1 2-.1 2-.1 2.1 0 2-.1 2 0 2 .1 2 0 2 0 2 .1 1.9 .1 2 .1 2 .1 1.9 .1 2 .1 1.9 .2 1.9 .2 1.9 .1 2 .2 1.9 .2 1.8 .2 1.9-.2 1.8-.1 1.9-.2 1.8-.1 1.8-.2 1.9-.1 1.8-.1 1.8-.2 1.8-.1 1.9-.1 1.8-.1 1.8-.1 1.8 0 1.9-.1 1.8-.1 1.8 0 1.9-.1 1.8 0 1.8 0 1.9 0 1.9 0 1.8 0 1.9 0 1.9 0 1.9 .1 1.9-.2 1.9-.1 1.9-.2 1.9-.2 1.9-.1 2-.2 1.9-.1 2-.2 2-.1 2-.1 2-.2 2-.1 2.1-.2 2.1-.1 2.1-.1 2.1-.1 2.2-.2 2.2-.1 2.3-.1 2.2-.1 2.3-.1 2.4 0 2.3-.1 2.4 0 2.5-.1 2.5 0 2.6-.1 2.7-.1 2.8-.2 2.8-.1 2.8 0 2.7 .1 2.8 .1 2.7 .1 2.8 .2 2.9 .2 2.9 .2 2.9 .2 3 .2 3 .3 3.1 .3 3.1 .3 3.2 .4 3.2 .4 3.3 .4 3.4 .3 3.4 0 3.5 0 3.4 .1 3.4 .1 3.2 .2 3.2 .3 3.1 .3 2.9 .4 2.8 .5 2.5 .6 2.3 .6 2.2 .6 1.9 .8 1.6 .7 1.3 .9 1 .8 1 1.3 .8 1.6 .6 1.7 .1 1.8-.5 1.7-.8 1.7-1.1 1.8-1.2 1.7-1.5 1.6-1.7 1.7-1.8 1.6-1.8 1.6-1.9 1.5-1.9 1.5-1.9 1.4-1.9 1.4-2 1.4-2 1.3-2.1 1.3-2.1 1.3-2 1.2-2.1 1.2-2.2 1.2-2.2 1.2-2.2 1.1-2.5 1-2.4 1-2.4 1-2.4 .9-2.3 .9-2.3 .9-2.2 .9-2.2 .8-2.2 .8-2.1 .8-2.1 .8-2.2 .8-2.1 .7-2 .6-2.1 .5-2 .6-2 .5-2 .5-1.9 .5-1.9 .5-1.9 .5-1.9 .4-1.9 .4-1.9 .4-1.9 .4-1.9 .4-1.8 .4-1.8 .4-1.8 .3-1.7 .4-1.8 .3-1.7 .3-1.7 .4-1.7 .3-1.7 .3-1.7 .3-1.6 .3-1.7 .3-1.6 .2-1.7 .3-1.6 .2-1.6 .2-1.7 .2-1.6 .2-1.7 .1-1.6 .2-1.7 .1-1.6 .1-1.6 .1-1.7 .2-1.6 .1-1.6 .1-1.7 .1-1.6 .1-1.6 .1-1.6 .1-1.6 .2-1.6 .1-1.7 .1-1.6 .1-1.7 .1-1.6 .2-1.7 .1-1.6 0-1.7 0-1.7 0-1.8 0-1.7 0-1.7 0-1.8-.1-1.8 0-1.7 0-1.9 0-1.8-.1-1.9 0-1.9 0-1.9 0-2 0-2 0-2 0-2.1 0-2.1 0-2.2-.1-2.2 0-2.3 0-2.3 0-2.4 0-2.5-.1-2.5-.2-2.6-.3-2.6-.2-2.8-.3-2.8-.3-2.9-.2-2.9-.4-3-.3-3.1-.4-3.1-.3-3.2-.5-3.3-.4-3.4-.5-3.4-.5-3.6-.5-3.7-.5-3.8-.6-4-.7-4.1-.8-4.3-.8-4.5-.9-4.6-.9-4.8-.9-5-.9-5.1-1-5.1-1.1-5-1.2-5.3-1.2-5.1-1.3-4.8-1.5-3.8-1.8-2.5-2-1.7-2.2-.9-1.6-.1-1.5 .9-1.5 1.2-1.5 1.3-1.5 1.4-1.5 1.5-1.4 1.6-1.4 1.6-1.4 1.7-1.3 1.8-1.2 1.8-1.2 1.9-1.2 1.9-1.1 1.9-1.1 1.9-1.1 1.8-1 1.9-1.1 1.8-1.1 1.8-1.1 1.8-1 1.8-1 1.9-1 1.8-.9 1.9-1 1.8-.8 1.9-.9 1.9-.8 1.9-.8 1.9-.8 1.9-.7 1.9-.7 1.9-.7 1.8-.7 2-.7 1.9-.6 2.1-.5 2.1-.6 2.1-.5 2-.5 2.1-.4z"/><path d="M871.3 135.1l2-.2 2.1-.2 2-.1 2-.1 2.1-.1 2-.1 2-.1 2.1 0 2 0 2 0 2 0 2 0 2 .1 2 .1 2 0 2 .1 2 .2 1.9 .1 2 .1 1.9 .2 2 .2 1.9 .2 1.9 .2 1.9 .2 1.9 .2 1.9-.2 1.8-.2 1.9-.1 1.8-.2 1.9-.1 1.8-.2 1.8-.1 1.9-.1 1.8-.1 1.8-.1 1.9-.1 1.8-.1 1.8-.1 1.9 0 1.8-.1 1.8 0 1.9-.1 1.8 0 1.9 0 1.9 0 1.8 0 1.9 0 1.9 0 1.9 .1 1.9 0 1.9-.2 1.9-.1 1.9-.2 1.9-.1 1.9-.2 2-.1 1.9-.2 2-.1 2-.2 2-.1 2-.2 2.1-.1 2-.1 2.1-.2 2.2-.1 2.1-.1 2.2-.1 2.2-.1 2.2-.1 2.3-.1 2.3-.1 2.3-.1 2.4-.1 2.4 0 2.5 0 2.5-.1 2.6-.1 2.6-.1 2.8-.2 2.8-.1 2.8 0 2.8 .1 2.7 0 2.8 .2 2.8 .1 2.9 .2 2.9 .1 3 .2 3 .3 3 .2 3.1 .3 3.1 .3 3.2 .4 3.2 .3 3.4 .4 3.4 .3 3.5-.1 3.5 0 3.4 .1 3.4 .1 3.3 .2 3.2 .2 3.2 .3 2.9 .4 2.8 .5 2.5 .5 2.4 .6 2.2 .6 1.9 .7 1.6 .8 1.3 .8 1.1 .8 .9 1.3 .8 1.6 .6 1.7 .1 1.8-.5 1.7-.9 1.8-1 1.7-1.3 1.7-1.6 1.7-1.6 1.6-1.9 1.6-1.8 1.6-1.9 1.5-1.9 1.5-2 1.5-1.9 1.4-2 1.4-2.1 1.3-2.1 1.3-2.1 1.2-2.1 1.3-2.1 1.2-2.2 1.2-2.1 1.1-2.3 1.1-2.5 1.1-2.4 1-2.4 .9-2.4 1-2.3 .9-2.2 .9-2.2 .9-2.2 .8-2.2 .9-2.1 .8-2.1 .7-2.1 .8-2.2 .7-2 .6-2.1 .6-2 .5-2 .6-1.9 .5-2 .5-1.9 .5-1.9 .4-1.9 .5-1.9 .4-1.9 .4-1.9 .4-1.9 .4-1.8 .4-1.8 .3-1.8 .4-1.8 .4-1.7 .3-1.7 .3-1.8 .4-1.7 .3-1.7 .3-1.6 .3-1.7 .3-1.7 .3-1.6 .2-1.7 .3-1.6 .2-1.6 .2-1.7 .2-1.6 .2-1.7 .2-1.7 .1-1.6 .1-1.7 .1-1.6 .2-1.7 .1-1.6 .1-1.7 .1-1.6 .1-1.6 .1-1.6 .1-1.6 .1-1.7 .2-1.6 .1-1.6 .1-1.7 .1-1.6 .2-1.7 .1-1.7 .1-1.6 0-1.7 0-1.7 0-1.8 0-1.7 0-1.8 0-1.7-.1-1.8 0-1.8 0-1.8 0-1.9-.1-1.9 0-1.9 0-1.9 0-2 0-2 0-2 0-2.1 0-2.2 0-2.2 0-2.2-.1-2.3 0-2.3 0-2.4 0-2.5 0-2.5-.3-2.6-.2-2.6-.3-2.8-.3-2.8-.2-2.9-.3-3-.3-3-.3-3.1-.4-3.1-.4-3.2-.4-3.3-.4-3.4-.5-3.5-.5-3.6-.5-3.7-.5-3.8-.6-4-.7-4.2-.8-4.3-.8-4.4-.9-4.7-.8-4.8-.9-5-.9-5.1-1-5.1-1.1-5.1-1.2-5.3-1.2-5.2-1.3-4.8-1.5-3.9-1.7-2.5-2-1.7-2.2-.9-1.6 0-1.5 .9-1.5 1.2-1.6 1.4-1.5 1.5-1.5 1.5-1.4 1.6-1.4 1.6-1.3 1.7-1.3 1.8-1.2 1.9-1.3 1.9-1.1 1.9-1.1 1.8-1.1 1.9-1.1 1.8-1 1.9-1.1 1.8-1.1 1.8-1.1 1.8-1 1.8-1 1.8-1 1.9-1 1.8-.9 1.9-.9 1.8-.8 1.9-.8 1.9-.8 1.9-.8 1.9-.7 1.9-.8 1.9-.7 1.9-.6 1.9-.7 2-.6 2-.6 2.1-.5 2.1-.5 2.1-.5 2.1-.4z"/><path d="M870.8 133.6l2-.2 2.1-.2 2-.1 2.1-.1 2-.1 2.1-.1 2 0 2.1-.1 2 0 2 0 2.1 0 2 .1 2 0 2 .1 2 .1 2 .1 2 .1 1.9 .2 2 .1 2 .2 1.9 .2 2 .2 1.9 .2 1.9 .2 1.9 .2 1.9-.2 1.9-.1 1.8-.2 1.9-.1 1.8-.2 1.9-.1 1.8-.1 1.8-.1 1.9-.1 1.8-.1 1.9-.1 1.8-.1 1.8-.1 1.9 0 1.8-.1 1.9-.1 1.8 0 1.9 0 1.9 0 1.8 0 1.9 0 1.9 0 1.9 0 1.9 .1 1.9 0 1.9-.1 1.9-.2 1.9-.2 1.9-.1 2-.2 1.9-.1 2-.2 1.9-.1 2-.2 2-.1 2.1-.1 2-.2 2.1-.1 2.1-.1 2.1-.2 2.2-.1 2.2-.1 2.2-.1 2.2-.1 2.3-.1 2.3-.1 2.3-.1 2.4 0 2.4-.1 2.4 0 2.5-.1 2.6-.1 2.7-.1 2.8-.2 2.8-.1 2.8 0 2.7 0 2.8 .1 2.8 .1 2.8 .1 2.9 .2 2.9 .1 3 .2 3 .2 3.1 .2 3.1 .3 3.1 .3 3.2 .3 3.3 .4 3.4 .3 3.4 .3 3.5-.1 3.6 0 3.5 0 3.4 .1 3.3 .1 3.3 .2 3.1 .3 3.1 .4 2.7 .4 2.6 .5 2.4 .6 2.2 .6 1.9 .7 1.6 .7 1.3 .8 1.1 .8 .9 1.2 .9 1.7 .5 1.7 .1 1.8-.5 1.7-.9 1.8-1.1 1.7-1.3 1.7-1.6 1.7-1.7 1.7-1.8 1.6-1.9 1.5-2 1.6-1.9 1.5-2 1.4-2 1.4-2 1.4-2.1 1.4-2.1 1.2-2.1 1.3-2.1 1.2-2.2 1.2-2.1 1.2-2.2 1.2-2.3 1.1-2.5 1-2.4 1-2.4 1-2.3 1-2.3 .9-2.3 .9-2.2 .9-2.1 .8-2.2 .9-2.1 .8-2.1 .8-2.1 .7-2.1 .7-2.1 .6-2 .6-2.1 .6-1.9 .5-2 .5-1.9 .5-2 .5-1.9 .5-1.9 .5-1.9 .4-1.9 .4-1.9 .4-1.9 .4-1.8 .4-1.8 .3-1.8 .4-1.8 .3-1.8 .4-1.7 .3-1.7 .4-1.7 .3-1.7 .3-1.7 .3-1.7 .3-1.7 .3-1.6 .3-1.7 .2-1.6 .2-1.7 .2-1.6 .2-1.7 .2-1.6 .2-1.7 .1-1.7 .1-1.6 .2-1.7 .1-1.7 .1-1.6 .1-1.7 .1-1.6 .1-1.6 .1-1.7 .1-1.6 .2-1.6 .1-1.6 .1-1.7 .1-1.6 .1-1.7 .2-1.7 .1-1.6 .1-1.7 0-1.7 0-1.8 0-1.7 0-1.7 0-1.8 0-1.8 0-1.7-.1-1.9 0-1.8 0-1.8 0-1.9-.1-1.9 0-2 0-2 0-2 0-2.1 0-2.1 0-2.1 0-2.2 0-2.2 0-2.3-.1-2.4 0-2.4 0-2.5 0-2.5-.3-2.6-.2-2.7-.3-2.7-.2-2.9-.3-2.9-.2-3-.3-3-.4-3.1-.3-3.1-.4-3.3-.4-3.3-.4-3.4-.5-3.4-.5-3.6-.5-3.8-.5-3.8-.6-4-.7-4.2-.8-4.3-.8-4.5-.8-4.6-.9-4.9-.8-5-.9-5.1-1-5.2-1.1-5.1-1.1-5.4-1.2-5.2-1.4-4.9-1.4-3.9-1.7-2.5-2-1.7-2.2-.9-1.7 0-1.4 1-1.6 1.3-1.5 1.4-1.5 1.5-1.5 1.6-1.4 1.6-1.4 1.6-1.3 1.8-1.3 1.8-1.3 1.9-1.2 1.9-1.1 1.8-1.2 1.9-1 1.8-1.1 1.9-1 1.8-1.1 1.8-1.1 1.8-1.1 1.8-1 1.8-1 1.8-1 1.8-1 1.9-.9 1.8-.9 1.8-.8 1.9-.8 1.9-.8 1.9-.8 1.9-.8 1.9-.7 1.9-.7 1.9-.7 1.9-.6 2-.6 2.1-.6 2.1-.5 2.1-.5 2.1-.5 2.1-.5z"/><path d="M870.3 132.1l2.1-.2 2-.2 2.1-.1 2-.1 2.1-.1 2.1-.1 2 0 2.1 0 2-.1 2.1 .1 2 0 2 0 2.1 .1 2 .1 2 .1 2 .1 2 .1 1.9 .2 2 .1 2 .2 2 .2 1.9 .2 2 .2 1.9 .2 1.9 .2 1.9-.1 1.9-.2 1.8-.1 1.9-.2 1.9-.1 1.8-.1 1.9-.2 1.8-.1 1.9-.1 1.8-.1 1.9-.1 1.8 0 1.9-.1 1.8-.1 1.9 0 1.8-.1 1.9 0 1.8 0 1.9 0 1.9 0 1.9 0 1.9 0 1.9 .1 1.9 0 1.9 .1 1.9-.2 1.9-.2 1.9-.1 1.9-.2 2-.2 1.9-.1 2-.2 2-.1 2-.1 2-.2 2-.1 2.1-.2 2.1-.1 2.1-.1 2.1-.1 2.1-.2 2.2-.1 2.2-.1 2.3-.1 2.2-.1 2.4-.1 2.3 0 2.4-.1 2.4 0 2.4-.1 2.5-.1 2.6-.1 2.7-.1 2.8-.2 2.8-.1 2.8 0 2.7 0 2.8 0 2.8 .1 2.8 .1 2.9 .2 2.9 .1 3 .2 3.1 .2 3 .2 3.2 .2 3.1 .3 3.3 .3 3.3 .3 3.4 .4 3.4 .2 3.6-.1 3.6-.1 3.5 0 3.5 .1 3.3 .1 3.3 .2 3.2 .2 3.1 .3 2.8 .4 2.6 .5 2.4 .6 2.2 .6 2 .6 1.6 .7 1.3 .8 1 .8 1 1.2 .8 1.7 .6 1.7 0 1.8-.5 1.7-.9 1.8-1.1 1.7-1.4 1.7-1.6 1.7-1.7 1.7-1.9 1.6-2 1.6-1.9 1.5-2 1.5-2 1.5-2 1.4-2 1.4-2.2 1.3-2.1 1.3-2.2 1.3-2.1 1.2-2.1 1.2-2.2 1.2-2.2 1.1-2.3 1.1-2.4 1.1-2.5 1-2.3 1-2.4 .9-2.3 1-2.2 .9-2.2 .9-2.2 .8-2.1 .9-2.1 .8-2.1 .8-2.1 .7-2.1 .8-2.1 .6-2 .5-2 .6-2 .5-2 .6-1.9 .5-1.9 .5-2 .5-1.9 .4-1.9 .4-1.9 .5-1.9 .4-1.9 .3-1.8 .4-1.9 .4-1.8 .4-1.7 .3-1.8 .4-1.7 .3-1.8 .4-1.7 .3-1.7 .3-1.7 .3-1.7 .3-1.7 .3-1.6 .3-1.7 .2-1.6 .2-1.7 .2-1.6 .2-1.7 .2-1.7 .2-1.7 .1-1.6 .2-1.7 .1-1.7 .1-1.7 .1-1.6 .1-1.7 .1-1.6 .1-1.6 .1-1.7 .1-1.6 .2-1.7 .1-1.6 .1-1.6 .1-1.7 .2-1.7 .1-1.6 .1-1.7 .1-1.7 0-1.7 0-1.8 0-1.7 0-1.8 0-1.7 0-1.8 0-1.8 0-1.8-.1-1.9 0-1.8 0-1.9 0-1.9-.1-2 0-2 0-2 0-2.1 0-2.1 0-2.1 0-2.2 0-2.3 0-2.3 0-2.3-.1-2.5 0-2.5 0-2.5-.2-2.6-.3-2.7-.2-2.8-.3-2.8-.2-3-.3-2.9-.3-3.1-.3-3.1-.4-3.2-.3-3.2-.4-3.3-.5-3.4-.4-3.5-.5-3.6-.5-3.8-.5-3.8-.6-4.1-.7-4.1-.8-4.4-.8-4.4-.8-4.7-.8-4.9-.9-5-.9-5.2-1-5.1-1-5.2-1.1-5.4-1.2-5.3-1.3-4.9-1.5-4-1.7-2.5-2-1.7-2.1-.9-1.7 .1-1.5 .9-1.5 1.4-1.6 1.5-1.5 1.5-1.4 1.6-1.5 1.7-1.3 1.7-1.4 1.7-1.3 1.8-1.2 1.9-1.2 1.9-1.2 1.9-1.1 1.8-1 1.9-1.1 1.8-1 1.8-1.1 1.8-1.1 1.8-1.1 1.8-1 1.8-1 1.8-1 1.8-1 1.8-.9 1.8-.9 1.9-.8 1.8-.9 2-.8 1.9-.7 1.9-.8 1.8-.7 1.9-.7 1.9-.7 1.9-.6 2-.6 2.1-.6 2.1-.5 2.2-.5 2.1-.5 2.1-.5z"/><path d="M869.8 130.6l2.1-.2 2-.2 2.1-.1 2.1-.1 2-.1 2.1-.1 2.1 0 2.1 0 2 0 2.1 0 2 0 2.1 .1 2 .1 2 0 2 .1 2.1 .2 2 .1 2 .1 1.9 .2 2 .2 2 .2 2 .2 1.9 .2 2 .3 1.9 .2 1.9-.2 1.9-.1 1.9-.2 1.8-.1 1.9-.2 1.9-.1 1.8-.1 1.9-.1 1.8-.1 1.9-.1 1.9-.1 1.8-.1 1.9 0 1.8-.1 1.9 0 1.9-.1 1.8 0 1.9 0 1.9 0 1.9 0 1.8 0 1.9 0 1.9 .1 1.9 0 2 .1 1.9-.2 1.9-.2 1.9-.1 2-.2 1.9-.1 2-.2 1.9-.1 2-.2 2-.1 2-.2 2.1-.1 2-.1 2.1-.2 2.1-.1 2.1-.1 2.2-.1 2.2-.1 2.2-.2 2.2-.1 2.3 0 2.3-.1 2.4-.1 2.3 0 2.4-.1 2.5 0 2.5-.1 2.6-.2 2.6-.1 2.8-.2 2.8-.1 2.8-.1 2.8 0 2.8 .1 2.8 .1 2.8 0 2.9 .1 3 .2 3 .1 3 .2 3.1 .2 3.2 .2 3.1 .3 3.3 .3 3.3 .3 3.5 .3 3.5 .2 3.6-.1 3.6-.1 3.5-.1 3.5 0 3.4 .1 3.3 .2 3.3 .2 3.1 .3 2.8 .4 2.6 .4 2.5 .6 2.2 .5 2 .7 1.6 .6 1.3 .8 1.1 .8 .9 1.2 .8 1.7 .6 1.7 0 1.8-.5 1.7-.9 1.8-1.2 1.7-1.3 1.8-1.7 1.7-1.8 1.6-1.9 1.7-2 1.5-2 1.6-1.9 1.5-2.1 1.4-2 1.4-2.1 1.4-2.1 1.4-2.2 1.3-2.2 1.2-2.1 1.2-2.2 1.3-2.2 1.1-2.2 1.2-2.3 1.1-2.4 1.1-2.4 1-2.4 1-2.3 .9-2.3 1-2.2 .9-2.2 .9-2.2 .8-2.1 .9-2.1 .8-2.1 .8-2.1 .8-2.1 .7-2 .6-2.1 .6-2 .5-2 .6-1.9 .5-2 .5-1.9 .5-1.9 .5-2 .5-1.9 .4-1.9 .4-1.9 .4-1.9 .4-1.9 .4-1.8 .4-1.8 .4-1.8 .3-1.7 .4-1.8 .3-1.7 .4-1.8 .3-1.7 .3-1.7 .3-1.7 .3-1.6 .3-1.7 .3-1.7 .2-1.6 .2-1.7 .2-1.7 .2-1.7 .2-1.6 .2-1.7 .1-1.7 .2-1.7 .1-1.7 .1-1.6 .1-1.7 .1-1.7 .1-1.6 .1-1.7 .1-1.6 .2-1.6 .1-1.7 .1-1.6 .1-1.7 .1-1.7 .2-1.6 .1-1.7 .1-1.7 .1-1.7 0-1.7 .1-1.8 0-1.7-.1-1.8 0-1.7 0-1.8 0-1.8 0-1.9-.1-1.8 0-1.9 0-1.9 0-1.9 0-2-.1-2 0-2 0-2.1 0-2.1 0-2.2 0-2.2 0-2.2 0-2.4 0-2.3 0-2.5-.1-2.4 0-2.6-.2-2.6-.2-2.7-.3-2.8-.2-2.9-.3-2.9-.2-3-.3-3.1-.3-3.1-.4-3.2-.4-3.2-.4-3.4-.4-3.4-.4-3.5-.5-3.6-.5-3.7-.5-3.9-.6-4.1-.7-4.2-.7-4.3-.8-4.5-.8-4.7-.9-4.9-.8-5.1-.9-5.1-1-5.2-1-5.2-1.1-5.5-1.2-5.3-1.3-5-1.4-4-1.7-2.5-2-1.7-2.2-.9-1.6 .1-1.5 1-1.5 1.4-1.6 1.5-1.5 1.6-1.5 1.7-1.4 1.7-1.4 1.7-1.3 1.7-1.3 1.9-1.2 1.9-1.2 1.9-1.2 1.8-1.1 1.9-1.1 1.8-1 1.8-1 1.8-1.1 1.8-1.1 1.8-1.1 1.7-1 1.8-1 1.8-1 1.8-1 1.8-.9 1.9-.9 1.8-.8 1.9-.9 1.9-.8 1.9-.7 1.9-.8 1.8-.7 1.9-.7 1.9-.7 1.9-.6 2.1-.7 2.1-.5 2.1-.6 2.1-.5 2.2-.4 2-.5z"/><path d="M869.3 129l2.1-.1 2-.2 2.1-.1 2.1-.1 2.1-.1 2.1-.1 2.1 0 2.1 0 2 0 2.1 0 2.1 .1 2 0 2.1 .1 2 .1 2 .1 2 .1 2.1 .2 2 .1 2 .2 2 .2 2 .2 1.9 .2 2 .3 1.9 .2 2 .2 1.9-.1 1.9-.2 1.9-.1 1.8-.2 1.9-.1 1.9-.1 1.9-.2 1.8-.1 1.9-.1 1.9 0 1.8-.1 1.9-.1 1.9-.1 1.8 0 1.9-.1 1.9 0 1.9 0 1.8 0 1.9 0 1.9 0 1.9 0 1.9 0 1.9 .1 1.9 0 1.9 .1 2-.2 1.9-.1 1.9-.2 2-.2 1.9-.1 2-.2 2-.1 2-.2 2-.1 2-.1 2-.2 2.1-.1 2.1-.1 2.1-.2 2.1-.1 2.2-.1 2.1-.1 2.3-.1 2.2-.1 2.3-.1 2.3-.1 2.3-.1 2.4 0 2.4-.1 2.5 0 2.5-.1 2.5-.1 2.7-.2 2.8-.2 2.8-.1 2.8-.1 2.8 0 2.7 0 2.9 .1 2.8 .1 2.9 0 3 .2 3 .1 3.1 .1 3.1 .2 3.2 .2 3.2 .3 3.2 .2 3.4 .3 3.4 .3 3.6 .2 3.6-.2 3.7-.1 3.6-.1 3.5 0 3.5 .1 3.3 .1 3.3 .2 3.1 .3 2.9 .3 2.6 .5 2.4 .4 2.3 .6 2 .6 1.6 .7 1.3 .7 1.1 .7 .9 1.3 .9 1.7 .6 1.7 0 1.7-.6 1.8-1 1.8-1.1 1.8-1.4 1.7-1.7 1.7-1.8 1.7-1.9 1.6-2.1 1.6-2 1.5-2 1.5-2.1 1.5-2 1.4-2.1 1.4-2.2 1.3-2.2 1.3-2.2 1.3-2.2 1.2-2.2 1.2-2.2 1.2-2.2 1.2-2.3 1.1-2.4 1-2.4 1-2.4 1-2.3 1-2.3 .9-2.2 1-2.1 .8-2.2 .9-2.1 .9-2.1 .8-2.1 .8-2.1 .8-2 .7-2.1 .6-2 .6-2.1 .6-1.9 .5-2 .6-2 .5-1.9 .5-1.9 .5-2 .4-1.9 .5-1.9 .4-1.9 .4-1.9 .4-1.9 .4-1.8 .4-1.8 .3-1.8 .4-1.8 .4-1.7 .3-1.8 .3-1.7 .4-1.7 .3-1.8 .3-1.6 .3-1.7 .3-1.7 .3-1.7 .2-1.7 .2-1.6 .3-1.7 .2-1.7 .1-1.7 .2-1.7 .1-1.7 .2-1.7 .1-1.6 .1-1.7 .1-1.7 .1-1.7 .1-1.6 .1-1.7 .1-1.6 .2-1.7 .1-1.6 .1-1.7 .1-1.7 .2-1.6 .1-1.7 .1-1.7 .1-1.7 .1-1.7 0-1.7 .1-1.8 0-1.7 0-1.8-.1-1.8 0-1.8 0-1.8 0-1.8-.1-1.9 0-1.9 0-1.9 0-1.9 0-2 0-2 0-2-.1-2.1 0-2.1 0-2.2 0-2.2 0-2.3 0-2.3 0-2.4 0-2.4 0-2.5-.1-2.6-.2-2.6-.2-2.8-.3-2.8-.2-2.8-.2-3-.3-3-.3-3.1-.3-3.1-.3-3.2-.4-3.3-.4-3.3-.4-3.4-.4-3.6-.5-3.6-.5-3.8-.5-3.9-.6-4-.7-4.2-.7-4.4-.8-4.5-.8-4.7-.8-4.9-.9-5.1-.8-5.2-1-5.2-1-5.2-1.1-5.5-1.2-5.4-1.3-5.1-1.4-4-1.7-2.6-1.9-1.6-2.2-.9-1.7 .1-1.4 1.1-1.6 1.5-1.5 1.5-1.6 1.7-1.4 1.7-1.4 1.7-1.4 1.7-1.3 1.8-1.3 1.8-1.3 1.9-1.2 1.9-1.1 1.9-1.1 1.8-1.1 1.8-1 1.8-1 1.8-1.1 1.8-1.1 1.8-1.1 1.7-1 1.8-1 1.8-1 1.8-1 1.8-.9 1.8-.9 1.8-.8 1.9-.9 1.9-.8 1.9-.8 1.9-.7 1.8-.7 1.9-.7 1.9-.7 2-.7 2-.6 2.1-.5 2.1-.6 2.2-.5 2.1-.5 2.1-.4z"/><path d="M868.8 127.5l2.1-.2 2.1-.1 2.1-.1 2.1-.1 2.1-.1 2.1 0 2.1-.1 2 0 2.1 0 2.1 .1 2.1 0 2 .1 2.1 .1 2 .1 2.1 .1 2 .1 2 .2 2.1 .1 2 .2 2 .2 2 .2 2 .2 2 .3 1.9 .2 2 .3 1.9-.2 1.9-.1 1.9-.2 1.9-.1 1.9-.2 1.8-.1 1.9-.1 1.9-.1 1.9-.1 1.9-.1 1.8-.1 1.9 0 1.9-.1 1.9 0 1.8-.1 1.9 0 1.9 0 1.9 0 1.9 0 1.9 0 1.9 0 1.9 0 1.9 .1 1.9 0 1.9 .1 2-.2 1.9-.1 1.9-.2 2-.2 1.9-.1 2-.2 2-.1 2-.1 2-.2 2-.1 2.1-.2 2-.1 2.1-.1 2.1-.1 2.2-.2 2.1-.1 2.2-.1 2.2-.1 2.3-.1 2.3-.1 2.3-.1 2.3 0 2.4-.1 2.4 0 2.4-.1 2.5-.1 2.6-.1 2.7-.2 2.7-.2 2.9-.1 2.8-.1 2.7 0 2.8 0 2.8 0 2.9 .1 2.9 0 3 .1 3 .1 3.1 .2 3.2 .1 3.1 .2 3.3 .2 3.3 .3 3.4 .3 3.4 .2 3.6 .2 3.7-.2 3.7-.2 3.6-.1 3.6 0 3.5 0 3.3 .1 3.3 .2 3.2 .2 2.9 .4 2.7 .4 2.4 .4 2.3 .6 2 .5 1.7 .7 1.3 .7 1 .7 1 1.2 .8 1.7 .6 1.8 0 1.7-.6 1.8-1 1.8-1.1 1.8-1.5 1.7-1.7 1.7-1.8 1.7-2 1.6-2.1 1.6-2 1.6-2.1 1.5-2 1.4-2.1 1.4-2.2 1.4-2.2 1.4-2.2 1.3-2.2 1.2-2.2 1.3-2.2 1.2-2.2 1.2-2.3 1.1-2.3 1.1-2.4 1.1-2.4 1-2.3 1-2.3 1-2.3 .9-2.2 .9-2.1 .9-2.2 .9-2.1 .9-2 .8-2.1 .8-2.1 .8-2.1 .7-2.1 .7-2 .5-2 .6-2 .6-2 .5-1.9 .6-2 .5-1.9 .4-1.9 .5-2 .5-1.9 .4-1.9 .4-1.9 .4-1.9 .4-1.8 .4-1.8 .3-1.8 .4-1.8 .4-1.8 .3-1.7 .3-1.8 .4-1.7 .3-1.7 .3-1.7 .3-1.7 .3-1.7 .3-1.7 .2-1.7 .3-1.6 .2-1.7 .2-1.7 .1-1.7 .2-1.7 .2-1.7 .1-1.7 .1-1.7 .1-1.7 .1-1.7 .1-1.7 .1-1.6 .1-1.7 .1-1.7 .2-1.6 .1-1.7 .1-1.6 .1-1.7 .2-1.7 .1-1.7 .1-1.7 .1-1.7 .1-1.7 .1-1.7 0-1.8 0-1.8 0-1.7 0-1.8-.1-1.8 0-1.8 0-1.9 0-1.8-.1-1.9 0-1.9 0-2 0-2 0-2 0-2 0-2.1-.1-2.2 0-2.2 0-2.2 0-2.3 0-2.3 0-2.4 0-2.4 0-2.5 0-2.6-.3-2.7-.2-2.7-.2-2.8-.3-2.9-.2-3-.2-3-.3-3.1-.3-3.1-.4-3.2-.3-3.3-.4-3.3-.4-3.5-.5-3.5-.4-3.7-.5-3.8-.5-3.9-.6-4-.7-4.2-.7-4.4-.8-4.5-.8-4.8-.8-4.9-.8-5.1-.9-5.2-.9-5.2-1-5.3-1.1-5.6-1.2-5.4-1.2-5.1-1.4-4.1-1.7-2.6-2-1.6-2.1-.9-1.7 .2-1.5 1.1-1.5 1.5-1.6 1.6-1.5 1.7-1.5 1.7-1.4 1.8-1.4 1.7-1.3 1.8-1.3 1.9-1.2 1.9-1.2 1.9-1.1 1.8-1.1 1.8-1.1 1.8-1 1.8-1 1.8-1.1 1.8-1.1 1.7-1.1 1.8-1 1.7-1.1 1.8-.9 1.8-1 1.8-.9 1.8-.9 1.8-.9 1.9-.8 1.9-.8 1.9-.8 1.9-.7 1.8-.8 1.9-.7 1.9-.6 2-.7 2-.6 2.1-.6 2.2-.5 2.1-.5 2.2-.5 2.1-.4z"/><path d="M868.3 126l2.1-.2 2.1-.1 2.1-.1 2.1-.1 2.1-.1 2.1 0 2.1-.1 2.1 0 2.1 .1 2.1 0 2.1 0 2.1 .1 2 .1 2.1 .1 2.1 .1 2 .2 2 .1 2.1 .2 2 .2 2 .2 2 .2 2 .3 2 .2 2 .2 1.9 .3 2-.2 1.9-.1 1.9-.2 1.9-.1 1.9-.1 1.9-.1 1.9-.1 1.9-.1 1.9-.1 1.8-.1 1.9-.1 1.9-.1 1.9 0 1.9-.1 1.9 0 1.8 0 1.9 0 1.9-.1 1.9 0 1.9 .1 2 0 1.9 0 1.9 .1 1.9 .1 1.9 0 2-.1 1.9-.2 2-.2 1.9-.1 2-.2 1.9-.1 2-.2 2-.1 2-.2 2.1-.1 2-.1 2.1-.2 2.1-.1 2.1-.1 2.1-.1 2.2-.2 2.2-.1 2.2-.1 2.3-.1 2.2-.1 2.3 0 2.4-.1 2.3-.1 2.5 0 2.4 0 2.5-.2 2.6-.1 2.6-.2 2.8-.2 2.8-.1 2.8-.1 2.8-.1 2.8 0 2.8 0 2.9 .1 2.9 0 3 .1 3.1 .1 3.1 .1 3.1 .2 3.2 .1 3.3 .2 3.3 .3 3.4 .2 3.5 .3 3.7 .1 3.7-.2 3.7-.2 3.6-.2 3.7 0 3.5 0 3.4 0 3.3 .2 3.2 .2 3 .3 2.6 .4 2.5 .4 2.3 .5 2.1 .6 1.6 .6 1.3 .7 1.1 .7 .9 1.2 .9 1.7 .6 1.8-.1 1.7-.6 1.8-1 1.8-1.2 1.8-1.4 1.7-1.8 1.7-1.9 1.7-2 1.7-2.1 1.5-2 1.6-2.1 1.5-2.1 1.5-2.2 1.4-2.1 1.4-2.3 1.3-2.2 1.3-2.3 1.3-2.2 1.2-2.2 1.2-2.2 1.2-2.3 1.2-2.2 1.1-2.4 1-2.4 1.1-2.4 1-2.3 .9-2.2 1-2.2 .9-2.2 .9-2.1 .9-2.1 .9-2 .8-2.1 .8-2.1 .8-2.1 .8-2 .6-2.1 .6-2 .6-2 .5-1.9 .6-2 .5-1.9 .5-2 .5-1.9 .5-1.9 .4-2 .4-1.9 .5-1.9 .4-1.9 .3-1.8 .4-1.8 .4-1.8 .4-1.8 .3-1.8 .4-1.8 .3-1.7 .4-1.8 .3-1.7 .3-1.7 .3-1.7 .3-1.7 .3-1.7 .2-1.7 .3-1.7 .2-1.7 .2-1.6 .2-1.8 .1-1.7 .2-1.7 .1-1.7 .1-1.7 .1-1.7 .1-1.7 .1-1.7 .1-1.6 .1-1.7 .1-1.7 .2-1.6 .1-1.7 .1-1.7 .1-1.7 .2-1.7 .1-1.6 .1-1.8 .1-1.7 .1-1.7 .1-1.7 0-1.8 0-1.8 0-1.8 0-1.8 0-1.8-.1-1.8 0-1.8 0-1.9-.1-1.9 0-1.9 0-2 0-2 0-2 0-2.1 0-2.1 0-2.1 0-2.2-.1-2.2 0-2.3 0-2.4 0-2.4 0-2.4 0-2.5 0-2.6-.2-2.7-.3-2.7-.2-2.8-.2-2.9-.3-3-.2-3.1-.3-3.1-.3-3.1-.3-3.2-.4-3.3-.4-3.4-.4-3.5-.4-3.5-.4-3.7-.5-3.8-.5-3.9-.6-4.1-.7-4.2-.7-4.4-.7-4.5-.8-4.7-.8-5-.8-5.2-.9-5.2-.9-5.2-1.1-5.3-1-5.6-1.2-5.5-1.2-5.2-1.4-4.1-1.6-2.6-2-1.7-2.2-.8-1.6 .2-1.5 1.1-1.6 1.6-1.5 1.7-1.5 1.7-1.5 1.8-1.4 1.7-1.4 1.8-1.3 1.9-1.3 1.8-1.2 1.9-1.2 1.9-1.1 1.8-1.1 1.8-1.1 1.8-1 1.8-1 1.8-1.1 1.8-1.1 1.7-1.1 1.7-1 1.8-1.1 1.8-.9 1.7-1 1.8-.9 1.8-.9 1.9-.9 1.8-.8 1.9-.8 1.9-.8 1.9-.8 1.8-.7 1.9-.7 1.9-.7 2-.6 2-.6 2.1-.6 2.2-.5 2.2-.5 2.2-.5 2.1-.5z"/><path d="M867.8 124.5l2.1-.2 2.1-.1 2.1-.1 2.1-.1 2.2-.1 2.1 0 2.1 0 2.1 0 2.1 0 2.1 0 2.1 .1 2.1 .1 2.1 .1 2.1 .1 2 .1 2.1 .1 2 .2 2.1 .2 2 .2 2 .2 2.1 .2 2 .3 2 .2 2 .3 1.9 .2 2-.1 1.9-.2 1.9-.1 1.9-.1 1.9-.2 1.9-.1 1.9-.1 1.9-.1 1.9-.1 1.9-.1 1.9 0 1.9-.1 1.9 0 1.9-.1 1.9 0 1.9 0 1.9-.1 1.9 0 1.9 0 1.9 .1 1.9 0 1.9 0 2 .1 1.9 .1 1.9 0 2-.1 1.9-.2 2-.2 1.9-.1 2-.2 2-.1 2-.2 2-.1 2-.2 2-.1 2.1-.1 2-.2 2.1-.1 2.1-.1 2.2-.1 2.2-.1 2.1-.2 2.3-.1 2.2 0 2.3-.1 2.3-.1 2.3-.1 2.4 0 2.4-.1 2.5 0 2.5-.1 2.6-.2 2.6-.2 2.8-.2 2.8-.1 2.8-.2 2.8 0 2.8 0 2.8 0 2.9 0 3 0 3 .1 3 .1 3.1 .1 3.2 .1 3.2 .1 3.3 .2 3.4 .2 3.4 .2 3.5 .3 3.7 .1 3.7-.2 3.8-.3 3.7-.2 3.6-.1 3.6 0 3.5 .1 3.3 .1 3.3 .2 2.9 .2 2.7 .4 2.5 .4 2.3 .5 2.1 .5 1.7 .6 1.3 .7 1 .7 1 1.2 .8 1.7 .6 1.7 0 1.8-.7 1.8-1 1.8-1.2 1.8-1.5 1.7-1.8 1.8-1.9 1.6-2 1.7-2.2 1.6-2.1 1.5-2.1 1.5-2.1 1.5-2.2 1.4-2.2 1.4-2.2 1.4-2.3 1.3-2.3 1.2-2.2 1.3-2.3 1.2-2.2 1.2-2.2 1.1-2.3 1.1-2.4 1.1-2.4 1-2.3 1-2.3 1-2.3 1-2.1 .9-2.2 .9-2.1 .9-2 .9-2.1 .8-2.1 .8-2.1 .8-2 .8-2.1 .6-2 .6-2 .6-2 .6-2 .5-1.9 .6-2 .5-1.9 .5-2 .4-1.9 .5-2 .4-1.9 .4-1.9 .4-1.9 .4-1.8 .4-1.9 .4-1.8 .4-1.8 .3-1.8 .4-1.7 .3-1.8 .4-1.7 .3-1.8 .3-1.7 .3-1.7 .3-1.7 .3-1.7 .2-1.7 .3-1.7 .2-1.7 .2-1.7 .2-1.7 .1-1.7 .2-1.7 .1-1.8 .1-1.7 .1-1.7 .1-1.7 .1-1.7 .1-1.7 .1-1.6 .2-1.7 .1-1.7 .1-1.7 .1-1.6 .1-1.7 .2-1.7 .1-1.7 .1-1.7 .1-1.8 .1-1.7 .1-1.7 0-1.8 0-1.8 0-1.8 0-1.8 0-1.8-.1-1.8 0-1.9 0-1.9 0-1.9-.1-1.9 0-2 0-2 0-2 0-2.1 0-2.1 0-2.1 0-2.2-.1-2.3 0-2.3 0-2.3 0-2.4 0-2.5 0-2.5 0-2.6-.2-2.7-.2-2.8-.3-2.8-.2-2.9-.2-3-.3-3.1-.2-3.1-.3-3.1-.3-3.3-.4-3.3-.4-3.3-.4-3.5-.4-3.6-.5-3.7-.4-3.8-.5-3.9-.6-4.1-.7-4.2-.7-4.4-.7-4.6-.8-4.7-.8-5-.8-5.2-.8-5.2-1-5.3-1-5.3-1-5.7-1.1-5.6-1.3-5.2-1.3-4.1-1.7-2.6-2-1.7-2.1-.8-1.7 .2-1.4 1.2-1.6 1.6-1.6 1.7-1.5 1.8-1.5 1.8-1.4 1.8-1.4 1.8-1.3 1.9-1.2 1.9-1.3 1.9-1.1 1.8-1.2 1.9-1.1 1.8-1 1.8-1 1.7-1 1.8-1.1 1.8-1.1 1.7-1.1 1.7-1.1 1.7-1 1.8-.9 1.8-1 1.8-.9 1.8-.9 1.8-.9 1.8-.8 1.9-.8 1.9-.8 1.8-.8 1.9-.7 1.9-.7 1.9-.7 2-.7 2-.6 2.2-.5 2.1-.6 2.2-.5 2.2-.4 2.1-.5z"/><path d="M867.2 122.9l2.2-.1 2.1-.2 2.1-.1 2.2 0 2.1-.1 2.1 0 2.2 0 2.1 0 2.1 0 2.1 0 2.1 .1 2.1 .1 2.1 .1 2.1 .1 2.1 .2 2.1 .1 2 .2 2.1 .2 2 .2 2.1 .2 2 .2 2 .3 2 .2 2 .3 2 .3 2-.2 1.9-.1 1.9-.2 1.9-.1 2-.1 1.9-.1 1.9-.1 1.9-.1 1.9-.1 1.9-.1 1.9-.1 1.9 0 1.9-.1 1.9 0 1.9 0 1.9-.1 1.9 0 1.9 0 1.9 0 2 .1 1.9 0 1.9 0 1.9 .1 2 .1 1.9 .1 2-.2 1.9-.2 2-.2 1.9-.1 2-.2 2-.1 2-.2 2-.1 2-.1 2.1-.2 2-.1 2.1-.1 2.1-.2 2.1-.1 2.2-.1 2.1-.1 2.2-.1 2.2-.1 2.3-.1 2.3-.1 2.3-.1 2.3 0 2.4-.1 2.4 0 2.4-.1 2.6-.1 2.5-.2 2.7-.2 2.8-.2 2.8-.2 2.8-.1 2.7-.1 2.9 0 2.8 0 2.9 0 3 0 3 .1 3.1 0 3.1 .1 3.2 .1 3.2 .1 3.3 .2 3.4 .2 3.5 .2 3.6 .2 3.6 .1 3.8-.3 3.8-.2 3.7-.3 3.7-.1 3.6 0 3.5 0 3.4 .1 3.3 .1 3 .3 2.7 .3 2.5 .4 2.4 .4 2 .6 1.7 .5 1.3 .7 1.1 .6 .9 1.2 .9 1.8 .6 1.7-.1 1.8-.6 1.8-1.1 1.8-1.2 1.8-1.6 1.8-1.8 1.7-1.9 1.7-2.1 1.6-2.1 1.6-2.2 1.6-2.1 1.5-2.2 1.5-2.2 1.4-2.2 1.4-2.3 1.3-2.3 1.3-2.3 1.3-2.3 1.2-2.2 1.2-2.3 1.2-2.2 1.2-2.3 1.1-2.4 1.1-2.4 1-2.3 1-2.3 1-2.2 .9-2.2 1-2.1 .9-2.1 .9-2 .9-2.1 .8-2 .8-2.1 .8-2.1 .8-2.1 .6-2 .6-2 .6-2 .6-2 .6-1.9 .5-2 .5-1.9 .5-1.9 .5-2 .4-2 .5-1.9 .4-1.9 .4-1.9 .4-1.8 .4-1.9 .4-1.8 .3-1.8 .4-1.8 .4-1.8 .3-1.7 .3-1.8 .4-1.7 .3-1.8 .3-1.7 .3-1.7 .3-1.7 .2-1.7 .3-1.7 .2-1.7 .2-1.7 .2-1.7 .1-1.8 .2-1.7 .1-1.7 .1-1.7 .1-1.8 .1-1.7 .1-1.7 .1-1.7 .1-1.6 .2-1.7 .1-1.7 .1-1.7 .1-1.7 .2-1.7 .1-1.7 .1-1.7 .1-1.7 .1-1.7 .2-1.8 0-1.8 0-1.7 0-1.8 0-1.8 0-1.8 0-1.8-.1-1.9 0-1.9 0-1.8 0-2-.1-1.9 0-2 0-2 0-2 0-2.1 0-2.1 0-2.2 0-2.2 0-2.2-.1-2.3 0-2.4 0-2.4 0-2.5 0-2.5 0-2.7-.2-2.6-.2-2.8-.2-2.8-.2-3-.3-3-.2-3-.3-3.2-.3-3.1-.3-3.3-.3-3.3-.4-3.4-.4-3.5-.4-3.6-.5-3.7-.4-3.8-.5-3.9-.6-4.1-.7-4.3-.7-4.4-.7-4.6-.8-4.7-.7-5-.8-5.2-.9-5.3-.9-5.3-1-5.4-1-5.7-1.1-5.6-1.2-5.3-1.4-4.1-1.6-2.7-2-1.6-2.1-.8-1.7 .2-1.5 1.3-1.5 1.6-1.6 1.8-1.5 1.8-1.5 1.9-1.4 1.8-1.4 1.8-1.3 1.9-1.3 1.9-1.2 1.9-1.2 1.9-1.1 1.8-1.1 1.8-1 1.8-1 1.7-1 1.8-1.1 1.7-1.1 1.7-1.1 1.8-1.1 1.7-1 1.7-1 1.8-.9 1.8-.9 1.8-.9 1.8-.9 1.8-.8 1.9-.9 1.9-.7 1.8-.8 1.9-.7 1.9-.8 1.9-.6 2-.7 2-.6 2.2-.6 2.2-.5 2.2-.5 2.2-.5 2.1-.4z"/><path d="M866.7 121.4l2.1-.1 2.2-.2 2.1-.1 2.2 0 2.1-.1 2.2 0 2.1 0 2.2 0 2.1 0 2.1 .1 2.2 0 2.1 .1 2.1 .1 2.1 .2 2.1 .1 2 .2 2.1 .1 2.1 .2 2 .3 2.1 .2 2 .2 2.1 .3 2 .2 2 .3 2 .3 1.9-.2 2-.1 1.9-.1 2-.2 1.9-.1 1.9-.1 1.9-.1 2-.1 1.9-.1 1.9 0 1.9-.1 1.9-.1 1.9 0 1.9 0 1.9-.1 1.9 0 2 0 1.9 0 1.9 0 1.9 .1 2 0 1.9 .1 1.9 0 2 .1 1.9 .1 2-.2 1.9-.2 2-.1 2-.2 1.9-.2 2-.1 2-.1 2-.2 2.1-.1 2-.2 2.1-.1 2-.1 2.1-.2 2.2-.1 2.1-.1 2.2-.1 2.2-.1 2.2-.1 2.3-.1 2.2-.1 2.4-.1 2.3 0 2.4-.1 2.4 0 2.4 0 2.5-.2 2.6-.2 2.7-.2 2.7-.2 2.8-.2 2.8-.1 2.8-.1 2.8-.1 2.9 0 2.9 0 3 0 3 0 3.1 .1 3.2 0 3.2 .1 3.2 .1 3.4 .2 3.4 .1 3.4 .2 3.7 .2 3.7 .1 3.8-.3 3.8-.3 3.8-.3 3.7-.1 3.7-.1 3.5 0 3.4 0 3.3 .2 3.1 .2 2.7 .3 2.6 .4 2.3 .4 2.1 .5 1.7 .6 1.3 .6 1.1 .6 .9 1.2 .9 1.7 .5 1.8 0 1.8-.7 1.8-1.1 1.8-1.3 1.8-1.5 1.8-1.8 1.7-2 1.7-2.1 1.6-2.2 1.7-2.2 1.5-2.2 1.5-2.2 1.5-2.2 1.4-2.3 1.4-2.3 1.4-2.3 1.3-2.3 1.2-2.3 1.3-2.3 1.2-2.2 1.2-2.3 1.1-2.3 1.1-2.4 1.1-2.3 1.1-2.3 1-2.3 .9-2.2 1-2.2 1-2.1 .9-2.1 .9-2 .9-2.1 .8-2 .9-2.1 .8-2.1 .7-2 .7-2 .6-2.1 .6-1.9 .5-2 .6-2 .5-1.9 .6-2 .5-1.9 .5-2 .4-1.9 .4-2 .5-1.9 .4-1.9 .4-1.8 .4-1.9 .4-1.8 .3-1.8 .4-1.8 .4-1.8 .3-1.8 .3-1.7 .4-1.8 .3-1.7 .3-1.7 .3-1.8 .3-1.7 .2-1.7 .3-1.7 .2-1.7 .2-1.7 .2-1.8 .1-1.7 .2-1.7 .1-1.8 .1-1.7 .1-1.7 .1-1.8 .1-1.7 .1-1.7 .1-1.7 .2-1.6 .1-1.7 .1-1.7 .1-1.7 .2-1.7 .1-1.7 .1-1.8 .1-1.7 .1-1.7 .2-1.8 0-1.8 0-1.7 0-1.8 0-1.8 0-1.9 0-1.8 0-1.8-.1-1.9 0-1.9 0-1.9-.1-2 0-2 0-2 0-2 0-2.1 0-2.1 0-2.2 0-2.2 0-2.3 0-2.3-.1-2.4 0-2.4 0-2.5 0-2.5 0-2.7-.2-2.7-.2-2.7-.2-2.9-.2-2.9-.2-3-.3-3.1-.2-3.2-.3-3.1-.3-3.3-.4-3.3-.3-3.5-.4-3.5-.5-3.6-.4-3.7-.4-3.8-.5-4-.6-4.1-.6-4.2-.8-4.5-.7-4.5-.7-4.8-.8-5.1-.8-5.2-.8-5.3-.9-5.3-1-5.4-1-5.7-1.1-5.7-1.2-5.4-1.3-4.2-1.7-2.6-1.9-1.7-2.2-.7-1.6 .2-1.5 1.3-1.6 1.7-1.6 1.8-1.5 1.9-1.5 1.9-1.4 1.9-1.3 1.9-1.4 1.8-1.2 1.9-1.2 1.9-1.2 1.9-1.1 1.8-1.1 1.8-1 1.8-1 1.7-1 1.8-1.1 1.7-1.2 1.7-1 1.7-1.1 1.7-1 1.8-1 1.7-.9 1.8-1 1.8-.9 1.8-.8 1.8-.9 1.9-.8 1.8-.8 1.9-.7 1.9-.8 1.9-.7 1.9-.7 2-.6 2-.6 2.2-.6 2.2-.5 2.2-.5 2.2-.5 2.2-.5z"/><path d="M866.2 119.9l2.1-.2 2.2-.1 2.1-.1 2.2-.1 2.2 0 2.1 0 2.2 0 2.2 0 2.1 0 2.1 .1 2.2 .1 2.1 .1 2.1 .1 2.1 .1 2.1 .2 2.1 .1 2.1 .2 2.1 .2 2 .2 2.1 .3 2.1 .2 2 .3 2.1 .3 2 .2 2 .3 1.9-.1 2-.2 1.9-.1 2-.1 1.9-.1 2-.2 1.9 0 1.9-.1 1.9-.1 2-.1 1.9 0 1.9-.1 1.9 0 1.9-.1 2 0 1.9 0 1.9 0 1.9 0 2 0 1.9 0 1.9 .1 2 .1 1.9 0 2 .1 1.9 .1 2-.2 1.9-.2 2-.1 2-.2 2-.1 2-.2 2-.1 2-.2 2-.1 2.1-.2 2-.1 2.1-.1 2.1-.1 2.1-.2 2.2-.1 2.2-.1 2.1-.1 2.3-.1 2.2-.1 2.3-.1 2.3 0 2.4-.1 2.3 0 2.4-.1 2.5 0 2.5-.2 2.6-.2 2.6-.2 2.8-.2 2.8-.2 2.8-.1 2.8-.1 2.8-.1 2.9-.1 2.9 0 3 0 3 0 3.1 0 3.2 .1 3.2 0 3.3 .1 3.4 .1 3.4 .2 3.5 .2 3.7 .1 3.7 .1 3.9-.3 3.8-.4 3.8-.3 3.8-.1 3.7-.2 3.5 0 3.5 0 3.4 .1 3 .2 2.8 .3 2.6 .3 2.3 .5 2.1 .4 1.7 .6 1.3 .6 1.1 .6 1 1.2 .8 1.7 .6 1.8-.1 1.8-.7 1.8-1.1 1.8-1.3 1.8-1.6 1.8-1.8 1.7-2 1.7-2.2 1.7-2.2 1.6-2.2 1.5-2.3 1.6-2.2 1.4-2.2 1.5-2.3 1.4-2.3 1.3-2.4 1.3-2.4 1.3-2.3 1.2-2.2 1.2-2.3 1.2-2.3 1.2-2.3 1.1-2.3 1.1-2.4 1-2.3 1-2.3 1-2.2 1-2.1 .9-2.1 1-2.1 .9-2 .9-2 .8-2.1 .9-2 .8-2.1 .7-2.1 .7-2 .6-2 .6-2 .6-2 .5-1.9 .6-2 .5-1.9 .5-2 .5-1.9 .5-2 .4-2 .4-1.9 .4-1.9 .4-1.8 .4-1.9 .4-1.8 .4-1.9 .4-1.8 .3-1.8 .4-1.7 .3-1.8 .4-1.8 .3-1.7 .3-1.7 .3-1.7 .3-1.8 .2-1.7 .3-1.7 .2-1.7 .2-1.8 .2-1.7 .1-1.8 .2-1.7 .1-1.7 .1-1.8 .1-1.7 .1-1.7 .1-1.8 .1-1.7 .1-1.7 .2-1.7 .1-1.7 .1-1.7 .1-1.7 .2-1.7 .1-1.7 .1-1.7 .1-1.8 .2-1.7 .1-1.8 0-1.8 0-1.7 0-1.8 0-1.9 0-1.8 0-1.8 0-1.9-.1-1.9 0-1.9 0-1.9 0-2-.1-2 0-2 0-2 0-2.1 0-2.2 0-2.1 0-2.3 0-2.2 0-2.4-.1-2.3 0-2.5 0-2.5 0-2.5 0-2.7-.2-2.7-.2-2.8-.2-2.8-.2-3-.2-3-.2-3.1-.3-3.2-.3-3.2-.3-3.2-.3-3.4-.4-3.4-.4-3.5-.4-3.6-.4-3.8-.5-3.8-.4-4-.6-4.1-.6-4.3-.7-4.4-.8-4.6-.7-4.8-.8-5.1-.7-5.2-.8-5.3-.9-5.3-1-5.5-1-5.8-1.1-5.8-1.2-5.4-1.3-4.2-1.6-2.7-2-1.6-2.1-.8-1.7 .3-1.4 1.4-1.6 1.7-1.6 1.9-1.5 1.9-1.5 2-1.4 1.9-1.4 1.9-1.3 1.9-1.3 1.9-1.2 1.9-1.1 1.8-1.2 1.9-1 1.7-1.1 1.8-1 1.7-.9 1.8-1.2 1.7-1.1 1.7-1 1.7-1.1 1.7-1 1.7-1 1.7-.9 1.8-1 1.8-.9 1.8-.8 1.8-.9 1.9-.8 1.8-.8 1.9-.8 1.9-.7 1.9-.7 1.9-.7 2-.6 2-.7 2.2-.5 2.2-.6 2.3-.5 2.2-.4 2.1-.5z"/><path d="M865.7 118.3l2.1-.1 2.2-.1 2.2-.1 2.1-.1 2.2 0 2.2 0 2.2 0 2.1 0 2.2 .1 2.1 0 2.2 .1 2.1 .1 2.1 .1 2.2 .2 2.1 .1 2.1 .2 2.1 .2 2.1 .2 2 .2 2.1 .3 2.1 .2 2.1 .3 2 .3 2 .3 2 .3 2-.2 2-.1 2-.2 1.9-.1 2-.1 1.9-.1 1.9-.1 2-.1 1.9-.1 1.9 0 2-.1 1.9 0 1.9-.1 1.9 0 2 0 1.9 0 1.9 0 2 0 1.9 0 1.9 0 2 .1 1.9 .1 2 0 1.9 .1 2 .1 2-.2 1.9-.2 2-.1 2-.2 2-.1 2-.2 2-.1 2-.2 2-.1 2.1-.1 2.1-.2 2.1-.1 2.1-.1 2.1-.1 2.1-.2 2.2-.1 2.2-.1 2.2-.1 2.3-.1 2.3 0 2.3-.1 2.3-.1 2.4 0 2.4 0 2.5-.1 2.5-.2 2.5-.2 2.7-.2 2.8-.2 2.8-.2 2.8-.2 2.8-.1 2.8-.1 2.9 0 2.9-.1 3 0 3.1 0 3.1 0 3.2 0 3.2 0 3.3 .1 3.4 .1 3.5 .2 3.5 .1 3.7 .2 3.8 0 3.8-.4 3.9-.4 3.9-.3 3.8-.2 3.7-.1 3.6-.1 3.5 0 3.4 .1 3.1 .1 2.8 .3 2.6 .3 2.4 .4 2.1 .5 1.7 .5 1.3 .5 1.1 .6 .9 1.2 .9 1.8 .6 1.7-.1 1.8-.7 1.9-1.1 1.8-1.4 1.8-1.6 1.8-1.9 1.7-2.1 1.7-2.1 1.7-2.3 1.6-2.3 1.6-2.2 1.5-2.3 1.5-2.2 1.4-2.3 1.4-2.4 1.3-2.4 1.4-2.4 1.2-2.3 1.2-2.3 1.3-2.3 1.2-2.2 1.1-2.3 1.1-2.4 1.1-2.3 1.1-2.4 1-2.2 1-2.2 .9-2.1 1-2.1 .9-2.1 1-2 .9-2 .8-2 .9-2.1 .8-2.1 .8-2 .6-2 .6-2.1 .6-1.9 .6-2 .6-2 .5-1.9 .6-2 .5-1.9 .5-2 .4-2 .5-1.9 .4-2 .4-1.9 .4-1.8 .4-1.9 .4-1.8 .4-1.9 .4-1.8 .3-1.8 .4-1.8 .3-1.8 .4-1.7 .3-1.8 .3-1.7 .3-1.7 .3-1.8 .2-1.7 .3-1.7 .2-1.8 .2-1.7 .2-1.7 .1-1.8 .2-1.8 .1-1.7 .1-1.8 .1-1.7 .1-1.7 .1-1.8 .1-1.7 .1-1.7 .2-1.7 .1-1.7 .1-1.7 .1-1.7 .2-1.7 .1-1.8 .1-1.7 .1-1.7 .2-1.8 .1-1.8 0-1.8 0-1.8 0-1.8 0-1.8 0-1.8 0-1.9 0-1.8-.1-1.9 0-1.9 0-2 0-1.9-.1-2 0-2.1 0-2 0-2.1 0-2.2 0-2.2 0-2.2 0-2.3 0-2.3 0-2.4-.1-2.5 0-2.5 0-2.6 0-2.6-.2-2.7-.2-2.8-.2-2.9-.1-3-.3-3-.2-3.1-.2-3.2-.3-3.2-.3-3.3-.4-3.3-.3-3.5-.4-3.5-.4-3.6-.4-3.8-.5-3.8-.4-4-.6-4.2-.6-4.3-.7-4.4-.7-4.6-.8-4.8-.7-5.1-.8-5.3-.8-5.3-.9-5.3-.9-5.5-1-5.9-1.1-5.8-1.1-5.5-1.3-4.2-1.7-2.7-1.9-1.7-2.1-.7-1.7 .3-1.5 1.4-1.6 1.8-1.6 1.9-1.5 2-1.5 2-1.4 1.9-1.3 2-1.3 1.9-1.3 1.9-1.2 1.9-1.2 1.9-1.1 1.8-1 1.7-1.1 1.8-1 1.7-.9 1.8-1.2 1.7-1.1 1.6-1 1.7-1.1 1.7-1 1.7-1 1.8-1 1.7-.9 1.8-.9 1.8-.9 1.8-.8 1.8-.8 1.9-.8 1.9-.8 1.9-.7 1.8-.7 2-.7 2-.7 2-.6 2.2-.6 2.2-.5 2.3-.5 2.2-.5 2.2-.4z"/><path d="M865.1 116.8l2.2-.1 2.2-.1 2.2-.1 2.2-.1 2.2 0 2.1 0 2.2 0 2.2 0 2.2 .1 2.1 0 2.2 .1 2.1 .1 2.2 .2 2.1 .1 2.1 .2 2.1 .2 2.2 .2 2.1 .2 2.1 .2 2 .3 2.1 .2 2.1 .3 2.1 .3 2 .3 2 .3 2-.2 2-.1 2-.1 1.9-.1 2-.2 1.9-.1 2-.1 1.9 0 2-.1 1.9-.1 2 0 1.9-.1 1.9 0 2 0 1.9 0 1.9-.1 2 0 1.9 .1 2 0 1.9 0 2 .1 1.9 .1 2 0 1.9 .1 2 .1 2-.2 1.9-.1 2-.2 2-.2 2-.1 2-.2 2-.1 2.1-.2 2-.1 2-.1 2.1-.2 2.1-.1 2.1-.1 2.2-.1 2.1-.1 2.2-.1 2.2-.2 2.2 0 2.3-.1 2.3-.1 2.3-.1 2.3 0 2.4-.1 2.4 0 2.4 0 2.5-.2 2.6-.2 2.7-.3 2.7-.2 2.8-.2 2.8-.2 2.8-.1 2.9-.1 2.9-.1 2.9-.1 3 0 3.1-.1 3.1 0 3.2 0 3.3 .1 3.3 0 3.4 .1 3.5 .1 3.6 .1 3.7 .2 3.8 0 3.9-.4 4-.4 3.9-.4 3.8-.2 3.7-.2 3.7-.1 3.5 0 3.4 0 3.2 .2 2.8 .2 2.6 .3 2.4 .4 2.1 .4 1.8 .5 1.3 .5 1.1 .6 .9 1.2 .9 1.7 .5 1.8 0 1.8-.8 1.9-1.1 1.8-1.4 1.8-1.6 1.8-2 1.8-2.1 1.7-2.2 1.6-2.3 1.6-2.3 1.6-2.2 1.5-2.3 1.5-2.3 1.4-2.4 1.4-2.4 1.4-2.4 1.3-2.4 1.3-2.3 1.2-2.3 1.2-2.3 1.2-2.3 1.2-2.3 1.1-2.4 1.1-2.3 1-2.3 1-2.2 1-2.2 1-2.2 1-2 .9-2 .9-2.1 .9-2 .9-2 .9-2.1 .8-2 .8-2.1 .6-2 .7-2 .6-2 .6-2 .5-1.9 .6-2 .5-1.9 .5-2 .5-2 .5-2 .4-1.9 .5-2 .4-1.9 .4-1.8 .4-1.9 .4-1.9 .4-1.8 .3-1.8 .4-1.8 .4-1.8 .3-1.8 .3-1.8 .4-1.7 .3-1.8 .3-1.7 .3-1.8 .2-1.7 .3-1.7 .2-1.8 .2-1.7 .2-1.8 .2-1.7 .1-1.8 .1-1.8 .1-1.7 .1-1.8 .1-1.7 .1-1.8 .1-1.7 .1-1.7 .2-1.7 .1-1.7 .1-1.7 .1-1.8 .2-1.7 .1-1.7 .1-1.8 .1-1.7 .2-1.8 .1-1.8 0-1.8 0-1.8 0-1.8 0-1.8 0-1.9 0-1.8 0-1.9-.1-1.9 0-1.9 0-2 0-1.9-.1-2 0-2.1 0-2 0-2.2 0-2.1 0-2.2 0-2.2 0-2.3 0-2.4 0-2.4 0-2.4-.1-2.6 0-2.6 0-2.6-.1-2.7-.2-2.9-.2-2.9-.2-2.9-.2-3.1-.2-3.1-.3-3.2-.3-3.2-.3-3.3-.3-3.4-.3-3.4-.4-3.6-.4-3.6-.4-3.8-.5-3.8-.5-4.1-.5-4.1-.6-4.3-.7-4.5-.7-4.6-.7-4.9-.8-5-.7-5.3-.8-5.4-.9-5.3-.9-5.6-1.1-5.9-1-5.9-1.1-5.5-1.3-4.3-1.6-2.7-1.9-1.6-2.2-.7-1.6 .3-1.5 1.5-1.6 1.8-1.6 2-1.5 2-1.5 2-1.4 2-1.4 2-1.3 1.9-1.2 1.9-1.2 1.9-1.2 1.9-1.1 1.8-1.1 1.8-1 1.7-1 1.7-.9 1.7-1.2 1.7-1.1 1.7-1.1 1.6-1 1.7-1 1.7-1 1.8-1 1.7-.9 1.8-.9 1.8-.9 1.8-.8 1.8-.9 1.9-.7 1.9-.8 1.8-.8 1.9-.7 2-.7 2-.6 2-.6 2.2-.6 2.3-.5 2.2-.5 2.3-.5 2.2-.5z"/><path d="M864.6 115.3l2.2-.2 2.2-.1 2.2 0 2.2-.1 2.2 0 2.2 0 2.2 0 2.2 0 2.2 .1 2.1 .1 2.2 .1 2.2 .1 2.1 .1 2.1 .2 2.2 .1 2.1 .2 2.1 .2 2.1 .2 2.2 .3 2.1 .2 2.1 .3 2 .3 2.1 .3 2.1 .3 2 .3 2-.1 2-.2 2-.1 1.9-.1 2-.1 2-.1 1.9-.1 2-.1 1.9-.1 2 0 1.9-.1 2 0 1.9 0 2-.1 1.9 0 2 0 1.9 0 2 0 1.9 .1 2 0 1.9 .1 2 .1 2 0 1.9 .1 2 .1 2-.2 1.9-.1 2-.2 2-.2 2-.1 2-.2 2.1-.1 2-.2 2-.1 2.1-.1 2.1-.2 2.1-.1 2.1-.1 2.1-.1 2.2-.1 2.1-.1 2.3-.1 2.2-.1 2.2-.1 2.3-.1 2.4-.1 2.3 0 2.4-.1 2.4 0 2.4 0 2.5-.2 2.6-.2 2.6-.3 2.8-.2 2.8-.3 2.8-.1 2.8-.2 2.9-.1 2.9-.1 2.9-.1 3 0 3.1-.1 3.2 0 3.2 0 3.3 0 3.3 0 3.5 .1 3.5 .1 3.6 .1 3.7 .1 3.8 0 4-.5 4-.4 3.9-.4 3.9-.2 3.8-.3 3.7-.1 3.6 0 3.4 0 3.1 .1 2.9 .2 2.6 .3 2.5 .3 2.1 .4 1.7 .5 1.4 .5 1.1 .6 .9 1.1 .9 1.8 .5 1.8-.1 1.8-.7 1.9-1.2 1.8-1.4 1.8-1.7 1.8-2 1.8-2.1 1.7-2.2 1.6-2.4 1.7-2.3 1.5-2.3 1.6-2.3 1.4-2.3 1.5-2.4 1.4-2.4 1.3-2.5 1.3-2.4 1.3-2.4 1.2-2.3 1.2-2.3 1.2-2.3 1.2-2.3 1.1-2.3 1.1-2.4 1.1-2.3 1-2.2 1-2.2 1-2.1 .9-2 1-2 .9-2 .9-2 .9-2.1 .9-2 .8-2.1 .8-2 .6-2 .7-2 .6-2 .6-2 .6-2 .5-1.9 .6-2 .5-2 .5-2 .4-1.9 .5-2 .4-1.9 .4-2 .5-1.8 .4-1.9 .4-1.9 .3-1.8 .4-1.9 .4-1.8 .3-1.8 .4-1.8 .3-1.7 .4-1.8 .3-1.8 .3-1.7 .3-1.7 .2-1.8 .3-1.7 .2-1.8 .2-1.7 .2-1.8 .2-1.8 .1-1.8 .1-1.7 .1-1.8 .1-1.8 .1-1.7 .1-1.8 .1-1.7 .1-1.7 .2-1.7 .1-1.8 .1-1.7 .1-1.7 .2-1.7 .1-1.8 .1-1.7 .1-1.8 .2-1.8 .1-1.8 0-1.8 0-1.8 0-1.8 0-1.8 0-1.9 0-1.9 0-1.8 0-2-.1-1.9 0-1.9 0-2-.1-2 0-2.1 0-2.1 0-2.1 0-2.1 0-2.2 0-2.3 0-2.3 0-2.3 0-2.4 0-2.5 0-2.6-.1-2.6 0-2.6-.1-2.8-.2-2.8-.2-2.9-.2-3-.2-3.1-.2-3.1-.2-3.2-.3-3.2-.3-3.3-.3-3.4-.4-3.5-.4-3.6-.3-3.6-.5-3.8-.4-3.9-.5-4-.5-4.2-.6-4.3-.7-4.4-.7-4.7-.7-4.9-.7-5.1-.8-5.3-.8-5.3-.8-5.4-1-5.6-1-6-1-5.9-1.1-5.6-1.3-4.3-1.5-2.7-2-1.7-2.1-.7-1.7 .4-1.5 1.5-1.6 1.9-1.6 2-1.5 2.1-1.5 2.1-1.4 2-1.3 1.9-1.3 2-1.3 2-1.2 1.9-1.1 1.8-1.1 1.8-1.1 1.8-1 1.7-1 1.7-.9 1.7-1.2 1.7-1.1 1.6-1.1 1.7-1 1.7-1 1.7-1 1.7-1 1.7-.9 1.8-.9 1.8-.9 1.8-.9 1.8-.8 1.9-.8 1.8-.7 1.9-.8 1.9-.7 1.9-.7 2-.7 2.1-.6 2.2-.5 2.3-.6 2.3-.5 2.2-.4 2.2-.5z"/><path d="M864.1 113.7l2.2-.1 2.2-.1 2.2-.1 2.2 0 2.2 0 2.2 0 2.2 0 2.2 0 2.2 .1 2.2 .1 2.2 .1 2.2 .1 2.1 .1 2.2 .2 2.1 .2 2.2 .2 2.1 .2 2.1 .2 2.2 .3 2.1 .2 2.1 .3 2.1 .3 2.1 .3 2 .3 2.1 .3 2-.1 2-.1 2-.2 2-.1 1.9-.1 2-.1 2-.1 1.9 0 2-.1 2-.1 1.9 0 2 0 1.9-.1 2 0 1.9 0 2 0 1.9 0 2 0 2 .1 1.9 0 2 .1 2 0 1.9 .1 2 .1 2 .1 2-.2 2-.1 1.9-.2 2-.2 2-.1 2.1-.2 2-.1 2-.1 2.1-.2 2-.1 2.1-.1 2.1-.2 2.1-.1 2.2-.1 2.1-.1 2.2-.1 2.2-.1 2.3-.1 2.2-.1 2.3-.1 2.3 0 2.4-.1 2.3 0 2.5-.1 2.4 0 2.5-.2 2.6-.2 2.6-.3 2.8-.2 2.8-.3 2.8-.2 2.8-.1 2.8-.2 2.9-.1 3-.1 3-.1 3.1 0 3.2-.1 3.3 0 3.3 0 3.3 0 3.5 0 3.5 .1 3.6 .1 3.8 .1 3.9 0 4-.5 4-.5 4-.4 3.9-.3 3.8-.2 3.7-.2 3.7-.1 3.4 0 3.2 .1 2.9 .2 2.7 .2 2.4 .4 2.2 .3 1.7 .5 1.3 .5 1.1 .5 1 1.2 .9 1.8 .5 1.7-.1 1.9-.8 1.8-1.2 1.9-1.4 1.8-1.7 1.8-2 1.8-2.2 1.7-2.3 1.7-2.3 1.6-2.4 1.6-2.3 1.5-2.4 1.5-2.3 1.4-2.4 1.4-2.5 1.4-2.5 1.3-2.4 1.2-2.4 1.3-2.3 1.2-2.4 1.2-2.3 1.1-2.3 1.2-2.3 1.1-2.3 1-2.3 1.1-2.2 1-2.2 .9-2.1 1-2 1-2 .9-2 .9-2 .9-2 .9-2.1 .8-2 .8-2.1 .7-2 .6-2 .6-2 .6-2 .6-1.9 .6-2 .5-2 .5-1.9 .5-2 .5-2 .5-2 .4-1.9 .4-1.9 .4-1.9 .4-1.9 .4-1.9 .4-1.8 .4-1.9 .4-1.8 .3-1.8 .4-1.8 .3-1.8 .4-1.8 .3-1.7 .3-1.8 .3-1.7 .2-1.8 .3-1.7 .2-1.8 .2-1.8 .2-1.7 .2-1.8 .1-1.8 .1-1.8 .1-1.8 .1-1.7 .1-1.8 .1-1.7 .1-1.8 .1-1.7 .2-1.8 .1-1.7 .1-1.7 .1-1.8 .2-1.7 .1-1.7 .1-1.8 .1-1.8 .2-1.8 .1-1.8 0-1.8 0-1.8 0-1.8 0-1.9 0-1.8 0-1.9 0-1.9 0-1.9-.1-2 0-1.9 0-2 0-2-.1-2.1 0-2.1 0-2.1 0-2.2 0-2.2 0-2.2 0-2.3 0-2.4 0-2.4 0-2.5 0-2.6 0-2.6-.1-2.7-.1-2.7-.2-2.8-.2-3-.2-3-.1-3-.3-3.2-.2-3.2-.3-3.2-.3-3.4-.3-3.4-.3-3.5-.4-3.5-.4-3.7-.4-3.8-.4-3.9-.5-4-.5-4.2-.6-4.3-.7-4.5-.7-4.7-.7-4.9-.7-5.1-.7-5.3-.8-5.4-.8-5.4-1-5.6-1-6.1-.9-6-1.1-5.6-1.3-4.4-1.6-2.7-1.9-1.6-2.1-.7-1.7 .4-1.5 1.5-1.6 2-1.6 2.1-1.5 2.1-1.5 2.1-1.4 2-1.4 2-1.3 2-1.2 2-1.2 1.9-1.2 1.8-1.1 1.8-1 1.8-1 1.7-1 1.7-1 1.7-1.1 1.6-1.1 1.7-1.1 1.6-1 1.7-1.1 1.7-.9 1.7-1 1.7-.9 1.8-.9 1.7-.9 1.8-.9 1.9-.8 1.8-.8 1.9-.8 1.9-.7 1.9-.7 1.9-.7 2-.7 2.1-.6 2.2-.6 2.3-.5 2.3-.5 2.2-.5 2.3-.4z"/><path d="M863.5 112.2l2.2-.1 2.2-.1 2.3-.1 2.2 0 2.2 0 2.3 0 2.2 0 2.2 .1 2.2 0 2.2 .1 2.2 .1 2.2 .1 2.2 .2 2.1 .1 2.2 .2 2.1 .2 2.2 .2 2.1 .3 2.2 .2 2.1 .3 2.1 .3 2.1 .3 2.1 .3 2.1 .3 2 .4 2.1-.2 2-.1 2-.1 2-.1 2-.1 1.9-.1 2-.1 2-.1 2-.1 1.9 0 2 0 2-.1 1.9 0 2 0 2 0 1.9 0 2 0 2 0 1.9 0 2 .1 2 .1 1.9 0 2 .1 2 .1 2 .1 2-.1 2-.2 2-.2 2-.2 2-.1 2-.2 2-.1 2.1-.1 2-.2 2.1-.1 2.1-.1 2.1-.2 2.1-.1 2.1-.1 2.2-.1 2.2-.1 2.2-.1 2.2-.1 2.3-.1 2.3-.1 2.3 0 2.3-.1 2.4 0 2.4 0 2.5-.1 2.5-.2 2.5-.2 2.7-.3 2.7-.2 2.8-.3 2.8-.2 2.9-.2 2.8-.1 2.9-.2 3-.1 3.1-.1 3.1-.1 3.2 0 3.2-.1 3.4 0 3.3 0 3.5 0 3.6 .1 3.6 0 3.8 .1 3.9 0 4.1-.5 4-.5 4-.5 4-.3 3.9-.3 3.7-.2 3.7-.1 3.5 0 3.2 0 2.9 .2 2.7 .2 2.5 .3 2.1 .4 1.8 .4 1.3 .5 1.1 .5 1 1.1 .8 1.8 .6 1.8-.1 1.9-.8 1.8-1.2 1.9-1.5 1.8-1.7 1.8-2.1 1.8-2.2 1.7-2.3 1.7-2.4 1.6-2.4 1.6-2.4 1.5-2.3 1.5-2.4 1.5-2.5 1.4-2.4 1.3-2.5 1.3-2.5 1.3-2.4 1.2-2.4 1.2-2.3 1.2-2.3 1.2-2.3 1.1-2.4 1.1-2.3 1.1-2.2 1-2.3 1-2.1 1-2.1 1-2 .9-2 1-2 .9-2 .9-2 .9-2 .8-2.1 .8-2 .7-2 .6-2 .6-2 .6-2 .6-2 .6-1.9 .6-2 .5-2 .5-2 .5-2 .4-2 .5-1.9 .4-1.9 .4-1.9 .4-1.9 .4-1.9 .4-1.9 .4-1.8 .3-1.8 .4-1.9 .4-1.8 .3-1.8 .3-1.7 .4-1.8 .3-1.8 .3-1.7 .2-1.8 .3-1.7 .2-1.8 .2-1.8 .2-1.8 .2-1.8 .1-1.8 .1-1.8 .1-1.7 .1-1.8 .1-1.8 .1-1.7 .1-1.8 .1-1.7 .1-1.8 .2-1.7 .1-1.8 .1-1.7 .2-1.7 .1-1.8 .1-1.8 .1-1.8 .2-1.7 .1-1.8 0-1.9 0-1.8 0-1.8 0-1.9 0-1.9 0-1.9 0-1.9 0-1.9-.1-1.9 0-2 0-2 0-2-.1-2.1 0-2.1 0-2.1 0-2.2 0-2.2 0-2.3 0-2.3 0-2.4 0-2.4 0-2.5 0-2.6 0-2.6 0-2.7-.2-2.7-.2-2.9-.2-2.9-.1-3-.2-3.1-.2-3.2-.2-3.2-.3-3.3-.3-3.3-.3-3.4-.4-3.5-.3-3.6-.4-3.7-.4-3.8-.4-3.9-.5-4.1-.5-4.2-.6-4.3-.7-4.5-.7-4.7-.6-4.9-.8-5.2-.7-5.3-.7-5.4-.9-5.4-.9-5.7-1-6.1-.9-6-1.1-5.7-1.3-4.5-1.5-2.7-2-1.6-2.1-.7-1.6 .5-1.6 1.6-1.6 2-1.6 2.1-1.5 2.2-1.5 2.1-1.4 2.1-1.3 2-1.3 2-1.3 2-1.2 1.9-1.1 1.9-1.1 1.7-1.1 1.8-1 1.7-.9 1.7-1 1.7-1.1 1.6-1.1 1.6-1.1 1.7-1 1.6-1.1 1.7-1 1.7-.9 1.7-1 1.8-.9 1.7-.9 1.8-.8 1.9-.8 1.8-.8 1.9-.8 1.8-.8 1.9-.7 2-.7 2-.6 2.1-.6 2.2-.6 2.3-.5 2.3-.5 2.3-.5 2.2-.5z"/><path d="M863 110.7l2.2-.1 2.2-.1 2.3-.1 2.2 0 2.3 0 2.2 0 2.2 0 2.3 .1 2.2 0 2.2 .1 2.2 .1 2.2 .2 2.2 .1 2.2 .2 2.1 .2 2.2 .2 2.2 .2 2.1 .2 2.2 .3 2.1 .3 2.1 .3 2.2 .3 2.1 .3 2.1 .4 2 .3 2.1-.1 2-.2 2-.1 2-.1 2-.1 2-.1 2-.1 2 0 1.9-.1 2-.1 2 0 2 0 1.9 0 2-.1 2 0 2 0 1.9 .1 2 0 2 0 2 .1 1.9 .1 2 0 2 .1 2 .1 2 .1 2-.1 2-.2 2-.2 2-.1 2-.2 2-.2 2.1-.1 2-.1 2.1-.2 2-.1 2.1-.1 2.1-.2 2.2-.1 2.1-.1 2.2-.1 2.2-.1 2.2-.1 2.2-.1 2.3-.1 2.3 0 2.3-.1 2.3 0 2.4-.1 2.4 0 2.5 0 2.5-.3 2.5-.2 2.7-.3 2.7-.3 2.8-.2 2.8-.2 2.8-.2 2.9-.2 2.9-.1 3-.2 3.1-.1 3.1-.1 3.2-.1 3.3-.1 3.3 0 3.5 0 3.4 0 3.6 0 3.7 .1 3.8 0 4 0 4.1-.6 4.1-.5 4-.5 4-.4 3.9-.3 3.8-.2 3.7-.1 3.6-.1 3.2 .1 2.9 .1 2.7 .2 2.5 .3 2.2 .3 1.8 .4 1.3 .5 1.1 .5 1 1.1 .8 1.8 .6 1.8-.1 1.8-.9 1.9-1.2 1.9-1.5 1.8-1.8 1.8-2 1.8-2.3 1.7-2.3 1.7-2.5 1.6-2.4 1.6-2.4 1.6-2.4 1.4-2.4 1.5-2.5 1.4-2.5 1.3-2.5 1.3-2.5 1.3-2.5 1.2-2.3 1.3-2.4 1.2-2.3 1.1-2.3 1.2-2.3 1.1-2.3 1-2.3 1.1-2.2 1-2.1 1-2.1 1-2 .9-2 1-2 .9-1.9 .9-2 .9-2.1 .8-2 .8-2.1 .7-2 .6-2 .7-2 .6-1.9 .6-2 .5-2 .6-2 .5-1.9 .5-2 .5-2 .5-2 .4-2 .4-1.9 .5-1.9 .4-1.9 .4-1.9 .4-1.9 .4-1.8 .3-1.9 .4-1.8 .3-1.8 .4-1.8 .3-1.8 .4-1.8 .3-1.7 .3-1.8 .2-1.8 .3-1.8 .2-1.7 .2-1.8 .2-1.8 .2-1.8 .1-1.8 .1-1.8 .1-1.8 .1-1.8 .1-1.8 .1-1.7 .1-1.8 .1-1.8 .1-1.7 .2-1.7 .1-1.8 .1-1.7 .1-1.8 .2-1.8 .1-1.7 .1-1.8 .2-1.8 .1-1.8 0-1.9 0-1.8 0-1.9 0-1.8 0-1.9 0-1.9 0-1.9 0-1.9-.1-2 0-2 0-2 0-2-.1-2.1 0-2.1 0-2.1 0-2.2 0-2.3 0-2.2 0-2.4 0-2.3 0-2.5 0-2.5 0-2.6 0-2.6 0-2.7-.2-2.8-.2-2.8-.1-3-.2-3-.2-3.1-.2-3.2-.2-3.2-.3-3.3-.2-3.3-.4-3.5-.3-3.5-.4-3.6-.3-3.7-.4-3.8-.5-4-.4-4-.5-4.2-.6-4.4-.7-4.5-.6-4.7-.7-4.9-.7-5.2-.7-5.4-.8-5.4-.8-5.5-.9-5.6-1-6.2-.9-6.1-1.1-5.8-1.2-4.4-1.6-2.8-1.9-1.6-2.1-.6-1.7 .5-1.5 1.6-1.6 2.1-1.6 2.1-1.5 2.3-1.5 2.1-1.5 2.2-1.3 2-1.3 2-1.2 2-1.2 1.9-1.1 1.9-1.1 1.8-1.1 1.7-1 1.7-1 1.7-.9 1.6-1.1 1.7-1.1 1.6-1.1 1.6-1.1 1.6-1 1.7-1 1.7-.9 1.7-1 1.7-.9 1.8-.9 1.8-.8 1.8-.9 1.9-.8 1.8-.7 1.9-.8 1.9-.7 1.9-.7 2.1-.7 2.1-.6 2.2-.6 2.3-.5 2.3-.5 2.3-.4 2.3-.5z"/><path d="M862.4 109.1l2.3-.1 2.2-.1 2.3 0 2.2-.1 2.3 0 2.2 .1 2.3 0 2.2 .1 2.3 0 2.2 .1 2.2 .2 2.2 .1 2.2 .2 2.2 .1 2.2 .2 2.2 .2 2.1 .3 2.2 .2 2.2 .3 2.1 .3 2.2 .3 2.1 .3 2.1 .3 2.1 .4 2.1 .3 2-.1 2.1-.1 2-.2 2-.1 2-.1 2-.1 2 0 2-.1 2-.1 2 0 2 0 2-.1 1.9 0 2 0 2 0 2 0 2 0 1.9 .1 2 0 2 .1 2 0 2 .1 2 .1 2 .1 2 .1 2-.1 2-.2 2-.2 2-.1 2-.2 2-.1 2.1-.2 2-.1 2.1-.2 2.1-.1 2.1-.1 2.1-.2 2.1-.1 2.2-.1 2.1-.1 2.2-.1 2.2-.1 2.3-.1 2.2 0 2.3-.1 2.4-.1 2.3 0 2.4-.1 2.4 0 2.4 0 2.5-.3 2.6-.2 2.6-.3 2.8-.3 2.8-.2 2.8-.3 2.8-.2 2.9-.2 2.9-.1 3-.2 3.1-.1 3.1-.1 3.3-.1 3.3-.1 3.3-.1 3.5 0 3.5 0 3.6 0 3.7 0 3.9 0 3.9 0 4.2-.6 4.1-.6 4.1-.5 4-.4 4-.3 3.8-.3 3.7-.2 3.6 0 3.3 0 3 .1 2.7 .2 2.5 .2 2.2 .3 1.8 .4 1.3 .4 1.1 .5 1 1.1 .8 1.8 .6 1.8-.1 1.9-.9 1.9-1.3 1.8-1.5 1.9-1.8 1.8-2.1 1.8-2.3 1.7-2.4 1.7-2.4 1.7-2.5 1.5-2.4 1.6-2.5 1.5-2.4 1.4-2.5 1.4-2.6 1.4-2.5 1.3-2.5 1.2-2.5 1.3-2.4 1.2-2.4 1.2-2.3 1.2-2.3 1.1-2.3 1.1-2.3 1.1-2.2 1-2.2 1-2.2 1-2 1-2 1-2 .9-1.9 1-2 .9-2 .9-2 .8-2.1 .8-2 .7-2 .7-2 .6-2 .6-2 .6-2 .6-1.9 .5-2 .6-2 .5-2 .5-2 .4-2 .5-2 .4-1.9 .4-1.9 .4-1.9 .5-1.9 .3-1.9 .4-1.9 .4-1.8 .4-1.8 .3-1.9 .4-1.8 .3-1.8 .4-1.8 .3-1.7 .3-1.8 .2-1.8 .3-1.8 .2-1.7 .2-1.8 .2-1.8 .2-1.8 .1-1.9 .1-1.8 .1-1.8 .1-1.8 .1-1.8 .1-1.7 .1-1.8 .1-1.8 .1-1.7 .2-1.8 .1-1.7 .1-1.8 .1-1.8 .2-1.7 .1-1.8 .1-1.8 .2-1.8 .1-1.8 0-1.9 0-1.8 0-1.9 0-1.8 0-1.9 0-1.9 0-2 0-1.9-.1-2 0-1.9 0-2.1 0-2-.1-2.1 0-2.1 0-2.2 0-2.2 0-2.2 0-2.3 0-2.3 0-2.4 0-2.5 0-2.5 0-2.6 0-2.6 0-2.7-.2-2.8-.2-2.9-.1-2.9-.2-3.1-.2-3.1-.1-3.2-.3-3.2-.2-3.3-.3-3.4-.3-3.4-.3-3.6-.4-3.6-.4-3.7-.4-3.8-.4-4-.4-4.1-.5-4.2-.6-4.4-.7-4.5-.6-4.7-.7-4.9-.7-5.2-.7-5.4-.7-5.5-.8-5.5-.9-5.7-1-6.2-.9-6.2-1.1-5.8-1.2-4.5-1.5-2.7-2-1.7-2.1-.6-1.6 .5-1.5 1.7-1.7 2.1-1.6 2.3-1.5 2.2-1.5 2.3-1.4 2.1-1.4 2.1-1.2 2-1.3 2-1.2 2-1.1 1.8-1.1 1.8-1 1.7-1 1.7-1 1.6-.9 1.7-1.1 1.6-1.2 1.6-1 1.6-1.1 1.6-1 1.7-1 1.7-1 1.7-.9 1.7-.9 1.8-.9 1.8-.9 1.8-.8 1.8-.8 1.9-.8 1.8-.7 2-.8 1.9-.7 2-.6 2.2-.6 2.2-.6 2.3-.5 2.3-.5 2.3-.5 2.3-.4z"/><path d="M861.9 107.6l2.2-.1 2.3-.1 2.3 0 2.2-.1 2.3 0 2.3 .1 2.2 0 2.3 .1 2.2 0 2.3 .2 2.2 .1 2.2 .1 2.2 .2 2.2 .2 2.2 .2 2.2 .2 2.2 .2 2.2 .3 2.2 .3 2.1 .3 2.2 .3 2.1 .3 2.2 .3 2.1 .4 2.1 .3 2-.1 2.1-.1 2-.1 2-.1 2-.1 2-.1 2.1-.1 2-.1 2 0 2-.1 2 0 2 0 1.9 0 2 0 2 0 2 0 2 0 2 0 2 .1 2 .1 2 0 2 .1 2 .1 2 .1 2 .1 2-.1 2-.2 2-.2 2-.1 2-.2 2.1-.1 2-.2 2.1-.1 2-.2 2.1-.1 2.1-.1 2.1-.1 2.2-.2 2.1-.1 2.2-.1 2.2-.1 2.2-.1 2.2 0 2.3-.1 2.3-.1 2.3-.1 2.4 0 2.4 0 2.4-.1 2.4 0 2.5-.3 2.6-.2 2.6-.3 2.7-.3 2.8-.3 2.8-.2 2.9-.2 2.9-.2 2.9-.2 3-.2 3.1-.1 3.2-.2 3.2-.1 3.3-.1 3.4-.1 3.5 0 3.5-.1 3.6 0 3.8 0 3.9 .1 4-.1 4.1-.7 4.2-.6 4.2-.5 4-.4 4-.4 3.9-.3 3.8-.2 3.6-.1 3.3 0 3 .1 2.7 .1 2.6 .2 2.2 .3 1.7 .4 1.4 .4 1.1 .5 1 1.1 .8 1.8 .6 1.8-.2 1.9-.8 1.8-1.3 1.9-1.6 1.9-1.8 1.8-2.2 1.8-2.3 1.7-2.4 1.7-2.5 1.7-2.5 1.6-2.5 1.5-2.4 1.5-2.5 1.4-2.5 1.4-2.6 1.4-2.6 1.3-2.5 1.3-2.5 1.2-2.4 1.2-2.4 1.2-2.4 1.2-2.3 1.1-2.3 1.1-2.2 1.1-2.3 1.1-2.2 1-2.1 1-2 1-2 1-2 .9-1.9 1-2 .9-1.9 .9-2.1 .8-2 .8-2 .7-2 .7-2.1 .6-1.9 .6-2 .6-2 .6-2 .6-1.9 .5-2 .5-2.1 .5-2 .5-2 .4-1.9 .5-2 .4-1.9 .4-1.9 .4-1.9 .4-1.9 .4-1.9 .4-1.8 .4-1.9 .3-1.8 .4-1.8 .3-1.8 .3-1.8 .4-1.8 .3-1.8 .2-1.8 .3-1.8 .2-1.8 .2-1.8 .2-1.8 .1-1.8 .2-1.8 .1-1.8 .1-1.8 .1-1.8 .1-1.8 .1-1.8 .1-1.8 .1-1.8 .1-1.7 .2-1.8 .1-1.8 .1-1.7 .1-1.8 .2-1.8 .1-1.8 .1-1.8 .1-1.8 .2-1.8 0-1.9 0-1.8 0-1.9 0-1.9 0-1.9 0-1.9 0-1.9 0-2-.1-1.9 0-2 0-2 0-2.1-.1-2.1 0-2.1 0-2.2 0-2.2 0-2.2 0-2.3 0-2.4 0-2.4 0-2.4 0-2.6 0-2.6 0-2.6 0-2.8-.2-2.8-.1-2.8-.2-3-.2-3.1-.1-3.1-.2-3.2-.2-3.2-.3-3.4-.2-3.3-.3-3.5-.4-3.5-.3-3.7-.4-3.7-.4-3.9-.4-3.9-.5-4.1-.5-4.3-.5-4.3-.7-4.6-.6-4.7-.7-5-.6-5.2-.7-5.4-.8-5.5-.8-5.5-.9-5.7-.9-6.3-.9-6.3-1-5.8-1.2-4.6-1.6-2.7-1.9-1.6-2.1-.7-1.7 .6-1.5 1.7-1.6 2.2-1.6 2.3-1.6 2.3-1.4 2.3-1.5 2.2-1.3 2.1-1.3 2-1.2 2-1.2 2-1.1 1.8-1.1 1.8-1 1.7-1 1.6-1 1.7-.9 1.7-1.2 1.6-1.1 1.6-1 1.5-1.1 1.7-1 1.6-1 1.7-1 1.7-.9 1.7-.9 1.7-.9 1.8-.9 1.8-.8 1.9-.8 1.8-.8 1.9-.8 1.9-.7 2-.7 2-.7 2.1-.6 2.3-.5 2.3-.6 2.4-.5 2.3-.4 2.2-.5z"/><path d="M861.3 106l2.3-.1 2.3 0 2.2-.1 2.3 0 2.3 0 2.3 0 2.3 .1 2.3 .1 2.2 .1 2.3 .1 2.2 .1 2.2 .1 2.3 .2 2.2 .2 2.2 .2 2.2 .2 2.2 .3 2.2 .2 2.2 .3 2.1 .3 2.2 .4 2.2 .3 2.1 .3 2.1 .4 2.1 .3 2.1-.1 2.1-.1 2-.1 2-.1 2.1-.1 2-.1 2-.1 2 0 2-.1 2 0 2.1 0 2-.1 1.9 0 2 0 2 0 2 0 2 .1 2 0 2 .1 2 0 2 .1 2 .1 2 .1 2 .1 2.1 .1 2-.1 2-.2 2-.2 2-.1 2.1-.2 2-.1 2.1-.2 2-.1 2.1-.2 2.1-.1 2.1-.1 2.1-.1 2.1-.2 2.2-.1 2.2-.1 2.2-.1 2.2 0 2.2-.1 2.3-.1 2.3-.1 2.3 0 2.4-.1 2.3 0 2.4-.1 2.5 0 2.5-.2 2.5-.3 2.7-.3 2.7-.3 2.8-.3 2.8-.3 2.9-.2 2.8-.2 3-.2 3-.2 3.1-.2 3.2-.1 3.2-.2 3.4-.1 3.4-.1 3.5-.1 3.5 0 3.7 0 3.8 0 3.9 0 4.1-.1 4.1-.7 4.3-.7 4.1-.5 4.2-.5 4-.4 3.9-.3 3.8-.2 3.7-.2 3.3 0 3 .1 2.8 .1 2.5 .2 2.3 .2 1.7 .4 1.4 .4 1.1 .4 1 1.1 .9 1.8 .5 1.9-.2 1.8-.8 1.9-1.4 1.9-1.6 1.9-1.8 1.8-2.2 1.8-2.3 1.7-2.5 1.7-2.5 1.7-2.6 1.6-2.5 1.5-2.5 1.5-2.5 1.5-2.6 1.4-2.6 1.3-2.6 1.3-2.6 1.3-2.4 1.2-2.5 1.3-2.4 1.2-2.3 1.1-2.3 1.2-2.3 1.1-2.3 1.1-2.2 1-2.2 1-2.1 1-2 1-2 1-1.9 1-2 .9-1.9 1-2 .9-2 .8-2 .8-2.1 .7-2 .7-2 .6-2 .7-2 .6-1.9 .6-2 .5-2 .6-2 .5-2 .5-2 .4-2 .5-2 .4-2 .5-1.9 .4-1.9 .4-1.9 .4-1.9 .4-1.9 .4-1.9 .3-1.8 .4-1.9 .3-1.8 .4-1.8 .3-1.8 .4-1.8 .2-1.8 .3-1.8 .2-1.8 .3-1.8 .2-1.8 .2-1.8 .1-1.8 .2-1.9 .1-1.8 .1-1.8 .1-1.8 .1-1.8 .1-1.8 .1-1.8 .1-1.8 .1-1.8 .1-1.7 .2-1.8 .1-1.8 .1-1.8 .2-1.7 .1-1.8 .1-1.9 .1-1.8 .2-1.8 0-1.9 0-1.8 0-1.9 0-1.9 0-1.9 0-1.9 0-2 0-1.9-.1-2 0-2 0-2-.1-2.1 0-2.1 0-2.1 0-2.2 0-2.2 0-2.3 0-2.3 0-2.3 0-2.4 0-2.5 0-2.6 0-2.6 0-2.6 0-2.8-.2-2.8-.1-2.9-.2-3-.1-3-.2-3.2-.2-3.2-.2-3.3-.2-3.3-.3-3.4-.3-3.5-.3-3.5-.4-3.7-.3-3.7-.4-3.9-.4-4-.5-4.1-.5-4.2-.5-4.4-.7-4.6-.6-4.7-.6-5-.7-5.2-.7-5.5-.7-5.5-.8-5.5-.9-5.8-.9-6.3-.9-6.3-1-6-1.2-4.6-1.5-2.7-1.9-1.6-2.1-.6-1.7 .6-1.5 1.7-1.7 2.3-1.6 2.3-1.5 2.4-1.5 2.3-1.4 2.2-1.4 2.2-1.3 2-1.2 2.1-1.1 1.9-1.2 1.8-1 1.8-1.1 1.7-1 1.6-.9 1.7-.9 1.6-1.2 1.6-1.1 1.6-1.1 1.6-1 1.6-1 1.6-1 1.7-1 1.7-1 1.7-.9 1.7-.9 1.8-.8 1.8-.9 1.8-.8 1.9-.8 1.9-.7 1.9-.7 1.9-.7 2.1-.7 2.1-.6 2.3-.6 2.3-.5 2.4-.5 2.3-.5 2.3-.4z"/><path d="M860.8 104.5l2.3-.1 2.2-.1 2.3 0 2.3 0 2.3 0 2.3 0 2.3 .1 2.3 .1 2.3 .1 2.2 .1 2.3 .1 2.2 .2 2.3 .1 2.2 .2 2.2 .3 2.2 .2 2.2 .2 2.2 .3 2.2 .3 2.2 .3 2.2 .3 2.2 .4 2.1 .3 2.2 .4 2.1 .4 2.1-.2 2-.1 2.1-.1 2-.1 2.1-.1 2-.1 2 0 2.1-.1 2 0 2-.1 2 0 2 0 2 0 2.1 0 2 0 2 0 2 0 2 .1 2 .1 2 0 2 .1 2 .1 2 .1 2 .1 2 .2 2.1-.2 2-.2 2-.2 2-.1 2.1-.2 2-.1 2.1-.2 2.1-.1 2-.2 2.1-.1 2.1-.1 2.2-.1 2.1-.1 2.2-.2 2.1-.1 2.2 0 2.2-.1 2.3-.1 2.3-.1 2.3-.1 2.3 0 2.3-.1 2.4 0 2.4 0 2.5 0 2.5-.3 2.5-.3 2.7-.3 2.7-.3 2.8-.3 2.8-.3 2.8-.2 2.9-.3 3-.2 3-.2 3.1-.2 3.2-.1 3.3-.2 3.3-.2 3.5-.1 3.5-.1 3.6 0 3.7-.1 3.8 0 3.9 0 4.1-.2 4.2-.7 4.3-.6 4.2-.6 4.2-.5 4-.5 4-.3 3.8-.2 3.7-.2 3.4-.1 3 0 2.8 .1 2.6 .2 2.2 .3 1.8 .3 1.4 .4 1.1 .4 1 1.1 .9 1.8 .5 1.8-.2 1.9-.9 1.9-1.3 1.9-1.6 1.9-1.9 1.8-2.3 1.8-2.3 1.7-2.5 1.8-2.6 1.6-2.6 1.6-2.5 1.5-2.6 1.5-2.5 1.5-2.6 1.4-2.6 1.4-2.7 1.3-2.6 1.2-2.5 1.3-2.4 1.2-2.4 1.2-2.4 1.2-2.3 1.1-2.3 1.1-2.2 1.1-2.3 1.1-2.1 1-2.1 1-2.1 1-1.9 1-1.9 1-1.9 .9-2 1-1.9 .9-2.1 .8-2 .9-2 .6-2 .7-2 .7-2 .6-2 .6-2 .6-1.9 .6-2 .5-2 .5-2.1 .5-2 .5-2 .4-2 .5-2 .4-1.9 .4-1.9 .5-1.9 .4-1.9 .4-1.9 .3-1.9 .4-1.9 .4-1.8 .3-1.8 .4-1.9 .3-1.8 .4-1.8 .2-1.8 .3-1.8 .2-1.8 .3-1.8 .2-1.8 .2-1.8 .1-1.9 .2-1.8 .1-1.8 .1-1.9 .1-1.8 .1-1.8 .1-1.8 .1-1.8 .1-1.8 .1-1.8 .1-1.8 .2-1.7 .1-1.8 .1-1.8 .2-1.8 .1-1.8 .1-1.8 .1-1.9 .1-1.8 .1-1.9 0-1.8 0-1.9 0-1.9 0-1.9 0-2 0-1.9 0-2-.1-2 0-2 0-2-.1-2.1 0-2.1 0-2.1 0-2.2 0-2.3 0-2.2 0-2.3 0-2.4 0-2.4 0-2.5 0-2.5 0-2.7 0-2.7 0-2.7-.2-2.8-.1-2.9-.2-3-.1-3.1-.2-3.2-.1-3.2-.2-3.3-.3-3.3-.2-3.4-.3-3.5-.4-3.6-.3-3.7-.4-3.7-.3-3.9-.5-4-.4-4.1-.5-4.3-.6-4.4-.6-4.6-.6-4.7-.6-5-.7-5.3-.6-5.5-.7-5.5-.8-5.5-.9-5.9-.9-6.3-.9-6.4-1-6-1.2-4.6-1.5-2.8-1.9-1.6-2.1-.6-1.7 .6-1.5 1.8-1.6 2.4-1.6 2.3-1.6 2.4-1.5 2.4-1.4 2.3-1.3 2.1-1.3 2.1-1.2 2.1-1.2 1.9-1.1 1.8-1.1 1.8-1 1.7-1 1.6-.9 1.6-1 1.7-1.1 1.6-1.1 1.5-1.1 1.6-1 1.6-1.1 1.6-1 1.7-.9 1.7-1 1.7-.9 1.7-.9 1.8-.9 1.8-.8 1.8-.8 1.8-.8 1.9-.8 1.9-.7 2-.7 2-.6 2.2-.7 2.3-.5 2.3-.6 2.4-.4 2.3-.5 2.3-.5z"/></g>
<g stroke="#1f77b4" stroke-opacity="0.33" stroke-width="2.4" fill="none" stroke-linecap="round" filter="url(#blur2)"><path d="M1066.7 223.7l1.9 1.7 1.9 1.8 1.8 1.7 1.8 1.8 1.8 1.8 1.6 1.9 1.6 1.8 1.5 1.9 1.5 1.9 1.5 1.9 1.5 2 1.4 2 1.3 1.9 1.2 2.1 1 2 1 2 .9 1.8 .8 1.3 .6 1.4 .5 1.4 .4 1.5 .2 1.4 .1 1.4 0 1.4-.2 1.4-.2 1.4-.4 1.4-.4 1.4-.6 1.4-.6 1.3-.6 1.4-.7 1.3-.8 1.3-1 1.3-.9 1.3-1.1 1.2-1.2 1.2-1.5 1.2"/><path d="M843.9 274.6l-2.4-2.3-2.3-2.3-2-2.4-1.8-2.4-1.5-1.8-1.3-1.4-1.1-1.5-.9-1.4-.7-1.5-.4-1.5-.2-1.6 .2-1.5 .5-1.6 .9-1.5 1.4-1.6 1.7-1.5"/><path d="M1066.8 222.3l2 1.6 1.9 1.7 1.9 1.7 1.8 1.8 1.7 1.8 1.7 1.8 1.6 1.8 1.5 1.9 1.6 1.9 1.4 1.9 1.5 1.9 1.4 2 1.3 1.9 1.2 2 1.1 2 .9 2.1 .9 1.7 .8 1.3 .7 1.4 .5 1.4 .3 1.5 .2 1.4 .1 1.4 0 1.4-.2 1.4-.2 1.5-.4 1.3-.5 1.4-.5 1.4-.6 1.4-.7 1.3-.7 1.3-.9 1.3-.9 1.3-1 1.3-1.1 1.2-1.2 1.2-1.4 1.2"/><path d="M843.6 273.1l-2.5-2.3-2.2-2.3-2.1-2.4-1.8-2.5-1.5-1.7-1.3-1.4-1-1.5-.9-1.4-.7-1.5-.4-1.5-.1-1.6 .1-1.5 .6-1.6 .9-1.5 1.3-1.5 1.8-1.6"/><path d="M1067 220.8l2 1.6 1.9 1.7 1.9 1.7 1.8 1.7 1.8 1.7 1.7 1.8 1.6 1.9 1.5 1.8 1.6 1.9 1.5 1.8 1.4 1.9 1.4 2 1.4 1.9 1.2 2 1 2 1 2 .9 1.7 .8 1.3 .6 1.4 .5 1.5 .3 1.4 .2 1.4 .1 1.4 0 1.5-.2 1.4-.3 1.4-.4 1.4-.4 1.4-.6 1.3-.6 1.4-.7 1.3-.7 1.4-.9 1.3-.9 1.3-1 1.2-1.1 1.3-1.3 1.2-1.4 1.2"/><path d="M843.3 271.5l-2.5-2.2-2.3-2.4-2.1-2.3-1.8-2.5-1.5-1.7-1.2-1.4-1.1-1.5-.8-1.4-.7-1.5-.4-1.5-.1-1.6 .2-1.5 .5-1.6 .9-1.5 1.4-1.5 1.8-1.5"/><path d="M1067.2 219.3l2 1.6 1.9 1.6 1.9 1.7 1.9 1.7 1.7 1.7 1.7 1.8 1.7 1.8 1.6 1.8 1.5 1.8 1.5 1.9 1.5 1.9 1.4 1.8 1.3 2 1.2 1.9 1.1 2 1 2 .9 1.7 .7 1.3 .7 1.4 .5 1.5 .3 1.4 .2 1.4 .1 1.4-.1 1.5-.2 1.4-.3 1.4-.4 1.4-.5 1.4-.6 1.4-.6 1.3-.7 1.4-.7 1.3-.9 1.3-.9 1.3-1.1 1.3-1.1 1.2-1.2 1.2-1.5 1.2"/><path d="M842.9 269.9l-2.5-2.2-2.3-2.3-2.1-2.4-1.8-2.4-1.5-1.7-1.2-1.5-1-1.4-.8-1.5-.7-1.4-.4-1.5-.1-1.6 .2-1.5 .6-1.5 .9-1.6 1.4-1.5 1.7-1.5"/><path d="M1069.4 219.3l1.9 1.7 1.9 1.6 1.9 1.7 1.8 1.7 1.7 1.7 1.7 1.8 1.6 1.8 1.5 1.8 1.6 1.8 1.4 1.9 1.5 1.8 1.3 1.9 1.2 2 1.1 1.9 1 2 .8 1.7 .8 1.3 .7 1.5 .5 1.4 .3 1.4 .2 1.4 0 1.5-.1 1.4-.2 1.4-.3 1.4-.4 1.4-.5 1.4-.6 1.4-.6 1.4-.8 1.3-.7 1.3-.9 1.4-1 1.2-1 1.3-1.1 1.3-1.3 1.2-1.4 1.2"/><path d="M842.5 268.4l-2.5-2.2-2.3-2.3-2.1-2.4-1.8-2.4-1.5-1.8-1.2-1.4-1-1.4-.8-1.5-.6-1.5-.4-1.5-.1-1.5 .3-1.5 .5-1.5 1-1.6 1.3-1.5 1.8-1.5"/><path d="M1069.6 217.8l1.9 1.6 2 1.6 1.9 1.7 1.8 1.6 1.7 1.8 1.7 1.7 1.6 1.8 1.6 1.7 1.5 1.8 1.5 1.9 1.4 1.8 1.4 1.9 1.2 1.9 1.1 1.9 1 2 .8 1.6 .8 1.4 .7 1.4 .4 1.5 .4 1.4 .1 1.4 .1 1.5-.1 1.4-.2 1.4-.4 1.5-.4 1.4-.5 1.4-.6 1.3-.7 1.4-.7 1.3-.8 1.4-.9 1.3-1 1.3-1 1.2-1.2 1.3-1.2 1.2-1.5 1.2"/><path d="M842.2 266.8l-2.6-2.2-2.3-2.3-2.1-2.3-1.8-2.4-1.5-1.8-1.2-1.4-1-1.4-.7-1.5-.6-1.5-.4-1.5 0-1.5 .2-1.5 .6-1.5 .9-1.6 1.4-1.5 1.8-1.5"/><path d="M1069.8 216.3l2 1.5 1.9 1.6 1.9 1.6 1.9 1.7 1.7 1.7 1.7 1.7 1.6 1.7 1.6 1.8 1.6 1.8 1.5 1.8 1.4 1.8 1.4 1.9 1.2 1.8 1.1 1.9 1 2 .8 1.6 .8 1.4 .7 1.4 .4 1.5 .3 1.4 .2 1.4 0 1.5-.1 1.4-.2 1.5-.4 1.4-.4 1.4-.6 1.4-.6 1.4-.7 1.3-.7 1.4-.8 1.3-.9 1.3-1 1.3-1 1.3-1.2 1.2-1.3 1.2"/><path d="M841.8 265.3l-2.6-2.2-2.4-2.3-2.1-2.3-1.7-2.5-1.5-1.7-1.2-1.4-1-1.4-.7-1.5-.6-1.5-.3-1.5 0-1.5 .2-1.5 .6-1.5 .9-1.6 1.4-1.5 1.8-1.4"/><path d="M1072 216.3l2 1.5 1.9 1.6 1.8 1.6 1.8 1.7 1.7 1.7 1.7 1.7 1.6 1.8 1.5 1.7 1.6 1.8 1.4 1.8 1.4 1.8 1.2 1.9 1.1 1.9 1 1.9 .8 1.6 .8 1.4 .7 1.4 .4 1.5 .3 1.4 .2 1.5 0 1.4-.1 1.4-.3 1.5-.3 1.4-.5 1.4-.6 1.4-.6 1.4-.7 1.4-.8 1.3-.8 1.3-.9 1.4-1 1.2-1.1 1.3-1.1 1.3-1.3 1.2"/><path d="M841.4 263.7l-2.6-2.2-2.4-2.2-2.1-2.4-1.8-2.4-1.5-1.7-1.1-1.4-1-1.4-.7-1.5-.5-1.5-.3-1.5 0-1.5 .2-1.5 .6-1.5 1-1.5 1.4-1.5 1.8-1.5"/><path d="M1072.2 214.7l2 1.5 2 1.6 1.8 1.6 1.8 1.6 1.8 1.7 1.6 1.7 1.7 1.7 1.5 1.7 1.6 1.8 1.4 1.8 1.4 1.8 1.2 1.8 1.1 1.9 1 1.9 .9 1.6 .8 1.4 .6 1.4 .5 1.5 .2 1.4 .2 1.5 0 1.4-.2 1.5-.2 1.4-.4 1.4-.5 1.4-.6 1.4-.6 1.4-.8 1.4-.7 1.3-.9 1.4-.9 1.3-1 1.3-1.1 1.2-1.2 1.3-1.3 1.2"/><path d="M841 262.2l-2.7-2.2-2.4-2.3-2.1-2.3-1.7-2.4-1.5-1.7-1.2-1.4-.9-1.5-.7-1.4-.5-1.5-.3-1.5 0-1.5 .3-1.5 .6-1.5 1-1.5 1.4-1.5 1.8-1.5"/><path d="M1074.5 214.6l1.9 1.6 1.9 1.5 1.9 1.7 1.7 1.6 1.7 1.7 1.6 1.6 1.6 1.8 1.6 1.7 1.4 1.7 1.4 1.8 1.2 1.8 1.1 1.9 1 1.8 .9 1.7 .8 1.4 .6 1.4 .5 1.5 .3 1.4 .1 1.5 0 1.4-.2 1.5-.3 1.4-.4 1.4-.5 1.5-.6 1.4-.7 1.3-.7 1.4-.8 1.4-.8 1.3-1 1.3-1 1.3-1.1 1.3-1.2 1.2-1.3 1.2"/><path d="M840.6 260.6l-2.7-2.2-2.4-2.2-2.1-2.3-1.8-2.4-1.5-1.7-1.1-1.4-.9-1.5-.7-1.4-.4-1.5-.3-1.5 0-1.5 .3-1.5 .7-1.5 .9-1.5 1.5-1.5 1.7-1.5"/><path d="M1076.7 214.6l1.9 1.5 1.9 1.6 1.7 1.6 1.8 1.6 1.6 1.7 1.6 1.7 1.6 1.7 1.4 1.7 1.4 1.8 1.3 1.8 1.1 1.8 1 1.8 .8 1.7 .8 1.4 .7 1.4 .4 1.5 .3 1.4 .1 1.5-.1 1.4-.1 1.5-.3 1.4-.4 1.5-.6 1.4-.6 1.4-.7 1.4-.7 1.3-.8 1.4-.9 1.3-1 1.3-1 1.3-1.1 1.3-1.2 1.3-1.3 1.2"/><path d="M837.5 256.9l-2.5-2.2-2.1-2.3-1.8-2.4-1.4-1.7-1.2-1.4-.8-1.5-.6-1.4-.5-1.5-.2-1.5 0-1.5 .3-1.5 .7-1.5 1-1.5 1.4-1.5 1.8-1.5"/><path d="M1077 212.9l2 1.5 1.8 1.6 1.8 1.6 1.7 1.6 1.7 1.6 1.6 1.7 1.6 1.7 1.5 1.7 1.4 1.7 1.2 1.8 1.1 1.8 1 1.8 .9 1.6 .8 1.5 .6 1.4 .5 1.4 .2 1.5 .1 1.5-.1 1.4-.1 1.5-.4 1.4-.4 1.5-.6 1.4-.6 1.4-.7 1.4-.8 1.4-.8 1.3-.9 1.4-.9 1.3-1.1 1.3-1.1 1.2-1.2 1.3-1.4 1.2"/><path d="M837 255.4l-2.5-2.3-2.1-2.3-1.8-2.4-1.4-1.7-1.1-1.4-.8-1.4-.6-1.5-.5-1.4-.2-1.5 .1-1.5 .3-1.5 .7-1.5 1-1.5 1.4-1.5 1.8-1.4"/><path d="M1079.3 212.8l1.8 1.5 1.9 1.6 1.7 1.6 1.7 1.6 1.6 1.6 1.6 1.7 1.5 1.7 1.4 1.7 1.3 1.7 1.1 1.8 1 1.8 .8 1.6 .8 1.4 .7 1.5 .4 1.4 .2 1.5 .1 1.5-.1 1.4-.2 1.5-.3 1.4-.5 1.5-.5 1.4-.7 1.4-.7 1.4-.8 1.4-.8 1.3-.9 1.4-1 1.3-1.1 1.3-1.1 1.3-1.3 1.2-1.3 1.2"/><path d="M836.5 253.8l-2.4-2.2-2.2-2.3-1.7-2.4-1.5-1.7-1.1-1.4-.8-1.4-.6-1.5-.4-1.4-.1-1.5 0-1.5 .4-1.5 .7-1.5 1-1.5 1.4-1.5 1.8-1.4"/><path d="M1079.6 211.1l1.9 1.5 1.8 1.6 1.8 1.5 1.7 1.6 1.7 1.6 1.5 1.7 1.6 1.6 1.4 1.7 1.2 1.8 1.1 1.7 1 1.8 .9 1.6 .8 1.4 .6 1.5 .5 1.4 .2 1.5 0 1.5 0 1.4-.3 1.5-.3 1.4-.5 1.5-.6 1.4-.7 1.4-.7 1.4-.8 1.4-.9 1.4-.9 1.3-1 1.3-1.1 1.3-1.1 1.3-1.3 1.2-1.3 1.3"/><path d="M836.1 252.3l-2.5-2.2-2.2-2.3-1.7-2.4-1.5-1.7-1-1.4-.8-1.4-.6-1.5-.4-1.4-.1-1.5 .1-1.5 .4-1.5 .7-1.5 1-1.5 1.4-1.5 1.8-1.4"/><path d="M1081.8 210.9l1.9 1.5 1.8 1.6 1.7 1.5 1.7 1.6 1.6 1.7 1.5 1.6 1.4 1.7 1.3 1.7 1.1 1.7 1 1.8 .9 1.6 .8 1.4 .6 1.4 .4 1.5 .2 1.5 .1 1.4-.1 1.5-.3 1.5-.3 1.5-.5 1.4-.7 1.4-.6 1.4-.8 1.4-.8 1.4-.9 1.4-.9 1.3-1.1 1.4-1.1 1.2-1.1 1.3-1.3 1.3-1.4 1.2"/><path d="M835.6 250.7l-2.5-2.1-2.2-2.3-1.8-2.4-1.4-1.7-1-1.4-.8-1.4-.5-1.5-.4-1.5-.1-1.4 .2-1.5 .4-1.5 .7-1.5 1-1.5 1.5-1.5 1.7-1.4"/><path d="M1082.2 209.2l1.9 1.5 1.8 1.5 1.7 1.6 1.7 1.5 1.6 1.6 1.6 1.7 1.4 1.6 1.3 1.7 1.1 1.7 1 1.7 .9 1.6 .7 1.5 .7 1.4 .4 1.5 .2 1.5 0 1.4-.1 1.5-.2 1.5-.4 1.5-.6 1.4-.6 1.4-.7 1.5-.8 1.4-.8 1.3-.9 1.4-1 1.4-1 1.3-1.1 1.3-1.2 1.2-1.3 1.3-1.4 1.2"/><path d="M835.1 249.2l-2.6-2.2-2.1-2.3-1.8-2.3-1.4-1.7-1-1.4-.7-1.4-.5-1.5-.4-1.5 0-1.5 .1-1.4 .4-1.5 .8-1.5 1-1.5 1.5-1.4 1.7-1.5"/><path d="M1084.5 209l1.8 1.5 1.8 1.5 1.7 1.5 1.6 1.6 1.5 1.6 1.5 1.6 1.2 1.7 1.2 1.7 .9 1.7 .9 1.6 .8 1.4 .7 1.5 .4 1.5 .2 1.4 0 1.5-.2 1.5-.2 1.5-.5 1.5-.5 1.4-.7 1.5-.7 1.4-.8 1.4-.8 1.4-.9 1.3-1 1.4-1.1 1.3-1.1 1.3-1.2 1.3-1.3 1.2-1.4 1.2"/><path d="M834.6 247.7l-2.6-2.2-2.1-2.3-1.8-2.3-1.4-1.7-1-1.4-.7-1.5-.5-1.4-.3-1.5 0-1.5 .2-1.4 .4-1.5 .7-1.5 1.1-1.5 1.5-1.4 1.7-1.5"/><path d="M1084.8 207.3l1.9 1.4 1.8 1.5 1.7 1.6 1.6 1.5 1.6 1.6 1.4 1.6 1.3 1.6 1.1 1.7 1 1.7 .9 1.6 .8 1.4 .7 1.5 .4 1.4 .1 1.5 0 1.5-.1 1.5-.3 1.5-.5 1.5-.5 1.4-.7 1.5-.8 1.4-.8 1.4-.8 1.4-1 1.3-1 1.4-1 1.3-1.2 1.3-1.2 1.3-1.3 1.2-1.4 1.2"/><path d="M834.1 246.1l-2.6-2.1-2.2-2.3-1.7-2.3-1.4-1.7-1-1.4-.7-1.5-.4-1.4-.3-1.5 0-1.5 .2-1.5 .5-1.4 .7-1.5 1.1-1.5 1.5-1.4"/><path d="M1087.1 207l1.8 1.5 1.8 1.5 1.6 1.5 1.6 1.5 1.4 1.6 1.3 1.6 1.1 1.7 1 1.7 .9 1.5 .8 1.5 .7 1.4 .4 1.5 .1 1.5 0 1.5-.2 1.5-.3 1.5-.4 1.5-.6 1.4-.7 1.5-.8 1.4-.9 1.4-.8 1.4-1 1.4-1 1.3-1.1 1.3-1.2 1.3-1.2 1.3-1.3 1.2-1.5 1.3"/><path d="M831 242.4l-2.2-2.2-1.8-2.4-1.3-1.7-1-1.4-.7-1.4-.4-1.5-.2-1.4 0-1.5 .2-1.5 .5-1.4 .8-1.5 1.1-1.5 1.4-1.4"/><path d="M1087.5 205.2l1.9 1.5 1.7 1.5 1.7 1.5 1.6 1.5 1.4 1.5 1.3 1.6 1.1 1.7 1 1.6 .9 1.6 .8 1.4 .7 1.5 .4 1.5 .1 1.5 0 1.5-.2 1.5-.3 1.5-.5 1.5-.6 1.4-.8 1.5-.8 1.4-.8 1.4-.9 1.4-1 1.4-1 1.3-1.2 1.3-1.1 1.3-1.3 1.3-1.3 1.3-1.5 1.2"/><path d="M830.4 240.9l-2.2-2.2-1.7-2.4-1.4-1.7-1-1.4-.6-1.4-.3-1.5-.2-1.4 0-1.5 .3-1.5 .5-1.5 .8-1.4 1.1-1.5 1.4-1.4"/><path d="M1089.8 204.9l1.8 1.4 1.7 1.5 1.6 1.5 1.4 1.6 1.3 1.5 1.2 1.7 1 1.6 .9 1.5 .8 1.5 .6 1.5 .4 1.5 .1 1.5-.1 1.5-.2 1.5-.3 1.5-.5 1.5-.6 1.4-.8 1.5-.8 1.4-.9 1.4-.9 1.4-1 1.4-1.1 1.3-1.1 1.4-1.2 1.3-1.3 1.2-1.3 1.3-1.5 1.2"/><path d="M829.9 239.4l-2.2-2.3-1.8-2.3-1.3-1.7-1-1.4-.6-1.4-.3-1.5-.2-1.4 .1-1.5 .3-1.5 .5-1.5 .8-1.4 1.1-1.5 1.5-1.4"/><path d="M1090.3 203.1l1.7 1.4 1.7 1.5 1.7 1.5 1.4 1.5 1.3 1.6 1.2 1.5 1 1.6 .9 1.6 .8 1.4 .6 1.5 .4 1.5 .1 1.5-.1 1.5-.2 1.6-.4 1.5-.5 1.4-.6 1.5-.8 1.5-.9 1.4-.9 1.4-.9 1.4-1 1.4-1.1 1.3-1.1 1.4-1.3 1.3-1.3 1.3-1.3 1.2-1.5 1.2"/><path d="M829.3 237.9l-2.2-2.3-1.7-2.3-1.4-1.7-.9-1.4-.6-1.4-.3-1.5-.1-1.5 .1-1.4 .3-1.5 .6-1.5 .8-1.4 1.1-1.5 1.5-1.4"/><path d="M1090.7 201.3l1.8 1.4 1.7 1.5 1.7 1.4 1.5 1.5 1.3 1.6 1.1 1.5 1 1.6 .9 1.5 .8 1.5 .6 1.5 .4 1.5 .1 1.5-.1 1.5-.2 1.5-.4 1.5-.6 1.5-.6 1.5-.8 1.5-.9 1.4-.9 1.4-1 1.4-1 1.4-1.1 1.4-1.2 1.3-1.2 1.3-1.4 1.3-1.3 1.2-1.5 1.2"/><path d="M828.7 236.3l-2.2-2.2-1.7-2.3-1.4-1.7-.9-1.4-.5-1.5-.2-1.4-.1-1.5 .1-1.4 .3-1.5 .6-1.5 .8-1.4 1.2-1.5 1.5-1.4"/><path d="M1093 200.9l1.7 1.4 1.7 1.5 1.5 1.4 1.3 1.6 1.1 1.5 1 1.6 .9 1.5 .8 1.5 .7 1.4 .3 1.6 .1 1.5-.1 1.5-.3 1.5-.4 1.5-.5 1.5-.7 1.5-.9 1.5-.8 1.4-1 1.4-1 1.4-1 1.4-1.2 1.4-1.1 1.3-1.3 1.3-1.3 1.3-1.4 1.2-1.5 1.2"/><path d="M828.2 234.8l-2.2-2.2-1.8-2.3-1.3-1.7-.9-1.4-.5-1.5-.2-1.4-.1-1.5 .2-1.5 .3-1.4 .6-1.5 .9-1.4 1.1-1.5 1.5-1.4"/><path d="M1093.5 199.1l1.7 1.4 1.7 1.4 1.5 1.5 1.3 1.5 1.2 1.5 1 1.5 .9 1.5 .8 1.5 .6 1.5 .4 1.5 0 1.5-.1 1.6-.3 1.5-.4 1.5-.6 1.5-.7 1.5-.9 1.5-.9 1.4-1 1.4-1 1.4-1 1.4-1.2 1.4-1.2 1.3-1.3 1.3-1.3 1.3-1.4 1.2-1.5 1.3"/><path d="M827.6 233.3l-2.2-2.2-1.8-2.4-1.3-1.6-.9-1.4-.4-1.5-.2-1.4 0-1.5 .1-1.5 .4-1.4 .7-1.5 .8-1.5 1.2-1.4 1.5-1.4"/><path d="M1095.8 198.7l1.6 1.4 1.5 1.4 1.4 1.4 1.1 1.5 1 1.6 .9 1.5 .8 1.5 .6 1.5 .4 1.5 .1 1.5-.2 1.6-.3 1.5-.4 1.5-.7 1.5-.7 1.5-.9 1.5-.9 1.4-1 1.4-1 1.4-1.1 1.4-1.2 1.4-1.2 1.3-1.3 1.3-1.4 1.3-1.4 1.2-1.5 1.3"/><path d="M827 231.7l-2.2-2.2-1.8-2.3-1.3-1.7-.8-1.4-.4-1.4-.2-1.5 0-1.4 .2-1.5 .4-1.5 .7-1.4 .9-1.5 1.2-1.4 1.5-1.4"/><path d="M1096.3 196.8l1.6 1.4 1.6 1.4 1.3 1.4 1.2 1.5 1 1.5 .9 1.5 .8 1.5 .6 1.5 .3 1.5 .1 1.6-.2 1.5-.3 1.6-.5 1.5-.6 1.5-.8 1.5-.9 1.5-.9 1.4-1.1 1.4-1 1.5-1.1 1.3-1.2 1.4-1.2 1.3-1.4 1.3-1.4 1.3-1.4 1.3-1.5 1.2"/><path d="M826.4 230.2l-2.2-2.2-1.8-2.3-1.3-1.7-.8-1.4-.4-1.4-.1-1.5 0-1.4 .3-1.5 .4-1.5 .7-1.4 .9-1.5 1.2-1.4 1.5-1.4"/><path d="M1096.8 195l1.7 1.3 1.5 1.4 1.4 1.4 1.1 1.5 1 1.5 .9 1.5 .8 1.5 .7 1.5 .3 1.5 0 1.5-.2 1.6-.3 1.5-.5 1.6-.7 1.5-.8 1.5-.9 1.5-1 1.4-1 1.4-1.1 1.5-1.1 1.3-1.2 1.4-1.3 1.3-1.3 1.3-1.4 1.3-1.5 1.3"/><path d="M825.8 228.7l-2.2-2.2-1.8-2.3-1.3-1.7-.8-1.4-.3-1.4-.1-1.5 .1-1.5 .2-1.4 .5-1.5 .7-1.4 .9-1.5 1.3-1.4 1.5-1.4"/><path d="M1099 194.5l1.6 1.3 1.3 1.4 1.2 1.5 1 1.4 .9 1.5 .8 1.5 .6 1.5 .3 1.6 .1 1.5-.2 1.6-.4 1.5-.5 1.5-.7 1.6-.8 1.5-1 1.4-1 1.5-1 1.4-1.1 1.5-1.2 1.3-1.2 1.4-1.3 1.3-1.4 1.3-1.4 1.3-1.5 1.3"/><path d="M825.2 227.2l-2.2-2.2-1.8-2.3-1.3-1.7-.8-1.4-.3-1.5 0-1.4 .1-1.5 .3-1.4 .5-1.5 .7-1.5 1-1.4 1.2-1.4 1.5-1.4"/><path d="M1099.6 192.6l1.5 1.3 1.4 1.4 1.2 1.4 1 1.5 .9 1.4 .8 1.5 .6 1.6 .3 1.5 0 1.6-.2 1.5-.4 1.6-.5 1.5-.7 1.5-.9 1.5-.9 1.5-1.1 1.5-1.1 1.4-1.1 1.4-1.2 1.4-1.2 1.4-1.3 1.3-1.4 1.3-1.5 1.3-1.5 1.3"/><path d="M824.6 225.6l-2.3-2.1-1.7-2.3-1.3-1.7-.7-1.4-.3-1.5 0-1.4 .1-1.5 .4-1.5 .5-1.4 .7-1.5 1-1.4 1.2-1.4 1.6-1.4"/><path d="M1100.1 190.7l1.6 1.3 1.4 1.4 1.1 1.4 1 1.4 .9 1.5 .9 1.5 .6 1.5 .3 1.6 0 1.5-.3 1.6-.4 1.5-.5 1.6-.8 1.5-.8 1.5-1 1.5-1.1 1.5-1.1 1.4-1.2 1.4-1.2 1.4-1.2 1.4-1.3 1.3-1.5 1.3-1.4 1.3-1.5 1.3"/><path d="M824 224.1l-2.3-2.2-1.7-2.3-1.3-1.6-.7-1.4-.3-1.5 0-1.5 .2-1.4 .4-1.5 .6-1.4 .7-1.5 1-1.4 1.3-1.4 1.5-1.4"/><path d="M1100.7 188.8l1.6 1.3 1.3 1.4 1.2 1.4 1 1.4 .9 1.4 .8 1.5 .7 1.6 .3 1.5-.1 1.6-.2 1.6-.4 1.5-.6 1.6-.8 1.5-.9 1.5-1 1.5-1.1 1.5-1.1 1.4-1.2 1.4-1.2 1.4-1.3 1.4-1.4 1.3-1.4 1.3-1.5 1.3-1.5 1.3"/><path d="M823.3 222.6l-2.2-2.2-1.8-2.3-1.2-1.6-.7-1.4-.2-1.5 0-1.5 .2-1.4 .4-1.5 .7-1.5 .7-1.4 1-1.4 1.3-1.4 1.6-1.4"/><path d="M1102.8 188.2l1.4 1.4 1.2 1.3 1 1.4 .9 1.4 .8 1.6 .6 1.5 .3 1.6 0 1.5-.3 1.6-.4 1.6-.6 1.5-.8 1.6-.9 1.5-1.1 1.5-1.1 1.5-1.2 1.4-1.2 1.4-1.2 1.4-1.3 1.4-1.4 1.3-1.4 1.3-1.5 1.3-1.6 1.3"/><path d="M822.7 221.1l-2.3-2.2-1.7-2.3-1.3-1.7-.6-1.4-.2-1.4 .1-1.5 .2-1.5 .5-1.4 .6-1.5 .8-1.4 1.1-1.4 1.2-1.4 1.6-1.4"/><path d="M1103.4 186.3l1.4 1.3 1.2 1.4 1 1.3 .9 1.5 .8 1.5 .6 1.5 .3 1.6 0 1.6-.3 1.6-.5 1.5-.6 1.6-.8 1.6-1 1.5-1.1 1.5-1.1 1.5-1.2 1.4-1.2 1.4-1.3 1.4-1.3 1.4-1.4 1.3-1.5 1.3-1.5 1.3-1.6 1.3"/><path d="M822.1 219.5l-2.3-2.1-1.8-2.3-1.2-1.7-.7-1.4-.1-1.4 .1-1.5 .3-1.5 .5-1.5 .7-1.4 .8-1.4 1.1-1.5 1.3-1.3 1.6-1.4"/><path d="M1104 184.4l1.4 1.3 1.2 1.3 1 1.4 .9 1.4 .8 1.5 .6 1.6 .3 1.5-.1 1.6-.3 1.6-.5 1.6-.6 1.6-.9 1.5-.9 1.6-1.1 1.5-1.2 1.4-1.2 1.5-1.3 1.4-1.3 1.4-1.3 1.4-1.4 1.3-1.5 1.3-1.6 1.3-1.6 1.3"/><path d="M821.4 218l-2.3-2.2-1.7-2.2-1.2-1.7-.7-1.4-.1-1.5 .2-1.4 .3-1.5 .6-1.5 .6-1.4 .9-1.5 1.1-1.4 1.3-1.4 1.6-1.3"/><path d="M1104.6 182.5l1.4 1.3 1.2 1.3 1 1.3 .9 1.4 .8 1.6 .6 1.5 .3 1.6-.1 1.6-.3 1.6-.5 1.6-.7 1.5-.9 1.6-1 1.5-1.1 1.5-1.2 1.5-1.2 1.5-1.3 1.4-1.3 1.4-1.4 1.4-1.4 1.3-1.5 1.3-1.6 1.3"/><path d="M820.8 216.5l-2.3-2.2-1.8-2.2-1.2-1.7-.6-1.4-.1-1.5 .3-1.5 .3-1.4 .6-1.5 .7-1.4 .9-1.5 1.1-1.4 1.3-1.4 1.6-1.3"/><path d="M1105.2 180.6l1.4 1.3 1.2 1.2 1 1.3 .9 1.4 .8 1.6 .7 1.5 .2 1.6-.1 1.6-.3 1.6-.6 1.6-.7 1.6-.9 1.6-1 1.5-1.1 1.5-1.3 1.5-1.2 1.5-1.3 1.4-1.4 1.4-1.4 1.4-1.4 1.3-1.6 1.3-1.6 1.3"/><path d="M820.1 214.9l-2.3-2.1-1.7-2.3-1.2-1.6-.6-1.4-.1-1.5 .3-1.5 .4-1.5 .6-1.4 .8-1.5 .9-1.4 1.1-1.4 1.3-1.4 1.6-1.3"/><path d="M1105.8 178.7l1.4 1.2 1.2 1.3 1 1.3 .9 1.4 .9 1.5 .6 1.6 .2 1.6-.1 1.6-.4 1.6-.5 1.6-.7 1.6-1 1.5-1 1.6-1.2 1.5-1.3 1.5-1.3 1.4-1.3 1.5-1.3 1.4-1.5 1.4-1.4 1.3-1.6 1.3-1.6 1.3"/><path d="M817.1 211.3l-1.7-2.3-1.2-1.7-.6-1.4 0-1.4 .3-1.5 .5-1.5 .6-1.4 .8-1.5 1-1.4 1.1-1.4 1.3-1.4 1.7-1.3"/><path d="M1107.8 178l1.2 1.2 1.1 1.3 .9 1.4 .8 1.5 .6 1.6 .2 1.6-.1 1.6-.4 1.6-.6 1.6-.7 1.6-1 1.6-1.1 1.5-1.2 1.6-1.2 1.5-1.4 1.4-1.3 1.5-1.4 1.4-1.4 1.3-1.5 1.4-1.6 1.3-1.7 1.3"/><path d="M816.4 209.7l-1.7-2.2-1.2-1.7-.5-1.4 0-1.5 .4-1.4 .5-1.5 .6-1.5 .9-1.4 .9-1.4 1.2-1.4 1.4-1.4 1.6-1.4"/><path d="M1108.5 176.1l1.2 1.2 1 1.2 .9 1.4 .8 1.6 .6 1.5 .3 1.6-.2 1.7-.4 1.6-.6 1.6-.8 1.6-1 1.6-1.1 1.5-1.2 1.5-1.3 1.5-1.4 1.5-1.3 1.4-1.4 1.5-1.5 1.3-1.5 1.4-1.6 1.3-1.7 1.3"/><path d="M815.7 208.2l-1.7-2.2-1.1-1.7-.6-1.4 .1-1.5 .4-1.5 .5-1.4 .7-1.5 .9-1.4 1-1.5 1.2-1.4 1.4-1.3 1.6-1.4"/><path d="M1109.1 174.1l1.2 1.2 1 1.2 .9 1.4 .9 1.6 .6 1.6 .2 1.6-.2 1.6-.4 1.6-.6 1.6-.8 1.6-1.1 1.6-1.1 1.6-1.3 1.5-1.3 1.5-1.4 1.5-1.4 1.4-1.4 1.4-1.5 1.4-1.5 1.4-1.7 1.3"/><path d="M815 206.7l-1.7-2.2-1.1-1.7-.5-1.4 .1-1.5 .4-1.5 .6-1.5 .7-1.4 .9-1.5 1.1-1.4 1.2-1.4 1.4-1.3 1.6-1.4"/><path d="M1109.7 172.2l1.2 1.2 1.1 1.2 .9 1.3 .8 1.6 .6 1.6 .2 1.6-.2 1.6-.4 1.7-.7 1.6-.8 1.6-1 1.6-1.2 1.5-1.3 1.6-1.4 1.5-1.4 1.5-1.4 1.4-1.4 1.4-1.6 1.4-1.5 1.3-1.7 1.4"/><path d="M814.3 205.2l-1.7-2.3-1.1-1.6-.5-1.4 .2-1.5 .5-1.5 .6-1.5 .7-1.5 1-1.4 1-1.4 1.3-1.4 1.4-1.4 1.6-1.3"/><path d="M1110.4 170.3l1.2 1.1 1 1.2 .9 1.3 .8 1.6 .6 1.6 .2 1.6-.2 1.7-.4 1.6-.7 1.6-.9 1.7-1 1.5-1.2 1.6-1.3 1.6-1.4 1.5-1.5 1.4-1.4 1.5-1.5 1.4-1.5 1.4-1.6 1.3-1.7 1.4"/><path d="M813.6 203.7l-1.7-2.3-1.1-1.6-.4-1.5 .2-1.5 .5-1.4 .6-1.5 .8-1.5 1-1.4 1.1-1.4 1.2-1.4 1.5-1.4"/><path d="M1111 168.3l1.2 1.1 1 1.2 1 1.4 .8 1.5 .6 1.6 .2 1.7-.2 1.6-.5 1.7-.7 1.6-.9 1.6-1.1 1.6-1.2 1.6-1.4 1.5-1.4 1.5-1.4 1.5-1.5 1.5-1.5 1.4-1.6 1.4-1.6 1.3-1.7 1.3"/><path d="M812.9 202.1l-1.7-2.2-1.1-1.7-.4-1.4 .2-1.5 .6-1.5 .7-1.5 .8-1.4 1-1.5 1.1-1.4 1.3-1.3 1.5-1.4"/><path d="M1111.7 166.4l1.2 1.1 1 1.1 .9 1.4 .8 1.5 .6 1.7 .2 1.6-.2 1.6-.5 1.7-.7 1.6-.9 1.7-1.2 1.6-1.2 1.5-1.4 1.6-1.4 1.5-1.5 1.5-1.5 1.4-1.6 1.5-1.6 1.3-1.6 1.4"/><path d="M812.2 200.6l-1.7-2.2-1.1-1.7-.4-1.4 .3-1.5 .6-1.5 .7-1.5 .9-1.4 1.1-1.5 1.1-1.4 1.3-1.4 1.5-1.3"/><path d="M1112.3 164.4l1.2 1.1 1.1 1.1 .9 1.4 .8 1.6 .6 1.6 .2 1.6-.3 1.7-.5 1.6-.8 1.7-.9 1.6-1.1 1.6-1.3 1.6-1.4 1.5-1.5 1.6-1.5 1.5-1.5 1.4-1.6 1.4-1.6 1.4-1.7 1.4"/><path d="M811.5 199.1l-1.7-2.2-1.1-1.7-.4-1.4 .4-1.5 .6-1.5 .8-1.5 .9-1.5 1.1-1.4 1.1-1.4 1.4-1.4 1.4-1.3"/><path d="M1113 162.5l1.2 1 1 1.1 .9 1.4 .9 1.6 .6 1.6 .1 1.6-.2 1.7-.6 1.7-.8 1.6-.9 1.7-1.2 1.6-1.3 1.6-1.4 1.5-1.6 1.5-1.5 1.5-1.6 1.5-1.5 1.4-1.7 1.4-1.7 1.3"/><path d="M810.8 197.5l-1.7-2.2-1.1-1.6-.4-1.5 .4-1.5 .7-1.5 .8-1.4 1-1.5 1.1-1.4 1.2-1.4 1.3-1.4 1.5-1.4"/><path d="M1114.8 161.6l1.1 1 .9 1.4 .8 1.6 .6 1.6 .2 1.7-.3 1.6-.6 1.7-.8 1.7-1 1.6-1.2 1.6-1.3 1.6-1.5 1.6-1.5 1.5-1.6 1.5-1.6 1.4-1.6 1.5-1.6 1.4-1.8 1.3"/><path d="M810 196l-1.7-2.2-1-1.7-.3-1.4 .4-1.5 .7-1.5 .9-1.5 1-1.4 1.1-1.5 1.2-1.4 1.4-1.3 1.5-1.4"/><path d="M1115.5 159.6l1.1 1 .9 1.4 .8 1.6 .6 1.6 .2 1.7-.4 1.7-.6 1.6-.8 1.7-1 1.6-1.2 1.7-1.4 1.6-1.5 1.5-1.5 1.6-1.6 1.5-1.7 1.4-1.6 1.4-1.7 1.4-1.7 1.4"/><path d="M809.3 194.5l-1.7-2.2-1.1-1.7-.2-1.4 .4-1.5 .8-1.5 .9-1.5 1-1.5 1.2-1.4 1.3-1.4 1.4-1.4 1.5-1.3"/><path d="M1116.2 157.6l1 1 1 1.4 .8 1.6 .6 1.6 .1 1.7-.3 1.7-.6 1.7-.9 1.6-1 1.7-1.3 1.6-1.4 1.6-1.5 1.6-1.6 1.5-1.6 1.5-1.7 1.5-1.6 1.4-1.8 1.4"/><path d="M808.5 193l-1.7-2.2-1-1.7-.2-1.4 .4-1.5 .9-1.6 .9-1.4 1.1-1.5 1.2-1.4 1.3-1.4 1.4-1.4 1.6-1.3"/><path d="M1116.9 155.6l1 1 .9 1.4 .9 1.6 .6 1.6 .1 1.7-.3 1.7-.7 1.7-.9 1.7-1 1.6-1.3 1.7-1.4 1.6-1.6 1.5-1.6 1.6-1.7 1.5-1.7 1.4-1.7 1.5-1.7 1.4"/><path d="M807.8 191.4l-1.7-2.2-1-1.6-.3-1.5 .6-1.5 .8-1.5 1-1.5 1.2-1.4 1.2-1.5 1.3-1.4 1.5-1.3 1.5-1.4"/><path d="M1117.6 153.7l1 1 .9 1.3 .9 1.6 .6 1.6 .1 1.7-.4 1.7-.7 1.7-.8 1.7-1.1 1.7-1.4 1.6-1.4 1.6-1.6 1.6-1.7 1.5-1.7 1.5-1.7 1.5-1.7 1.4-1.7 1.4"/><path d="M807 189.9l-1.7-2.2-1-1.7-.2-1.4 .6-1.5 .9-1.5 1.1-1.5 1.1-1.5 1.3-1.4 1.4-1.4 1.4-1.4 1.6-1.3"/><path d="M1118.3 151.7l1 1 .9 1.3 .9 1.6 .6 1.6 .1 1.7-.4 1.7-.7 1.7-.9 1.7-1.1 1.7-1.4 1.7-1.5 1.6-1.6 1.6-1.7 1.5-1.7 1.5-1.7 1.5-1.8 1.4-1.8 1.4"/><path d="M806.3 188.4l-1.7-2.2-1-1.7-.2-1.4 .6-1.5 1-1.6 1.1-1.5 1.2-1.4 1.3-1.4 1.4-1.4 1.5-1.4 1.6-1.3"/><path d="M1119 149.7l1 .9 .9 1.3 .9 1.7 .6 1.6 .1 1.7-.5 1.8-.7 1.7-.9 1.7-1.1 1.6-1.4 1.7-1.6 1.6-1.6 1.6-1.7 1.5-1.8 1.6-1.7 1.4-1.8 1.5-1.8 1.4"/><path d="M805.5 186.8l-1.7-2.1-1-1.7-.1-1.4 .6-1.6 1.1-1.5 1.1-1.5 1.3-1.5 1.3-1.4 1.4-1.4 1.5-1.3 1.6-1.3"/><path d="M1119.7 147.7l1 .9 .9 1.3 .9 1.7 .6 1.6 0 1.7-.4 1.8-.7 1.7-1 1.7-1.1 1.7-1.5 1.6-1.5 1.7-1.7 1.6-1.8 1.5-1.7 1.5-1.8 1.5-1.8 1.4"/><path d="M804.7 185.3l-1.7-2.2-.9-1.6-.1-1.5 .7-1.5 1-1.5 1.2-1.5 1.3-1.5 1.4-1.4 1.4-1.4 1.6-1.4 1.6-1.3"/><path d="M1120.4 145.7l1 .9 .9 1.3 .9 1.7 .6 1.6 0 1.8-.4 1.7-.8 1.7-.9 1.7-1.2 1.7-1.5 1.7-1.6 1.6-1.7 1.6-1.8 1.6-1.8 1.5-1.8 1.5-1.8 1.4"/><path d="M803.9 183.8l-1.6-2.2-1-1.7-.1-1.4 .8-1.5 1.1-1.6 1.2-1.5 1.3-1.4 1.5-1.5 1.4-1.3 1.6-1.4"/><path d="M1122.1 144.6l1 1.3 .8 1.7 .6 1.6 0 1.8-.4 1.7-.8 1.7-1 1.7-1.2 1.7-1.5 1.7-1.6 1.6-1.8 1.6-1.8 1.6-1.8 1.5-1.9 1.5-1.9 1.5"/><path d="M803.2 182.3l-1.7-2.2-.9-1.7-.1-1.4 .8-1.6 1.1-1.5 1.3-1.5 1.4-1.5 1.5-1.4 1.5-1.4 1.5-1.3"/><path d="M1122.8 142.6l1 1.3 .8 1.6 .6 1.7 .1 1.8-.5 1.7-.8 1.7-1.1 1.8-1.2 1.7-1.5 1.6-1.7 1.7-1.8 1.6-1.8 1.6-1.9 1.5-1.9 1.5"/><path d="M802.4 180.7l-1.7-2.2-.9-1.6-.1-1.5 .9-1.5 1.2-1.5 1.3-1.5 1.4-1.5 1.5-1.4 1.6-1.4 1.6-1.4"/><path d="M1123.6 140.6l.9 1.3 .8 1.6 .6 1.7 .1 1.8-.5 1.7-.9 1.8-1 1.7-1.3 1.7-1.6 1.7-1.6 1.6-1.9 1.6-1.8 1.6-1.9 1.5-1.9 1.5"/><path d="M801.6 179.2l-1.7-2.2-.9-1.6 0-1.5 .9-1.5 1.2-1.6 1.4-1.5 1.5-1.5 1.5-1.4 1.6-1.4 1.6-1.3"/><path d="M1124.3 138.6l.9 1.2 .9 1.7 .5 1.7 .1 1.8-.5 1.7-.9 1.8-1.1 1.7-1.3 1.7-1.6 1.7-1.7 1.7-1.8 1.6-1.9 1.5-2 1.6-1.9 1.5"/><path d="M800.8 177.7l-1.7-2.2-.9-1.7 0-1.4 1-1.6 1.3-1.5 1.4-1.5 1.5-1.5 1.6-1.4 1.6-1.4 1.6-1.3"/><path d="M1125 136.6l1 1.2 .8 1.7 .6 1.7 0 1.8-.5 1.7-.9 1.8-1.1 1.7-1.4 1.7-1.6 1.7-1.7 1.7-1.9 1.6-2 1.6-1.9 1.5"/><path d="M800 176.1l-1.7-2.1-.9-1.7 .1-1.5 .9-1.5 1.4-1.6 1.5-1.5 1.5-1.4 1.6-1.5 1.7-1.3 1.7-1.4"/><path d="M1125.8 134.6l.9 1.2 .8 1.7 .6 1.7 0 1.8-.5 1.7-.9 1.8-1.2 1.7-1.3 1.8-1.7 1.7-1.8 1.6-1.9 1.7-2 1.5-2 1.6"/><path d="M799.2 174.6l-1.7-2.2-.9-1.6 .1-1.5 1-1.5 1.4-1.6 1.5-1.5 1.6-1.5 1.7-1.4 1.7-1.4 1.7-1.3"/><path d="M1126.5 132.5l.9 1.3 .9 1.7 .6 1.7 0 1.7-.6 1.8-1 1.8-1.1 1.8-1.4 1.7-1.7 1.7-1.8 1.7-1.9 1.6-2.1 1.6-2 1.5"/><path d="M798.3 173.1l-1.6-2.2-.9-1.7 .1-1.4 1.1-1.6 1.5-1.5 1.5-1.6 1.7-1.4 1.7-1.4 1.7-1.4"/><path d="M1127.2 130.5l1 1.2 .8 1.7 .6 1.8 0 1.7-.6 1.8-1 1.8-1.1 1.8-1.5 1.7-1.7 1.7-1.8 1.7-2 1.6-2.1 1.6"/><path d="M797.5 171.5l-1.6-2.1-.9-1.7 .2-1.5 1.1-1.5 1.5-1.6 1.6-1.5 1.7-1.5 1.7-1.4 1.8-1.4"/><path d="M1128 128.5l.9 1.2 .9 1.7 .6 1.8-.1 1.7-.6 1.8-1 1.8-1.2 1.8-1.4 1.7-1.8 1.7-1.9 1.7-2 1.7-2.1 1.5"/><path d="M796.7 170l-1.7-2.2-.8-1.6 .2-1.5 1.1-1.6 1.6-1.5 1.7-1.5 1.7-1.5 1.8-1.4 1.7-1.4"/><path d="M1128.7 126.5l1 1.2 .8 1.7 .6 1.7 0 1.8-.7 1.8-1 1.8-1.2 1.8-1.5 1.7-1.8 1.8-1.9 1.6-2 1.7"/><path d="M795.9 168.4l-1.7-2.1-.8-1.7 .2-1.4 1.2-1.6 1.6-1.6 1.7-1.5 1.8-1.5 1.8-1.4"/><path d="M1129.5 124.4l.9 1.2 .9 1.8 .6 1.7-.1 1.8-.6 1.8-1.1 1.8-1.2 1.8-1.6 1.8-1.8 1.7-1.9 1.7-2.1 1.6"/><path d="M795 166.9l-1.6-2.1-.8-1.7 .2-1.5 1.3-1.5 1.6-1.6 1.8-1.5 1.8-1.5 1.9-1.4"/><path d="M1130.3 122.4l.9 1.2 .9 1.7 .5 1.8 0 1.8-.7 1.8-1.1 1.8-1.3 1.8-1.5 1.8-1.8 1.7-2 1.7-2.1 1.6"/><path d="M794.2 165.4l-1.7-2.2-.7-1.6 .2-1.5 1.3-1.6 1.7-1.6 1.8-1.5 1.9-1.5"/><path d="M1131 120.4l1 1.2 .8 1.7 .6 1.8-.1 1.8-.7 1.8-1.1 1.8-1.3 1.8-1.6 1.8-1.8 1.7-2 1.7"/><path d="M793.3 163.8l-1.6-2.1-.8-1.7 .3-1.4 1.4-1.6 1.7-1.6 1.9-1.5"/><path d="M1131.8 118.3l.9 1.2 .9 1.8 .6 1.7-.1 1.8-.7 1.9-1.1 1.8-1.4 1.8-1.6 1.8-1.9 1.7-2.1 1.7"/><path d="M792.5 162.3l-1.7-2.1-.7-1.7 .3-1.5 1.4-1.6 1.8-1.6 1.9-1.5"/><path d="M1132.6 116.3l.9 1.2 .9 1.7 .5 1.8 0 1.8-.8 1.9-1.1 1.8-1.4 1.8-1.6 1.8-2 1.8-2.1 1.7"/><path d="M791.6 160.8l-1.6-2.2-.7-1.6 .3-1.5 1.5-1.6 1.8-1.6 2-1.5"/><path d="M1133.4 114.3l.9 1.1 .9 1.8 .5 1.8-.1 1.8-.7 1.9-1.2 1.8-1.4 1.8-1.7 1.8-2 1.8-2.1 1.7"/><path d="M790.8 159.2l-1.7-2.1-.7-1.7 .4-1.5 1.5-1.6 1.9-1.6"/><path d="M1134.1 112.2l1 1.2 .9 1.8 .5 1.7-.1 1.9-.8 1.8-1.2 1.9-1.4 1.8-1.7 1.8-2 1.8-2.2 1.7"/><path d="M789.9 157.7l-1.6-2.1-.7-1.7 .4-1.5 1.5-1.6 2-1.6"/><path d="M1134.9 110.2l1 1.1 .8 1.8 .6 1.8-.1 1.9-.8 1.8-1.2 1.9-1.5 1.8-1.7 1.8-2.1 1.8-2.2 1.7"/><path d="M789 156.1l-1.6-2.1-.7-1.6 .5-1.6 1.6-1.6 2-1.6"/><path d="M1135.7 108.2l1 1.1 .8 1.8 .6 1.8-.1 1.8-.9 1.9-1.2 1.9-1.5 1.8-1.8 1.8-2 1.8"/><path d="M788.1 154.6l-1.6-2.1-.6-1.7 .5-1.5 1.6-1.6"/><path d="M1136.5 106.1l1 1.1 .8 1.8 .6 1.8-.1 1.9-.9 1.9-1.3 1.8-1.5 1.9-1.8 1.8-2.1 1.8"/><path d="M787.3 153l-1.7-2.1-.6-1.6 .5-1.5 1.7-1.7"/><path d="M1137.3 104.1l1 1.1 .8 1.8 .6 1.8-.2 1.9-.8 1.8-1.3 1.9-1.6 1.9-1.8 1.8-2.2 1.8"/><path d="M786.4 151.5l-1.6-2.1-.7-1.7 .6-1.5 1.7-1.6"/><path d="M1138.1 102l1 1.1 .9 1.8 .5 1.9-.2 1.8-.8 1.9-1.4 1.9-1.6 1.9-1.8 1.8-2.2 1.8"/><path d="M785.5 150l-1.6-2.1-.6-1.7 .6-1.5 1.7-1.7"/><path d="M1139.9 101.1l.9 1.8 .5 1.8-.2 1.9-.9 1.9-1.3 1.9-1.6 1.9-1.9 1.8-2.3 1.8"/><path d="M784.6 148.4l-1.6-2.1-.6-1.7 .6-1.5 1.8-1.6"/></g>
<g stroke="#1f77b4" stroke-opacity="0.4" stroke-width="10" fill="none" stroke-linecap="round" filter="url(#blur3)"><path d="M834.5 259l-.7-4.5-.8-4.5-.8-4.5-1-3-1-4.5-1.1-4.6-1.2-4.5-1.3-3.1-1.3-4.5-1.5-3.1-1.6-3.1-1.7-4.5-1.8-4.6-1.9-3.1-1.9-4.6-2.1-4.5-2-4.6-2.2-4.6-2.1-4.6-2.3-4.6-2.3-3.1-2.4-4.6-2.4-4.6-2.5-4.6-2.5-4.6-2.6-4.6"/><path d="M1089.1 271.1l.9-7 1-5.7 1-5.6 1.2-7.1 1.2-5.7 1.3-5.8 1.4-7.2 1.5-5.8 1.5-5.8 1.6-5.8 1.7-7.3 1.7-5.9 1.8-5.9 1.9-5.9 1.8-5.9 2-5.9 2-5.9 2-6 2-6 2.2-5.9 2.1-6 2.2-7.8 2.3-6.1 2.3-6.1 2.3-6.1 2.4-6.1"/></g>
<path d="M882,111Q891.23,104 902.5,127M884,117Q892.1,111 902,129M880.5,120.5Q889.95,113.5 901.5,132M877.5,125Q887.85,118 900.5,135M875,132Q886.02,125 899.5,138M872.5,141Q883.08,135 896,142M870.0,154Q876.08,147 883.5,155M870.6,164Q876.4,157 883.5,165M870.0,174Q876.08,167 883.5,175M870.6,184Q876.4,177 883.5,185M870.0,194Q876.08,187 883.5,195M870.6,204Q876.4,197 883.5,205" fill="none" stroke="#e8141c" stroke-width="2.3" stroke-opacity="0.88" stroke-linecap="round"/><path d="M886,140C890,133 897,128 901,130C903,137 901,146 899,155C898,170 897,185 894,198C892,206 889,210 886,208C888,200 891,188 892,172C893,160 891,152 886,150Z" fill="#e8141c" fill-opacity="0.92"/><path d="M887,147C883,156 882,172 882.5,188C883,198 884,204 886,207" fill="none" stroke="#e8141c" stroke-width="3" stroke-opacity="0.85"/><path d="M886,206Q884,214.0 870,214M886,207Q884,219.5 871,224M887,208Q885,225.0 873,234M888,209Q886,230.0 876,243M889,210Q887,234.0 880,250M890,209Q888,234.5 886,252M891,207Q889,230.5 890,246" fill="none" stroke="#e8141c" stroke-width="2" stroke-dasharray="2 1.6" stroke-opacity="0.6"/><path d="M1043.7,165.8C1044.9,165.08 1049.17,164.75 1051.7,168C1054.23,171.25 1057.1,177.35 1058.9,185.3C1060.7,193.25 1061.65,207.25 1062.5,215.7C1063.35,224.15 1063.75,227.33 1064,236C1064.25,244.67 1064.37,258.32 1064,267.7C1063.63,277.08 1062.3,285.8 1061.8,292.3C1061.3,298.8 1061.48,302.25 1061,306.7C1060.52,311.15 1059.62,317.78 1058.9,319C1058.18,320.22 1057.3,318.45 1056.7,314C1056.1,309.55 1055.9,301.93 1055.3,292.3C1054.7,282.67 1053.7,268.25 1053.1,256.2C1052.5,244.15 1052.42,230.85 1051.7,220C1050.98,209.15 1050,199.05 1048.8,191.1C1047.6,183.15 1045.35,176.52 1044.5,172.3C1043.65,168.08 1042.5,166.52 1043.7,165.8Z" fill="#e8141c" fill-opacity="0.45"/><path d="M1045,167C1050,200 1054,240 1056,270C1057,290 1058,305 1059,318" fill="none" stroke="#e8141c" stroke-width="3.4" stroke-opacity="0.9"/><path d="M1048,172C1056,190 1061,215 1062,240C1063,260 1062,280 1060,300" fill="none" stroke="#e8141c" stroke-width="3" stroke-opacity="0.9"/>
<text x="738.8" y="381.6" font-size="23.96" text-anchor="start" textLength="50.1" lengthAdjust="spacingAndGlyphs" fill="#000" stroke="#000" stroke-width="0.2">0.79</text>
<text x="810.7" y="406" font-size="23.96" text-anchor="start" textLength="50.1" lengthAdjust="spacingAndGlyphs" fill="#000" stroke="#000" stroke-width="0.2">0.80</text>
<text x="885.8" y="430.3" font-size="23.96" text-anchor="start" textLength="50.1" lengthAdjust="spacingAndGlyphs" fill="#000" stroke="#000" stroke-width="0.2">0.81</text>
<text x="962.8" y="455.7" font-size="23.96" text-anchor="start" textLength="50.1" lengthAdjust="spacingAndGlyphs" fill="#000" stroke="#000" stroke-width="0.2">0.82</text>
<text x="1053.6" y="423" font-size="23.96" text-anchor="start" textLength="50.1" lengthAdjust="spacingAndGlyphs" fill="#000" stroke="#000" stroke-width="0.2">1.30</text>
<text x="1089.4" y="386.3" font-size="23.96" text-anchor="start" textLength="50.1" lengthAdjust="spacingAndGlyphs" fill="#000" stroke="#000" stroke-width="0.2">1.35</text>
<text x="1123.1" y="351.6" font-size="23.96" text-anchor="start" textLength="50.1" lengthAdjust="spacingAndGlyphs" fill="#000" stroke="#000" stroke-width="0.2">1.40</text>
<text x="1155.3" y="318.2" font-size="23.96" text-anchor="start" textLength="50.1" lengthAdjust="spacingAndGlyphs" fill="#000" stroke="#000" stroke-width="0.2">1.45</text>
<text x="1162.2" y="125.9" font-size="23.96" text-anchor="start" textLength="78.73" lengthAdjust="spacingAndGlyphs" fill="#000" stroke="#000" stroke-width="0.2">1.5756</text>
<text x="1161.3" y="156.8" font-size="23.96" text-anchor="start" textLength="78.73" lengthAdjust="spacingAndGlyphs" fill="#000" stroke="#000" stroke-width="0.2">1.5754</text>
<text x="1160.3" y="186.8" font-size="23.96" text-anchor="start" textLength="78.73" lengthAdjust="spacingAndGlyphs" fill="#000" stroke="#000" stroke-width="0.2">1.5752</text>
<text x="1158.5" y="216.7" font-size="23.96" text-anchor="start" textLength="78.73" lengthAdjust="spacingAndGlyphs" fill="#000" stroke="#000" stroke-width="0.2">1.5750</text>
<text x="1157.2" y="246.7" font-size="23.96" text-anchor="start" textLength="78.73" lengthAdjust="spacingAndGlyphs" fill="#000" stroke="#000" stroke-width="0.2">1.5748</text>
<text x="1156" y="275.7" font-size="23.96" text-anchor="start" textLength="78.73" lengthAdjust="spacingAndGlyphs" fill="#000" stroke="#000" stroke-width="0.2">1.5746</text>
<text x="859.2" y="469" font-size="24.49" text-anchor="start" textLength="14.6" lengthAdjust="spacingAndGlyphs" fill="#000" stroke="#000" stroke-width="0.2">b</text>
<text x="1129.4" y="428.2" font-size="24.49" text-anchor="start" textLength="14.6" lengthAdjust="spacingAndGlyphs" fill="#000" stroke="#000" stroke-width="0.2">d</text>
<g transform="translate(1268.6,172) rotate(-90)"><text x="0" y="0" font-size="23.96" text-anchor="middle" textLength="55.37" lengthAdjust="spacingAndGlyphs" fill="#000" stroke="#000" stroke-width="0.2">L2nh</text></g>
</g>
<g id="p3">
<path d="M221.59,808 222.53,805.55 223.47,803.13 224.41,800.74 225.37,798.38 226.35,796.04 227.35,793.74 228.38,791.47 229.44,789.23 230.54,787.02 231.67,784.84 232.83,782.7 234.01,780.58 235.2,778.49 236.4,776.44 237.61,774.4 238.83,772.39 240.04,770.41 241.26,768.44 242.47,766.5 243.67,764.57 244.87,762.65 246.07,760.76 247.27,758.87 248.47,757.01 249.68,755.16 250.89,753.32 252.1,751.5 253.32,749.68 254.53,747.88 255.75,746.08 256.97,744.29 258.2,742.51 259.42,740.74 260.65,738.97 261.88,737.2 263.12,735.43 264.35,733.66 265.6,731.9 266.84,730.14 268.1,728.37 269.37,726.61 270.66,724.85 271.95,723.1 273.27,721.34 274.6,719.6 275.95,717.85 277.32,716.12 278.71,714.39 280.11,712.64 281.53,710.9 282.96,709.16 284.43,707.43 285.93,705.72 287.46,704.03 289.03,702.36 290.63,700.71 292.27,699.09 293.94,697.49 295.65,695.92 297.4,694.38 299.17,692.86 300.97,691.35 302.8,689.85 304.64,688.35 306.5,686.85 308.39,685.34 310.29,683.82 312.2,682.27 314.14,680.7 316.09,679.11 318.05,677.47 320.04,675.78 322.05,674.07 324.09,672.31 326.16,670.52 328.27,668.7 330.41,666.84 332.6,664.96 334.83,663.05 337.1,661.13 339.43,659.19 341.81,657.24 344.25,655.3 346.75,653.36 349.3,651.44 351.92,649.51 354.59,647.58 357.33,645.64 360.13,643.67 363,641.68 365.94,639.64 368.95,637.53 372.05,635.29 375.25,632.75 378.57,630.05 381.95,627.67 385.36,625.9 388.77,624.66 392.19,623.7 395.63,622.96 399.08,622.38 402.55,621.94 406.03,621.61 409.53,621.37 413.04,621.24 416.56,621.23 420.07,621.33 423.59,621.54 427.1,621.84 430.61,622.23 434.12,622.72 437.62,623.3 441.1,624 444.56,624.81 447.99,625.73 451.4,626.75 454.79,627.85 458.16,629.02 461.51,630.27 464.84,631.61 468.12,633.06 471.35,634.61 474.53,636.25 477.69,637.97 480.82,639.74 483.95,641.53 487.07,643.35 490.18,645.22 493.27,647.13 496.31,649.12 499.31,651.2 502.22,653.38 505.04,655.68 507.79,658.06 510.46,660.54 513.04,663.11 515.52,665.77 517.89,668.54 520.14,671.4 522.29,674.34 524.32,677.36 526.25,680.46 528.06,683.62 529.75,686.85 531.34,690.13 532.8,693.47 534.14,696.86 535.38,700.29 536.52,703.74 537.58,707.21 538.56,710.69 539.45,714.18 540.26,717.68 540.96,721.2 541.56,724.74 542.05,728.28 542.44,731.83 542.7,735.4 542.82,738.97 542.72,742.59 542.36,746.24 541.75,749.92 540.9,753.61 539.71,757.33 537.64,761.21 535.22,765.06 532.79,768.8 530.32,772.43 527.85,775.96 525.38,779.37 522.87,782.68 520.28,785.9 517.59,789.02 514.9,792.03 512.31,794.94 509.84,797.73 507.45,800.43 505.13,803.04 502.88,805.56 500.69,808 498.57,810.37 496.52,812.66 494.52,814.89 492.57,817.06 490.67,819.17 488.83,821.22 487.02,823.23 485.26,825.18 483.54,827.09 481.85,828.96 480.21,830.78 478.59,832.57 477.01,834.32 475.45,836.04 473.93,837.72 472.44,839.38 470.98,841.01 469.54,842.62 468.13,844.2 466.74,845.76 465.37,847.3 464.01,848.81 462.67,850.31 461.33,851.78 460.01,853.24 458.7,854.67 457.39,856.09 456.09,857.49 454.78,858.88 453.49,860.24 452.19,861.59 450.9,862.93 449.61,864.25 448.33,865.56 447.05,866.85 445.77,868.14 444.5,869.41 443.23,870.68 441.96,871.94 440.69,873.19 439.42,874.43 438.14,875.66 436.87,876.89 435.6,878.11 434.32,879.32 433.04,880.53 431.76,881.73 430.46,882.93 429.16,884.11 427.86,885.29 426.54,886.46 425.21,887.62 423.87,888.78 422.53,889.93 421.17,891.08 419.81,892.22 418.44,893.37 417.06,894.52 415.67,895.67 414.27,896.81 412.86,897.95 411.44,899.1 410,900.25 408.55,901.4 407.09,902.56 405.62,903.72 404.13,904.89 402.63,906.08 401.11,907.28 399.58,908.49 398.03,909.72 396.46,910.98 394.87,912.26 393.27,913.56 391.64,914.89 389.99,916.25 388.31,917.63 386.6,919.03 384.86,920.44 383.08,921.87 381.26,923.31 379.41,924.76 377.51,926.2 375.57,927.63 373.59,929.06 371.57,930.5 369.49,931.93 367.38,933.37 365.21,934.82 363,936.29 360.73,937.78 358.42,939.29 356.04,940.83 353.6,942.41 351.1,944.04 348.53,945.71 345.88,947.4 343.17,949.11 340.38,950.82 337.52,952.52 334.58,954.19 331.58,955.82 328.51,957.41 325.35,958.99 322.12,960.57 318.79,962.17 315.36,963.83 311.81,965.56 308.11,967.4 304.27,969.36 300.27,971.42 296.11,973.56 291.8,975.73 287.36,977.89 282.8,979.99 278.11,982.06 273.28,984.09 268.32,986.06 263.26,987.94 258,989.87 252.59,991.76 247.44,992.94 242.74,993.19 238.36,992.78 234.16,992 230.07,990.97 226.03,989.76 222.05,988.41 218.19,986.83 214.47,985.01 210.89,982.99 207.43,980.78 204.07,978.43 200.84,975.92 197.74,973.26 194.83,970.4 192.16,967.31 189.76,963.98 187.67,960.42 185.91,956.6 184.53,952.53 183.58,948.18 183.13,943.54 183.08,938.72 183.32,933.81 183.79,928.88 184.43,923.96 185.19,919.11 186.04,914.33 186.99,909.62 188.02,904.99 189.12,900.46 190.24,896.02 191.4,891.7 192.56,887.48 193.75,883.35 194.97,879.32 196.23,875.38 197.52,871.52 198.83,867.75 200.15,864.07 201.47,860.48 202.83,856.97 204.28,853.51 205.76,850.13 207.19,846.85 208.54,843.66 209.78,840.57 210.91,837.56 211.98,834.63 212.99,831.76 213.98,828.94 214.94,826.18 215.88,823.46 216.82,820.79 217.76,818.16 218.71,815.56 219.67,813.01 220.63,810.49Z M159.28,808 160.8,804.47 162.37,800.99 164,797.57 165.67,794.2 167.38,790.89 169.13,787.62 170.9,784.41 172.7,781.25 174.51,778.15 176.34,775.09 178.19,772.08 180.06,769.11 181.95,766.2 183.86,763.34 185.79,760.52 187.74,757.74 189.7,755.02 191.69,752.34 193.69,749.7 195.71,747.11 197.75,744.57 199.82,742.07 201.92,739.62 204.03,737.22 206.16,734.87 208.3,732.55 210.43,730.26 212.56,728.01 214.67,725.78 216.77,723.57 218.86,721.39 220.93,719.22 223,717.08 225.07,714.96 227.14,712.87 229.22,710.81 231.32,708.77 233.43,706.77 235.55,704.79 237.69,702.85 239.83,700.93 241.98,699.03 244.13,697.15 246.3,695.3 248.46,693.46 250.64,691.65 252.83,689.86 255.03,688.09 257.25,686.34 259.48,684.62 261.72,682.93 263.99,681.28 266.28,679.65 268.58,678.05 270.9,676.47 273.24,674.93 275.59,673.4 277.96,671.9 280.33,670.41 282.71,668.93 285.1,667.46 287.5,666 289.91,664.55 292.33,663.11 294.77,661.69 297.23,660.27 299.69,658.86 302.18,657.46 304.68,656.06 307.19,654.68 309.73,653.29 312.28,651.91 314.86,650.53 317.45,649.16 320.07,647.8 322.72,646.44 325.39,645.07 328.08,643.71 330.8,642.35 333.55,640.99 336.33,639.63 339.14,638.26 341.99,636.89 344.87,635.52 347.79,634.17 350.75,632.83 353.75,631.51 356.79,630.19 359.87,628.87 363,627.54 366.17,626.18 369.4,624.76 372.68,623.28 376.03,621.71 379.44,620.08 382.92,618.45 386.47,616.86 390.08,615.32 393.76,613.8 397.51,612.28 401.34,610.76 405.25,609.22 409.25,607.66 413.34,606.08 417.53,604.49 421.82,602.89 426.2,601.28 430.69,599.68 435.27,598.1 439.97,596.53 444.77,594.97 449.71,593.4 454.78,591.78 460.02,590.08 465.42,588.36 470.96,586.64 476.62,585 482.35,583.54 488.1,582.3 493.89,581.3 499.66,580.55 505.42,580.09 511.16,579.86 516.89,579.85 522.49,580.22 527.89,581.05 533.06,582.33 538.07,583.92 542.93,585.81 547.59,588.01 551.99,590.59 556,593.65 559.66,597.1 563.08,600.81 566.35,604.65 569.56,608.52 572.69,612.46 575.45,616.71 577.56,621.48 578.97,626.78 579.85,632.4 580.39,638.16 580.68,643.96 580.63,649.88 580.24,655.89 579.62,661.88 578.84,667.83 577.89,673.72 576.86,679.5 575.78,685.15 574.69,690.66 573.54,696.05 572.33,701.34 571.07,706.52 569.72,711.6 568.27,716.61 566.75,721.51 565.23,726.3 563.74,730.94 562.29,735.47 560.85,739.88 559.43,744.18 558.02,748.38 556.63,752.48 555.23,756.49 553.82,760.42 552.42,764.27 551.03,768.03 549.67,771.72 548.34,775.32 547.06,778.85 545.87,782.3 544.72,785.69 543.57,789.02 542.4,792.3 541.19,795.54 539.91,798.73 538.56,801.87 537.14,804.96 535.69,808 534.23,810.99 532.75,813.93 531.25,816.82 529.76,819.66 528.25,822.46 526.73,825.21 525.2,827.92 523.65,830.58 522.07,833.19 520.45,835.76 518.78,838.28 517.07,840.75 515.33,843.17 513.57,845.54 511.83,847.88 510.09,850.18 508.39,852.45 506.69,854.69 505,856.89 503.3,859.07 501.61,861.21 499.91,863.32 498.22,865.4 496.53,867.45 494.85,869.48 493.16,871.48 491.48,873.46 489.82,875.43 488.16,877.38 486.51,879.31 484.86,881.22 483.21,883.11 481.53,884.97 479.84,886.81 478.12,888.61 476.38,890.38 474.61,892.1 472.8,893.78 470.96,895.42 469.08,897.02 467.2,898.58 465.29,900.11 463.39,901.61 461.48,903.11 459.59,904.59 457.7,906.06 455.82,907.54 453.96,909.02 452.12,910.52 450.3,912.04 448.48,913.56 446.68,915.1 444.87,916.65 443.06,918.2 441.25,919.75 439.43,921.31 437.6,922.87 435.75,924.42 433.88,925.96 431.99,927.5 430.08,929.02 428.15,930.53 426.19,932.01 424.2,933.48 422.19,934.93 420.15,936.36 418.09,937.79 416.01,939.21 413.92,940.64 411.8,942.07 409.66,943.5 407.5,944.95 405.32,946.42 403.12,947.91 400.9,949.43 398.65,950.99 396.38,952.57 394.07,954.17 391.73,955.79 389.35,957.45 386.94,959.13 384.48,960.83 381.98,962.57 379.43,964.33 376.83,966.13 374.19,967.97 371.48,969.85 368.72,971.78 365.89,973.75 363,975.75 360.04,977.79 357,979.84 353.89,981.91 350.69,984.05 347.41,986.22 344.04,988.42 340.58,990.63 337.02,992.82 333.39,994.97 329.66,997.09 325.84,999.19 321.92,1001.29 317.89,1003.38 313.76,1005.48 309.52,1007.59 305.16,1009.71 300.69,1011.81 296.09,1013.93 291.35,1016.07 286.48,1018.25 281.44,1020.48 276.24,1022.73 270.89,1025.01 265.34,1027.34 259.6,1029.74 253.62,1032.26 247.38,1034.91 240.89,1037.65 234.19,1040.38 227.34,1042.97 220.38,1045.36 213.16,1047.79 205.47,1050.58 197.37,1053.56 189.31,1056.05 181.35,1058.01 174.28,1058.44 168.51,1056.93 163.68,1054.14 159.55,1050.46 156.22,1045.87 153.85,1040.28 152.5,1033.74 151.71,1026.8 151.05,1019.95 150.56,1013.15 150.17,1006.47 149.81,999.96 149.43,993.66 149.04,987.54 148.67,981.56 148.31,975.73 147.94,970.06 147.55,964.53 147.13,959.15 146.67,953.91 146.2,948.79 145.73,943.77 145.28,938.82 144.86,933.94 144.48,929.13 144.1,924.39 143.73,919.72 143.39,915.11 143.09,910.55 142.86,906.01 142.7,901.51 142.62,897.04 142.58,892.61 142.59,888.22 142.65,883.87 142.78,879.55 142.99,875.26 143.27,871.01 143.61,866.78 144,862.6 144.44,858.46 144.95,854.35 145.53,850.27 146.21,846.23 147,842.21 147.94,838.22 149.07,834.27 150.36,830.35 151.78,826.48 153.27,822.67 154.8,818.91 156.31,815.22 157.78,811.58Z" fill="#1f77b4" fill-opacity="0.68" fill-rule="evenodd" filter="url(#blur1)"/>
<path d="M214.11,808 214.96,805.42 215.81,802.86 216.68,800.33 217.57,797.83 218.48,795.36 219.43,792.91 220.41,790.49 221.42,788.1 222.47,785.74 223.56,783.41 224.67,781.11 225.81,778.84 226.96,776.59 228.14,774.37 229.32,772.18 230.52,770.01 231.72,767.86 232.93,765.74 234.14,763.63 235.36,761.54 236.57,759.47 237.8,757.42 239.04,755.38 240.3,753.37 241.56,751.37 242.83,749.39 244.1,747.42 245.38,745.46 246.67,743.52 247.96,741.58 249.35,739.71 250.74,737.85 252.14,736.01 253.54,734.17 254.94,732.33 256.34,730.51 257.75,728.69 259.16,726.87 260.59,725.07 262.02,723.27 263.47,721.48 264.92,719.69 266.39,717.91 267.87,716.14 269.37,714.37 270.89,712.61 272.42,710.87 273.97,709.13 275.54,707.38 277.12,705.65 278.72,703.92 280.34,702.2 282,700.5 283.68,698.83 285.4,697.18 287.15,695.55 288.93,693.95 290.75,692.37 292.59,690.82 294.46,689.29 296.42,687.88 298.39,686.48 300.38,685.09 302.38,683.7 304.39,682.32 306.42,680.93 308.47,679.52 310.52,678.1 312.58,676.66 314.66,675.2 316.76,673.7 318.86,672.16 320.99,670.58 323.14,668.98 325.31,667.34 327.51,665.67 329.75,663.97 332.02,662.24 334.33,660.49 336.68,658.71 339.07,656.92 341.51,655.11 344.01,653.31 346.55,651.51 349.15,649.71 351.79,647.62 354.49,645.55 357.25,643.48 360.09,641.4 363,639.32 365.98,637.21 369.04,635.07 372.18,632.81 375.42,630.32 378.77,627.73 382.19,625.4 385.65,623.55 389.13,622.1 392.64,620.87 396.19,619.76 399.76,618.87 403.37,618.06 407.02,617.32 410.71,616.63 414.44,616.01 418.21,615.45 422.02,614.97 425.86,614.54 429.74,614.18 433.65,613.88 437.61,613.63 441.61,613.43 445.65,613.29 449.74,613.18 453.87,613.12 458.05,613.11 462.27,613.17 466.51,613.33 470.75,613.61 475.01,614 479.16,614.68 483.27,615.53 487.35,616.51 491.41,617.63 495.41,618.91 499.33,620.36 503.17,621.99 506.94,623.76 510.65,625.67 514.26,627.73 517.74,629.99 521.04,632.48 524.16,635.18 527.14,638.02 530.02,640.98 532.83,644 535.53,647.11 538.04,650.4 540.24,653.93 542.13,657.7 543.89,661.51 545.46,665.44 546.87,669.44 548.07,673.54 549.06,677.72 549.89,681.94 550.57,686.19 551.11,690.46 551.55,694.71 551.9,698.94 552.19,703.13 552.41,707.29 552.53,711.43 552.55,715.55 552.47,719.65 552.28,723.73 551.98,727.78 551.6,731.8 551.14,735.78 550.54,739.74 549.71,743.71 548.74,747.65 547.62,751.56 546.31,755.44 544.46,759.38 542.38,763.27 540.3,767.07 538.19,770.76 536.09,774.36 533.99,777.85 531.88,781.25 529.74,784.57 527.56,787.8 525.36,790.93 523.22,793.98 521.13,796.94 519.06,799.82 517,802.62 514.96,805.35 512.94,808 510.79,810.58 508.65,813.09 506.55,815.52 504.47,817.89 502.41,820.2 500.39,822.44 498.38,824.62 496.39,826.75 494.42,828.82 492.47,830.83 490.52,832.79 488.59,834.7 486.68,836.55 484.79,838.37 482.93,840.14 481.1,841.86 479.3,843.56 477.53,845.21 475.78,846.83 474.05,848.42 472.62,850.08 471.19,851.71 469.78,853.32 468.37,854.91 466.98,856.49 465.59,858.04 464.21,859.57 462.83,861.08 461.46,862.58 460.09,864.06 458.73,865.52 457.36,866.96 456,868.39 454.63,869.81 453.27,871.2 451.9,872.59 450.52,873.95 449.14,875.3 447.76,876.63 446.37,877.95 444.97,879.26 443.57,880.55 442.18,881.83 440.78,883.11 439.38,884.38 437.97,885.64 436.57,886.89 435.16,888.15 433.76,889.4 432.34,890.64 430.93,891.88 429.5,893.12 428.07,894.35 426.63,895.58 425.19,896.81 423.73,898.04 422.27,899.27 420.8,900.5 419.32,901.72 417.82,902.95 416.31,904.17 414.78,905.38 413.24,906.6 411.68,907.82 410.11,909.03 408.52,910.25 406.92,911.47 405.3,912.71 403.67,913.95 402.02,915.21 400.32,916.39 398.61,917.6 396.88,918.83 395.14,920.09 393.38,921.37 391.59,922.68 389.78,924 387.94,925.35 386.08,926.72 384.18,928.1 382.24,929.49 380.27,930.89 378.26,932.29 376.21,933.69 374.12,935.09 371.99,936.49 369.81,937.9 367.59,939.32 365.32,940.76 363,942.21 360.63,943.64 358.21,945.09 355.74,946.56 353.21,948.07 350.61,949.63 347.95,951.22 345.22,952.83 342.42,954.44 339.55,956.05 336.61,957.64 333.61,959.21 330.54,960.73 327.4,962.21 324.18,963.68 320.89,965.15 317.51,966.64 314.03,968.17 310.44,969.77 306.72,971.46 302.85,973.27 298.76,975.35 294.52,977.49 290.13,979.67 285.6,981.85 280.94,983.97 276.15,986.07 271.21,988.16 266.13,990.19 260.93,992.13 255.55,994.11 250.01,996.05 244.69,997.33 239.76,997.78 235.08,997.65 230.57,997.12 226.17,996.33 221.89,995.26 217.76,993.89 213.83,992.21 210.08,990.25 206.46,988.08 203.03,985.66 199.79,983.02 196.71,980.2 193.77,977.23 191.02,974.08 188.51,970.72 186.25,967.15 184.26,963.37 182.59,959.38 181.26,955.17 180.33,950.72 179.86,946.01 179.74,941.14 179.88,936.22 180.23,931.28 180.72,926.37 181.32,921.53 182.01,916.75 182.78,912.05 183.63,907.43 184.52,902.9 185.45,898.46 186.4,894.13 187.37,889.9 188.36,885.76 189.38,881.7 190.44,877.72 191.53,873.82 192.64,870.01 193.77,866.27 194.9,862.62 196.07,859.04 197.33,855.51 198.61,852.05 199.86,848.67 201.04,845.39 202.13,842.19 203.13,839.08 204.08,836.02 205.07,833.01 206.05,830.06 207.03,827.15 208.02,824.29 209.02,821.47 210.02,818.7 211.04,815.96 212.06,813.27 213.09,810.62Z M171.74,808 173.25,804.69 174.8,801.43 176.38,798.22 178.01,795.06 179.67,791.96 181.36,788.91 183.07,785.91 184.8,782.96 186.56,780.05 188.33,777.2 190.12,774.4 191.93,771.64 193.75,768.93 195.59,766.26 197.45,763.64 199.32,761.06 201.2,758.53 203.09,756.04 204.99,753.59 206.9,751.18 208.82,748.82 210.76,746.49 212.72,744.21 214.7,741.97 216.68,739.77 218.66,737.6 220.64,735.47 222.61,733.35 224.57,731.27 226.52,729.2 228.38,727.12 230.25,725.05 232.1,723 233.96,720.96 235.83,718.95 237.7,716.96 239.58,714.99 241.47,713.05 243.37,711.13 245.29,709.23 247.22,707.35 249.15,705.49 251.09,703.64 253.04,701.81 255,700 256.97,698.2 258.95,696.42 260.95,694.66 262.96,692.92 264.99,691.19 267.03,689.49 269.1,687.81 271.19,686.16 273.3,684.54 275.43,682.94 277.59,681.37 279.76,679.82 281.95,678.3 284.16,676.79 286.38,675.29 288.53,673.66 290.7,672.03 292.9,670.42 295.12,668.82 297.35,667.22 299.61,665.63 301.9,664.05 304.2,662.47 306.53,660.89 308.88,659.32 311.26,657.74 313.66,656.16 316.09,654.58 318.56,653.01 321.05,651.43 323.57,649.86 326.13,648.29 328.72,646.73 331.35,645.17 334.01,643.61 336.72,642.05 339.46,640.5 342.24,638.95 345.07,637.41 347.94,635.89 350.86,634.44 353.83,633.01 356.84,631.58 359.9,630.16 363,628.72 366.15,627.25 369.36,625.74 372.63,624.16 375.97,622.48 379.38,620.75 382.86,619.04 386.4,617.4 390.01,615.84 393.67,614.33 397.42,612.82 401.23,611.34 405.12,609.85 409.09,608.36 413.15,606.85 417.31,605.33 421.55,603.8 425.89,602.28 430.33,600.78 434.87,599.29 439.5,597.82 444.24,596.36 449.1,594.89 454.1,593.39 459.25,591.82 464.55,590.23 469.99,588.65 475.53,587.14 481.14,585.81 486.78,584.7 492.43,583.81 498.09,583.18 503.71,582.81 509.33,582.68 514.93,582.76 520.41,583.19 525.69,584.07 530.76,585.38 535.68,586.98 540.45,588.87 545.03,591.07 549.35,593.62 553.31,596.64 556.93,600.03 560.32,603.67 563.56,607.44 566.74,611.25 569.83,615.12 572.57,619.3 574.69,623.98 576.13,629.16 577.07,634.65 577.68,640.27 578.05,645.95 578.09,651.73 577.79,657.6 577.28,663.46 576.6,669.28 575.77,675.05 574.84,680.71 573.87,686.25 572.88,691.66 571.83,696.96 570.73,702.16 569.56,707.25 568.32,712.26 566.96,717.19 565.54,722.03 564.1,726.75 562.69,731.34 561.31,735.82 559.88,740.21 558.46,744.49 557.04,748.68 555.61,752.77 554.13,756.79 552.61,760.72 551.1,764.57 549.58,768.34 548.08,772.02 546.61,775.62 545.19,779.14 543.82,782.59 542.48,785.96 541.13,789.28 539.77,792.53 538.37,795.74 536.91,798.89 535.38,801.98 533.8,805.02 532.19,808 530.39,810.92 528.58,813.78 526.75,816.58 524.92,819.32 523.08,822.01 521.23,824.63 519.38,827.2 517.51,829.71 515.62,832.17 513.69,834.57 511.74,836.91 509.76,839.19 507.76,841.42 505.76,843.59 503.77,845.72 501.81,847.8 499.88,849.85 497.96,851.85 496.06,853.81 494.16,855.74 492.55,857.73 490.94,859.69 489.33,861.63 487.73,863.53 486.14,865.42 484.54,867.28 482.95,869.12 481.38,870.95 479.82,872.75 478.26,874.54 476.7,876.32 475.13,878.07 473.55,879.79 471.96,881.5 470.35,883.17 468.73,884.82 467.08,886.43 465.41,888.01 463.71,889.55 461.99,891.06 460.25,892.54 458.51,893.99 456.76,895.43 455.01,896.86 453.27,898.27 451.53,899.68 449.81,901.09 448.09,902.5 446.38,903.92 444.69,905.35 443,906.79 441.31,908.23 439.62,909.68 437.93,911.13 436.23,912.58 434.52,914.04 432.81,915.49 431.08,916.94 429.33,918.39 427.56,919.83 425.78,921.26 423.97,922.67 422.14,924.07 420.29,925.46 418.41,926.83 416.52,928.2 414.6,929.57 412.67,930.93 410.71,932.3 408.74,933.67 406.78,935.14 404.79,936.63 402.79,938.14 400.75,939.67 398.7,941.23 396.62,942.83 394.5,944.45 392.35,946.09 390.16,947.75 387.94,949.44 385.67,951.16 383.36,952.89 381.01,954.66 378.6,956.44 376.15,958.26 373.64,960.1 371.07,961.98 368.44,963.91 365.76,965.87 363,967.86 360.17,969.88 357.28,971.93 354.3,974 351.24,976.13 348.1,978.31 344.87,980.52 341.54,982.74 338.13,984.95 334.63,987.14 331.03,989.29 327.34,991.43 323.56,993.56 319.67,995.68 315.68,997.81 311.57,999.95 307.34,1002.1 303,1004.26 298.52,1006.43 293.91,1008.65 289.14,1010.92 284.26,1013.12 279.22,1015.35 274.02,1017.62 268.65,1019.92 263.08,1022.28 257.29,1024.73 251.27,1027.29 245.01,1029.91 238.55,1032.52 231.94,1035 225.21,1037.32 218.3,1039.56 211.06,1041.97 203.52,1044.44 196.04,1046.45 188.66,1047.96 182.04,1048.14 176.54,1046.65 171.85,1044.05 167.79,1040.64 164.56,1036.28 162.15,1031.06 160.62,1025.03 159.57,1018.66 158.63,1012.37 157.87,1006.09 157.2,999.91 156.6,993.84 156.02,987.92 155.49,982.12 155.03,976.41 154.66,970.77 154.36,965.22 154.13,959.76 153.91,954.4 153.73,949.16 153.56,944.01 153.42,938.96 153.33,933.98 153.29,929.08 153.19,924.3 153.1,919.6 153.03,914.98 152.99,910.43 152.98,905.93 153.04,901.48 153.16,897.07 153.34,892.71 153.57,888.39 153.83,884.13 154.15,879.91 154.52,875.74 154.96,871.61 155.47,867.51 156.04,863.45 156.64,859.45 157.26,855.5 157.92,851.59 158.61,847.73 159.36,843.91 160.2,840.12 161.15,836.37 162.24,832.65 163.46,828.97 164.79,825.34 166.17,821.76 167.58,818.24 168.98,814.78 170.35,811.36Z" fill="#1f77b4" fill-opacity="0.55" fill-rule="evenodd" filter="url(#blur2)"/>
<path d="M163.5,796.6L230.5,796.6" stroke="#e60000" stroke-width="3" stroke-linecap="round"/>
<path d="M497.5,810L534.5,808.6" stroke="#e60000" stroke-width="2.6" stroke-linecap="round"/>
<path d="M120,569.5H603.3M120,634.55H603.3M120,699.6H603.3M120,764.65H603.3M120,829.7H603.3M120,894.75H603.3M120,959.8H603.3M120,1024.85H603.3M149.8,555.75V1081.3M287,555.75V1081.3M424.2,555.75V1081.3M561.4,555.75V1081.3" stroke="#b0b0b0" stroke-width="1.1" fill="none"/>
<path d="M120,569.5h-4.8M120,634.55h-4.8M120,699.6h-4.8M120,764.65h-4.8M120,829.7h-4.8M120,894.75h-4.8M120,959.8h-4.8M120,1024.85h-4.8M149.8,1081.3v4.8M287,1081.3v4.8M424.2,1081.3v4.8M561.4,1081.3v4.8" stroke="#000" stroke-width="1.1" fill="none"/>
<rect x="120" y="555.75" width="483.3" height="525.55" stroke="#2a2a2a" stroke-width="1.4" fill="none"/>
<text x="110.2" y="577.8" font-size="23.43" text-anchor="end" textLength="62.98" lengthAdjust="spacingAndGlyphs" fill="#000" stroke="#000" stroke-width="0.2">1.450</text>
<text x="110.2" y="642.85" font-size="23.43" text-anchor="end" textLength="62.98" lengthAdjust="spacingAndGlyphs" fill="#000" stroke="#000" stroke-width="0.2">1.425</text>
<text x="110.2" y="707.9" font-size="23.43" text-anchor="end" textLength="62.98" lengthAdjust="spacingAndGlyphs" fill="#000" stroke="#000" stroke-width="0.2">1.400</text>
<text x="110.2" y="772.95" font-size="23.43" text-anchor="end" textLength="62.98" lengthAdjust="spacingAndGlyphs" fill="#000" stroke="#000" stroke-width="0.2">1.375</text>
<text x="110.2" y="838" font-size="23.43" text-anchor="end" textLength="62.98" lengthAdjust="spacingAndGlyphs" fill="#000" stroke="#000" stroke-width="0.2">1.350</text>
<text x="110.2" y="903.05" font-size="23.43" text-anchor="end" textLength="62.98" lengthAdjust="spacingAndGlyphs" fill="#000" stroke="#000" stroke-width="0.2">1.325</text>
<text x="110.2" y="968.1" font-size="23.43" text-anchor="end" textLength="62.98" lengthAdjust="spacingAndGlyphs" fill="#000" stroke="#000" stroke-width="0.2">1.300</text>
<text x="110.2" y="1033.15" font-size="23.43" text-anchor="end" textLength="62.98" lengthAdjust="spacingAndGlyphs" fill="#000" stroke="#000" stroke-width="0.2">1.275</text>
<text x="149.8" y="1107.6" font-size="23.43" text-anchor="middle" textLength="48.98" lengthAdjust="spacingAndGlyphs" fill="#000" stroke="#000" stroke-width="0.2">0.79</text>
<text x="287" y="1107.6" font-size="23.43" text-anchor="middle" textLength="48.98" lengthAdjust="spacingAndGlyphs" fill="#000" stroke="#000" stroke-width="0.2">0.80</text>
<text x="424.2" y="1107.6" font-size="23.43" text-anchor="middle" textLength="48.98" lengthAdjust="spacingAndGlyphs" fill="#000" stroke="#000" stroke-width="0.2">0.81</text>
<text x="561.4" y="1107.6" font-size="23.43" text-anchor="middle" textLength="48.98" lengthAdjust="spacingAndGlyphs" fill="#000" stroke="#000" stroke-width="0.2">0.82</text>
<text x="589.6" y="1134.2" font-size="24.49" text-anchor="start" textLength="14.6" lengthAdjust="spacingAndGlyphs" fill="#000" stroke="#000" stroke-width="0.2">b</text>
<g transform="translate(38.6,565) rotate(-90)"><text x="0" y="0" font-size="24.49" text-anchor="middle" textLength="14.6" lengthAdjust="spacingAndGlyphs" fill="#000" stroke="#000" stroke-width="0.2">d</text></g>
</g>
<g id="p4">
<path d="M765.25,1010.4H1243.9M830.4,555.5V1081.3M765.25,914.6H1243.9M917.4,555.5V1081.3M765.25,818.8H1243.9M1004.4,555.5V1081.3M765.25,723H1243.9M1091.4,555.5V1081.3M765.25,627.2H1243.9M1178.4,555.5V1081.3" stroke="#b0b0b0" stroke-width="1.1" fill="none"/>
<path d="M933.9,618.5h2.4v2.4h-2.4zM921.7,622.3h2.4v2.4h-2.4zM937.7,624h2.4v2.4h-2.4zM940.4,631.6h2.4v2.4h-2.4zM913.5,633.5h2.4v2.4h-2.4zM908.4,641h2.4v2.4h-2.4zM904.8,642.5h2.4v2.4h-2.4zM940.3,640.7h2.4v2.4h-2.4zM899.2,646.1h2.4v2.4h-2.4zM942.7,648.4h2.4v2.4h-2.4zM899.7,653.9h2.4v2.4h-2.4zM947.2,657h2.4v2.4h-2.4zM899.2,662.4h2.4v2.4h-2.4zM950.7,662.8h2.4v2.4h-2.4zM952.1,667.2h2.4v2.4h-2.4zM899.7,672.1h2.4v2.4h-2.4zM954.9,673.1h2.4v2.4h-2.4zM899.7,678h2.4v2.4h-2.4zM961.7,675.4h2.4v2.4h-2.4zM965.8,678.7h2.4v2.4h-2.4zM967.8,684.6h2.4v2.4h-2.4zM899.7,688.7h2.4v2.4h-2.4zM903.3,696.6h2.4v2.4h-2.4zM967.9,693h2.4v2.4h-2.4zM967.9,699.9h2.4v2.4h-2.4zM909.2,707.6h2.4v2.4h-2.4zM967.9,705.2h2.4v2.4h-2.4zM967.9,709.4h2.4v2.4h-2.4zM914.1,712.9h2.4v2.4h-2.4zM919.1,718.7h2.4v2.4h-2.4zM967.9,717.5h2.4v2.4h-2.4zM925.9,724.1h2.4v2.4h-2.4zM931.5,727.9h2.4v2.4h-2.4zM931.5,734.6h2.4v2.4h-2.4zM939,734.9h2.4v2.4h-2.4zM945.2,737.2h2.4v2.4h-2.4zM954,740h2.4v2.4h-2.4zM959.9,737.7h2.4v2.4h-2.4zM964.3,732.4h2.4v2.4h-2.4zM967.1,725.7h2.4v2.4h-2.4zM1156.3,994.8h2.4v2.4h-2.4zM1166.4,992.3h2.4v2.4h-2.4zM1174.2,994.3h2.4v2.4h-2.4zM1174.2,996.8h2.4v2.4h-2.4zM1156.3,1002.5h2.4v2.4h-2.4zM1174.2,1002.5h2.4v2.4h-2.4zM1163.9,1006.3h2.4v2.4h-2.4zM1174.2,1007.3h2.4v2.4h-2.4zM1167.1,1011.8h2.4v2.4h-2.4zM1173.4,1013.1h2.4v2.4h-2.4zM1171.1,1017.6h2.4v2.4h-2.4zM1167.1,1022.6h2.4v2.4h-2.4zM1175.7,1022.6h2.4v2.4h-2.4zM1164.1,1026.4h2.4v2.4h-2.4zM1177.7,1029.4h2.4v2.4h-2.4zM1162.6,1032.4h2.4v2.4h-2.4zM1177.7,1037.7h2.4v2.4h-2.4zM1161.6,1040.7h2.4v2.4h-2.4zM1168.4,1043.7h2.4v2.4h-2.4zM1174.2,1043.5h2.4v2.4h-2.4zM1161.6,1047.7h2.4v2.4h-2.4zM1169.1,1049.5h2.4v2.4h-2.4zM1168.4,1053.2h2.4v2.4h-2.4z" fill="#ff0000"/>
<path d="M765.25,1010.4h-4.8M830.4,1081.3v4.8M765.25,914.6h-4.8M917.4,1081.3v4.8M765.25,818.8h-4.8M1004.4,1081.3v4.8M765.25,723h-4.8M1091.4,1081.3v4.8M765.25,627.2h-4.8M1178.4,1081.3v4.8" stroke="#000" stroke-width="1.1" fill="none"/>
<rect x="765.25" y="555.5" width="478.65" height="525.8" stroke="#2a2a2a" stroke-width="1.4" fill="none"/>
<text x="755.5" y="1018.7" font-size="23.43" text-anchor="end" textLength="67.42" lengthAdjust="spacingAndGlyphs" fill="#000" stroke="#000" stroke-width="0.2">−0.04</text>
<text x="830.4" y="1107.6" font-size="23.43" text-anchor="middle" textLength="67.42" lengthAdjust="spacingAndGlyphs" fill="#000" stroke="#000" stroke-width="0.2">−0.04</text>
<text x="755.5" y="922.9" font-size="23.43" text-anchor="end" textLength="67.42" lengthAdjust="spacingAndGlyphs" fill="#000" stroke="#000" stroke-width="0.2">−0.02</text>
<text x="917.4" y="1107.6" font-size="23.43" text-anchor="middle" textLength="67.42" lengthAdjust="spacingAndGlyphs" fill="#000" stroke="#000" stroke-width="0.2">−0.02</text>
<text x="755.5" y="827.1" font-size="23.43" text-anchor="end" textLength="48.98" lengthAdjust="spacingAndGlyphs" fill="#000" stroke="#000" stroke-width="0.2">0.00</text>
<text x="1004.4" y="1107.6" font-size="23.43" text-anchor="middle" textLength="48.98" lengthAdjust="spacingAndGlyphs" fill="#000" stroke="#000" stroke-width="0.2">0.00</text>
<text x="755.5" y="731.3" font-size="23.43" text-anchor="end" textLength="48.98" lengthAdjust="spacingAndGlyphs" fill="#000" stroke="#000" stroke-width="0.2">0.02</text>
<text x="1091.4" y="1107.6" font-size="23.43" text-anchor="middle" textLength="48.98" lengthAdjust="spacingAndGlyphs" fill="#000" stroke="#000" stroke-width="0.2">0.02</text>
<text x="755.5" y="635.5" font-size="23.43" text-anchor="end" textLength="48.98" lengthAdjust="spacingAndGlyphs" fill="#000" stroke="#000" stroke-width="0.2">0.04</text>
<text x="1178.4" y="1107.6" font-size="23.43" text-anchor="middle" textLength="48.98" lengthAdjust="spacingAndGlyphs" fill="#000" stroke="#000" stroke-width="0.2">0.04</text>
<text x="1211.2" y="1157.2" font-size="28.75" text-anchor="start" textLength="14.84" lengthAdjust="spacingAndGlyphs" fill="#000" stroke="#000" stroke-width="0.2">c</text>
<text x="659.2" y="631" font-size="28.75" text-anchor="start" textLength="22.27" lengthAdjust="spacingAndGlyphs" fill="#000" stroke="#000" stroke-width="0.2">c'</text>
</g>
</g>
</svg>
</body></html>
